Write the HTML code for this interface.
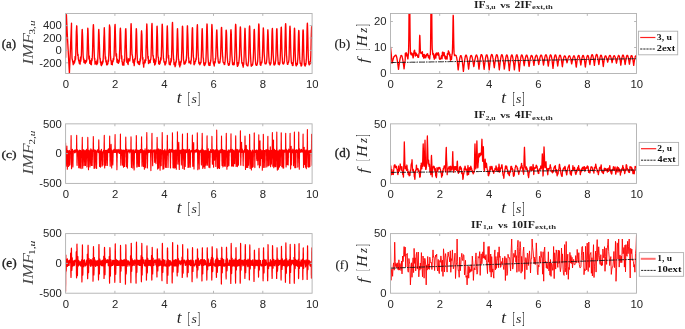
<!DOCTYPE html>
<html><head><meta charset="utf-8"><style>
html,body{margin:0;padding:0;background:#fff;}
svg{display:block;}
.tk{font-family:"Liberation Sans",sans-serif;font-size:11.3px;fill:#262626;}
</style></head><body>
<svg style="will-change:transform;filter:blur(0.4px)" width="685" height="329" viewBox="0 0 685 329">
<defs><clipPath id="c00"><rect x="65.6" y="13.5" width="246.50" height="60.00"/></clipPath><clipPath id="c01"><rect x="65.6" y="123.85" width="246.50" height="59.55"/></clipPath><clipPath id="c02"><rect x="65.6" y="233.6" width="246.50" height="59.60"/></clipPath><clipPath id="c10"><rect x="390.5" y="13.5" width="246.00" height="60.00"/></clipPath><clipPath id="c11"><rect x="390.5" y="123.85" width="246.00" height="59.55"/></clipPath><clipPath id="c12"><rect x="390.5" y="233.6" width="246.00" height="59.60"/></clipPath></defs>
<rect width="685" height="329" fill="#fff"/>
<g clip-path="url(#c00)"><polyline points="65.6,57.8 65.7,51.8 65.8,45.7 65.9,39.7 66.0,33.6 66.1,27.6 66.2,21.5 66.3,15.5 66.4,14.6 66.5,16.8 66.6,19.0 66.7,21.2 66.8,23.4 66.9,25.6 67.0,27.8 67.1,30.0 67.2,32.2 67.3,34.4 67.4,36.3 67.5,38.2 67.6,40.0 67.7,41.9 67.8,43.7 67.9,45.5 68.0,47.4 68.1,49.2 68.2,51.1 68.3,52.9 68.4,54.7 68.5,56.6 68.6,58.4 68.7,60.3 68.8,62.1 68.9,63.9 69.0,65.8 69.1,67.6 69.2,69.5 69.3,71.3 69.4,73.1 69.5,71.2 69.6,68.8 69.7,66.4 69.8,64.0 69.9,61.6 70.0,59.2 70.1,56.8 70.2,54.4 70.3,52.0 70.4,49.6 70.5,47.2 70.6,44.8 70.7,42.4 70.8,40.0 70.9,37.6 71.0,35.2 71.1,32.8 71.2,30.4 71.3,28.0 71.4,25.6 71.5,23.2 71.6,39.5 71.7,44.7 71.8,48.4 71.9,52.9 72.0,57.3 72.1,58.9 72.2,59.0 72.3,59.3 72.4,60.0 72.5,60.4 72.6,61.1 72.7,61.8 72.8,62.0 72.9,62.6 73.0,63.0 73.1,63.5 73.2,64.7 73.3,64.1 73.4,62.4 73.5,62.8 73.6,63.6 73.7,63.7 73.8,63.8 73.9,61.4 74.0,61.5 74.1,61.9 74.2,61.8 74.3,60.8 74.4,61.7 74.5,62.9 74.6,62.2 74.7,61.4 74.8,61.5 74.9,61.3 75.0,58.4 75.1,56.5 75.2,58.7 75.3,59.9 75.4,59.4 75.5,59.4 75.6,59.3 75.7,56.9 75.8,52.8 75.9,48.7 76.0,44.9 76.1,41.9 76.2,36.8 76.3,31.8 76.4,30.5 76.5,29.3 76.6,27.0 76.7,25.8 76.8,26.1 76.9,28.7 77.0,32.3 77.1,34.3 77.2,36.2 77.3,42.2 77.4,49.2 77.5,52.4 77.6,54.1 77.7,55.5 77.8,55.6 77.9,54.6 78.0,54.2 78.1,55.3 78.2,57.2 78.3,59.0 78.4,59.4 78.5,59.3 78.6,60.1 78.7,60.6 78.8,60.0 78.9,60.4 79.0,61.4 79.1,62.1 79.2,62.3 79.3,63.2 79.4,63.5 79.5,62.0 79.6,61.0 79.7,61.4 79.8,60.9 79.9,60.9 80.0,62.5 80.1,64.1 80.2,63.0 80.3,60.6 80.4,58.8 80.5,57.2 80.6,57.5 80.7,59.9 80.8,61.2 80.9,60.2 81.0,59.1 81.1,58.3 81.2,57.3 81.3,56.3 81.4,54.3 81.5,50.7 81.6,46.8 81.7,42.8 81.8,39.0 81.9,35.9 82.0,33.1 82.1,30.9 82.2,29.5 82.3,30.0 82.4,32.3 82.5,34.0 82.6,35.7 82.7,39.2 82.8,43.0 82.9,47.1 83.0,51.7 83.1,54.7 83.2,56.3 83.3,57.1 83.4,58.2 83.5,59.4 83.6,59.5 83.7,58.6 83.8,59.7 83.9,62.2 84.0,62.5 84.1,61.9 84.2,62.0 84.3,62.0 84.4,61.1 84.5,60.2 84.6,60.7 84.7,61.2 84.8,61.7 84.9,62.2 85.0,61.9 85.1,63.1 85.2,63.6 85.3,63.3 85.4,62.7 85.5,62.2 85.6,62.7 85.7,62.6 85.8,61.2 85.9,60.5 86.0,60.4 86.2,60.7 86.3,61.3 86.4,61.8 86.5,61.3 86.6,60.3 86.7,60.4 86.8,60.2 86.9,58.3 87.0,55.7 87.1,52.4 87.2,49.4 87.3,45.7 87.4,40.6 87.5,37.2 87.6,34.5 87.7,30.1 87.8,28.1 87.9,29.1 88.0,29.9 88.1,32.7 88.2,36.5 88.3,40.2 88.4,43.9 88.5,46.2 88.6,49.9 88.7,54.3 88.8,57.4 88.9,59.0 89.0,57.7 89.1,55.8 89.2,55.9 89.3,56.4 89.4,57.2 89.5,58.6 89.6,60.4 89.7,62.7 89.8,63.4 89.9,62.9 90.0,63.0 90.1,62.7 90.2,61.2 90.3,60.6 90.4,61.9 90.5,62.6 90.6,63.2 90.7,64.2 90.8,64.1 90.9,62.6 91.0,60.7 91.1,61.0 91.2,62.4 91.3,64.0 91.4,64.7 91.5,62.1 91.6,60.0 91.7,59.7 91.8,58.5 91.9,58.9 92.0,60.7 92.1,59.6 92.2,58.0 92.3,57.4 92.4,55.5 92.5,53.0 92.6,50.3 92.7,45.3 92.8,40.2 92.9,36.3 93.0,31.6 93.1,29.0 93.2,27.5 93.3,25.4 93.4,24.6 93.5,25.7 93.6,28.0 93.7,31.1 93.8,35.4 93.9,40.3 94.0,45.0 94.1,48.8 94.2,51.4 94.3,54.9 94.4,58.3 94.5,59.3 94.6,58.1 94.7,58.1 94.8,59.6 94.9,61.3 95.0,63.1 95.1,64.2 95.2,63.7 95.3,62.6 95.4,62.7 95.5,63.0 95.6,62.1 95.7,61.6 95.8,61.8 95.9,61.9 96.0,62.6 96.1,63.5 96.2,63.1 96.3,62.9 96.4,63.3 96.5,63.6 96.6,63.1 96.7,63.6 96.8,64.6 96.9,64.4 97.0,62.7 97.1,60.7 97.2,59.9 97.3,60.9 97.4,62.9 97.5,63.4 97.6,62.7 97.7,61.2 97.8,58.4 97.9,56.3 98.0,54.0 98.1,51.0 98.2,48.3 98.3,45.0 98.4,40.4 98.5,35.7 98.6,32.2 98.7,29.8 98.8,29.4 98.9,31.4 99.0,32.9 99.1,35.1 99.2,39.1 99.3,42.1 99.4,44.3 99.5,47.3 99.6,51.3 99.7,55.3 99.8,57.6 99.9,58.5 100.0,59.2 100.1,58.6 100.2,58.4 100.3,60.5 100.4,62.5 100.5,62.8 100.6,62.5 100.7,62.6 100.8,62.8 100.9,63.6 101.0,65.0 101.1,64.9 101.2,64.1 101.3,64.8 101.4,65.6 101.5,65.6 101.6,64.7 101.7,64.2 101.8,64.1 101.9,62.7 102.0,61.6 102.1,62.0 102.2,62.0 102.3,62.8 102.4,64.0 102.5,63.6 102.6,62.2 102.7,61.0 102.8,60.7 102.9,60.1 103.0,61.1 103.1,62.0 103.2,59.0 103.3,56.2 103.4,54.7 103.5,52.3 103.6,49.5 103.7,45.9 103.8,41.7 103.9,37.9 104.0,36.1 104.1,34.2 104.2,29.6 104.3,27.7 104.4,29.9 104.5,32.5 104.6,35.8 104.7,39.7 104.8,42.6 104.9,46.5 105.0,51.5 105.1,54.4 105.2,57.0 105.3,58.9 105.4,57.2 105.5,56.6 105.6,57.7 105.7,58.2 105.8,60.1 105.9,61.6 106.0,61.5 106.1,62.1 106.2,62.1 106.3,61.1 106.4,60.9 106.5,62.4 106.6,64.8 106.7,64.7 106.8,63.3 106.9,63.5 107.0,64.4 107.1,64.6 107.2,64.9 107.3,64.2 107.4,63.2 107.5,63.9 107.6,64.3 107.7,63.3 107.8,63.1 107.9,63.7 108.0,62.6 108.1,60.7 108.2,59.9 108.3,60.5 108.4,61.5 108.5,61.1 108.6,59.5 108.7,57.1 108.8,54.6 108.9,51.4 109.0,46.7 109.1,40.5 109.2,35.1 109.3,31.8 109.4,27.8 109.5,25.0 109.6,25.8 109.7,26.6 109.8,26.7 109.9,26.9 110.0,28.7 110.1,33.5 110.2,39.1 110.3,45.8 110.4,52.8 110.5,56.0 110.6,56.3 110.7,58.4 110.8,60.2 110.9,60.4 111.0,60.9 111.1,60.2 111.2,60.7 111.3,63.5 111.4,64.4 111.5,63.8 111.6,63.9 111.7,63.9 111.8,64.0 111.9,63.4 112.0,63.4 112.1,64.4 112.2,64.6 112.3,64.7 112.4,62.9 112.5,62.4 112.6,61.3 112.7,61.3 112.8,61.2 112.9,60.3 113.0,61.1 113.1,61.6 113.2,59.5 113.3,58.4 113.4,59.4 113.5,59.7 113.6,59.4 113.7,59.8 113.8,59.1 113.9,57.1 114.0,56.1 114.1,54.7 114.2,52.1 114.3,48.7 114.4,44.2 114.5,40.2 114.6,36.9 114.7,32.0 114.8,27.3 114.9,25.9 115.0,25.1 115.1,24.4 115.2,27.1 115.3,30.7 115.4,33.7 115.5,38.2 115.6,42.4 115.7,45.8 115.8,49.9 115.9,53.7 116.0,56.0 116.1,56.0 116.2,54.7 116.3,54.3 116.4,53.7 116.5,54.1 116.6,56.9 116.7,58.2 116.8,59.0 116.9,61.2 117.0,62.3 117.1,61.1 117.2,59.9 117.3,59.9 117.4,60.1 117.5,59.4 117.6,59.8 117.7,60.8 117.8,61.4 117.9,61.7 118.0,62.9 118.1,62.0 118.2,60.3 118.3,61.4 118.4,63.4 118.5,63.0 118.6,62.3 118.7,62.2 118.8,62.5 118.9,62.1 119.0,61.2 119.1,61.5 119.2,61.4 119.3,60.3 119.4,58.2 119.5,54.8 119.6,52.0 119.7,49.7 119.8,46.3 119.9,41.1 120.0,35.9 120.1,32.4 120.2,30.1 120.3,28.7 120.4,28.1 120.5,29.3 120.6,31.4 120.7,33.3 120.8,37.5 120.9,41.6 121.0,44.5 121.1,48.6 121.2,52.9 121.3,56.7 121.4,58.6 121.5,57.3 121.6,55.8 121.7,55.7 121.8,56.6 121.9,59.6 122.0,61.7 122.1,61.7 122.2,61.6 122.3,62.0 122.4,63.1 122.5,64.4 122.6,65.0 122.7,64.7 122.8,64.4 122.9,63.9 123.0,63.0 123.1,64.7 123.2,64.3 123.3,62.4 123.4,63.5 123.5,64.3 123.6,62.3 123.7,62.2 123.8,64.4 123.9,65.2 124.0,63.0 124.1,59.8 124.2,59.1 124.3,60.0 124.4,60.1 124.5,60.5 124.6,61.2 124.7,60.4 124.8,57.0 124.9,51.4 125.0,46.9 125.1,44.2 125.2,40.8 125.3,37.4 125.4,34.5 125.5,31.1 125.6,29.3 125.7,28.9 125.8,28.7 125.9,29.6 126.0,31.6 126.1,35.1 126.2,40.3 126.3,45.3 126.4,49.0 126.5,52.1 126.6,55.3 126.7,59.6 126.8,62.3 126.9,60.2 127.0,57.7 127.1,58.9 127.3,60.9 127.4,61.5 127.5,62.0 127.6,62.8 127.7,63.5 127.8,63.4 127.9,63.4 128.0,64.3 128.1,64.6 128.2,63.3 128.3,62.1 128.4,62.1 128.5,60.5 128.6,59.6 128.7,58.8 128.8,59.6 128.9,59.5 129.0,59.2 129.1,60.4 129.2,60.7 129.3,59.6 129.4,59.1 129.5,59.8 129.6,60.3 129.7,60.9 129.8,60.9 129.9,59.4 130.0,59.1 130.1,58.7 130.2,56.3 130.3,53.7 130.4,49.7 130.5,44.8 130.6,39.9 130.7,35.4 130.8,32.1 130.9,28.5 131.0,25.0 131.1,23.6 131.2,24.7 131.3,27.7 131.4,31.3 131.5,34.8 131.6,38.9 131.7,43.8 131.8,47.9 131.9,51.4 132.0,54.4 132.1,55.3 132.2,55.1 132.3,55.7 132.4,55.9 132.5,56.2 132.6,57.8 132.7,59.3 132.8,60.0 132.9,60.9 133.0,62.3 133.1,62.6 133.2,62.4 133.3,62.3 133.4,62.8 133.5,62.8 133.6,61.3 133.7,59.9 133.8,61.8 133.9,61.9 134.0,62.1 134.1,64.3 134.2,65.6 134.3,64.6 134.4,63.0 134.5,61.1 134.6,61.0 134.7,61.5 134.8,59.5 134.9,58.5 135.0,59.8 135.1,59.7 135.2,58.6 135.3,58.9 135.4,58.4 135.5,56.3 135.6,53.4 135.7,49.0 135.8,44.4 135.9,40.0 136.0,36.3 136.1,33.0 136.2,29.9 136.3,28.6 136.4,29.0 136.5,30.7 136.6,33.0 136.7,36.2 136.8,40.2 136.9,45.4 137.0,50.8 137.1,53.8 137.2,55.2 137.3,57.5 137.4,61.0 137.5,62.6 137.6,61.6 137.7,61.1 137.8,62.1 137.9,62.7 138.0,61.9 138.1,61.4 138.2,62.4 138.3,63.6 138.4,63.5 138.5,63.9 138.6,64.1 138.7,62.9 138.8,62.8 138.9,62.9 139.0,62.1 139.1,61.8 139.2,61.8 139.3,61.7 139.4,62.9 139.5,64.5 139.6,64.0 139.7,63.1 139.8,63.5 139.9,62.9 140.0,60.8 140.1,58.9 140.2,58.7 140.3,60.2 140.4,60.9 140.5,59.8 140.6,58.4 140.7,56.3 140.8,52.8 140.9,50.0 141.0,46.6 141.1,41.9 141.2,37.8 141.3,35.0 141.4,33.0 141.5,31.2 141.6,30.8 141.7,32.5 141.8,33.6 141.9,34.5 142.0,38.4 142.1,42.8 142.2,46.6 142.3,50.9 142.4,55.0 142.5,58.2 142.6,59.2 142.7,58.5 142.8,57.3 142.9,57.8 143.0,60.9 143.1,63.7 143.2,63.9 143.3,62.8 143.4,62.6 143.5,63.9 143.6,66.4 143.7,67.1 143.8,65.5 143.9,64.4 144.0,64.1 144.1,63.6 144.2,62.4 144.3,63.4 144.4,63.1 144.5,62.1 144.6,61.8 144.7,60.9 144.8,60.0 144.9,61.0 145.0,62.3 145.1,62.8 145.2,62.2 145.3,61.0 145.4,60.7 145.5,60.6 145.6,59.9 145.7,59.7 145.8,60.5 145.9,57.7 146.0,50.8 146.1,46.3 146.2,44.2 146.3,41.3 146.4,35.9 146.5,31.1 146.6,29.4 146.7,26.5 146.8,24.0 146.9,24.7 147.0,27.2 147.1,30.0 147.2,33.9 147.3,40.6 147.4,46.2 147.5,48.6 147.6,51.1 147.7,54.2 147.8,56.4 147.9,58.3 148.0,58.4 148.1,56.6 148.2,56.3 148.3,58.5 148.4,61.5 148.5,63.5 148.6,63.5 148.7,62.3 148.8,61.2 148.9,61.8 149.0,62.9 149.1,62.3 149.2,61.7 149.3,61.8 149.4,61.0 149.5,60.9 149.6,60.5 149.7,60.5 149.8,61.0 149.9,61.3 150.0,61.0 150.1,61.8 150.2,62.6 150.3,61.3 150.4,60.0 150.5,59.4 150.6,59.7 150.7,59.8 150.8,59.0 150.9,58.1 151.0,57.4 151.1,54.7 151.2,50.4 151.3,47.5 151.4,43.3 151.5,37.5 151.6,33.0 151.7,29.1 151.8,25.9 151.9,24.2 152.0,23.5 152.1,24.6 152.2,29.0 152.3,33.4 152.4,37.7 152.5,42.1 152.6,45.2 152.7,48.7 152.8,53.3 152.9,56.1 153.0,56.4 153.1,55.9 153.2,55.5 153.3,56.6 153.4,58.9 153.5,60.3 153.6,60.8 153.7,61.6 153.8,62.3 153.9,61.7 154.0,61.3 154.1,61.5 154.2,60.7 154.3,59.4 154.4,59.2 154.5,60.1 154.6,64.3 154.7,65.0 154.8,64.3 154.9,63.8 155.0,64.0 155.1,63.6 155.2,62.8 155.3,63.3 155.4,64.0 155.5,63.0 155.6,61.2 155.7,60.7 155.8,61.8 155.9,61.7 156.0,60.4 156.1,59.6 156.2,58.4 156.3,55.2 156.4,50.5 156.5,45.5 156.6,40.9 156.7,37.6 156.8,33.7 156.9,28.9 157.0,26.5 157.1,26.1 157.2,27.5 157.3,30.5 157.4,33.5 157.5,36.4 157.6,40.4 157.7,46.9 157.8,53.2 157.9,55.5 158.0,56.2 158.1,57.3 158.2,57.6 158.3,57.1 158.4,57.7 158.5,59.3 158.6,61.8 158.7,63.8 158.8,63.3 158.9,63.1 159.0,63.7 159.1,63.3 159.2,63.4 159.3,64.1 159.4,64.2 159.5,64.0 159.6,63.9 159.7,61.4 159.8,62.0 159.9,63.0 160.0,63.2 160.1,63.2 160.2,62.3 160.3,61.2 160.4,61.1 160.5,61.0 160.6,59.3 160.7,57.7 160.8,57.8 160.9,58.7 161.0,60.1 161.1,59.7 161.2,57.8 161.3,55.8 161.4,52.2 161.5,48.5 161.6,45.3 161.7,40.7 161.8,36.6 161.9,33.1 162.0,29.1 162.1,25.7 162.2,24.1 162.3,24.5 162.4,26.1 162.5,29.0 162.6,32.4 162.7,37.1 162.8,42.1 162.9,46.2 163.0,49.5 163.1,51.8 163.2,54.0 163.3,56.4 163.4,58.2 163.5,59.0 163.6,58.5 163.7,58.7 163.8,60.0 163.9,61.2 164.0,62.0 164.1,62.3 164.2,61.9 164.3,62.0 164.4,62.5 164.5,62.3 164.6,62.5 164.7,62.5 164.8,64.2 164.9,64.4 165.0,65.0 165.1,64.9 165.2,64.6 165.3,63.4 165.4,62.0 165.5,63.0 165.6,64.0 165.7,63.4 165.8,63.3 165.9,63.2 166.0,62.0 166.1,61.6 166.2,61.7 166.3,60.2 166.4,57.8 166.5,54.1 166.6,49.5 166.7,45.0 166.8,40.9 166.9,36.7 167.0,32.3 167.1,29.2 167.2,26.8 167.3,25.9 167.4,27.7 167.5,30.3 167.6,33.1 167.7,37.7 167.8,42.9 167.9,46.7 168.0,49.8 168.1,54.4 168.2,58.0 168.4,57.3 168.5,55.2 168.6,55.4 168.7,57.6 168.8,59.7 168.9,60.8 169.0,61.9 169.1,63.4 169.2,64.1 169.3,63.1 169.4,63.3 169.5,64.5 169.6,64.3 169.7,63.5 169.8,63.2 169.9,62.8 170.0,62.8 170.1,63.1 170.2,64.3 170.3,64.8 170.4,63.3 170.5,61.7 170.6,61.7 170.7,62.9 170.8,62.5 170.9,59.9 171.0,58.4 171.1,58.9 171.2,60.4 171.3,61.1 171.4,60.2 171.5,58.4 171.6,55.5 171.7,51.6 171.8,48.2 171.9,44.3 172.0,38.4 172.1,32.3 172.2,28.2 172.3,25.3 172.4,23.0 172.5,22.4 172.6,24.3 172.7,28.2 172.8,32.3 172.9,37.2 173.0,43.1 173.1,48.1 173.2,51.9 173.3,54.5 173.4,55.9 173.5,58.0 173.6,59.5 173.7,59.1 173.8,59.6 173.9,62.1 174.0,64.0 174.1,64.5 174.2,64.3 174.3,63.6 174.4,63.7 174.5,64.7 174.6,63.9 174.7,62.9 174.8,63.8 174.9,64.7 175.0,66.0 175.1,66.7 175.2,64.9 175.3,63.5 175.4,64.9 175.5,65.8 175.6,64.7 175.7,63.6 175.8,62.6 175.9,61.8 176.0,61.3 176.1,61.5 176.2,62.2 176.3,61.5 176.4,60.1 176.5,58.2 176.6,56.0 176.7,54.0 176.8,51.0 176.9,47.9 177.0,44.0 177.1,38.6 177.2,34.4 177.3,31.7 177.4,29.3 177.5,28.6 177.6,30.0 177.7,33.4 177.8,36.9 177.9,39.3 178.0,43.0 178.1,48.0 178.2,52.4 178.3,55.7 178.4,58.1 178.5,60.0 178.6,60.1 178.7,59.2 178.8,60.4 178.9,62.3 179.0,63.3 179.1,64.5 179.2,64.9 179.3,63.7 179.4,63.0 179.5,63.0 179.6,63.3 179.7,65.7 179.8,66.9 179.9,64.8 180.0,61.9 180.1,62.3 180.2,63.5 180.3,63.6 180.4,64.0 180.5,65.0 180.6,64.9 180.7,63.6 180.8,62.6 180.9,62.2 181.0,61.4 181.1,61.9 181.2,62.1 181.3,60.6 181.4,59.9 181.5,57.6 181.6,54.5 181.7,52.8 181.8,49.4 181.9,44.0 182.0,39.8 182.1,36.8 182.2,33.0 182.3,29.0 182.4,26.4 182.5,26.1 182.6,26.5 182.7,27.9 182.8,31.1 182.9,35.4 183.0,41.1 183.1,46.7 183.2,50.1 183.3,53.4 183.4,57.1 183.5,59.7 183.6,60.7 183.7,60.5 183.8,60.9 183.9,62.7 184.0,64.0 184.1,63.8 184.2,63.3 184.3,63.6 184.4,63.3 184.5,62.7 184.6,63.1 184.7,63.6 184.8,64.0 184.9,63.7 185.0,61.9 185.1,62.2 185.2,62.9 185.3,63.3 185.4,63.0 185.5,62.3 185.6,61.3 185.7,61.5 185.8,62.1 185.9,61.1 186.0,59.8 186.1,59.5 186.2,60.4 186.3,60.5 186.4,58.1 186.5,56.3 186.6,55.4 186.7,52.7 186.8,48.3 186.9,43.8 187.0,38.7 187.1,33.4 187.2,29.6 187.3,27.6 187.4,25.8 187.5,26.0 187.6,29.1 187.7,32.2 187.8,34.4 187.9,37.0 188.0,40.5 188.1,44.9 188.2,49.2 188.3,53.0 188.4,56.5 188.5,58.1 188.6,57.9 188.7,57.7 188.8,60.2 188.9,62.8 189.0,62.3 189.1,62.1 189.2,62.2 189.3,62.3 189.4,62.1 189.5,61.7 189.6,62.3 189.7,62.4 189.8,61.5 189.9,61.5 190.0,62.6 190.1,62.7 190.2,62.5 190.3,61.8 190.4,62.0 190.5,62.5 190.6,62.9 190.7,63.9 190.8,63.7 190.9,62.1 191.0,60.6 191.1,59.9 191.2,60.4 191.3,60.3 191.4,57.9 191.5,54.7 191.6,51.6 191.7,48.9 191.8,45.4 191.9,40.6 192.0,36.5 192.1,33.4 192.2,30.8 192.3,28.7 192.4,27.8 192.5,27.7 192.6,28.8 192.7,33.0 192.8,38.6 192.9,43.5 193.0,47.0 193.1,49.9 193.2,53.1 193.3,55.9 193.4,57.3 193.5,57.6 193.6,57.6 193.7,58.5 193.8,60.7 193.9,62.9 194.0,64.6 194.1,64.9 194.2,64.5 194.3,64.1 194.4,63.0 194.5,62.5 194.6,63.2 194.7,63.8 194.8,63.6 194.9,62.3 195.0,62.2 195.1,61.8 195.2,61.5 195.3,61.4 195.4,61.4 195.5,61.7 195.6,61.1 195.7,60.0 195.8,59.4 195.9,58.7 196.0,58.9 196.1,59.7 196.2,59.5 196.3,58.0 196.4,55.4 196.5,52.4 196.6,48.2 196.7,43.3 196.8,38.9 196.9,34.6 197.0,30.8 197.1,28.2 197.2,26.8 197.3,25.4 197.4,24.7 197.5,27.0 197.6,30.9 197.7,35.0 197.8,39.7 197.9,45.1 198.0,49.3 198.1,51.7 198.2,54.1 198.3,56.4 198.4,57.4 198.5,57.9 198.6,59.3 198.7,61.6 198.8,62.8 198.9,63.1 199.0,63.6 199.1,63.6 199.2,63.3 199.3,63.0 199.4,62.5 199.5,62.4 199.6,62.7 199.7,63.1 199.8,64.8 199.9,63.9 200.0,63.9 200.1,64.2 200.2,64.0 200.3,63.8 200.4,63.4 200.5,63.0 200.6,63.3 200.7,62.8 200.8,62.1 200.9,62.5 201.0,62.4 201.1,60.6 201.2,58.6 201.3,56.4 201.4,53.3 201.5,50.0 201.6,46.1 201.7,42.0 201.8,38.4 201.9,34.8 202.0,32.0 202.1,29.8 202.2,28.6 202.3,29.9 202.4,32.2 202.5,35.0 202.6,39.1 202.7,43.6 202.8,47.2 202.9,50.2 203.0,53.5 203.1,56.7 203.2,58.2 203.3,58.0 203.4,58.4 203.5,60.1 203.6,61.8 203.7,63.0 203.8,64.1 203.9,63.7 204.0,63.9 204.1,65.3 204.2,64.6 204.3,63.0 204.4,63.6 204.5,65.2 204.6,65.6 204.7,65.3 204.8,65.3 204.9,64.2 205.0,63.0 205.1,63.4 205.2,64.2 205.3,64.1 205.4,63.3 205.5,63.3 205.6,63.1 205.7,62.4 205.8,62.4 205.9,61.5 206.0,58.6 206.1,55.8 206.2,53.4 206.3,49.6 206.4,44.6 206.5,39.8 206.6,35.1 206.7,30.9 206.8,27.8 206.9,25.2 207.0,24.0 207.1,24.2 207.2,26.3 207.3,30.6 207.4,34.1 207.5,37.1 207.6,42.0 207.7,47.3 207.8,50.9 207.9,54.1 208.0,57.1 208.1,58.7 208.2,59.9 208.3,61.3 208.4,62.1 208.5,63.0 208.6,64.3 208.7,64.4 208.8,64.2 208.9,65.2 209.0,65.3 209.1,64.2 209.2,64.0 209.3,64.1 209.5,64.4 209.6,63.9 209.7,63.0 209.8,64.1 209.9,65.3 210.0,65.5 210.1,64.5 210.2,63.4 210.3,63.4 210.4,63.2 210.5,61.7 210.6,60.1 210.7,60.6 210.8,61.3 210.9,59.8 211.0,57.5 211.1,54.4 211.2,50.7 211.3,46.5 211.4,42.1 211.5,38.3 211.6,33.7 211.7,28.8 211.8,25.7 211.9,24.5 212.0,25.1 212.1,27.4 212.2,29.2 212.3,31.6 212.4,36.4 212.5,41.9 212.6,46.9 212.7,51.0 212.8,54.3 212.9,57.1 213.0,59.1 213.1,60.7 213.2,61.8 213.3,62.6 213.4,63.3 213.5,63.5 213.6,63.2 213.7,63.6 213.8,64.4 213.9,64.4 214.0,64.3 214.1,65.2 214.2,66.0 214.3,65.3 214.4,62.4 214.5,62.3 214.6,61.7 214.7,62.2 214.8,63.2 214.9,62.2 215.0,61.4 215.1,62.4 215.2,62.5 215.3,60.3 215.4,58.4 215.5,58.5 215.6,59.1 215.7,58.3 215.8,56.1 215.9,52.8 216.0,49.6 216.1,46.8 216.2,43.3 216.3,39.8 216.4,36.6 216.5,34.1 216.6,31.8 216.7,30.2 216.8,29.9 216.9,30.7 217.0,33.0 217.1,36.0 217.2,39.5 217.3,43.4 217.4,46.7 217.5,48.9 217.6,51.7 217.7,55.3 217.8,56.8 217.9,57.3 218.0,58.5 218.1,59.9 218.2,61.5 218.3,61.8 218.4,62.0 218.5,63.0 218.6,62.6 218.7,62.2 218.8,62.5 218.9,62.1 219.0,62.0 219.1,62.0 219.2,62.2 219.3,62.6 219.4,62.5 219.5,62.6 219.6,63.1 219.7,62.9 219.8,62.4 219.9,62.2 220.0,62.3 220.1,61.2 220.2,59.5 220.3,58.9 220.4,58.9 220.5,58.0 220.6,56.3 220.7,53.2 220.8,49.3 220.9,45.5 221.0,42.2 221.1,39.1 221.2,34.6 221.3,30.0 221.4,28.0 221.5,27.4 221.6,27.4 221.7,29.3 221.8,32.5 221.9,35.4 222.0,37.8 222.1,41.7 222.2,46.9 222.3,50.4 222.4,52.2 222.5,54.4 222.6,56.4 222.7,56.5 222.8,57.6 222.9,60.3 223.0,61.5 223.1,61.7 223.2,62.1 223.3,62.5 223.4,62.6 223.5,62.5 223.6,62.3 223.7,62.3 223.8,63.1 223.9,63.0 224.0,63.5 224.1,63.0 224.2,63.7 224.3,64.6 224.4,64.3 224.5,63.3 224.6,63.6 224.7,64.3 224.8,63.5 224.9,62.4 225.0,62.2 225.1,61.6 225.2,59.8 225.3,57.9 225.4,56.3 225.5,53.7 225.6,49.6 225.7,44.7 225.8,40.1 225.9,36.2 226.0,32.5 226.1,30.3 226.2,30.1 226.3,30.7 226.4,31.4 226.5,32.9 226.6,35.1 226.7,37.9 226.8,41.7 226.9,46.7 227.0,50.6 227.1,52.9 227.2,55.6 227.3,57.6 227.4,58.5 227.5,59.7 227.6,61.0 227.7,62.1 227.8,62.6 227.9,63.0 228.0,63.3 228.1,63.6 228.2,64.4 228.3,64.8 228.4,64.9 228.5,65.2 228.6,64.9 228.7,64.2 228.8,63.9 228.9,64.5 229.0,65.2 229.1,64.3 229.2,63.8 229.3,64.9 229.4,64.7 229.5,63.7 229.6,62.9 229.7,61.9 229.8,61.4 229.9,60.9 230.0,58.8 230.1,56.4 230.2,53.9 230.3,49.8 230.4,45.4 230.5,41.6 230.6,37.7 230.7,34.3 230.8,31.8 230.9,29.9 231.0,29.8 231.1,31.0 231.2,32.2 231.3,34.4 231.4,38.2 231.5,42.5 231.6,46.0 231.7,49.4 231.8,52.8 231.9,55.1 232.0,56.5 232.1,57.7 232.2,59.1 232.3,60.8 232.4,62.3 232.5,63.6 232.6,64.4 232.7,64.3 232.8,64.1 232.9,63.9 233.0,64.2 233.1,64.9 233.2,64.8 233.3,64.1 233.4,64.2 233.5,63.7 233.6,62.9 233.7,63.3 233.8,64.1 233.9,63.8 234.0,63.5 234.1,64.2 234.2,64.6 234.3,63.3 234.4,61.5 234.5,60.6 234.6,60.0 234.7,57.5 234.8,54.2 234.9,50.7 235.0,46.7 235.1,41.9 235.2,36.8 235.3,32.4 235.4,28.6 235.5,26.0 235.6,24.6 235.7,24.3 235.8,25.2 235.9,26.9 236.0,30.0 236.1,35.2 236.2,40.3 236.3,43.8 236.4,47.2 236.5,51.0 236.6,54.4 236.7,57.2 236.8,59.8 236.9,62.1 237.0,64.2 237.1,64.5 237.2,64.5 237.3,65.6 237.4,66.4 237.5,65.7 237.6,64.5 237.7,63.3 237.8,62.6 237.9,63.6 238.0,65.6 238.1,64.8 238.2,63.5 238.3,63.1 238.4,64.0 238.5,64.1 238.6,63.6 238.7,63.3 238.8,62.8 238.9,61.7 239.0,60.5 239.1,60.0 239.2,58.8 239.3,57.5 239.4,56.5 239.5,54.0 239.6,49.4 239.7,44.8 239.8,40.9 239.9,37.2 240.0,33.6 240.1,30.5 240.2,28.5 240.3,27.1 240.4,27.0 240.5,28.1 240.6,30.0 240.7,33.5 240.8,37.9 240.9,42.3 241.0,46.7 241.1,49.3 241.2,51.5 241.3,54.3 241.4,56.1 241.5,57.2 241.6,58.9 241.7,61.0 241.8,62.3 241.9,63.1 242.0,63.4 242.1,63.3 242.2,63.7 242.3,63.6 242.4,62.7 242.5,63.1 242.6,63.8 242.7,65.4 242.8,65.2 242.9,65.2 243.0,65.3 243.1,66.5 243.2,67.1 243.3,66.1 243.4,65.0 243.5,64.7 243.6,64.8 243.7,64.1 243.8,62.8 243.9,61.4 244.0,59.3 244.1,56.6 244.2,53.2 244.3,49.0 244.4,45.3 244.5,41.4 244.6,37.5 244.7,34.1 244.8,30.9 244.9,28.8 245.0,28.3 245.1,29.7 245.2,32.0 245.3,35.1 245.4,39.1 245.5,42.9 245.6,46.4 245.7,50.7 245.8,55.0 245.9,57.5 246.0,58.2 246.1,59.9 246.2,62.4 246.3,64.0 246.4,64.5 246.5,64.6 246.6,64.9 246.7,64.9 246.8,65.1 246.9,65.1 247.0,65.1 247.1,65.5 247.2,65.7 247.3,65.8 247.4,65.8 247.5,65.6 247.6,65.8 247.7,65.9 247.8,65.9 247.9,65.8 248.0,65.3 248.1,64.4 248.2,63.7 248.3,62.5 248.4,61.9 248.5,61.9 248.6,60.4 248.7,57.2 248.8,52.5 248.9,47.5 249.0,42.9 249.1,38.7 249.2,34.4 249.3,30.0 249.4,27.3 249.5,26.3 249.6,26.0 249.7,26.5 249.8,28.6 249.9,31.7 250.0,35.3 250.1,39.7 250.2,44.3 250.3,48.5 250.4,53.1 250.6,56.7 250.7,58.6 250.8,60.3 250.9,62.1 251.0,63.8 251.1,64.9 251.2,65.9 251.3,66.2 251.4,65.9 251.5,66.0 251.6,65.8 251.7,65.4 251.8,64.9 251.9,64.7 252.0,64.8 252.1,65.3 252.2,64.5 252.3,64.1 252.4,64.8 252.5,65.1 252.6,64.6 252.7,64.5 252.8,63.8 252.9,62.5 253.0,61.8 253.1,61.2 253.2,59.8 253.3,57.9 253.4,55.4 253.5,52.4 253.6,48.8 253.7,45.1 253.8,40.7 253.9,35.9 254.0,32.4 254.1,30.5 254.2,29.6 254.3,29.4 254.4,30.4 254.5,32.5 254.6,35.1 254.7,38.7 254.8,43.0 254.9,47.0 255.0,50.1 255.1,53.1 255.2,56.2 255.3,58.5 255.4,59.7 255.5,60.8 255.6,62.5 255.7,63.7 255.8,64.5 255.9,64.7 256.0,64.6 256.1,65.1 256.2,65.0 256.3,65.0 256.4,65.3 256.5,64.7 256.6,64.8 256.7,65.2 256.8,65.4 256.9,64.9 257.0,64.5 257.1,64.4 257.2,64.0 257.3,63.7 257.4,63.1 257.5,62.1 257.6,61.8 257.7,61.0 257.8,58.8 257.9,55.7 258.0,51.9 258.1,47.9 258.2,43.9 258.3,39.5 258.4,35.1 258.5,31.1 258.6,27.4 258.7,24.8 258.8,24.0 258.9,24.4 259.0,25.9 259.1,28.9 259.2,33.1 259.3,37.8 259.4,41.9 259.5,46.2 259.6,50.5 259.7,54.5 259.8,57.4 259.9,58.7 260.0,60.6 260.1,63.1 260.2,64.5 260.3,64.6 260.4,64.6 260.5,65.0 260.6,64.7 260.7,64.5 260.8,65.1 260.9,65.2 261.0,64.6 261.1,62.8 261.2,62.7 261.3,62.1 261.4,62.6 261.5,63.1 261.6,63.1 261.7,63.1 261.8,62.8 261.9,62.3 262.0,61.6 262.1,60.4 262.2,59.4 262.3,58.2 262.4,56.2 262.5,53.5 262.6,50.4 262.7,47.0 262.8,43.3 262.9,39.3 263.0,35.7 263.1,33.1 263.2,29.9 263.3,27.9 263.4,28.7 263.5,30.1 263.6,32.4 263.7,34.9 263.8,37.4 263.9,41.7 264.0,46.8 264.1,51.3 264.2,54.0 264.3,55.4 264.4,56.6 264.5,57.9 264.6,59.5 264.7,61.1 264.8,62.2 264.9,63.2 265.0,63.5 265.1,63.5 265.2,63.9 265.3,63.4 265.4,63.3 265.5,63.6 265.6,63.6 265.7,63.9 265.8,63.7 265.9,63.9 266.0,63.9 266.1,63.5 266.2,63.3 266.3,62.9 266.4,62.9 266.5,62.5 266.6,61.1 266.7,60.2 266.8,59.7 266.9,57.6 267.0,54.7 267.1,52.3 267.2,48.9 267.3,44.9 267.4,41.8 267.5,38.9 267.6,35.3 267.7,31.9 267.8,30.0 267.9,29.8 268.0,31.3 268.1,33.6 268.2,35.9 268.3,39.1 268.4,43.3 268.5,47.1 268.6,50.8 268.7,53.8 268.8,56.1 268.9,57.5 269.0,58.3 269.1,60.3 269.2,62.3 269.3,63.1 269.4,63.2 269.5,63.2 269.6,63.1 269.7,62.9 269.8,63.2 269.9,64.3 270.0,65.0 270.1,64.4 270.2,64.6 270.3,64.8 270.4,64.6 270.5,63.9 270.6,63.1 270.7,62.7 270.8,63.1 270.9,63.3 271.0,62.5 271.1,61.5 271.2,60.3 271.3,59.2 271.4,57.7 271.5,54.9 271.6,51.6 271.7,47.5 271.8,42.2 271.9,37.4 272.0,34.3 272.1,31.8 272.2,30.0 272.3,28.8 272.4,28.4 272.5,30.1 272.6,32.8 272.7,35.9 272.8,39.6 272.9,43.7 273.0,48.0 273.1,52.1 273.2,54.7 273.3,56.2 273.4,58.0 273.5,59.4 273.6,60.6 273.7,62.1 273.8,63.6 273.9,64.7 274.0,64.8 274.1,65.0 274.2,65.0 274.3,64.0 274.4,63.9 274.5,64.8 274.6,64.8 274.7,64.4 274.8,64.3 274.9,63.9 275.0,63.0 275.1,63.1 275.2,63.9 275.3,63.3 275.4,61.7 275.5,61.1 275.6,61.3 275.7,60.0 275.8,58.1 275.9,56.3 276.0,53.0 276.1,48.7 276.2,45.1 276.3,41.4 276.4,37.6 276.5,33.6 276.6,30.4 276.7,29.1 276.8,28.9 276.9,28.8 277.0,29.8 277.1,33.0 277.2,37.1 277.3,41.0 277.4,45.0 277.5,49.5 277.6,53.5 277.7,55.6 277.8,56.7 277.9,58.1 278.0,60.1 278.1,61.8 278.2,63.4 278.3,64.1 278.4,63.6 278.5,63.7 278.6,63.8 278.7,63.6 278.8,63.1 278.9,62.8 279.0,62.9 279.1,63.5 279.2,64.7 279.3,64.8 279.4,64.3 279.5,64.0 279.6,63.6 279.7,63.6 279.8,63.7 279.9,62.7 280.0,61.5 280.1,60.5 280.2,58.8 280.3,56.0 280.4,53.0 280.5,50.2 280.6,46.0 280.7,40.8 280.8,36.5 280.9,33.6 281.0,31.5 281.1,29.1 281.2,27.4 281.3,27.2 281.4,28.2 281.5,31.1 281.6,35.3 281.7,40.0 281.8,44.5 281.9,48.6 282.0,52.2 282.1,55.0 282.2,56.9 282.3,58.3 282.4,60.1 282.5,62.2 282.6,63.1 282.7,62.9 282.8,62.9 282.9,63.4 283.0,63.8 283.1,64.0 283.2,63.7 283.3,63.6 283.4,64.1 283.5,63.8 283.6,63.5 283.7,63.5 283.8,63.7 283.9,63.4 284.0,62.9 284.1,62.1 284.2,61.9 284.3,62.1 284.4,60.9 284.5,58.9 284.6,57.5 284.7,55.7 284.8,52.9 284.9,48.9 285.0,44.0 285.1,39.5 285.2,35.1 285.3,30.4 285.4,27.2 285.5,25.1 285.6,23.7 285.7,23.8 285.8,25.6 285.9,28.7 286.0,32.9 286.1,37.6 286.2,42.3 286.3,46.9 286.4,51.3 286.5,54.7 286.6,56.0 286.7,56.6 286.8,58.3 286.9,60.6 287.0,62.3 287.1,62.3 287.2,62.5 287.3,63.8 287.4,64.2 287.5,63.9 287.6,63.6 287.7,64.0 287.8,64.4 287.9,63.4 288.0,63.2 288.1,63.3 288.2,62.9 288.3,62.7 288.4,62.4 288.5,62.4 288.6,62.3 288.7,61.3 288.8,60.6 288.9,60.3 289.0,59.0 289.1,56.0 289.2,52.2 289.3,48.0 289.4,43.4 289.5,39.1 289.6,35.1 289.7,31.3 289.8,28.6 289.9,26.6 290.0,26.2 290.1,27.6 290.2,29.0 290.3,31.0 290.4,34.7 290.5,39.5 290.6,44.3 290.7,48.2 290.8,51.4 290.9,54.5 291.0,56.6 291.1,57.9 291.2,59.9 291.3,61.5 291.4,62.4 291.5,63.2 291.7,63.4 291.8,63.6 291.9,63.8 292.0,63.5 292.1,63.1 292.2,62.9 292.3,65.2 292.4,65.0 292.5,64.4 292.6,64.2 292.7,64.6 292.8,65.0 292.9,65.6 293.0,65.5 293.1,64.3 293.2,62.9 293.3,62.3 293.4,61.3 293.5,58.9 293.6,56.7 293.7,53.3 293.8,49.1 293.9,45.3 294.0,41.4 294.1,37.5 294.2,34.0 294.3,31.0 294.4,28.6 294.5,28.1 294.6,29.1 294.7,30.9 294.8,34.2 294.9,39.0 295.0,43.9 295.1,48.5 295.2,52.3 295.3,55.2 295.4,58.0 295.5,60.4 295.6,62.0 295.7,63.4 295.8,64.5 295.9,65.0 296.0,64.9 296.1,64.5 296.2,64.9 296.3,65.9 296.4,65.7 296.5,65.3 296.6,65.3 296.7,63.6 296.8,63.5 296.9,63.6 297.0,63.8 297.1,63.7 297.2,63.9 297.3,64.5 297.4,64.3 297.5,62.8 297.6,61.0 297.7,60.1 297.8,59.0 297.9,57.0 298.0,54.5 298.1,50.9 298.2,46.7 298.3,42.4 298.4,38.1 298.5,34.9 298.6,32.6 298.7,31.0 298.8,30.5 298.9,30.8 299.0,31.8 299.1,34.7 299.2,39.4 299.3,43.4 299.4,47.3 299.5,51.7 299.6,55.1 299.7,57.7 299.8,59.4 299.9,60.1 300.0,61.4 300.1,62.9 300.2,63.5 300.3,63.1 300.4,62.8 300.5,63.1 300.6,63.6 300.7,63.9 300.8,64.0 300.9,64.0 301.0,65.8 301.1,66.1 301.2,65.9 301.3,65.3 301.4,64.9 301.5,65.2 301.6,65.4 301.7,65.4 301.8,64.9 301.9,63.3 302.0,61.8 302.1,60.3 302.2,57.8 302.3,54.9 302.4,51.3 302.5,47.2 302.6,42.9 302.7,38.7 302.8,34.5 302.9,31.3 303.0,30.1 303.1,29.9 303.2,30.3 303.3,31.4 303.4,33.9 303.5,39.0 303.6,44.4 303.7,48.7 303.8,52.7 303.9,55.8 304.0,58.0 304.1,59.9 304.2,61.9 304.3,63.7 304.4,64.7 304.5,65.0 304.6,64.7 304.7,64.9 304.8,65.7 304.9,65.8 305.0,65.3 305.1,65.4 305.2,66.0 305.3,64.5 305.4,63.7 305.5,64.1 305.6,64.4 305.7,64.7 305.8,64.7 305.9,64.0 306.0,63.2 306.1,62.0 306.2,60.5 306.3,60.0 306.4,59.1 306.5,56.2 306.6,52.3 306.7,48.0 306.8,43.4 306.9,38.2 307.0,32.8 307.1,28.6 307.2,25.7 307.3,23.8 307.4,23.2 307.5,24.8 307.6,28.1 307.7,31.5 307.8,35.3 307.9,39.5 308.0,44.6 308.1,49.5 308.2,53.0 308.3,55.9 308.4,58.5 308.5,60.7 308.6,62.3 308.7,63.0 308.8,63.9 308.9,64.2 309.0,63.5 309.1,63.7 309.2,64.8 309.3,64.9 309.4,64.1 309.5,63.1 309.6,61.9 309.7,62.8 309.8,63.0 309.9,62.6 310.0,62.7 310.1,63.0 310.2,63.0 310.3,63.4 310.4,63.7 310.5,62.2 310.6,59.6 310.7,57.6 310.8,55.9 310.9,52.5 311.0,48.3 311.1,44.1 311.2,38.5 311.3,34.2 311.4,31.7 311.5,28.7 311.6,26.7 311.7,26.7 311.8,28.5 311.9,31.6 312.0,35.1 312.1,39.0" fill="none" stroke="#ff0000" stroke-width="1.35" stroke-linejoin="round"/></g>
<g clip-path="url(#c10)"><polyline points="390.5,46.7 390.6,47.7 390.7,48.8 390.8,49.8 390.9,50.8 391.0,51.8 391.1,52.9 391.2,53.9 391.3,54.9 391.4,55.9 391.5,57.0 391.6,58.0 391.7,59.0 391.8,60.0 391.9,61.1 392.0,62.1 392.1,63.1 392.2,62.7 392.3,62.3 392.4,62.0 392.5,61.6 392.6,61.2 392.7,60.8 392.8,60.5 392.9,60.1 393.0,59.7 393.1,59.4 393.2,59.0 393.3,58.6 393.4,58.2 393.5,57.9 393.6,57.5 393.7,57.1 393.8,57.0 393.9,56.9 394.0,56.8 394.1,56.7 394.2,56.6 394.3,56.5 394.4,56.4 394.5,56.3 394.6,56.2 394.7,56.1 394.8,56.0 394.9,55.8 395.0,55.7 395.1,55.6 395.2,55.5 395.3,55.4 395.4,55.3 395.5,55.1 395.6,55.1 395.7,55.1 395.8,55.1 395.9,55.2 396.0,55.3 396.1,55.5 396.2,55.7 396.3,55.9 396.4,56.2 396.5,56.5 396.6,56.9 396.7,57.3 396.8,57.7 396.9,58.2 397.0,58.7 397.1,59.3 397.2,59.9 397.3,60.5 397.4,61.1 397.5,61.8 397.6,62.4 397.7,63.2 397.8,63.9 397.9,64.6 398.0,65.4 398.1,66.1 398.2,66.9 398.3,67.7 398.4,68.5 398.5,69.3 398.6,68.8 398.7,68.0 398.8,67.2 398.9,66.5 399.0,65.7 399.1,64.9 399.2,64.2 399.3,63.5 399.4,62.8 399.5,62.1 399.6,61.5 399.7,60.8 399.8,60.2 399.9,59.6 400.0,59.1 400.1,58.6 400.2,58.1 400.3,57.7 400.4,57.2 400.5,56.9 400.6,56.5 400.7,56.3 400.8,56.0 400.9,55.8 401.0,55.6 401.1,55.5 401.2,55.4 401.3,55.4 401.4,55.4 401.5,55.5 401.6,55.6 401.7,55.7 401.8,55.9 401.9,56.1 402.0,56.4 402.1,56.7 402.2,57.0 402.3,57.4 402.4,57.9 402.5,58.3 402.6,58.8 402.7,59.3 402.8,59.9 402.9,60.5 403.0,61.1 403.1,61.7 403.2,62.4 403.3,63.1 403.4,63.8 403.5,64.5 403.6,65.2 403.7,66.0 403.8,66.7 403.9,67.5 404.0,68.3 404.1,68.8 404.2,67.8 404.3,66.8 404.4,65.9 404.5,65.0 404.6,64.1 404.7,63.3 404.8,62.5 404.9,61.7 405.0,61.0 405.1,60.4 405.2,59.7 405.3,53.4 405.4,53.3 405.5,53.5 405.6,54.0 405.7,54.0 405.8,53.6 405.9,53.0 406.0,52.7 406.1,52.8 406.2,52.7 406.3,52.9 406.4,54.2 406.5,55.8 406.6,55.6 406.7,54.1 406.8,53.6 406.9,54.2 407.0,54.9 407.1,55.3 407.2,56.2 407.3,57.0 407.4,57.0 407.5,57.0 407.6,57.5 407.7,58.2 407.8,58.8 407.9,58.8 408.0,58.1 408.1,56.8 408.2,55.8 408.3,55.3 408.4,54.1 408.5,52.4 408.6,50.0 408.7,46.0 408.8,39.9 408.9,30.4 409.0,17.2 409.1,2.4 409.2,-10.4 409.3,-18.8 409.4,-22.9 409.5,-22.6 409.6,-16.8 409.7,-6.4 409.8,6.0 409.9,17.8 410.0,28.0 410.1,36.3 410.2,42.8 410.3,47.6 410.4,50.8 410.5,52.9 410.6,53.8 410.7,53.6 410.8,53.4 410.9,53.7 411.0,54.5 411.1,54.8 411.2,54.3 411.3,53.4 411.4,52.9 411.5,53.6 411.6,54.4 411.7,54.3 411.8,53.7 411.9,53.2 412.0,53.5 412.1,54.3 412.2,55.0 412.3,55.1 412.4,54.4 412.5,54.0 412.6,54.4 412.7,55.2 412.8,56.1 412.9,56.7 413.0,57.3 413.1,57.9 413.2,57.7 413.3,56.9 413.4,56.0 413.5,55.3 413.6,54.5 413.7,53.5 413.8,52.8 413.9,52.6 414.0,52.1 414.1,51.1 414.2,50.8 414.3,51.2 414.4,51.2 414.5,50.5 414.6,50.2 414.7,51.3 414.8,52.7 414.9,53.3 415.0,53.3 415.1,53.7 415.2,54.8 415.3,56.0 415.4,56.0 415.5,54.9 415.6,53.7 415.7,53.2 415.8,53.3 415.9,53.2 416.0,53.0 416.1,53.5 416.2,54.1 416.3,54.0 416.4,53.7 416.5,53.9 416.6,54.8 416.7,55.3 416.8,54.9 416.9,54.5 417.0,54.5 417.1,55.0 417.2,55.3 417.3,55.2 417.4,55.5 417.5,55.8 417.6,56.1 417.7,56.5 417.8,56.9 417.9,57.2 418.0,57.3 418.1,57.4 418.2,57.0 418.3,56.6 418.4,56.8 418.5,57.4 418.6,57.3 418.7,56.2 418.8,55.2 418.9,54.2 419.0,53.5 419.1,53.2 419.2,52.9 419.3,51.2 419.4,47.3 419.5,42.8 419.6,38.7 419.7,36.0 419.8,35.3 419.9,36.9 420.0,39.7 420.1,42.7 420.2,46.1 420.3,49.1 420.4,51.0 420.5,51.9 420.6,52.4 420.7,52.6 420.8,52.6 420.9,53.0 421.0,53.5 421.1,53.6 421.2,53.3 421.3,53.0 421.4,52.7 421.5,52.5 421.6,52.8 421.7,53.3 421.8,53.4 421.9,53.0 422.0,52.4 422.1,52.2 422.2,52.0 422.3,51.6 422.4,51.8 422.5,53.5 422.6,55.5 422.7,56.3 422.8,56.0 422.9,55.6 423.0,55.4 423.1,55.0 423.2,54.7 423.3,55.3 423.4,56.5 423.5,57.5 423.6,58.0 423.7,58.0 423.8,57.7 423.9,56.6 424.0,55.3 424.1,54.3 424.2,54.3 424.3,55.9 424.4,57.5 424.5,57.9 424.6,57.5 424.7,57.2 424.8,57.4 424.9,56.9 425.0,55.7 425.1,55.1 425.2,55.5 425.3,56.1 425.4,56.3 425.5,56.7 425.6,57.6 425.7,57.9 425.8,57.3 425.9,56.5 426.0,56.4 426.1,56.5 426.2,56.1 426.3,55.7 426.4,55.6 426.5,55.6 426.6,55.0 426.7,54.4 426.8,54.5 426.9,54.9 427.0,54.5 427.1,53.9 427.2,53.9 427.3,54.2 427.4,54.3 427.5,53.9 427.6,53.8 427.7,54.3 427.8,55.1 427.9,55.5 428.0,55.2 428.1,55.3 428.2,56.3 428.3,57.2 428.4,56.8 428.5,55.8 428.6,55.6 428.7,56.3 428.8,57.1 428.9,57.6 429.0,58.0 429.1,58.3 429.2,58.2 429.3,57.7 429.4,57.7 429.5,58.3 429.6,59.0 429.7,59.0 429.8,57.9 429.9,56.4 430.0,55.2 430.1,54.8 430.2,54.8 430.3,54.7 430.4,53.6 430.5,50.3 430.6,44.3 430.7,35.8 430.8,25.2 430.9,13.3 431.0,1.3 431.1,-9.6 431.2,-18.2 431.3,-22.6 431.4,-21.8 431.5,-15.5 431.6,-5.6 431.7,5.6 431.8,16.8 431.9,27.7 432.0,37.5 432.1,44.8 432.2,48.6 432.3,49.8 432.4,49.9 432.5,50.5 432.6,51.9 432.7,53.3 432.8,54.0 432.9,54.4 433.0,54.7 433.1,54.6 433.2,53.9 433.3,53.3 433.4,53.7 433.5,54.3 433.6,55.0 433.7,56.2 433.8,57.4 433.9,57.5 434.0,57.0 434.1,57.3 434.2,58.5 434.3,59.2 434.4,58.6 434.5,57.5 434.6,56.5 434.7,55.8 434.8,56.2 434.9,56.8 435.0,56.8 435.1,56.0 435.2,54.8 435.3,54.2 435.4,54.0 435.5,54.7 435.6,56.5 435.7,58.0 435.8,58.1 435.9,57.0 436.0,56.0 436.1,55.6 436.2,54.9 436.3,53.8 436.4,52.9 436.5,52.9 436.6,53.2 436.7,53.3 436.8,53.4 436.9,53.9 437.0,54.2 437.1,54.4 437.2,54.6 437.3,54.7 437.4,54.2 437.5,53.6 437.6,53.4 437.7,53.3 437.8,53.0 437.9,53.1 438.0,53.2 438.1,52.9 438.2,52.6 438.3,53.3 438.4,54.6 438.5,55.4 438.6,55.1 438.7,54.1 438.8,53.9 438.9,54.6 439.0,55.5 439.1,56.3 439.2,57.2 439.3,58.2 439.4,58.5 439.5,58.4 439.6,58.8 439.7,59.2 439.8,58.9 439.9,58.5 440.0,58.5 440.1,59.1 440.2,59.3 440.3,58.9 440.4,58.6 440.5,58.6 440.6,58.5 440.7,58.3 440.8,58.0 440.9,58.0 441.0,57.9 441.1,57.6 441.2,57.1 441.3,56.5 441.4,56.0 441.5,55.7 441.6,55.9 441.7,56.5 441.8,57.1 441.9,58.1 442.0,58.8 442.1,58.4 442.2,56.7 442.3,54.4 442.4,52.8 442.5,52.2 442.6,52.6 442.7,52.9 442.8,52.6 442.9,52.2 443.0,52.2 443.1,52.9 443.2,53.9 443.3,55.0 443.4,55.7 443.5,55.4 443.6,54.9 443.7,54.6 443.8,54.6 443.9,54.6 444.0,53.9 444.1,52.9 444.2,52.7 444.3,54.1 444.4,55.8 444.5,55.8 444.6,55.3 444.7,55.3 444.8,56.3 444.9,57.4 445.0,58.0 445.1,58.3 445.2,58.4 445.3,58.0 445.4,57.2 445.5,56.5 445.6,56.5 445.7,57.4 445.8,58.6 445.9,59.2 446.0,58.7 446.1,57.6 446.2,56.9 446.3,56.9 446.4,57.1 446.5,57.3 446.6,57.9 446.7,58.2 446.8,57.9 446.9,57.8 447.0,58.7 447.1,59.0 447.2,57.4 447.3,54.7 447.4,53.6 447.5,54.1 447.6,54.7 447.7,54.5 447.8,54.2 447.9,54.4 448.0,54.4 448.1,53.7 448.2,52.6 448.3,51.4 448.4,50.8 448.5,51.1 448.6,51.8 448.7,52.5 448.8,52.8 448.9,52.6 449.0,52.1 449.1,52.0 449.2,52.7 449.3,53.4 449.4,53.7 449.5,54.3 449.6,55.3 449.7,56.0 449.8,55.3 449.9,54.2 450.0,54.0 450.1,55.1 450.2,56.8 450.3,58.6 450.4,60.0 450.5,60.2 450.6,59.5 450.7,58.8 450.8,58.0 450.9,57.3 451.0,57.2 451.1,58.1 451.2,59.0 451.3,59.1 451.4,59.3 451.5,59.5 451.6,58.6 451.7,56.9 451.8,55.7 451.9,55.2 452.0,54.6 452.1,54.1 452.2,54.0 452.3,53.2 452.4,51.3 452.5,48.8 452.6,45.6 452.7,41.5 452.8,36.3 452.9,30.0 453.0,23.3 453.1,17.8 453.2,15.3 453.3,16.3 453.4,20.2 453.5,26.2 453.6,32.9 453.7,39.2 453.8,44.3 453.9,48.1 454.0,51.1 454.1,52.9 454.2,53.7 454.3,54.3 454.4,54.6 454.5,55.6 454.6,55.6 454.7,55.5 454.8,55.4 454.9,55.4 455.0,55.3 455.1,55.2 455.2,55.2 455.3,55.2 455.4,55.2 455.5,55.2 455.6,55.2 455.7,55.3 455.8,55.4 455.9,55.5 456.0,55.6 456.1,55.8 456.2,56.1 456.3,56.3 456.4,56.7 456.5,57.0 456.6,57.4 456.7,57.9 456.8,58.4 456.9,59.0 457.0,59.6 457.1,60.2 457.2,60.9 457.3,61.7 457.4,62.5 457.5,63.3 457.6,64.2 457.7,65.2 457.8,66.2 457.9,67.2 458.0,68.3 458.1,69.4 458.2,69.9 458.3,69.1 458.4,68.3 458.5,67.4 458.6,66.6 458.7,65.8 458.8,65.0 458.9,64.2 459.0,63.5 459.1,62.7 459.2,62.0 459.3,61.3 459.4,60.6 459.5,60.0 459.6,59.4 459.7,58.8 459.8,58.3 459.9,57.8 460.0,57.4 460.1,57.0 460.2,56.7 460.3,56.4 460.4,56.1 460.5,55.9 460.6,55.8 460.7,55.7 460.8,55.6 460.9,55.6 461.0,55.7 461.1,55.8 461.2,56.0 461.3,56.3 461.4,56.5 461.5,56.9 461.6,57.3 461.7,57.7 461.8,58.2 461.9,58.8 462.0,59.4 462.1,60.0 462.2,60.7 462.3,61.4 462.4,62.2 462.5,63.0 462.6,63.8 462.7,64.7 462.8,65.6 462.9,66.5 463.0,67.5 463.1,68.4 463.2,69.4 463.3,70.4 463.4,71.4 463.5,70.7 463.6,69.7 463.7,68.7 463.8,67.7 463.9,66.7 464.0,65.8 464.1,64.9 464.2,64.0 464.3,63.1 464.4,62.3 464.5,61.5 464.6,60.7 464.7,60.0 464.8,59.3 464.9,58.7 465.0,58.1 465.1,57.6 465.2,57.1 465.3,56.6 465.4,56.3 465.5,55.9 465.6,55.7 465.7,55.4 465.8,55.3 465.9,55.2 466.0,55.1 466.1,55.1 466.2,55.2 466.3,55.3 466.4,55.5 466.5,55.7 466.6,56.0 466.7,56.3 466.8,56.7 466.9,57.1 467.0,57.6 467.1,58.1 467.2,58.6 467.3,59.2 467.4,59.8 467.5,60.5 467.6,61.2 467.7,61.9 467.8,62.7 467.9,63.4 468.0,64.2 468.1,65.0 468.2,65.8 468.3,66.6 468.4,67.5 468.5,68.3 468.6,69.2 468.7,68.8 468.8,67.9 468.9,67.0 469.0,66.1 469.1,65.2 469.2,64.4 469.3,63.6 469.4,62.8 469.5,62.0 469.6,61.3 469.7,60.6 469.8,60.0 469.9,59.3 470.0,58.8 470.1,58.2 470.2,57.7 470.3,57.3 470.4,56.9 470.5,56.5 470.6,56.2 470.7,56.0 470.8,55.8 470.9,55.6 471.0,55.5 471.1,55.4 471.2,55.4 471.3,55.4 471.4,55.5 471.5,55.6 471.6,55.8 471.7,56.0 471.8,56.2 471.9,56.5 472.0,56.8 472.1,57.2 472.2,57.6 472.3,58.0 472.4,58.5 472.5,58.9 472.6,59.4 472.7,60.0 472.8,60.5 472.9,61.1 473.0,61.7 473.1,62.3 473.2,62.9 473.3,63.5 473.4,64.1 473.5,64.7 473.6,65.4 473.7,66.0 473.8,66.6 473.9,66.2 474.0,65.6 474.1,65.0 474.2,64.4 474.3,63.7 474.4,63.1 474.5,62.5 474.6,61.9 474.7,61.3 474.8,60.7 474.9,60.1 475.0,59.5 475.1,59.0 475.2,58.5 475.3,58.0 475.4,57.6 475.5,57.1 475.6,56.7 475.7,56.4 475.8,56.1 475.9,55.8 476.0,55.6 476.1,55.4 476.2,55.2 476.3,55.1 476.4,55.1 476.5,55.0 476.6,55.1 476.7,55.2 476.8,55.3 476.9,55.5 477.0,55.8 477.1,56.0 477.2,56.4 477.3,56.8 477.4,57.2 477.5,57.7 477.6,58.2 477.7,58.8 477.8,59.4 477.9,60.1 478.0,60.8 478.1,61.6 478.2,62.3 478.3,63.1 478.4,64.0 478.5,64.9 478.6,65.8 478.7,66.7 478.8,67.6 478.9,68.6 479.0,69.1 479.1,68.2 479.2,67.3 479.3,66.4 479.4,65.5 479.5,64.6 479.6,63.8 479.7,62.9 479.8,62.1 479.9,61.3 480.0,60.6 480.1,59.9 480.2,59.2 480.3,58.5 480.4,57.9 480.5,57.4 480.6,56.9 480.7,56.4 480.8,56.0 480.9,55.6 481.0,55.3 481.1,55.1 481.2,54.8 481.3,54.7 481.4,54.6 481.5,54.6 481.6,54.6 481.7,54.6 481.8,54.8 481.9,54.9 482.0,55.2 482.1,55.4 482.2,55.8 482.3,56.2 482.4,56.6 482.5,57.1 482.6,57.6 482.7,58.2 482.8,58.8 482.9,59.5 483.0,60.1 483.1,60.9 483.2,61.6 483.3,62.4 483.4,63.2 483.5,64.0 483.6,64.9 483.7,65.7 483.8,66.6 483.9,67.5 484.0,68.4 484.1,69.3 484.2,68.5 484.3,67.7 484.4,66.8 484.5,65.9 484.6,65.1 484.7,64.2 484.8,63.4 484.9,62.6 485.0,61.8 485.1,61.1 485.2,60.3 485.3,59.7 485.4,59.0 485.5,58.4 485.6,57.8 485.7,57.3 485.8,56.8 485.9,56.4 486.0,56.0 486.1,55.7 486.2,55.4 486.3,55.1 486.4,55.0 486.5,54.8 486.6,54.8 486.7,54.8 486.8,54.8 486.9,54.9 487.0,55.1 487.1,55.3 487.2,55.6 487.3,55.9 487.4,56.3 487.5,56.7 487.6,57.2 487.7,57.7 487.8,58.3 487.9,58.9 488.0,59.6 488.1,60.3 488.2,61.0 488.3,61.8 488.4,62.6 488.5,63.5 488.6,64.3 488.7,65.2 488.8,66.1 488.9,67.0 489.0,68.0 489.1,68.9 489.2,69.9 489.3,69.0 489.4,68.1 489.5,67.1 489.6,66.1 489.7,65.2 489.8,64.3 489.9,63.4 490.0,62.6 490.1,61.7 490.2,60.9 490.3,60.2 490.4,59.5 490.5,58.8 490.6,58.2 490.7,57.6 490.8,57.0 490.9,56.5 491.0,56.1 491.1,55.7 491.2,55.4 491.3,55.1 491.4,54.9 491.5,54.7 491.6,54.6 491.7,54.5 491.8,54.5 491.9,54.6 492.0,54.7 492.1,54.8 492.2,55.0 492.3,55.3 492.4,55.6 492.5,56.0 492.6,56.4 492.7,56.8 492.8,57.3 492.9,57.9 493.0,58.4 493.1,59.0 493.2,59.7 493.3,60.3 493.4,61.0 493.5,61.8 493.6,62.5 493.7,63.3 493.8,64.0 493.9,64.8 494.0,65.6 494.1,66.4 494.2,67.2 494.3,67.7 494.4,66.9 494.5,66.1 494.6,65.3 494.7,64.5 494.8,63.7 494.9,62.9 495.0,62.2 495.1,61.5 495.2,60.8 495.3,60.1 495.4,59.4 495.5,58.8 495.6,58.2 495.7,57.7 495.8,57.2 495.9,56.7 496.0,56.3 496.1,55.9 496.2,55.6 496.3,55.3 496.4,55.1 496.5,54.9 496.6,54.8 496.7,54.7 496.8,54.7 496.9,54.7 497.0,54.8 497.1,55.0 497.2,55.2 497.3,55.4 497.4,55.7 497.5,56.1 497.6,56.5 497.7,57.0 497.8,57.5 497.9,58.1 498.0,58.7 498.1,59.4 498.2,60.1 498.3,60.8 498.4,61.6 498.5,62.4 498.6,63.3 498.7,64.1 498.8,65.0 498.9,66.0 499.0,66.9 499.1,67.9 499.2,68.8 499.3,69.8 499.4,69.2 499.5,68.3 499.6,67.3 499.7,66.4 499.8,65.5 499.9,64.6 500.0,63.7 500.1,62.9 500.2,62.0 500.3,61.3 500.4,60.5 500.5,59.8 500.6,59.1 500.7,58.4 500.8,57.8 500.9,57.3 501.0,56.8 501.1,56.3 501.2,55.9 501.3,55.6 501.4,55.3 501.5,55.1 501.6,54.9 501.7,54.8 501.8,54.7 501.9,54.7 502.0,54.8 502.1,54.9 502.2,55.1 502.3,55.3 502.4,55.6 502.5,55.9 502.6,56.3 502.7,56.8 502.8,57.3 502.9,57.8 503.0,58.4 503.1,59.1 503.2,59.8 503.3,60.5 503.4,61.2 503.5,62.0 503.6,62.8 503.7,63.7 503.8,64.5 503.9,65.4 504.0,66.3 504.1,67.2 504.2,68.1 504.3,69.1 504.4,68.7 504.5,67.8 504.6,66.9 504.7,66.0 504.8,65.1 504.9,64.3 505.0,63.4 505.1,62.6 505.2,61.8 505.3,61.0 505.4,60.3 505.5,59.6 505.6,58.9 505.7,58.3 505.8,57.8 505.9,57.2 506.0,56.7 506.1,56.3 506.2,55.9 506.3,55.6 506.4,55.4 506.5,55.2 506.6,55.0 506.7,54.9 506.8,54.9 506.9,54.9 507.0,55.0 507.1,55.2 507.2,55.4 507.3,55.7 507.4,56.0 507.5,56.4 507.6,56.8 507.7,57.3 507.8,57.9 507.9,58.5 508.0,59.1 508.1,59.8 508.2,60.5 508.3,61.3 508.4,62.1 508.5,63.0 508.6,63.9 508.7,64.8 508.8,65.7 508.9,66.6 509.0,67.6 509.1,68.6 509.2,69.6 509.3,70.6 509.4,69.9 509.5,68.9 509.6,68.0 509.7,67.0 509.8,66.0 509.9,65.1 510.0,64.2 510.1,63.3 510.2,62.5 510.3,61.6 510.4,60.8 510.5,60.1 510.6,59.4 510.7,58.7 510.8,58.1 510.9,57.5 511.0,57.0 511.1,56.5 511.2,56.1 511.3,55.8 511.4,55.5 511.5,55.2 511.6,55.1 511.7,55.0 511.8,54.9 511.9,54.9 512.0,55.0 512.1,55.1 512.2,55.3 512.3,55.6 512.4,55.9 512.5,56.3 512.6,56.7 512.7,57.2 512.8,57.8 512.9,58.3 513.0,59.0 513.1,59.7 513.2,60.4 513.3,61.2 513.4,62.0 513.6,62.8 513.7,63.7 513.8,64.6 513.9,65.5 514.0,66.5 514.1,67.5 514.2,68.4 514.3,69.4 514.4,69.8 514.5,68.9 514.6,67.9 514.7,66.9 514.8,66.0 514.9,65.0 515.0,64.1 515.1,63.2 515.2,62.4 515.3,61.5 515.4,60.7 515.5,60.0 515.6,59.3 515.7,58.6 515.8,58.0 515.9,57.4 516.0,56.9 516.1,56.4 516.2,56.0 516.3,55.6 516.4,55.3 516.5,55.1 516.6,54.9 516.7,54.8 516.8,54.8 516.9,54.8 517.0,54.9 517.1,55.0 517.2,55.3 517.3,55.5 517.4,55.9 517.5,56.3 517.6,56.7 517.7,57.3 517.8,57.8 517.9,58.5 518.0,59.1 518.1,59.9 518.2,60.6 518.3,61.5 518.4,62.3 518.5,63.2 518.6,64.1 518.7,65.1 518.8,66.1 518.9,67.1 519.0,68.1 519.1,69.1 519.2,70.2 519.3,71.2 519.4,70.0 519.5,68.9 519.6,67.8 519.7,66.8 519.8,65.7 519.9,64.7 520.0,63.8 520.1,62.8 520.2,61.9 520.3,61.1 520.4,60.3 520.5,59.5 520.6,58.9 520.7,58.2 520.8,57.6 520.9,57.1 521.0,56.6 521.1,56.2 521.2,55.8 521.3,55.5 521.4,55.3 521.5,55.1 521.6,55.0 521.7,54.9 521.8,54.9 521.9,55.0 522.0,55.1 522.1,55.2 522.2,55.4 522.3,55.7 522.4,56.0 522.5,56.3 522.6,56.7 522.7,57.1 522.8,57.5 522.9,58.0 523.0,58.5 523.1,59.1 523.2,59.6 523.3,60.2 523.4,60.8 523.5,61.4 523.6,62.0 523.7,62.7 523.8,63.3 523.9,63.9 524.0,64.5 524.1,65.2 524.2,65.7 524.3,65.0 524.4,64.3 524.5,63.7 524.6,63.0 524.7,62.3 524.8,61.7 524.9,61.0 525.0,60.4 525.1,59.8 525.2,59.3 525.3,58.7 525.4,58.2 525.5,57.8 525.6,57.3 525.7,56.9 525.8,56.5 525.9,56.2 526.0,55.9 526.1,55.7 526.2,55.5 526.3,55.3 526.4,55.2 526.5,55.1 526.6,55.1 526.7,55.1 526.8,55.2 526.9,55.3 527.0,55.5 527.1,55.7 527.2,56.0 527.3,56.3 527.4,56.6 527.5,57.0 527.6,57.4 527.7,57.9 527.8,58.4 527.9,58.9 528.0,59.4 528.1,60.0 528.2,60.7 528.3,61.3 528.4,62.0 528.5,62.7 528.6,63.4 528.7,64.1 528.8,64.8 528.9,65.6 529.0,66.3 529.1,66.5 529.2,65.8 529.3,65.1 529.4,64.3 529.5,63.6 529.6,62.9 529.7,62.2 529.8,61.5 529.9,60.9 530.0,60.3 530.1,59.7 530.2,59.1 530.3,58.6 530.4,58.1 530.5,57.7 530.6,57.2 530.7,56.9 530.8,56.5 530.9,56.2 531.0,56.0 531.1,55.8 531.2,55.6 531.3,55.5 531.4,55.4 531.5,55.4 531.6,55.4 531.7,55.5 531.8,55.6 531.9,55.7 532.0,55.9 532.1,56.2 532.2,56.4 532.3,56.8 532.4,57.1 532.5,57.5 532.6,57.9 532.7,58.4 532.8,58.8 532.9,59.4 533.0,59.9 533.1,60.4 533.2,61.0 533.3,61.6 533.4,62.2 533.5,62.8 533.6,63.5 533.7,64.1 533.8,64.7 533.9,65.4 534.0,64.8 534.1,64.1 534.2,63.5 534.3,62.8 534.4,62.2 534.5,61.5 534.6,60.9 534.7,60.3 534.8,59.8 534.9,59.2 535.0,58.7 535.1,58.2 535.2,57.7 535.3,57.3 535.4,56.9 535.5,56.6 535.6,56.2 535.7,56.0 535.8,55.7 535.9,55.5 536.0,55.4 536.1,55.2 536.2,55.2 536.3,55.1 536.4,55.2 536.5,55.2 536.6,55.3 536.7,55.4 536.8,55.6 536.9,55.8 537.0,56.1 537.1,56.4 537.2,56.7 537.3,57.0 537.4,57.4 537.5,57.9 537.6,58.3 537.7,58.8 537.8,59.3 537.9,59.8 538.0,60.4 538.1,60.9 538.2,61.5 538.3,62.1 538.4,62.7 538.5,63.3 538.6,63.9 538.7,64.5 538.8,64.2 538.9,63.6 539.0,63.0 539.1,62.4 539.2,61.8 539.3,61.2 539.4,60.6 539.5,60.0 539.6,59.5 539.7,59.0 539.8,58.5 539.9,58.0 540.0,57.6 540.1,57.2 540.2,56.8 540.3,56.5 540.4,56.2 540.5,55.9 540.6,55.7 540.7,55.5 540.8,55.3 540.9,55.2 541.0,55.1 541.1,55.1 541.2,55.1 541.3,55.2 541.4,55.3 541.5,55.4 541.6,55.6 541.7,55.8 541.8,56.1 541.9,56.4 542.0,56.7 542.1,57.1 542.2,57.5 542.3,58.0 542.4,58.4 542.5,58.9 542.6,59.5 542.7,60.0 542.8,60.6 542.9,61.2 543.0,61.8 543.1,62.5 543.2,63.1 543.3,63.8 543.4,64.4 543.5,65.1 543.6,64.6 543.7,64.0 543.8,63.3 543.9,62.7 544.0,62.0 544.1,61.4 544.2,60.8 544.3,60.2 544.4,59.6 544.5,59.1 544.6,58.6 544.7,58.0 544.8,57.6 544.9,57.1 545.0,56.7 545.1,56.3 545.2,56.0 545.3,55.7 545.4,55.4 545.5,55.2 545.6,55.0 545.7,54.9 545.8,54.8 545.9,54.8 546.0,54.8 546.1,54.8 546.2,54.9 546.3,55.1 546.4,55.3 546.5,55.6 546.6,55.9 546.7,56.2 546.8,56.6 546.9,57.0 547.0,57.5 547.1,58.0 547.2,58.6 547.3,59.2 547.4,59.8 547.5,60.5 547.6,61.1 547.7,61.9 547.8,62.6 547.9,63.4 548.0,64.1 548.1,64.9 548.2,65.7 548.3,66.1 548.4,65.3 548.5,64.6 548.6,63.8 548.7,63.1 548.8,62.4 548.9,61.7 549.0,61.0 549.1,60.3 549.2,59.7 549.3,59.1 549.4,58.5 549.5,57.9 549.6,57.4 549.7,57.0 549.8,56.5 549.9,56.1 550.0,55.8 550.1,55.5 550.2,55.3 550.3,55.1 550.4,54.9 550.5,54.9 550.6,54.8 550.7,54.8 550.8,54.9 550.9,55.1 551.0,55.2 551.1,55.5 551.2,55.8 551.3,56.1 551.4,56.6 551.5,57.0 551.6,57.5 551.7,58.1 551.8,58.7 551.9,59.3 552.0,60.0 552.1,60.7 552.2,61.5 552.3,62.3 552.4,63.1 552.5,63.9 552.6,64.8 552.7,65.7 552.8,66.6 552.9,67.5 553.0,68.4 553.1,67.5 553.2,66.6 553.3,65.7 553.4,64.8 553.5,63.9 553.6,63.1 553.7,62.3 553.8,61.5 553.9,60.7 554.0,60.0 554.1,59.3 554.2,58.7 554.3,58.1 554.4,57.5 554.5,57.0 554.6,56.6 554.7,56.2 554.8,55.8 554.9,55.5 555.0,55.3 555.1,55.1 555.2,55.0 555.3,54.9 555.4,54.9 555.5,54.9 555.6,55.0 555.7,55.1 555.8,55.3 555.9,55.6 556.0,55.9 556.1,56.2 556.2,56.6 556.3,57.0 556.4,57.5 556.5,58.0 556.6,58.6 556.7,59.1 556.8,59.7 556.9,60.4 557.0,61.0 557.1,61.7 557.2,62.4 557.3,63.1 557.4,63.8 557.5,64.5 557.6,65.3 557.7,66.0 557.8,65.3 557.9,64.6 558.0,63.8 558.1,63.1 558.2,62.4 558.3,61.7 558.4,61.0 558.5,60.4 558.6,59.7 558.7,59.1 558.8,58.6 558.9,58.1 559.0,57.6 559.1,57.1 559.2,56.7 559.3,56.4 559.4,56.0 559.5,55.8 559.6,55.6 559.7,55.4 559.8,55.3 559.9,55.2 560.0,55.2 560.1,55.2 560.2,55.3 560.3,55.4 560.4,55.6 560.5,55.8 560.6,56.1 560.7,56.4 560.8,56.8 560.9,57.2 561.0,57.7 561.1,58.2 561.2,58.7 561.3,59.2 561.4,59.8 561.5,60.5 561.6,61.1 561.7,61.8 561.8,62.5 561.9,63.2 562.0,63.9 562.1,64.7 562.2,65.4 562.3,66.2 562.4,66.7 562.5,65.9 562.6,65.1 562.7,64.3 562.8,63.5 562.9,62.8 563.0,62.1 563.1,61.4 563.2,60.7 563.3,60.1 563.4,59.6 563.5,59.0 563.6,58.5 563.7,58.0 563.8,57.6 563.9,57.2 564.0,56.9 564.1,56.6 564.2,56.4 564.3,56.2 564.4,56.0 564.5,55.9 564.6,55.8 564.7,55.8 564.8,55.8 564.9,55.9 565.0,55.9 565.1,56.1 565.2,56.2 565.3,56.4 565.4,56.7 565.5,56.9 565.6,57.2 565.7,57.5 565.8,57.9 565.9,58.2 566.0,58.6 566.1,59.0 566.2,59.4 566.3,59.8 566.4,60.2 566.5,60.7 566.6,61.1 566.7,61.5 566.8,61.9 566.9,62.4 567.0,62.8 567.1,62.6 567.2,62.1 567.3,61.7 567.4,61.2 567.5,60.8 567.6,60.3 567.7,59.9 567.8,59.4 567.9,59.0 568.0,58.6 568.1,58.2 568.2,57.9 568.3,57.5 568.4,57.2 568.5,56.9 568.6,56.7 568.7,56.4 568.8,56.2 568.9,56.1 569.0,55.9 569.1,55.8 569.2,55.8 569.3,55.7 569.4,55.7 569.5,55.8 569.6,55.8 569.7,56.0 569.8,56.1 569.9,56.3 570.0,56.5 570.1,56.8 570.2,57.0 570.3,57.4 570.4,57.7 570.5,58.1 570.6,58.5 570.7,58.9 570.8,59.4 570.9,59.9 571.0,60.4 571.1,60.9 571.2,61.5 571.3,62.0 571.4,62.6 571.5,63.2 571.6,63.8 571.7,63.9 571.8,63.4 571.9,62.9 572.0,62.4 572.1,61.9 572.2,61.3 572.3,60.8 572.4,60.3 572.5,59.9 572.6,59.4 572.7,58.9 572.8,58.5 572.9,58.1 573.0,57.7 573.1,57.3 573.2,57.0 573.3,56.7 573.4,56.5 573.5,56.2 573.6,56.0 573.7,55.9 573.8,55.8 573.9,55.8 574.0,55.8 574.1,55.8 574.2,55.9 574.3,56.0 574.4,56.2 574.5,56.5 574.6,56.7 574.7,57.1 574.8,57.5 574.9,57.9 575.0,58.4 575.1,58.9 575.2,59.5 575.3,60.1 575.4,60.7 575.5,61.4 575.6,62.1 575.7,62.9 575.8,63.7 575.9,64.5 576.0,65.3 576.1,66.2 576.2,67.0 576.3,67.1 576.4,66.3 576.5,65.4 576.6,64.6 576.7,63.8 576.8,63.0 576.9,62.2 577.0,61.5 577.1,60.8 577.2,60.1 577.3,59.5 577.4,58.9 577.5,58.3 577.6,57.8 577.7,57.4 577.8,56.9 577.9,56.6 578.0,56.2 578.1,56.0 578.2,55.7 578.3,55.6 578.4,55.5 578.5,55.4 578.6,55.4 578.7,55.4 578.8,55.5 578.9,55.6 579.0,55.8 579.1,56.1 579.2,56.3 579.3,56.7 579.4,57.0 579.5,57.4 579.6,57.9 579.7,58.4 579.8,58.9 579.9,59.4 580.0,60.0 580.1,60.6 580.2,61.2 580.3,61.8 580.4,62.4 580.5,63.1 580.6,63.7 580.7,64.4 580.8,65.0 580.9,64.7 581.0,64.0 581.1,63.4 581.2,62.7 581.3,62.1 581.4,61.5 581.5,60.9 581.6,60.3 581.7,59.7 581.8,59.1 581.9,58.6 582.0,58.1 582.1,57.7 582.2,57.3 582.3,56.9 582.4,56.5 582.5,56.2 582.6,56.0 582.7,55.8 582.8,55.6 582.9,55.5 583.0,55.5 583.1,55.5 583.2,55.5 583.3,55.6 583.4,55.7 583.5,55.9 583.6,56.2 583.7,56.5 583.8,56.8 583.9,57.2 584.0,57.7 584.1,58.2 584.2,58.7 584.3,59.3 584.4,59.9 584.5,60.5 584.6,61.2 584.7,61.9 584.8,62.7 584.9,63.4 585.0,64.2 585.1,65.0 585.2,65.8 585.3,66.7 585.4,67.0 585.5,66.2 585.6,65.3 585.7,64.5 585.8,63.7 585.9,62.9 586.0,62.2 586.1,61.5 586.2,60.8 586.3,60.1 586.4,59.5 586.5,58.9 586.6,58.3 586.7,57.8 586.8,57.3 586.9,56.9 587.0,56.6 587.1,56.2 587.2,56.0 587.3,55.7 587.4,55.6 587.5,55.5 587.6,55.4 587.7,55.4 587.8,55.4 587.9,55.5 588.0,55.6 588.1,55.8 588.2,56.0 588.3,56.3 588.4,56.6 588.5,57.0 588.6,57.4 588.7,57.8 588.8,58.3 588.9,58.8 589.0,59.3 589.1,59.8 589.2,60.4 589.3,61.0 589.4,61.6 589.5,62.2 589.6,62.9 589.7,63.5 589.8,64.1 589.9,64.6 590.0,63.9 590.1,63.3 590.2,62.6 590.3,61.9 590.4,61.3 590.5,60.7 590.6,60.0 590.7,59.4 590.8,58.9 590.9,58.3 591.0,57.8 591.1,57.3 591.2,56.9 591.3,56.4 591.4,56.1 591.5,55.7 591.6,55.4 591.7,55.2 591.8,55.0 591.9,54.8 592.0,54.7 592.1,54.7 592.2,54.7 592.3,54.7 592.4,54.8 592.5,55.0 592.6,55.2 592.7,55.4 592.8,55.7 592.9,56.1 593.0,56.5 593.1,56.9 593.2,57.4 593.3,57.9 593.4,58.5 593.5,59.1 593.6,59.7 593.7,60.4 593.8,61.0 593.9,61.8 594.0,62.5 594.1,63.2 594.2,64.0 594.3,64.8 594.4,65.3 594.5,64.5 594.6,63.7 594.7,63.0 594.8,62.2 594.9,61.5 595.0,60.8 595.1,60.1 595.2,59.4 595.3,58.8 595.4,58.2 595.5,57.7 595.6,57.1 595.7,56.6 595.8,56.2 595.9,55.8 596.0,55.5 596.1,55.2 596.2,54.9 596.3,54.7 596.4,54.6 596.5,54.5 596.6,54.4 596.7,54.5 596.8,54.5 596.9,54.6 597.0,54.8 597.1,55.0 597.2,55.3 597.3,55.6 597.4,56.0 597.5,56.4 597.6,56.8 597.7,57.3 597.8,57.9 597.9,58.4 598.0,59.0 598.1,59.6 598.2,60.3 598.3,61.0 598.4,61.6 598.5,62.3 598.6,63.1 598.7,63.8 598.8,64.5 598.9,64.5 599.0,63.8 599.1,63.1 599.2,62.5 599.3,61.8 599.4,61.1 599.5,60.5 599.6,59.9 599.7,59.3 599.8,58.7 599.9,58.2 600.0,57.7 600.1,57.2 600.2,56.8 600.3,56.5 600.4,56.1 600.5,55.8 600.6,55.6 600.7,55.4 600.8,55.3 600.9,55.2 601.0,55.2 601.1,55.2 601.2,55.3 601.3,55.4 601.4,55.6 601.5,55.8 601.6,56.1 601.7,56.4 601.8,56.8 601.9,57.2 602.0,57.7 602.1,58.2 602.2,58.8 602.3,59.3 602.4,60.0 602.5,60.6 602.6,61.3 602.7,62.0 602.8,62.7 602.9,63.5 603.0,64.2 603.1,65.0 603.2,65.8 603.3,66.5 603.4,65.6 603.5,64.8 603.6,64.0 603.7,63.2 603.8,62.5 603.9,61.8 604.0,61.1 604.1,60.4 604.2,59.8 604.3,59.2 604.4,58.7 604.5,58.2 604.6,57.8 604.7,57.4 604.8,57.0 604.9,56.7 605.0,56.4 605.1,56.2 605.2,56.0 605.3,55.9 605.4,55.8 605.5,55.8 605.6,55.8 605.7,55.9 605.8,56.0 605.9,56.1 606.0,56.3 606.1,56.5 606.2,56.7 606.3,57.0 606.4,57.3 606.5,57.6 606.6,57.9 606.7,58.3 606.8,58.6 606.9,59.0 607.0,59.4 607.1,59.8 607.2,60.2 607.3,60.6 607.4,61.0 607.5,61.4 607.6,61.8 607.7,62.2 607.8,61.8 607.9,61.4 608.0,60.9 608.1,60.5 608.2,60.0 608.3,59.6 608.4,59.1 608.5,58.7 608.6,58.3 608.7,57.9 608.8,57.6 608.9,57.2 609.0,56.9 609.1,56.6 609.2,56.4 609.3,56.1 609.4,56.0 609.5,55.8 609.6,55.6 609.7,55.5 609.8,55.5 609.9,55.5 610.0,55.5 610.1,55.5 610.2,55.6 610.3,55.7 610.4,55.8 610.5,56.0 610.6,56.3 610.7,56.5 610.8,56.8 610.9,57.1 611.0,57.5 611.1,57.8 611.2,58.2 611.3,58.7 611.4,59.1 611.5,59.6 611.6,60.1 611.7,60.6 611.8,61.1 611.9,61.6 612.0,62.1 612.1,62.7 612.2,62.2 612.3,61.7 612.4,61.2 612.5,60.7 612.6,60.2 612.7,59.7 612.8,59.2 612.9,58.8 613.0,58.4 613.1,58.0 613.2,57.6 613.3,57.3 613.4,57.0 613.5,56.7 613.6,56.4 613.7,56.2 613.8,56.0 613.9,55.9 614.0,55.8 614.1,55.7 614.2,55.7 614.3,55.7 614.4,55.7 614.5,55.8 614.6,55.9 614.7,56.1 614.8,56.2 614.9,56.5 615.0,56.7 615.1,57.0 615.2,57.3 615.3,57.7 615.4,58.1 615.5,58.5 615.6,58.9 615.7,59.4 615.8,59.9 615.9,60.3 616.0,60.9 616.1,61.4 616.2,61.9 616.3,62.4 616.4,63.0 616.5,63.2 616.6,62.7 616.7,62.2 616.8,61.7 616.9,61.2 617.0,60.7 617.1,60.2 617.2,59.7 617.3,59.3 617.4,58.8 617.5,58.4 617.6,58.0 617.7,57.6 617.8,57.2 617.9,56.8 618.0,56.5 618.1,56.3 618.2,56.0 618.3,55.8 618.4,55.7 618.5,55.5 618.6,55.5 618.7,55.4 618.8,55.5 618.9,55.5 619.0,55.7 619.1,55.8 619.2,56.0 619.3,56.3 619.4,56.6 619.5,57.0 619.6,57.4 619.7,57.8 619.8,58.3 619.9,58.9 620.0,59.4 620.1,60.1 620.2,60.7 620.3,61.4 620.4,62.1 620.5,62.8 620.6,63.6 620.7,64.4 620.8,65.2 620.9,64.6 621.0,63.8 621.1,63.1 621.2,62.4 621.3,61.6 621.4,60.9 621.5,60.3 621.6,59.6 621.7,59.0 621.8,58.4 621.9,57.9 622.0,57.4 622.1,57.0 622.2,56.5 622.3,56.2 622.4,55.9 622.5,55.6 622.6,55.4 622.7,55.2 622.8,55.1 622.9,55.1 623.0,55.1 623.1,55.1 623.2,55.2 623.3,55.4 623.4,55.6 623.5,55.8 623.6,56.1 623.7,56.4 623.8,56.8 623.9,57.3 624.0,57.7 624.1,58.2 624.2,58.8 624.3,59.3 624.4,59.9 624.5,60.5 624.6,61.2 624.7,61.8 624.8,62.5 624.9,63.1 625.0,63.8 625.1,64.5 625.2,64.2 625.3,63.6 625.4,62.9 625.5,62.2 625.6,61.5 625.7,60.9 625.8,60.3 625.9,59.7 626.0,59.1 626.1,58.6 626.2,58.0 626.3,57.6 626.4,57.1 626.5,56.8 626.6,56.4 626.7,56.1 626.8,55.8 626.9,55.6 627.0,55.5 627.1,55.4 627.2,55.3 627.3,55.3 627.4,55.3 627.5,55.4 627.6,55.5 627.7,55.7 627.8,55.9 627.9,56.2 628.0,56.5 628.1,56.9 628.2,57.3 628.3,57.7 628.4,58.2 628.5,58.7 628.6,59.2 628.7,59.8 628.8,60.4 628.9,61.0 629.0,61.6 629.1,62.3 629.2,62.9 629.3,63.6 629.4,64.2 629.5,63.9 629.6,63.3 629.7,62.6 629.8,62.0 629.9,61.4 630.0,60.8 630.1,60.2 630.2,59.6 630.3,59.1 630.4,58.6 630.5,58.1 630.6,57.7 630.7,57.2 630.8,56.9 630.9,56.6 631.0,56.3 631.1,56.0 631.2,55.8 631.3,55.7 631.4,55.6 631.5,55.6 631.6,55.6 631.7,55.6 631.8,55.7 631.9,55.9 632.0,56.1 632.1,56.3 632.2,56.6 632.3,57.0 632.4,57.4 632.5,57.8 632.6,58.3 632.7,58.8 632.8,59.3 632.9,59.9 633.0,60.5 633.1,61.1 633.2,61.8 633.3,62.5 633.4,63.2 633.5,63.9 633.6,64.6 633.7,65.3 633.8,64.6 633.9,63.9 634.0,63.2 634.1,62.5 634.2,61.9 634.3,61.2 634.4,60.6 634.5,60.0 634.6,59.4 634.7,58.9 634.8,58.4 634.9,58.0 635.0,57.5 635.1,57.2 635.2,56.8 635.3,56.6 635.4,56.3 635.5,56.1 635.6,56.0 635.7,55.9 635.8,55.9 635.9,55.9 636.0,56.0 636.1,56.1 636.2,56.3 636.3,56.5 636.4,56.7 636.5,57.1" fill="none" stroke="#ff0000" stroke-width="1.35" stroke-linejoin="round"/></g>
<polyline points="390.5,62.6 391.7,62.6 393.0,62.5 394.2,62.5 395.4,62.5 396.7,62.5 397.9,62.5 399.2,62.4 400.4,62.4 401.6,62.4 402.9,62.4 404.1,62.4 405.3,62.3 406.6,62.3 407.8,62.3 409.0,62.3 410.3,62.3 411.5,62.2 412.8,62.2 414.0,62.2 415.2,62.2 416.5,62.2 417.7,62.1 418.9,62.1 420.2,62.1 421.4,62.1 422.6,62.1 423.9,62.1 425.1,62.0 426.3,62.0 427.6,62.0 428.8,62.0 430.1,62.0 431.3,61.9 432.5,61.9 433.8,61.9 435.0,61.9 436.2,61.9 437.5,61.8 438.7,61.8 439.9,61.8 441.2,61.8 442.4,61.8 443.7,61.7 444.9,61.7 446.1,61.7 447.4,61.7 448.6,61.7 449.8,61.6 451.1,61.6 452.3,61.6 453.5,61.6 454.8,61.6 456.0,61.5 457.3,61.5 458.5,61.5 459.7,61.5 461.0,61.5 462.2,61.4 463.4,61.4 464.7,61.4 465.9,61.4 467.1,61.4 468.4,61.3 469.6,61.3 470.9,61.3 472.1,61.3 473.3,61.3 474.6,61.2 475.8,61.2 477.0,61.2 478.3,61.2 479.5,61.2 480.7,61.1 482.0,61.1 483.2,61.1 484.4,61.1 485.7,61.1 486.9,61.1 488.2,61.0 489.4,61.0 490.6,61.0 491.9,61.0 493.1,61.0 494.3,60.9 495.6,60.9 496.8,60.9 498.0,60.9 499.3,60.9 500.5,60.8 501.8,60.8 503.0,60.8 504.2,60.8 505.5,60.8 506.7,60.7 507.9,60.7 509.2,60.7 510.4,60.7 511.6,60.7 512.9,60.6 514.1,60.6 515.4,60.6 516.6,60.6 517.8,60.6 519.1,60.5 520.3,60.5 521.5,60.5 522.8,60.5 524.0,60.5 525.2,60.4 526.5,60.4 527.7,60.4 529.0,60.4 530.2,60.4 531.4,60.3 532.7,60.3 533.9,60.3 535.1,60.3 536.4,60.3 537.6,60.2 538.8,60.2 540.1,60.2 541.3,60.2 542.6,60.2 543.8,60.1 545.0,60.1 546.3,60.1 547.5,60.1 548.7,60.1 550.0,60.1 551.2,60.0 552.4,60.0 553.7,60.0 554.9,60.0 556.1,60.0 557.4,59.9 558.6,59.9 559.9,59.9 561.1,59.9 562.3,59.9 563.6,59.8 564.8,59.8 566.0,59.8 567.3,59.8 568.5,59.8 569.7,59.7 571.0,59.7 572.2,59.7 573.5,59.7 574.7,59.7 575.9,59.6 577.2,59.6 578.4,59.6 579.6,59.6 580.9,59.6 582.1,59.5 583.3,59.5 584.6,59.5 585.8,59.5 587.1,59.5 588.3,59.4 589.5,59.4 590.8,59.4 592.0,59.4 593.2,59.4 594.5,59.3 595.7,59.3 596.9,59.3 598.2,59.3 599.4,59.3 600.7,59.2 601.9,59.2 603.1,59.2 604.4,59.2 605.6,59.2 606.8,59.2 608.1,59.1 609.3,59.1 610.5,59.1 611.8,59.1 613.0,59.1 614.2,59.0 615.5,59.0 616.7,59.0 618.0,59.0 619.2,59.0 620.4,58.9 621.7,58.9 622.9,58.9 624.1,58.9 625.4,58.9 626.6,58.8 627.8,58.8 629.1,58.8 630.3,58.8 631.6,58.8 632.8,58.7 634.0,58.7 635.3,58.7 636.5,58.7" fill="none" stroke="#111" stroke-width="0.95" stroke-dasharray="6,1,1.5,1"/>
<g clip-path="url(#c01)"><polyline points="65.6,142.8 65.6,146.0 65.7,152.0 65.7,154.6 65.8,157.2 65.8,159.3 65.9,160.5 65.9,163.8 66.0,166.0 66.0,166.2 66.1,163.5 66.1,160.8 66.2,159.3 66.2,157.2 66.3,156.2 66.3,155.3 66.4,153.0 66.4,151.6 66.5,150.8 66.5,151.7 66.6,151.3 66.6,150.8 66.7,150.0 66.7,150.0 66.8,149.4 66.8,148.2 66.9,147.6 66.9,146.0 67.0,150.4 67.0,154.1 67.1,157.8 67.1,161.2 67.2,163.9 67.2,165.2 67.3,168.0 67.3,169.2 67.4,167.7 67.4,165.4 67.5,163.0 67.5,159.6 67.6,157.6 67.6,155.1 67.7,152.3 67.7,150.6 67.8,150.5 67.8,151.3 67.9,150.8 67.9,152.3 68.0,153.2 68.0,152.6 68.1,151.8 68.1,151.2 68.2,151.1 68.2,150.8 68.3,152.7 68.3,154.0 68.4,156.0 68.4,159.0 68.5,160.9 68.5,162.7 68.6,164.6 68.6,166.5 68.7,165.4 68.7,164.5 68.8,162.5 68.8,160.2 68.9,158.2 68.9,157.7 69.0,155.6 69.0,152.0 69.1,151.0 69.1,151.3 69.2,152.2 69.2,151.8 69.2,152.3 69.3,151.8 69.3,150.4 69.4,151.6 69.4,150.7 69.5,150.6 69.5,152.4 69.6,154.9 69.6,156.7 69.7,158.3 69.7,161.0 69.8,162.2 69.8,165.2 69.9,164.9 69.9,164.3 70.0,162.1 70.0,160.3 70.1,157.7 70.1,155.8 70.2,153.3 70.2,152.5 70.3,151.9 70.3,152.3 70.4,152.2 70.4,152.1 70.5,151.9 70.5,151.4 70.6,151.5 70.6,151.5 70.7,151.3 70.7,151.7 70.8,151.9 70.8,151.0 70.9,151.1 70.9,148.8 71.0,144.5 71.0,141.6 71.1,137.7 71.1,135.6 71.2,140.6 71.2,146.9 71.3,153.6 71.3,159.3 71.4,161.8 71.4,163.1 71.5,164.8 71.5,168.8 71.6,168.6 71.6,165.6 71.7,162.4 71.7,160.8 71.8,158.5 71.8,156.2 71.9,154.1 71.9,151.1 72.0,150.5 72.0,150.4 72.1,149.9 72.1,150.3 72.2,150.9 72.2,151.3 72.3,152.0 72.3,151.8 72.4,150.9 72.4,150.5 72.5,149.3 72.5,150.4 72.6,151.2 72.6,152.7 72.7,156.5 72.7,158.4 72.7,160.3 72.8,162.9 72.8,164.8 72.9,166.9 72.9,166.8 73.0,165.3 73.0,162.4 73.1,159.9 73.1,157.7 73.2,155.0 73.2,154.4 73.3,152.9 73.3,151.3 73.4,151.2 73.4,151.4 73.5,151.2 73.5,151.1 73.6,151.3 73.6,150.9 73.7,151.3 73.7,151.4 73.8,151.6 73.8,151.0 73.9,151.0 73.9,150.7 74.0,150.8 74.0,150.6 74.1,150.8 74.1,151.3 74.2,151.6 74.2,151.1 74.3,151.4 74.3,151.0 74.4,150.3 74.4,151.1 74.5,151.5 74.5,152.5 74.6,152.5 74.6,151.7 74.7,150.7 74.7,152.5 74.8,152.5 74.8,151.5 74.9,152.0 74.9,152.9 75.0,151.9 75.0,151.6 75.1,150.9 75.1,149.8 75.2,150.0 75.2,150.3 75.3,151.4 75.3,151.6 75.4,151.3 75.4,151.0 75.5,151.0 75.5,151.9 75.6,152.3 75.6,151.8 75.7,151.4 75.7,152.0 75.8,151.1 75.8,151.9 75.9,150.3 75.9,150.3 76.0,151.4 76.0,150.6 76.1,150.9 76.1,150.4 76.2,150.3 76.2,149.9 76.3,150.6 76.3,150.7 76.3,150.5 76.4,150.4 76.4,150.3 76.5,149.3 76.5,145.5 76.6,141.9 76.6,138.5 76.7,135.4 76.7,139.8 76.8,145.5 76.8,152.1 76.9,157.0 76.9,161.5 77.0,163.8 77.0,165.2 77.1,165.3 77.1,163.7 77.2,162.4 77.2,161.5 77.3,158.0 77.3,155.9 77.4,153.6 77.4,150.5 77.5,150.0 77.5,150.4 77.6,151.4 77.6,149.9 77.7,151.6 77.7,151.0 77.8,151.2 77.8,150.9 77.9,151.3 77.9,151.1 78.0,152.3 78.0,151.9 78.1,151.0 78.1,151.4 78.2,151.8 78.2,151.7 78.3,152.7 78.3,152.6 78.4,154.0 78.4,156.2 78.5,157.4 78.5,158.6 78.6,161.4 78.6,163.7 78.7,166.1 78.7,167.8 78.8,165.6 78.8,164.4 78.9,162.2 78.9,159.2 79.0,157.9 79.0,153.6 79.1,151.0 79.1,150.2 79.2,150.7 79.2,150.7 79.3,150.3 79.3,151.6 79.4,151.4 79.4,151.4 79.5,151.4 79.5,150.1 79.6,150.8 79.6,153.2 79.7,154.6 79.7,156.5 79.8,159.7 79.8,162.0 79.9,165.1 79.9,167.5 79.9,168.0 80.0,165.0 80.0,163.3 80.1,161.5 80.1,157.6 80.2,155.8 80.2,155.2 80.3,152.7 80.3,152.5 80.4,152.0 80.4,150.4 80.5,150.3 80.5,150.6 80.6,151.1 80.6,151.4 80.7,151.3 80.7,152.2 80.8,153.9 80.8,156.6 80.9,158.2 80.9,161.4 81.0,164.9 81.0,166.3 81.1,168.6 81.1,168.1 81.2,165.6 81.2,164.0 81.3,161.2 81.3,159.2 81.4,157.1 81.4,154.4 81.5,151.4 81.5,151.3 81.6,151.7 81.6,151.3 81.7,150.9 81.7,150.9 81.8,151.1 81.8,150.2 81.9,149.9 81.9,149.8 82.0,150.3 82.0,150.9 82.1,150.6 82.1,147.0 82.2,143.5 82.2,141.5 82.3,137.2 82.3,141.2 82.4,145.1 82.4,151.6 82.5,158.0 82.5,162.3 82.6,164.6 82.6,165.7 82.7,168.2 82.7,167.9 82.8,166.0 82.8,162.5 82.9,159.5 82.9,157.2 83.0,155.7 83.0,154.2 83.1,151.6 83.1,150.8 83.2,151.3 83.2,151.4 83.3,150.2 83.3,150.7 83.4,150.2 83.4,151.0 83.5,150.6 83.5,151.4 83.5,150.9 83.6,150.4 83.6,150.4 83.7,149.5 83.7,150.9 83.8,151.9 83.8,153.6 83.9,155.6 83.9,157.1 84.0,158.3 84.0,161.7 84.1,163.4 84.1,165.6 84.2,165.0 84.2,163.8 84.3,161.2 84.3,159.2 84.4,158.0 84.4,155.2 84.5,154.1 84.5,151.6 84.6,151.3 84.6,151.0 84.7,151.6 84.7,151.4 84.8,150.6 84.8,151.4 84.9,150.9 84.9,150.9 85.0,151.6 85.0,151.2 85.1,153.3 85.1,155.1 85.2,156.6 85.2,158.8 85.3,158.1 85.3,160.0 85.4,162.7 85.4,165.5 85.5,165.5 85.5,163.7 85.6,161.5 85.6,160.3 85.7,157.0 85.7,155.3 85.8,153.8 85.8,151.2 85.9,150.4 85.9,151.6 86.0,150.8 86.0,151.1 86.1,150.2 86.1,150.3 86.2,151.8 86.2,151.2 86.3,150.4 86.3,150.2 86.4,149.2 86.4,150.0 86.5,150.5 86.5,152.2 86.6,153.0 86.6,154.5 86.7,156.2 86.7,158.5 86.8,160.7 86.8,163.4 86.9,165.3 86.9,166.9 87.0,166.4 87.0,164.5 87.0,161.9 87.1,160.1 87.1,157.9 87.2,156.0 87.2,155.1 87.3,152.1 87.3,150.9 87.4,150.3 87.4,150.7 87.5,151.6 87.5,152.0 87.6,152.1 87.6,149.9 87.7,145.1 87.7,141.0 87.8,137.4 87.8,137.4 87.9,141.2 87.9,144.5 88.0,148.5 88.0,151.5 88.1,152.2 88.1,153.8 88.2,154.9 88.2,157.1 88.3,159.4 88.3,161.6 88.4,164.7 88.4,168.1 88.5,169.7 88.5,166.6 88.6,163.3 88.6,161.9 88.7,159.1 88.7,156.8 88.8,155.1 88.8,151.5 88.9,151.0 88.9,152.1 89.0,152.0 89.0,150.9 89.1,150.1 89.1,150.5 89.2,150.7 89.2,151.1 89.3,150.8 89.3,151.6 89.4,153.4 89.4,152.5 89.5,151.7 89.5,152.7 89.6,153.6 89.6,155.3 89.7,158.2 89.7,159.8 89.8,163.0 89.8,164.9 89.9,167.0 89.9,165.0 90.0,162.2 90.0,160.9 90.1,158.3 90.1,156.7 90.2,154.0 90.2,153.7 90.3,151.6 90.3,151.5 90.4,151.2 90.4,150.5 90.5,151.5 90.5,150.9 90.6,150.1 90.6,150.4 90.6,151.1 90.7,150.9 90.7,149.7 90.8,148.8 90.8,150.6 90.9,150.7 90.9,152.4 91.0,155.4 91.0,158.5 91.1,162.1 91.1,164.3 91.2,165.4 91.2,162.9 91.3,161.2 91.3,160.3 91.4,158.3 91.4,156.0 91.5,154.6 91.5,152.1 91.6,151.2 91.6,150.3 91.7,150.0 91.7,150.1 91.8,149.8 91.8,150.9 91.9,152.9 91.9,155.7 92.0,157.6 92.0,160.6 92.1,161.6 92.1,163.1 92.2,165.4 92.2,163.8 92.3,161.8 92.3,160.4 92.4,159.4 92.4,157.4 92.5,155.5 92.5,152.6 92.6,150.8 92.6,150.5 92.7,150.4 92.7,151.6 92.8,151.5 92.8,151.3 92.9,151.6 92.9,150.4 93.0,150.3 93.0,150.3 93.1,150.5 93.1,149.9 93.2,146.7 93.2,143.2 93.3,140.3 93.3,136.6 93.4,139.4 93.4,142.0 93.5,146.1 93.5,149.6 93.6,151.6 93.6,151.0 93.7,150.2 93.7,152.0 93.8,154.3 93.8,157.2 93.9,160.4 93.9,161.7 94.0,164.0 94.0,166.8 94.1,168.4 94.1,166.4 94.2,164.0 94.2,161.9 94.2,159.9 94.3,157.4 94.3,155.3 94.4,154.2 94.4,151.6 94.5,151.2 94.5,151.3 94.6,150.6 94.6,149.9 94.7,150.0 94.7,151.3 94.8,153.2 94.8,157.1 94.9,159.3 94.9,160.5 95.0,163.1 95.0,165.3 95.1,168.0 95.1,167.5 95.2,164.7 95.2,163.7 95.3,161.7 95.3,158.8 95.4,156.2 95.4,154.4 95.5,152.3 95.5,151.0 95.6,151.4 95.6,150.4 95.7,150.8 95.7,150.4 95.8,150.7 95.8,150.6 95.9,152.0 95.9,150.9 96.0,150.9 96.0,151.2 96.1,152.5 96.1,151.5 96.2,152.4 96.2,153.7 96.3,156.2 96.3,158.4 96.4,161.1 96.4,164.3 96.5,166.2 96.5,167.1 96.6,168.4 96.6,165.3 96.7,164.0 96.7,160.7 96.8,159.7 96.8,157.5 96.9,154.8 96.9,152.4 97.0,152.4 97.0,151.8 97.1,151.1 97.1,150.9 97.2,151.2 97.2,150.6 97.3,150.3 97.3,149.7 97.4,150.2 97.4,151.9 97.5,150.7 97.5,150.9 97.6,151.1 97.6,150.9 97.7,150.8 97.7,151.4 97.8,151.9 97.8,151.4 97.8,150.7 97.9,151.0 97.9,151.0 98.0,151.6 98.0,151.1 98.1,152.2 98.1,151.6 98.2,151.4 98.2,150.1 98.3,150.2 98.3,149.6 98.4,151.1 98.4,151.9 98.5,151.9 98.5,152.6 98.6,151.8 98.6,147.8 98.7,145.1 98.7,142.0 98.8,139.7 98.8,140.1 98.9,142.7 98.9,145.2 99.0,148.2 99.0,150.4 99.1,150.6 99.1,150.8 99.2,150.6 99.2,152.8 99.3,156.2 99.3,158.5 99.4,161.1 99.4,162.1 99.5,163.9 99.5,166.3 99.6,166.5 99.6,164.9 99.7,163.0 99.7,160.2 99.8,158.0 99.8,156.5 99.9,154.4 99.9,152.9 100.0,151.0 100.0,151.3 100.1,151.0 100.1,154.2 100.2,157.0 100.2,158.5 100.3,160.8 100.3,163.6 100.4,164.2 100.4,167.2 100.5,167.0 100.5,165.0 100.6,163.0 100.6,161.0 100.7,159.7 100.7,159.3 100.8,154.9 100.8,152.4 100.9,150.8 100.9,152.5 101.0,151.0 101.0,151.4 101.1,152.1 101.1,150.6 101.2,150.7 101.2,151.4 101.3,151.4 101.3,150.6 101.3,149.6 101.4,150.0 101.4,150.4 101.5,149.4 101.5,150.7 101.6,150.2 101.6,152.3 101.7,154.7 101.7,157.3 101.8,159.5 101.8,161.0 101.9,161.9 101.9,164.0 102.0,166.2 102.0,163.5 102.1,161.9 102.1,160.5 102.2,158.0 102.2,156.4 102.3,153.6 102.3,152.7 102.4,152.0 102.4,152.1 102.5,152.0 102.5,151.8 102.6,151.9 102.6,153.7 102.7,156.1 102.7,157.7 102.8,158.4 102.8,160.9 102.9,163.0 102.9,164.6 103.0,165.1 103.0,162.7 103.1,161.0 103.1,158.2 103.2,157.3 103.2,155.5 103.3,153.2 103.3,152.2 103.4,151.0 103.4,151.6 103.5,151.1 103.5,150.3 103.6,151.4 103.6,150.7 103.7,151.8 103.7,151.6 103.8,152.0 103.8,151.6 103.9,151.9 103.9,151.8 104.0,150.0 104.0,150.0 104.1,147.5 104.1,144.1 104.2,140.5 104.2,137.6 104.3,135.3 104.3,139.9 104.4,146.4 104.4,150.8 104.5,156.5 104.5,160.6 104.6,162.9 104.6,165.8 104.7,168.0 104.7,165.3 104.8,164.4 104.8,161.5 104.9,160.0 104.9,157.0 104.9,154.7 105.0,153.9 105.0,151.9 105.1,151.4 105.1,151.1 105.2,150.9 105.2,151.4 105.3,151.1 105.3,150.7 105.4,150.7 105.4,150.2 105.5,150.7 105.5,151.6 105.6,153.8 105.6,156.1 105.7,158.6 105.7,159.3 105.8,160.8 105.8,163.6 105.9,165.5 105.9,164.8 106.0,162.2 106.0,160.9 106.1,158.8 106.1,157.6 106.2,156.2 106.2,154.7 106.3,150.9 106.3,151.3 106.4,150.8 106.4,150.3 106.5,151.2 106.5,151.5 106.6,151.3 106.6,151.8 106.7,151.4 106.7,152.0 106.8,151.7 106.8,151.3 106.9,150.5 106.9,150.4 107.0,152.4 107.0,155.4 107.1,157.0 107.1,159.0 107.2,160.6 107.2,162.4 107.3,164.3 107.3,165.5 107.4,162.8 107.4,161.3 107.5,160.1 107.5,158.8 107.6,156.4 107.6,153.2 107.7,151.0 107.7,149.8 107.8,151.1 107.8,151.0 107.9,151.5 107.9,150.7 108.0,150.8 108.0,151.2 108.1,151.6 108.1,151.6 108.2,151.0 108.2,150.5 108.3,151.1 108.3,149.9 108.4,150.0 108.4,149.0 108.5,148.7 108.5,149.9 108.5,149.9 108.6,151.5 108.6,150.5 108.7,152.4 108.7,152.6 108.8,152.0 108.8,152.8 108.9,150.3 108.9,151.4 109.0,151.1 109.0,152.2 109.1,151.7 109.1,151.9 109.2,151.2 109.2,152.5 109.3,151.4 109.3,151.7 109.4,152.0 109.4,151.5 109.5,149.6 109.5,145.9 109.6,142.1 109.6,138.8 109.7,136.1 109.7,138.9 109.8,142.1 109.8,146.2 109.9,152.1 109.9,155.6 110.0,157.4 110.0,160.5 110.1,162.4 110.1,163.4 110.2,166.2 110.2,166.0 110.3,165.2 110.3,163.5 110.4,159.7 110.4,159.9 110.5,155.9 110.5,153.9 110.6,151.8 110.6,151.7 110.7,150.6 110.7,150.4 110.8,149.9 110.8,149.4 110.9,151.1 110.9,150.0 111.0,147.3 111.0,145.2 111.1,144.4 111.1,144.6 111.2,146.3 111.2,148.2 111.3,150.3 111.3,152.1 111.4,153.6 111.4,156.1 111.5,158.6 111.5,160.9 111.6,163.7 111.6,165.6 111.7,167.9 111.7,164.7 111.8,163.1 111.8,161.0 111.9,159.7 111.9,157.7 112.0,154.8 112.0,152.8 112.0,150.1 112.1,151.3 112.1,151.2 112.2,150.3 112.2,151.9 112.3,151.3 112.3,152.2 112.4,153.0 112.4,152.3 112.5,152.6 112.5,154.3 112.6,156.2 112.6,158.4 112.7,160.4 112.7,162.6 112.8,164.4 112.8,164.9 112.9,163.2 112.9,162.5 113.0,160.6 113.0,158.7 113.1,156.6 113.1,154.8 113.2,153.1 113.2,152.7 113.3,152.8 113.3,152.5 113.4,152.3 113.4,150.6 113.5,151.7 113.5,151.6 113.6,150.0 113.6,150.8 113.7,150.3 113.7,150.1 113.8,151.4 113.8,151.3 113.9,149.2 113.9,150.6 114.0,151.6 114.0,150.6 114.1,150.1 114.1,150.0 114.2,151.0 114.2,151.9 114.3,151.5 114.3,151.2 114.4,152.2 114.4,152.5 114.5,152.2 114.5,152.3 114.6,150.0 114.6,150.0 114.7,150.6 114.7,151.4 114.8,151.6 114.8,152.3 114.9,151.3 114.9,145.8 115.0,143.6 115.0,139.1 115.1,134.6 115.1,137.1 115.2,141.8 115.2,145.8 115.3,149.8 115.3,151.5 115.4,151.1 115.4,150.5 115.5,150.9 115.5,150.1 115.6,150.5 115.6,151.4 115.6,152.0 115.7,151.1 115.7,152.4 115.8,151.5 115.8,152.0 115.9,150.7 115.9,150.5 116.0,150.3 116.0,150.6 116.1,150.9 116.1,150.8 116.2,150.2 116.2,150.4 116.3,150.7 116.3,149.9 116.4,151.2 116.4,150.3 116.5,149.7 116.5,152.5 116.6,153.6 116.6,155.4 116.7,157.3 116.7,159.7 116.8,162.7 116.8,164.5 116.9,167.3 116.9,169.8 117.0,166.6 117.0,164.1 117.1,161.4 117.1,158.4 117.2,157.8 117.2,154.7 117.3,152.7 117.3,151.0 117.4,150.7 117.4,149.8 117.5,150.7 117.5,151.3 117.6,152.3 117.6,151.4 117.7,151.3 117.7,150.3 117.8,150.4 117.8,150.4 117.9,150.6 117.9,150.7 118.0,150.7 118.0,149.7 118.1,150.5 118.1,150.5 118.2,149.9 118.2,149.4 118.3,150.2 118.3,150.8 118.4,150.1 118.4,151.2 118.5,151.7 118.5,151.7 118.6,151.6 118.6,152.2 118.7,151.4 118.7,151.8 118.8,151.6 118.8,151.7 118.9,153.0 118.9,151.1 119.0,151.1 119.0,150.8 119.1,150.8 119.1,151.0 119.2,150.3 119.2,150.8 119.2,150.3 119.3,151.6 119.3,149.9 119.4,150.6 119.4,150.4 119.5,150.9 119.5,151.0 119.6,151.0 119.6,153.5 119.7,151.8 119.7,153.0 119.8,152.7 119.8,151.8 119.9,150.4 119.9,151.2 120.0,151.2 120.0,152.7 120.1,152.6 120.1,151.8 120.2,152.1 120.2,150.4 120.3,145.5 120.3,141.5 120.4,137.4 120.4,134.0 120.5,140.2 120.5,147.2 120.6,152.8 120.6,158.3 120.7,159.8 120.7,161.9 120.8,163.8 120.8,165.3 120.9,162.2 120.9,161.0 121.0,157.7 121.0,157.2 121.1,154.7 121.1,153.7 121.2,151.7 121.2,150.6 121.3,151.8 121.3,150.6 121.4,150.1 121.4,151.2 121.5,152.7 121.5,151.9 121.6,152.3 121.6,152.2 121.7,152.0 121.7,151.0 121.8,150.4 121.8,150.7 121.9,149.9 121.9,151.0 122.0,150.3 122.0,152.2 122.1,153.5 122.1,155.0 122.2,156.3 122.2,158.4 122.3,161.7 122.3,162.7 122.4,164.6 122.4,165.2 122.5,164.3 122.5,162.4 122.6,160.0 122.6,157.3 122.7,155.3 122.7,153.5 122.8,151.6 122.8,151.0 122.8,150.9 122.9,151.2 122.9,150.3 123.0,151.7 123.0,152.0 123.1,151.7 123.1,152.5 123.2,155.6 123.2,156.2 123.3,157.7 123.3,160.3 123.4,163.8 123.4,165.8 123.5,167.3 123.5,165.3 123.6,163.5 123.6,162.3 123.7,159.2 123.7,156.6 123.8,155.2 123.8,154.1 123.9,150.4 123.9,149.9 124.0,150.3 124.0,150.9 124.1,150.7 124.1,151.1 124.2,151.4 124.2,151.1 124.3,151.5 124.3,153.0 124.4,155.6 124.4,158.3 124.5,160.1 124.5,161.9 124.6,163.8 124.6,166.4 124.7,164.9 124.7,164.0 124.8,161.1 124.8,158.2 124.9,156.2 124.9,154.6 125.0,152.5 125.0,152.3 125.1,150.4 125.1,151.2 125.2,150.9 125.2,150.6 125.3,151.4 125.3,151.4 125.4,151.6 125.4,151.0 125.5,149.9 125.5,150.0 125.6,149.3 125.6,145.6 125.7,142.6 125.7,138.7 125.8,137.0 125.8,140.3 125.9,142.2 125.9,146.0 126.0,148.8 126.0,149.6 126.1,151.1 126.1,151.6 126.2,153.9 126.2,156.4 126.3,157.9 126.3,160.6 126.3,162.4 126.4,164.9 126.4,166.8 126.5,165.9 126.5,163.3 126.6,161.0 126.6,159.9 126.7,157.1 126.7,154.3 126.8,152.9 126.8,151.7 126.9,151.3 126.9,151.4 127.0,150.0 127.0,149.3 127.1,149.6 127.1,149.9 127.2,154.5 127.2,157.2 127.3,160.2 127.3,163.2 127.4,165.8 127.4,168.1 127.5,165.7 127.5,163.7 127.6,161.6 127.6,160.2 127.7,158.0 127.7,155.1 127.8,151.5 127.8,151.7 127.9,151.3 127.9,151.0 128.0,151.0 128.0,151.5 128.1,151.3 128.1,151.0 128.2,150.7 128.2,151.2 128.3,151.8 128.3,152.0 128.4,151.8 128.4,151.4 128.5,151.4 128.5,151.1 128.6,150.4 128.6,149.8 128.7,151.0 128.7,151.9 128.8,151.3 128.8,150.5 128.9,151.3 128.9,151.1 129.0,151.7 129.0,151.6 129.1,151.7 129.1,150.8 129.2,150.7 129.2,150.7 129.3,150.7 129.3,151.1 129.4,150.1 129.4,150.8 129.5,150.0 129.5,150.8 129.6,151.2 129.6,151.6 129.7,151.2 129.7,151.7 129.8,151.6 129.8,152.9 129.9,152.5 129.9,152.5 129.9,150.9 130.0,149.9 130.0,150.9 130.1,150.2 130.1,151.5 130.2,150.8 130.2,151.3 130.3,150.6 130.3,150.9 130.4,149.8 130.4,151.2 130.5,151.8 130.5,150.9 130.6,151.2 130.6,150.6 130.7,150.8 130.7,151.3 130.8,150.6 130.8,150.3 130.9,148.3 130.9,143.2 131.0,139.6 131.0,136.8 131.1,139.0 131.1,144.8 131.2,152.0 131.2,157.8 131.3,162.9 131.3,163.2 131.4,165.7 131.4,167.5 131.5,165.8 131.5,163.1 131.6,160.5 131.6,156.9 131.7,155.2 131.7,152.8 131.8,151.2 131.8,151.0 131.9,151.3 131.9,150.5 132.0,150.0 132.0,150.8 132.1,149.9 132.1,149.9 132.2,150.4 132.2,150.5 132.3,150.3 132.3,150.5 132.4,150.8 132.4,151.0 132.5,153.2 132.5,155.0 132.6,157.5 132.6,159.3 132.7,160.5 132.7,163.1 132.8,165.2 132.8,168.1 132.9,165.3 132.9,163.6 133.0,159.7 133.0,158.8 133.1,156.5 133.1,153.7 133.2,150.7 133.2,151.4 133.3,150.7 133.3,151.0 133.4,149.9 133.4,149.8 133.5,150.7 133.5,150.5 133.5,151.0 133.6,151.0 133.6,150.5 133.7,151.5 133.7,151.1 133.8,152.6 133.8,154.6 133.9,158.1 133.9,160.3 134.0,161.8 134.0,164.3 134.1,166.3 134.1,170.0 134.2,168.7 134.2,165.7 134.3,163.2 134.3,160.7 134.4,157.9 134.4,155.1 134.5,152.7 134.5,151.7 134.6,152.2 134.6,152.0 134.7,151.4 134.7,151.1 134.8,150.7 134.8,151.5 134.9,151.6 134.9,150.8 135.0,151.1 135.0,150.2 135.1,149.7 135.1,150.4 135.2,150.8 135.2,151.9 135.3,152.2 135.3,151.3 135.4,150.7 135.4,152.3 135.5,152.1 135.5,151.8 135.6,151.4 135.6,152.6 135.7,151.6 135.7,150.6 135.8,151.8 135.8,151.1 135.9,150.6 135.9,150.7 136.0,151.6 136.0,150.4 136.1,150.2 136.1,151.5 136.2,147.9 136.2,144.2 136.3,139.8 136.3,135.5 136.4,136.8 136.4,141.3 136.5,145.1 136.5,151.1 136.6,155.9 136.6,157.8 136.7,160.8 136.7,163.1 136.8,165.0 136.8,166.4 136.9,167.3 136.9,164.9 137.0,162.7 137.0,160.1 137.0,158.6 137.1,156.2 137.1,154.3 137.2,150.8 137.2,150.4 137.3,150.5 137.3,151.7 137.4,151.1 137.4,151.2 137.5,150.0 137.5,150.5 137.6,151.1 137.6,151.6 137.7,150.9 137.7,152.1 137.8,150.5 137.8,150.7 137.9,152.3 137.9,154.7 138.0,157.3 138.0,159.7 138.1,161.5 138.1,164.1 138.2,166.2 138.2,166.5 138.3,164.5 138.3,163.4 138.4,160.6 138.4,157.2 138.5,155.5 138.5,153.7 138.6,152.8 138.6,152.2 138.7,150.2 138.7,151.2 138.8,151.2 138.8,151.8 138.9,151.8 138.9,150.4 139.0,150.1 139.0,151.9 139.1,154.0 139.1,155.7 139.2,158.3 139.2,160.8 139.3,161.1 139.3,162.8 139.4,166.4 139.4,163.4 139.5,163.0 139.5,160.9 139.6,159.0 139.6,156.9 139.7,154.7 139.7,152.9 139.8,150.7 139.8,150.6 139.9,151.5 139.9,152.5 140.0,152.3 140.0,152.3 140.1,151.5 140.1,151.9 140.2,151.3 140.2,150.1 140.3,151.3 140.3,151.1 140.4,150.1 140.4,149.6 140.5,149.5 140.5,150.5 140.6,151.7 140.6,152.6 140.6,152.6 140.7,152.5 140.7,152.7 140.8,152.3 140.8,151.2 140.9,150.8 140.9,150.7 141.0,149.6 141.0,150.0 141.1,151.0 141.1,150.0 141.2,150.7 141.2,151.2 141.3,151.2 141.3,149.6 141.4,149.0 141.4,145.7 141.5,142.1 141.5,138.4 141.6,136.8 141.6,140.2 141.7,144.7 141.7,149.7 141.8,155.5 141.8,157.2 141.9,159.9 141.9,162.8 142.0,165.2 142.0,166.2 142.1,164.3 142.1,162.3 142.2,161.4 142.2,159.4 142.3,157.5 142.3,154.3 142.4,152.3 142.4,151.5 142.5,151.6 142.5,150.4 142.6,150.7 142.6,150.3 142.7,149.9 142.7,150.6 142.8,150.7 142.8,151.3 142.9,152.0 142.9,151.9 143.0,151.2 143.0,151.0 143.1,153.1 143.1,155.2 143.2,158.9 143.2,160.9 143.3,163.0 143.3,165.1 143.4,166.5 143.4,164.7 143.5,163.9 143.5,161.4 143.6,159.5 143.6,157.5 143.7,154.1 143.7,151.4 143.8,150.6 143.8,150.8 143.9,151.6 143.9,151.7 144.0,151.6 144.0,151.3 144.1,152.8 144.1,154.3 144.2,156.7 144.2,158.7 144.2,161.8 144.3,164.9 144.3,167.0 144.4,169.3 144.4,167.3 144.5,166.6 144.5,163.5 144.6,159.6 144.6,157.7 144.7,154.1 144.7,152.0 144.8,151.0 144.8,150.4 144.9,150.5 144.9,150.8 145.0,150.0 145.0,149.6 145.1,150.2 145.1,148.9 145.2,149.7 145.2,151.1 145.3,150.2 145.3,151.5 145.4,153.8 145.4,156.7 145.5,158.1 145.5,161.4 145.6,162.8 145.6,166.1 145.7,167.7 145.7,164.1 145.8,162.7 145.8,159.6 145.9,158.7 145.9,155.6 146.0,154.2 146.0,151.8 146.1,150.8 146.1,151.2 146.2,150.7 146.2,151.7 146.3,151.1 146.3,151.6 146.4,152.8 146.4,150.8 146.5,151.1 146.5,151.3 146.6,150.8 146.6,147.9 146.7,143.0 146.7,137.8 146.8,132.5 146.8,133.9 146.9,138.2 146.9,143.6 147.0,148.7 147.0,151.3 147.1,152.0 147.1,153.8 147.2,156.9 147.2,159.1 147.3,161.5 147.3,163.3 147.4,165.1 147.4,167.9 147.5,165.6 147.5,163.2 147.6,160.7 147.6,158.4 147.7,155.5 147.7,153.5 147.8,151.1 147.8,151.1 147.8,151.1 147.9,151.9 147.9,151.7 148.0,150.9 148.0,150.1 148.1,150.8 148.1,150.8 148.2,151.0 148.2,150.4 148.3,150.2 148.3,150.2 148.4,149.8 148.4,149.8 148.5,151.3 148.5,151.4 148.6,152.2 148.6,152.3 148.7,152.7 148.7,151.6 148.8,152.4 148.8,151.7 148.9,151.0 148.9,150.9 149.0,151.0 149.0,150.7 149.1,151.0 149.1,150.7 149.2,151.5 149.2,150.9 149.3,151.5 149.3,150.9 149.4,151.5 149.4,151.9 149.5,151.1 149.5,150.4 149.6,150.5 149.6,150.5 149.7,151.4 149.7,151.3 149.8,150.8 149.8,150.6 149.9,150.0 149.9,150.1 150.0,150.5 150.0,151.7 150.1,150.8 150.1,152.5 150.2,151.6 150.2,151.4 150.3,150.9 150.3,151.0 150.4,150.4 150.4,150.9 150.5,149.7 150.5,151.0 150.6,153.7 150.6,156.6 150.7,159.0 150.7,162.6 150.8,165.9 150.8,166.8 150.9,170.6 150.9,168.5 151.0,165.6 151.0,161.9 151.1,159.4 151.1,156.5 151.2,153.6 151.2,151.2 151.3,150.5 151.3,150.7 151.3,151.5 151.4,151.6 151.4,152.2 151.5,151.6 151.5,151.2 151.6,151.3 151.6,150.2 151.7,149.5 151.7,151.3 151.8,148.6 151.8,143.1 151.9,137.4 151.9,134.7 152.0,133.3 152.0,137.3 152.1,142.9 152.1,148.9 152.2,151.9 152.2,152.3 152.3,150.2 152.3,150.3 152.4,153.4 152.4,156.4 152.5,158.0 152.5,160.4 152.6,162.2 152.6,164.1 152.7,165.8 152.7,164.2 152.8,161.2 152.8,159.1 152.9,158.3 152.9,156.5 153.0,153.3 153.0,150.9 153.1,150.6 153.1,150.5 153.2,150.8 153.2,151.0 153.3,150.9 153.3,150.8 153.4,150.5 153.4,151.9 153.5,150.6 153.5,151.6 153.6,150.4 153.6,150.1 153.7,150.5 153.7,150.6 153.8,150.7 153.8,150.3 153.9,149.9 153.9,150.1 154.0,150.8 154.0,150.0 154.1,151.0 154.1,150.7 154.2,150.6 154.2,151.2 154.3,150.1 154.3,151.8 154.4,150.9 154.4,152.4 154.5,152.6 154.5,156.1 154.6,157.9 154.6,160.6 154.7,161.9 154.7,162.3 154.8,162.4 154.8,161.2 154.9,157.1 154.9,155.8 154.9,155.3 155.0,155.6 155.0,154.7 155.1,154.2 155.1,149.9 155.2,149.9 155.2,151.0 155.3,151.3 155.3,152.0 155.4,152.1 155.4,152.0 155.5,151.5 155.5,151.1 155.6,152.3 155.6,153.2 155.7,155.3 155.7,156.5 155.8,158.5 155.8,161.1 155.9,161.9 155.9,161.9 156.0,163.6 156.0,161.7 156.1,161.4 156.1,160.0 156.2,157.6 156.2,155.1 156.3,152.1 156.3,150.7 156.4,151.2 156.4,149.5 156.5,149.7 156.5,150.6 156.6,151.2 156.6,151.4 156.7,151.8 156.7,152.3 156.8,151.1 156.8,150.4 156.9,151.1 156.9,151.1 157.0,146.9 157.0,143.7 157.1,141.2 157.1,137.2 157.2,139.3 157.2,142.3 157.3,146.4 157.3,152.0 157.4,155.8 157.4,158.7 157.5,160.0 157.5,162.0 157.6,166.5 157.6,168.6 157.7,169.1 157.7,166.5 157.8,163.3 157.8,161.0 157.9,157.2 157.9,155.0 158.0,152.7 158.0,149.9 158.1,150.1 158.1,149.4 158.2,149.7 158.2,149.8 158.3,148.8 158.3,150.2 158.4,150.8 158.4,151.1 158.5,154.6 158.5,157.0 158.5,159.9 158.6,161.0 158.6,164.3 158.7,166.2 158.7,168.1 158.8,164.0 158.8,161.8 158.9,160.4 158.9,158.3 159.0,154.8 159.0,154.4 159.1,151.8 159.1,151.2 159.2,149.3 159.2,150.9 159.3,151.7 159.3,151.4 159.4,151.6 159.4,152.1 159.5,151.9 159.5,151.7 159.6,151.1 159.6,150.2 159.7,152.2 159.7,151.3 159.8,153.2 159.8,156.6 159.9,159.9 159.9,162.0 160.0,164.5 160.0,168.4 160.1,170.3 160.1,168.5 160.2,166.5 160.2,162.3 160.3,160.4 160.3,157.1 160.4,155.0 160.4,150.8 160.5,149.6 160.5,150.0 160.6,150.6 160.6,150.7 160.7,150.0 160.7,149.9 160.8,150.3 160.8,150.8 160.9,153.5 160.9,155.2 161.0,157.4 161.0,160.6 161.1,161.9 161.1,163.9 161.2,165.6 161.2,162.8 161.3,161.5 161.3,160.0 161.4,158.9 161.4,156.1 161.5,153.7 161.5,150.7 161.6,149.7 161.6,149.9 161.7,151.6 161.7,152.5 161.8,151.9 161.8,150.5 161.9,150.7 161.9,151.7 162.0,151.6 162.0,152.4 162.1,152.0 162.1,146.3 162.1,141.5 162.2,136.8 162.2,132.5 162.3,136.9 162.3,142.1 162.4,145.0 162.4,150.1 162.5,151.9 162.5,151.5 162.6,151.2 162.6,153.9 162.7,156.7 162.7,159.1 162.8,162.1 162.8,165.1 162.9,167.6 162.9,169.2 163.0,166.7 163.0,164.8 163.1,161.1 163.1,158.8 163.2,155.6 163.2,154.6 163.3,151.9 163.3,151.4 163.4,151.8 163.4,151.1 163.5,150.6 163.5,153.7 163.6,158.3 163.6,160.1 163.7,161.4 163.7,164.3 163.8,166.1 163.8,168.8 163.9,167.1 163.9,165.1 164.0,163.9 164.0,160.8 164.1,157.9 164.1,155.0 164.2,151.8 164.2,151.1 164.3,151.4 164.3,151.4 164.4,151.6 164.4,151.1 164.5,150.4 164.5,151.1 164.6,151.0 164.6,150.2 164.7,150.7 164.7,150.1 164.8,149.2 164.8,150.4 164.9,150.8 164.9,151.6 165.0,152.4 165.0,151.1 165.1,152.4 165.1,154.1 165.2,156.7 165.2,159.5 165.3,162.6 165.3,163.8 165.4,166.8 165.4,167.3 165.5,165.0 165.5,161.3 165.6,159.6 165.6,157.1 165.6,155.0 165.7,153.9 165.7,151.0 165.8,150.8 165.8,151.3 165.9,151.6 165.9,151.8 166.0,152.7 166.0,154.0 166.1,155.5 166.1,157.9 166.2,161.2 166.2,163.6 166.3,166.4 166.3,167.5 166.4,164.8 166.4,162.3 166.5,159.2 166.5,156.6 166.6,155.4 166.6,153.4 166.7,151.4 166.7,151.2 166.8,150.9 166.8,150.4 166.9,151.1 166.9,149.2 167.0,149.5 167.0,150.1 167.1,150.6 167.1,149.9 167.2,147.3 167.2,142.1 167.3,139.4 167.3,135.3 167.4,136.4 167.4,139.6 167.5,144.8 167.5,149.8 167.6,151.7 167.6,152.4 167.7,152.7 167.7,154.6 167.8,156.0 167.8,158.0 167.9,160.5 167.9,162.4 168.0,164.3 168.0,167.5 168.1,164.6 168.1,162.8 168.2,160.2 168.2,157.3 168.3,156.0 168.3,154.6 168.4,153.0 168.4,150.8 168.5,150.7 168.5,151.2 168.6,150.8 168.6,150.6 168.7,150.7 168.7,151.4 168.8,151.0 168.8,152.5 168.9,152.1 168.9,151.9 169.0,151.1 169.0,151.4 169.1,149.3 169.1,149.5 169.2,150.4 169.2,150.1 169.2,150.9 169.3,150.5 169.3,151.0 169.4,152.1 169.4,152.2 169.5,152.3 169.5,151.7 169.6,151.5 169.6,149.8 169.7,149.2 169.7,149.8 169.8,151.6 169.8,151.3 169.9,152.3 169.9,152.1 170.0,152.3 170.0,152.3 170.1,151.4 170.1,153.2 170.2,155.8 170.2,158.0 170.3,158.8 170.3,161.1 170.4,164.6 170.4,167.7 170.5,167.9 170.5,164.5 170.6,162.4 170.6,159.5 170.7,156.5 170.7,154.1 170.8,151.6 170.8,150.1 170.9,150.9 170.9,149.5 171.0,150.1 171.0,149.6 171.1,149.5 171.1,149.5 171.2,149.9 171.2,149.7 171.3,150.7 171.3,150.6 171.4,150.2 171.4,150.3 171.5,151.3 171.5,152.0 171.6,150.8 171.6,151.4 171.7,150.0 171.7,150.9 171.8,150.7 171.8,150.6 171.9,151.8 171.9,151.4 172.0,150.1 172.0,150.0 172.1,150.9 172.1,151.5 172.2,152.1 172.2,151.4 172.3,146.6 172.3,142.6 172.4,138.7 172.4,132.7 172.5,136.5 172.5,140.9 172.6,144.9 172.6,148.9 172.7,151.4 172.7,152.0 172.8,153.4 172.8,156.3 172.8,158.7 172.9,161.3 172.9,164.3 173.0,165.5 173.0,167.7 173.1,164.4 173.1,161.5 173.2,159.7 173.2,157.2 173.3,154.4 173.3,152.7 173.4,150.0 173.4,150.1 173.5,150.4 173.5,151.8 173.6,150.7 173.6,150.6 173.7,150.9 173.7,152.0 173.8,153.1 173.8,154.8 173.9,157.4 173.9,161.0 174.0,163.8 174.0,166.4 174.1,168.2 174.1,168.2 174.2,165.7 174.2,163.7 174.3,159.9 174.3,156.4 174.4,154.4 174.4,151.9 174.5,150.4 174.5,151.3 174.6,150.7 174.6,150.4 174.7,150.4 174.7,150.9 174.8,151.7 174.8,152.3 174.9,151.5 174.9,151.9 175.0,152.4 175.0,155.0 175.1,158.1 175.1,161.1 175.2,162.9 175.2,165.6 175.3,167.6 175.3,167.8 175.4,165.3 175.4,164.1 175.5,161.1 175.5,157.5 175.6,155.2 175.6,151.7 175.7,149.9 175.7,150.4 175.8,150.0 175.8,151.1 175.9,150.7 175.9,150.8 176.0,151.0 176.0,153.0 176.1,156.0 176.1,159.4 176.2,162.0 176.2,165.0 176.3,166.9 176.3,169.2 176.3,165.2 176.4,163.3 176.4,161.9 176.5,159.6 176.5,156.7 176.6,154.5 176.6,151.1 176.7,150.7 176.7,149.7 176.8,150.5 176.8,151.2 176.9,151.0 176.9,150.7 177.0,149.7 177.0,150.7 177.1,150.1 177.1,151.1 177.2,150.1 177.2,150.8 177.3,147.0 177.3,142.2 177.4,138.3 177.4,131.8 177.5,134.7 177.5,139.1 177.6,144.5 177.6,152.0 177.7,158.1 177.7,159.2 177.8,160.9 177.8,163.4 177.9,164.3 177.9,163.5 178.0,161.3 178.0,158.3 178.1,157.0 178.1,156.2 178.2,154.9 178.2,152.6 178.3,151.8 178.3,151.5 178.4,150.7 178.4,151.2 178.5,150.9 178.5,150.6 178.6,149.2 178.6,148.2 178.7,147.0 178.7,144.6 178.8,142.2 178.8,144.5 178.9,147.3 178.9,149.7 179.0,153.5 179.0,156.1 179.1,158.4 179.1,161.4 179.2,165.3 179.2,166.5 179.3,169.5 179.3,167.4 179.4,163.9 179.4,162.5 179.5,159.0 179.5,156.8 179.6,154.8 179.6,152.5 179.7,151.9 179.7,151.7 179.8,151.0 179.8,151.7 179.9,151.9 179.9,150.8 179.9,151.2 180.0,150.1 180.0,150.3 180.1,150.9 180.1,150.9 180.2,151.0 180.2,151.2 180.3,152.3 180.3,152.4 180.4,152.0 180.4,152.5 180.5,153.1 180.5,151.8 180.6,151.6 180.6,151.0 180.7,151.4 180.7,150.9 180.8,152.1 180.8,151.7 180.9,150.6 180.9,150.4 181.0,152.0 181.0,153.8 181.1,154.8 181.1,156.3 181.2,158.3 181.2,160.4 181.3,162.9 181.3,164.9 181.4,162.9 181.4,160.9 181.5,159.4 181.5,156.0 181.6,155.1 181.6,153.2 181.7,149.8 181.7,150.4 181.8,150.9 181.8,151.0 181.9,150.6 181.9,150.5 182.0,151.4 182.0,151.3 182.1,152.1 182.1,151.0 182.2,151.0 182.2,151.1 182.3,149.3 182.3,145.2 182.4,141.5 182.4,136.2 182.5,134.1 182.5,142.3 182.6,150.0 182.6,156.6 182.7,163.6 182.7,165.6 182.8,168.5 182.8,167.8 182.9,164.5 182.9,161.4 183.0,159.6 183.0,156.9 183.1,155.0 183.1,153.0 183.2,151.5 183.2,150.1 183.3,150.2 183.3,149.9 183.4,151.2 183.4,150.4 183.5,151.8 183.5,150.1 183.5,150.8 183.6,150.1 183.6,150.5 183.7,149.8 183.7,149.4 183.8,149.7 183.8,149.9 183.9,150.6 183.9,151.0 184.0,150.7 184.0,152.1 184.1,155.3 184.1,157.8 184.2,161.5 184.2,164.5 184.3,167.1 184.3,169.4 184.4,169.1 184.4,165.4 184.5,163.7 184.5,161.0 184.6,158.2 184.6,155.5 184.7,153.1 184.7,151.9 184.8,150.8 184.8,151.3 184.9,149.9 184.9,151.7 185.0,154.3 185.0,156.6 185.1,158.7 185.1,161.1 185.2,163.0 185.2,166.5 185.3,164.9 185.3,164.4 185.4,160.3 185.4,159.1 185.5,157.0 185.5,154.3 185.6,151.8 185.6,150.8 185.7,151.0 185.7,150.2 185.8,150.9 185.8,151.4 185.9,151.6 185.9,150.9 186.0,150.5 186.0,149.5 186.1,151.1 186.1,152.1 186.2,152.5 186.2,152.2 186.3,151.1 186.3,150.7 186.4,151.3 186.4,151.5 186.5,151.8 186.5,152.8 186.6,152.0 186.6,151.3 186.7,151.4 186.7,152.1 186.8,151.7 186.8,151.1 186.9,151.5 186.9,151.1 187.0,151.3 187.0,151.1 187.1,151.5 187.1,151.3 187.1,151.9 187.2,150.8 187.2,151.0 187.3,146.3 187.3,141.6 187.4,137.1 187.4,133.3 187.5,137.6 187.5,142.6 187.6,147.1 187.6,152.2 187.7,151.7 187.7,154.1 187.8,156.4 187.8,158.3 187.9,160.8 187.9,163.5 188.0,165.5 188.0,167.5 188.1,166.6 188.1,163.5 188.2,162.1 188.2,157.8 188.3,156.2 188.3,153.4 188.4,150.6 188.4,151.2 188.5,149.7 188.5,151.1 188.6,150.5 188.6,150.6 188.7,153.3 188.7,157.6 188.8,159.3 188.8,161.3 188.9,164.0 188.9,165.7 189.0,167.2 189.0,164.7 189.1,162.3 189.1,159.8 189.2,156.9 189.2,155.4 189.3,154.0 189.3,151.8 189.4,149.8 189.4,149.2 189.5,149.2 189.5,149.5 189.6,150.6 189.6,151.1 189.7,152.3 189.7,151.1 189.8,152.1 189.8,151.8 189.9,151.6 189.9,151.5 190.0,152.1 190.0,154.7 190.1,158.3 190.1,160.6 190.2,162.8 190.2,163.9 190.3,167.3 190.3,165.9 190.4,163.9 190.4,161.0 190.5,158.2 190.5,156.3 190.6,152.9 190.6,152.2 190.6,150.8 190.7,151.1 190.7,151.7 190.8,151.7 190.8,151.7 190.9,151.7 190.9,151.3 191.0,151.0 191.0,151.8 191.1,151.1 191.1,150.9 191.2,150.8 191.2,150.3 191.3,151.9 191.3,151.3 191.4,150.5 191.4,151.9 191.5,151.2 191.5,151.2 191.6,151.1 191.6,151.4 191.7,152.0 191.7,152.0 191.8,151.9 191.8,151.0 191.9,151.7 191.9,151.6 192.0,152.0 192.0,151.3 192.1,151.0 192.1,152.0 192.2,151.6 192.2,148.3 192.3,142.7 192.3,139.3 192.4,135.0 192.4,136.9 192.5,144.7 192.5,150.9 192.6,158.9 192.6,161.3 192.7,163.7 192.7,165.9 192.8,166.5 192.8,164.6 192.9,160.2 192.9,158.2 193.0,157.0 193.0,155.3 193.1,152.6 193.1,151.7 193.2,150.2 193.2,150.2 193.3,150.2 193.3,150.9 193.4,151.8 193.4,151.5 193.5,152.0 193.5,149.9 193.6,147.3 193.6,144.5 193.7,142.6 193.7,145.7 193.8,150.2 193.8,155.8 193.9,161.0 193.9,166.3 194.0,168.9 194.0,168.0 194.1,165.8 194.1,162.4 194.2,160.0 194.2,158.9 194.2,156.1 194.3,153.3 194.3,151.3 194.4,151.1 194.4,150.5 194.5,150.7 194.5,150.5 194.6,150.7 194.6,150.7 194.7,150.6 194.7,150.4 194.8,150.5 194.8,150.9 194.9,151.0 194.9,151.1 195.0,150.7 195.0,151.1 195.1,152.3 195.1,151.7 195.2,151.9 195.2,151.9 195.3,152.0 195.3,151.4 195.4,150.9 195.4,151.0 195.5,150.8 195.5,151.3 195.6,151.9 195.6,150.3 195.7,150.7 195.7,150.6 195.8,150.3 195.8,150.6 195.9,151.9 195.9,151.0 196.0,150.6 196.0,149.6 196.1,150.7 196.1,150.3 196.2,149.5 196.2,151.1 196.3,151.0 196.3,151.9 196.4,151.8 196.4,150.7 196.5,150.5 196.5,150.6 196.6,151.0 196.6,151.7 196.7,151.9 196.7,151.6 196.8,151.9 196.8,151.3 196.9,151.8 196.9,151.3 197.0,151.1 197.0,151.2 197.1,151.1 197.1,151.6 197.2,147.3 197.2,142.0 197.3,137.7 197.3,132.9 197.4,136.4 197.4,141.4 197.5,145.4 197.5,151.6 197.6,154.1 197.6,158.1 197.7,161.6 197.7,163.2 197.8,166.4 197.8,169.7 197.8,165.7 197.9,163.5 197.9,161.9 198.0,158.9 198.0,156.2 198.1,152.9 198.1,150.3 198.2,149.9 198.2,150.9 198.3,150.6 198.3,150.1 198.4,150.6 198.4,151.6 198.5,151.2 198.5,150.8 198.6,152.3 198.6,150.5 198.7,151.6 198.7,150.8 198.8,150.5 198.8,150.5 198.9,153.4 198.9,156.6 199.0,159.8 199.0,162.2 199.1,164.7 199.1,167.9 199.2,169.0 199.2,166.9 199.3,163.9 199.3,161.3 199.4,158.1 199.4,155.4 199.5,152.5 199.5,150.9 199.6,151.9 199.6,151.6 199.7,151.8 199.7,152.6 199.8,152.0 199.8,151.6 199.9,152.1 199.9,151.5 200.0,150.5 200.0,150.7 200.1,150.6 200.1,151.3 200.2,150.6 200.2,150.8 200.3,150.5 200.3,152.1 200.4,151.8 200.4,152.2 200.5,151.2 200.5,150.9 200.6,150.2 200.6,151.2 200.7,150.8 200.7,151.2 200.8,150.4 200.8,151.1 200.9,151.0 200.9,150.7 201.0,151.7 201.0,152.9 201.1,155.3 201.1,156.0 201.2,156.8 201.2,158.8 201.3,160.4 201.3,163.4 201.4,164.9 201.4,164.1 201.4,162.6 201.5,160.9 201.5,157.9 201.6,155.3 201.6,152.6 201.7,151.5 201.7,148.8 201.8,148.8 201.8,149.6 201.9,150.8 201.9,151.5 202.0,151.6 202.0,149.1 202.1,143.5 202.1,139.0 202.2,133.3 202.2,133.2 202.3,137.7 202.3,142.6 202.4,147.9 202.4,151.2 202.5,155.5 202.5,156.9 202.6,160.2 202.6,162.4 202.7,165.1 202.7,167.3 202.8,168.5 202.8,165.8 202.9,164.1 202.9,161.5 203.0,156.9 203.0,154.8 203.1,153.4 203.1,151.4 203.2,150.6 203.2,149.7 203.3,149.9 203.3,152.0 203.4,151.4 203.4,151.3 203.5,150.5 203.5,152.4 203.6,155.0 203.6,157.4 203.7,159.9 203.7,162.3 203.8,165.9 203.8,166.9 203.9,165.4 203.9,162.3 204.0,160.5 204.0,158.1 204.1,154.4 204.1,152.4 204.2,151.8 204.2,150.7 204.3,151.6 204.3,150.5 204.4,150.7 204.4,151.9 204.5,152.4 204.5,151.9 204.6,151.0 204.6,151.2 204.7,152.9 204.7,155.7 204.8,158.9 204.8,161.0 204.9,163.3 204.9,166.2 204.9,168.5 205.0,166.7 205.0,164.5 205.1,160.8 205.1,157.8 205.2,155.7 205.2,152.9 205.3,151.1 205.3,151.9 205.4,151.4 205.4,151.2 205.5,151.7 205.5,150.8 205.6,151.2 205.6,151.0 205.7,150.3 205.7,150.4 205.8,150.8 205.8,152.8 205.9,155.7 205.9,157.9 206.0,159.1 206.0,161.8 206.1,164.4 206.1,165.2 206.2,162.9 206.2,161.8 206.3,160.7 206.3,158.4 206.4,155.5 206.4,152.6 206.5,151.1 206.5,151.3 206.6,151.0 206.6,152.6 206.7,151.3 206.7,151.3 206.8,150.6 206.8,150.7 206.9,150.4 206.9,147.5 207.0,142.7 207.0,137.5 207.1,135.7 207.1,140.5 207.2,146.8 207.2,153.2 207.3,159.7 207.3,162.9 207.4,163.9 207.4,165.2 207.5,162.0 207.5,160.2 207.6,157.6 207.6,154.8 207.7,153.5 207.7,150.7 207.8,150.5 207.8,151.0 207.9,150.7 207.9,151.1 208.0,151.4 208.0,151.5 208.1,152.7 208.1,151.9 208.2,151.0 208.2,150.6 208.3,148.8 208.3,150.3 208.4,150.7 208.4,151.3 208.5,151.9 208.5,151.2 208.5,151.6 208.6,153.9 208.6,155.6 208.7,157.5 208.7,160.2 208.8,162.7 208.8,165.2 208.9,167.2 208.9,165.0 209.0,162.5 209.0,159.9 209.1,158.0 209.1,155.2 209.2,153.9 209.2,151.8 209.3,151.4 209.3,151.9 209.4,151.4 209.4,151.3 209.5,153.8 209.5,152.6 209.6,151.8 209.6,152.6 209.7,155.6 209.7,157.2 209.8,158.8 209.8,161.8 209.9,165.0 209.9,167.7 210.0,165.4 210.0,163.2 210.1,161.1 210.1,158.7 210.2,156.8 210.2,153.6 210.3,151.5 210.3,151.7 210.4,151.4 210.4,151.4 210.5,150.1 210.5,149.6 210.6,150.3 210.6,150.6 210.7,151.3 210.7,151.6 210.8,150.8 210.8,150.9 210.9,150.8 210.9,151.8 211.0,152.4 211.0,152.5 211.1,151.3 211.1,151.9 211.2,150.5 211.2,152.1 211.3,152.3 211.3,152.2 211.4,150.8 211.4,151.7 211.5,150.5 211.5,150.9 211.6,150.9 211.6,150.9 211.7,151.2 211.7,151.3 211.8,149.5 211.8,144.9 211.9,140.4 211.9,136.4 212.0,138.4 212.0,141.9 212.1,146.6 212.1,149.7 212.1,153.0 212.2,155.4 212.2,157.5 212.3,158.8 212.3,162.2 212.4,164.0 212.4,164.3 212.5,162.2 212.5,160.3 212.6,157.9 212.6,156.0 212.7,152.6 212.7,151.2 212.8,151.8 212.8,151.6 212.9,152.5 212.9,153.1 213.0,151.7 213.0,152.2 213.1,152.3 213.1,151.1 213.2,149.5 213.2,150.4 213.3,151.3 213.3,155.3 213.4,157.3 213.4,159.5 213.5,161.0 213.5,164.9 213.6,167.0 213.6,167.3 213.7,164.5 213.7,161.2 213.8,158.6 213.8,155.9 213.9,154.3 213.9,151.3 214.0,150.3 214.0,150.1 214.1,150.3 214.1,151.2 214.2,152.3 214.2,151.7 214.3,153.4 214.3,154.6 214.4,156.2 214.4,157.9 214.5,159.3 214.5,160.2 214.6,160.0 214.6,158.0 214.7,156.6 214.7,157.4 214.8,157.1 214.8,157.3 214.9,153.6 214.9,153.3 215.0,151.9 215.0,151.5 215.1,151.1 215.1,151.3 215.2,151.3 215.2,151.1 215.3,150.0 215.3,149.8 215.4,149.9 215.4,151.7 215.5,151.7 215.5,151.2 215.6,153.6 215.6,156.0 215.6,158.6 215.7,160.8 215.7,163.7 215.8,165.3 215.8,166.5 215.9,163.4 215.9,161.1 216.0,158.9 216.0,157.4 216.1,154.6 216.1,151.6 216.2,151.3 216.2,150.6 216.3,151.3 216.3,150.8 216.4,150.3 216.4,150.0 216.5,150.2 216.5,150.7 216.6,143.9 216.6,140.6 216.7,134.6 216.7,130.0 216.8,136.0 216.8,141.7 216.9,148.3 216.9,151.9 217.0,151.2 217.0,150.9 217.1,152.9 217.1,156.1 217.2,158.4 217.2,160.1 217.3,163.4 217.3,166.4 217.4,168.6 217.4,167.2 217.5,163.7 217.5,160.8 217.6,156.7 217.6,154.6 217.7,152.0 217.7,149.8 217.8,151.7 217.8,150.1 217.9,151.0 217.9,152.0 218.0,152.2 218.0,151.3 218.1,151.0 218.1,154.3 218.2,156.5 218.2,159.5 218.3,161.6 218.3,163.7 218.4,166.1 218.4,167.9 218.5,165.2 218.5,163.0 218.6,160.7 218.6,157.4 218.7,154.8 218.7,153.1 218.8,152.1 218.8,151.0 218.9,150.9 218.9,152.1 219.0,151.6 219.0,151.5 219.1,151.0 219.1,151.1 219.2,150.8 219.2,151.1 219.2,153.6 219.3,155.7 219.3,159.1 219.4,160.8 219.4,164.3 219.5,167.0 219.5,168.5 219.6,166.2 219.6,162.3 219.7,160.3 219.7,159.4 219.8,155.5 219.8,152.6 219.9,152.2 219.9,151.8 220.0,151.1 220.0,151.0 220.1,152.2 220.1,149.9 220.2,151.3 220.2,150.8 220.3,150.0 220.3,151.0 220.4,151.1 220.4,150.4 220.5,150.8 220.5,151.8 220.6,150.0 220.6,151.2 220.7,152.3 220.7,152.8 220.8,152.5 220.8,151.1 220.9,151.2 220.9,151.2 221.0,150.7 221.0,150.9 221.1,150.9 221.1,152.2 221.2,152.2 221.2,152.2 221.3,152.6 221.3,151.8 221.4,148.1 221.4,143.0 221.5,138.4 221.5,136.1 221.6,141.1 221.6,144.4 221.7,148.4 221.7,150.9 221.8,152.0 221.8,154.9 221.9,158.2 221.9,161.0 222.0,162.2 222.0,163.7 222.1,165.5 222.1,163.9 222.2,161.7 222.2,158.7 222.3,156.6 222.3,155.0 222.4,153.9 222.4,151.2 222.5,151.0 222.5,150.6 222.6,149.6 222.6,150.4 222.7,151.0 222.7,153.7 222.8,157.1 222.8,159.4 222.8,162.1 222.9,164.1 222.9,166.9 223.0,166.4 223.0,163.6 223.1,162.2 223.1,158.6 223.2,156.5 223.2,153.5 223.3,150.5 223.3,151.2 223.4,151.7 223.4,151.8 223.5,150.9 223.5,151.6 223.6,150.7 223.6,151.8 223.7,152.2 223.7,151.7 223.8,151.2 223.8,151.1 223.9,150.1 223.9,152.3 224.0,154.2 224.0,156.3 224.1,158.9 224.1,161.4 224.2,164.2 224.2,166.1 224.3,163.3 224.3,160.8 224.4,158.0 224.4,156.3 224.5,154.5 224.5,153.2 224.6,151.0 224.6,150.8 224.7,150.7 224.7,150.4 224.8,151.0 224.8,151.0 224.9,151.2 224.9,151.5 225.0,151.7 225.0,154.2 225.1,156.6 225.1,158.8 225.2,159.6 225.2,161.8 225.3,164.6 225.3,166.3 225.4,164.1 225.4,160.9 225.5,157.9 225.5,156.0 225.6,153.3 225.6,152.0 225.7,150.3 225.7,151.0 225.8,150.2 225.8,150.3 225.9,150.0 225.9,150.8 226.0,150.4 226.0,149.7 226.1,150.3 226.1,147.0 226.2,143.5 226.2,137.7 226.3,133.3 226.3,135.0 226.4,139.3 226.4,144.3 226.4,151.4 226.5,151.6 226.5,152.1 226.6,153.5 226.6,156.6 226.7,158.9 226.7,160.7 226.8,164.3 226.8,165.5 226.9,168.4 226.9,169.3 227.0,166.1 227.0,161.8 227.1,159.3 227.1,156.0 227.2,154.0 227.2,151.4 227.3,151.2 227.3,151.1 227.4,151.4 227.4,153.8 227.5,155.2 227.5,157.4 227.6,160.2 227.6,163.6 227.7,165.6 227.7,166.5 227.8,164.3 227.8,161.8 227.9,160.3 227.9,156.6 228.0,155.4 228.0,152.6 228.1,152.5 228.1,152.5 228.2,151.3 228.2,151.4 228.3,150.6 228.3,149.7 228.4,150.6 228.4,151.7 228.5,151.7 228.5,151.5 228.6,151.4 228.6,153.0 228.7,156.0 228.7,157.5 228.8,159.7 228.8,161.6 228.9,163.7 228.9,165.7 229.0,163.3 229.0,161.4 229.1,159.4 229.1,156.8 229.2,155.4 229.2,154.2 229.3,152.2 229.3,150.9 229.4,150.7 229.4,150.8 229.5,150.5 229.5,151.6 229.6,151.1 229.6,151.5 229.7,151.1 229.7,150.2 229.8,151.0 229.8,151.4 229.9,151.5 229.9,150.7 229.9,151.1 230.0,151.6 230.0,151.2 230.1,151.1 230.1,152.2 230.2,152.0 230.2,151.3 230.3,151.0 230.3,149.3 230.4,150.4 230.4,151.0 230.5,150.3 230.5,151.2 230.6,151.4 230.6,151.7 230.7,150.9 230.7,151.0 230.8,150.7 230.8,148.3 230.9,143.5 230.9,138.2 231.0,133.7 231.0,136.5 231.1,141.1 231.1,146.7 231.2,151.0 231.2,152.0 231.3,153.2 231.3,156.3 231.4,157.8 231.4,160.5 231.5,161.6 231.5,163.2 231.6,166.1 231.6,164.2 231.7,162.4 231.7,161.0 231.8,157.9 231.8,155.6 231.9,152.5 231.9,151.3 232.0,151.8 232.0,150.8 232.1,151.2 232.1,152.4 232.2,150.9 232.2,151.1 232.3,149.4 232.3,149.5 232.4,151.0 232.4,152.2 232.5,155.6 232.5,158.6 232.6,160.7 232.6,163.1 232.7,166.1 232.7,166.1 232.8,162.9 232.8,160.2 232.9,158.2 232.9,154.6 233.0,153.3 233.0,150.2 233.1,150.2 233.1,150.9 233.2,150.3 233.2,151.0 233.3,150.3 233.3,153.5 233.4,155.9 233.4,157.9 233.5,160.0 233.5,162.5 233.5,164.7 233.6,166.2 233.6,164.1 233.7,161.7 233.7,160.0 233.8,157.6 233.8,156.1 233.9,153.4 233.9,151.0 234.0,151.2 234.0,151.4 234.1,151.0 234.1,151.5 234.2,151.4 234.2,151.2 234.3,151.6 234.3,151.2 234.4,152.9 234.4,155.1 234.5,157.0 234.5,160.2 234.6,161.8 234.6,162.7 234.7,163.7 234.7,163.3 234.8,160.5 234.8,158.7 234.9,156.2 234.9,153.0 235.0,150.4 235.0,149.9 235.1,151.3 235.1,150.7 235.2,151.2 235.2,151.7 235.3,150.4 235.3,150.2 235.4,149.7 235.4,150.1 235.5,150.1 235.5,149.8 235.6,145.7 235.6,140.2 235.7,135.8 235.7,136.2 235.8,141.4 235.8,147.4 235.9,154.3 235.9,157.3 236.0,160.8 236.0,163.2 236.1,165.2 236.1,166.4 236.2,165.0 236.2,161.6 236.3,158.0 236.3,155.8 236.4,155.4 236.4,153.7 236.5,151.5 236.5,151.3 236.6,150.7 236.6,150.5 236.7,150.3 236.7,150.8 236.8,151.0 236.8,152.3 236.9,152.1 236.9,150.8 237.0,149.3 237.0,149.7 237.1,150.3 237.1,154.6 237.1,156.2 237.2,159.5 237.2,161.4 237.3,163.5 237.3,165.6 237.4,166.6 237.4,164.2 237.5,160.7 237.5,157.6 237.6,156.2 237.6,154.5 237.7,151.9 237.7,151.1 237.8,149.9 237.8,150.0 237.9,150.5 237.9,151.5 238.0,151.9 238.0,151.6 238.1,151.0 238.1,151.8 238.2,152.7 238.2,154.0 238.3,154.5 238.3,156.4 238.4,161.1 238.4,165.3 238.5,163.4 238.5,161.2 238.6,159.1 238.6,158.2 238.7,155.5 238.7,153.4 238.8,152.1 238.8,152.0 238.9,151.9 238.9,151.4 239.0,150.6 239.0,150.8 239.1,151.1 239.1,151.8 239.2,150.7 239.2,149.7 239.3,151.2 239.3,151.2 239.4,151.5 239.4,151.0 239.5,150.8 239.5,151.9 239.6,151.4 239.6,151.4 239.7,151.6 239.7,151.0 239.8,150.5 239.8,150.1 239.9,150.8 239.9,150.8 240.0,151.8 240.0,152.1 240.1,149.9 240.1,150.2 240.2,150.6 240.2,149.1 240.3,143.4 240.3,137.8 240.4,130.8 240.4,134.0 240.5,139.5 240.5,145.6 240.6,154.1 240.6,156.2 240.7,158.6 240.7,160.9 240.7,162.7 240.8,165.3 240.8,162.7 240.9,160.8 240.9,159.2 241.0,157.5 241.0,155.9 241.1,153.0 241.1,151.4 241.2,151.0 241.2,150.9 241.3,150.6 241.3,150.7 241.4,151.8 241.4,150.2 241.5,147.2 241.5,143.4 241.6,142.2 241.6,144.3 241.7,146.5 241.7,149.3 241.8,151.8 241.8,152.4 241.9,150.5 241.9,151.9 242.0,152.3 242.0,152.3 242.1,152.0 242.1,151.0 242.2,151.0 242.2,150.5 242.3,149.3 242.3,150.3 242.4,149.2 242.4,151.6 242.5,151.0 242.5,150.3 242.6,150.5 242.6,151.0 242.7,150.3 242.7,150.2 242.8,151.6 242.8,151.9 242.9,152.7 242.9,156.1 243.0,157.3 243.0,159.7 243.1,162.4 243.1,165.4 243.2,165.7 243.2,163.0 243.3,160.9 243.3,159.7 243.4,157.0 243.4,155.2 243.5,151.8 243.5,151.6 243.6,152.3 243.6,152.4 243.7,152.3 243.7,152.2 243.8,151.5 243.8,151.2 243.9,150.5 243.9,150.7 244.0,150.8 244.0,151.0 244.1,150.7 244.1,151.1 244.2,150.2 244.2,152.2 244.2,151.2 244.3,150.5 244.3,152.0 244.4,151.9 244.4,150.5 244.5,149.3 244.5,150.2 244.6,151.1 244.6,151.1 244.7,151.3 244.7,151.9 244.8,151.9 244.8,150.4 244.9,146.3 244.9,141.2 245.0,136.2 245.0,136.0 245.1,140.1 245.1,144.4 245.2,149.9 245.2,153.5 245.3,155.9 245.3,159.1 245.4,163.0 245.4,165.3 245.5,168.4 245.5,169.5 245.6,166.8 245.6,163.0 245.7,160.4 245.7,158.1 245.8,155.6 245.8,152.8 245.9,153.1 245.9,152.3 246.0,152.4 246.0,151.3 246.1,151.4 246.1,149.5 246.2,147.4 246.2,145.3 246.3,146.3 246.3,146.9 246.4,151.1 246.4,154.6 246.5,157.5 246.5,159.9 246.6,162.6 246.6,165.2 246.7,167.4 246.7,164.7 246.8,163.0 246.8,161.0 246.9,157.4 246.9,154.6 247.0,151.5 247.0,150.4 247.1,149.8 247.1,150.5 247.2,150.7 247.2,150.2 247.3,149.6 247.3,150.0 247.4,150.3 247.4,151.4 247.5,151.2 247.5,153.7 247.6,157.0 247.6,157.1 247.7,159.9 247.7,162.3 247.8,164.1 247.8,167.5 247.8,164.8 247.9,162.0 247.9,160.3 248.0,156.7 248.0,154.1 248.1,151.9 248.1,150.4 248.2,152.2 248.2,151.5 248.3,150.6 248.3,151.2 248.4,153.6 248.4,156.3 248.5,160.1 248.5,163.1 248.6,165.2 248.6,165.3 248.7,162.8 248.7,160.9 248.8,158.3 248.8,156.0 248.9,154.8 248.9,152.4 249.0,151.6 249.0,152.1 249.1,151.9 249.1,152.2 249.2,151.5 249.2,150.9 249.3,151.2 249.3,150.7 249.4,150.8 249.4,151.0 249.5,148.5 249.5,144.8 249.6,139.3 249.6,134.4 249.7,137.2 249.7,141.9 249.8,148.2 249.8,154.5 249.9,157.1 249.9,160.1 250.0,163.2 250.0,166.2 250.1,168.4 250.1,167.3 250.2,163.6 250.2,161.6 250.3,158.1 250.3,156.1 250.4,152.9 250.4,151.4 250.5,152.5 250.5,151.6 250.6,152.4 250.6,152.4 250.7,151.6 250.7,150.9 250.8,150.9 250.8,150.4 250.9,151.7 250.9,151.5 251.0,152.4 251.0,152.2 251.1,152.9 251.1,155.6 251.2,158.3 251.2,161.0 251.3,163.9 251.3,167.0 251.4,170.0 251.4,167.5 251.4,163.7 251.5,161.2 251.5,158.1 251.6,155.3 251.6,152.4 251.7,151.9 251.7,152.2 251.8,152.5 251.8,152.4 251.9,152.7 251.9,156.1 252.0,158.1 252.0,161.1 252.1,163.5 252.1,166.0 252.2,167.4 252.2,167.0 252.3,164.9 252.3,162.3 252.4,160.5 252.4,156.4 252.5,152.2 252.5,150.1 252.6,151.4 252.6,152.4 252.7,152.2 252.7,151.4 252.8,151.8 252.8,151.7 252.9,154.3 252.9,156.2 253.0,158.6 253.0,161.8 253.1,164.5 253.1,166.7 253.2,164.9 253.2,162.1 253.3,159.6 253.3,158.3 253.4,156.5 253.4,154.0 253.5,151.6 253.5,151.2 253.6,151.7 253.6,151.0 253.7,151.2 253.7,151.1 253.8,150.4 253.8,150.8 253.9,150.4 253.9,151.1 254.0,150.2 254.0,150.0 254.1,148.6 254.1,144.6 254.2,138.4 254.2,133.1 254.3,132.9 254.3,138.7 254.4,144.3 254.4,150.7 254.5,152.2 254.5,150.9 254.6,151.9 254.6,155.7 254.7,157.3 254.7,159.9 254.8,164.2 254.8,166.9 254.9,167.6 254.9,164.9 254.9,162.1 255.0,159.8 255.0,157.3 255.1,154.6 255.1,151.4 255.2,150.9 255.2,151.2 255.3,150.8 255.3,151.2 255.4,152.2 255.4,151.8 255.5,152.3 255.5,151.6 255.6,151.1 255.6,151.3 255.7,150.4 255.7,150.6 255.8,150.3 255.8,150.4 255.9,152.4 255.9,151.7 256.0,151.3 256.0,151.8 256.1,151.2 256.1,152.3 256.2,151.9 256.2,151.9 256.3,150.2 256.3,151.0 256.4,150.0 256.4,151.0 256.5,150.0 256.5,152.7 256.6,155.3 256.6,158.5 256.7,158.6 256.7,157.9 256.8,158.9 256.8,160.2 256.9,159.4 256.9,160.4 257.0,160.6 257.0,157.4 257.1,154.4 257.1,153.3 257.2,152.2 257.2,152.1 257.3,151.6 257.3,152.3 257.4,151.1 257.4,151.0 257.5,150.5 257.5,150.9 257.6,150.7 257.6,151.5 257.7,154.5 257.7,154.9 257.8,158.1 257.8,160.8 257.9,163.6 257.9,165.0 258.0,164.4 258.0,161.7 258.1,159.8 258.1,157.7 258.2,155.6 258.2,152.3 258.3,149.4 258.3,150.6 258.4,151.6 258.4,152.3 258.5,152.5 258.5,152.4 258.5,152.1 258.6,151.1 258.6,148.9 258.7,143.7 258.7,140.4 258.8,134.8 258.8,139.6 258.9,144.7 258.9,148.2 259.0,152.2 259.0,150.9 259.1,151.6 259.1,154.0 259.2,156.8 259.2,160.6 259.3,162.0 259.3,165.2 259.4,167.7 259.4,167.5 259.5,163.6 259.5,161.5 259.6,159.9 259.6,157.7 259.7,154.8 259.7,150.7 259.8,151.7 259.8,150.9 259.9,147.5 259.9,142.4 260.0,140.8 260.0,143.1 260.1,148.1 260.1,153.2 260.2,158.9 260.2,161.0 260.3,164.0 260.3,165.6 260.4,164.3 260.4,162.3 260.5,159.5 260.5,155.5 260.6,153.4 260.6,150.6 260.7,150.9 260.7,151.8 260.8,149.6 260.8,150.2 260.9,149.7 260.9,151.1 261.0,151.2 261.0,150.3 261.1,153.4 261.1,155.4 261.2,157.8 261.2,157.7 261.3,157.6 261.3,158.4 261.4,156.9 261.4,157.1 261.5,156.7 261.5,156.1 261.6,154.3 261.6,153.1 261.7,151.4 261.7,152.9 261.8,153.5 261.8,153.0 261.9,151.5 261.9,151.0 262.0,150.5 262.0,151.1 262.1,152.3 262.1,155.0 262.1,157.8 262.2,161.0 262.2,164.6 262.3,167.6 262.3,170.2 262.4,166.8 262.4,163.3 262.5,161.1 262.5,157.8 262.6,154.2 262.6,150.5 262.7,151.6 262.7,152.2 262.8,152.5 262.8,152.5 262.9,151.2 262.9,151.1 263.0,151.6 263.0,151.0 263.1,150.4 263.1,150.9 263.2,148.4 263.2,144.1 263.3,140.5 263.3,134.3 263.4,137.0 263.4,145.3 263.5,150.9 263.5,158.5 263.6,161.0 263.6,165.5 263.7,167.4 263.7,166.8 263.8,165.3 263.8,161.7 263.9,160.3 263.9,156.7 264.0,153.9 264.0,152.2 264.1,152.0 264.1,151.9 264.2,151.9 264.2,151.2 264.3,150.5 264.3,150.7 264.4,151.0 264.4,150.9 264.5,150.7 264.5,151.6 264.6,151.8 264.6,151.0 264.7,150.5 264.7,151.5 264.8,153.9 264.8,156.4 264.9,158.4 264.9,162.1 265.0,163.9 265.0,167.4 265.1,166.4 265.1,162.6 265.2,160.0 265.2,157.2 265.3,155.5 265.3,152.5 265.4,152.0 265.4,151.5 265.5,150.8 265.5,150.7 265.6,151.5 265.6,151.5 265.7,151.8 265.7,150.5 265.7,150.8 265.8,150.5 265.8,149.9 265.9,151.3 265.9,151.3 266.0,151.0 266.0,150.9 266.1,151.1 266.1,150.4 266.2,149.8 266.2,150.6 266.3,151.0 266.3,150.6 266.4,151.1 266.4,150.7 266.5,150.6 266.5,153.7 266.6,157.0 266.6,159.2 266.7,161.8 266.7,164.4 266.8,166.9 266.8,167.0 266.9,164.9 266.9,160.9 267.0,157.6 267.0,154.3 267.1,151.7 267.1,150.4 267.2,150.7 267.2,149.4 267.3,149.7 267.3,149.9 267.4,149.8 267.4,151.9 267.5,152.5 267.5,152.5 267.6,151.4 267.6,150.1 267.7,149.5 267.7,146.0 267.8,140.6 267.8,136.9 267.9,136.4 267.9,143.7 268.0,151.5 268.0,159.6 268.1,163.8 268.1,165.9 268.2,165.7 268.2,164.0 268.3,161.6 268.3,159.0 268.4,155.8 268.4,153.5 268.5,151.0 268.5,151.3 268.6,151.2 268.6,150.4 268.7,151.1 268.7,150.2 268.8,151.3 268.8,151.1 268.9,150.9 268.9,150.8 269.0,152.0 269.0,153.3 269.1,156.8 269.1,158.8 269.2,161.3 269.2,163.0 269.2,165.2 269.3,163.2 269.3,161.5 269.4,158.9 269.4,157.5 269.5,154.8 269.5,151.8 269.6,152.4 269.6,151.9 269.7,150.5 269.7,150.5 269.8,150.9 269.8,151.3 269.9,150.3 269.9,150.4 270.0,150.7 270.0,151.6 270.1,151.1 270.1,151.8 270.2,151.2 270.2,149.8 270.3,147.0 270.3,146.7 270.4,147.9 270.4,151.3 270.5,157.4 270.5,161.2 270.6,165.5 270.6,166.7 270.7,165.5 270.7,162.6 270.8,159.7 270.8,157.1 270.9,154.9 270.9,152.6 271.0,150.7 271.0,151.2 271.1,150.6 271.1,154.4 271.2,156.3 271.2,157.9 271.3,159.9 271.3,162.5 271.4,164.0 271.4,164.1 271.5,161.9 271.5,160.7 271.6,157.7 271.6,155.8 271.7,152.9 271.7,150.5 271.8,150.8 271.8,150.8 271.9,149.9 271.9,151.2 272.0,150.2 272.0,149.9 272.1,150.3 272.1,151.7 272.2,152.3 272.2,146.6 272.3,141.5 272.3,135.4 272.4,132.6 272.4,138.7 272.5,144.0 272.5,149.4 272.6,153.1 272.6,153.9 272.7,156.9 272.7,158.2 272.8,160.8 272.8,164.0 272.8,166.2 272.9,165.3 272.9,163.0 273.0,160.3 273.0,157.3 273.1,154.6 273.1,152.3 273.2,151.3 273.2,152.1 273.3,152.0 273.3,151.9 273.4,147.9 273.4,144.5 273.5,140.0 273.5,143.7 273.6,149.5 273.6,156.3 273.7,162.0 273.7,163.7 273.8,167.7 273.8,167.8 273.9,164.9 273.9,162.0 274.0,159.1 274.0,156.3 274.1,153.7 274.1,151.8 274.2,151.0 274.2,150.8 274.3,150.6 274.3,151.2 274.4,150.8 274.4,149.4 274.5,151.1 274.5,150.5 274.6,150.7 274.6,151.1 274.7,152.3 274.7,154.3 274.8,156.7 274.8,157.8 274.9,160.4 274.9,161.8 275.0,165.4 275.0,166.6 275.1,162.9 275.1,160.7 275.2,158.5 275.2,155.4 275.3,153.7 275.3,152.2 275.4,151.0 275.4,150.3 275.5,152.0 275.5,151.7 275.6,151.6 275.6,153.6 275.7,156.1 275.7,159.0 275.8,160.4 275.8,163.3 275.9,165.5 275.9,166.8 276.0,164.5 276.0,162.4 276.1,160.0 276.1,157.2 276.2,154.1 276.2,151.8 276.3,151.0 276.3,151.9 276.4,153.1 276.4,151.8 276.4,150.7 276.5,150.4 276.5,149.6 276.6,150.6 276.6,149.6 276.7,144.5 276.7,137.8 276.8,132.0 276.8,133.1 276.9,139.6 276.9,145.9 277.0,151.1 277.0,152.8 277.1,155.7 277.1,159.8 277.2,161.5 277.2,163.9 277.3,167.4 277.3,170.1 277.4,168.0 277.4,165.1 277.5,159.9 277.5,156.8 277.6,153.2 277.6,151.3 277.7,151.9 277.7,152.7 277.8,151.8 277.8,152.5 277.9,152.2 277.9,151.2 278.0,150.9 278.0,151.7 278.1,151.6 278.1,154.1 278.2,156.6 278.2,160.0 278.3,162.0 278.3,165.2 278.4,168.4 278.4,169.3 278.5,166.1 278.5,163.0 278.6,160.9 278.6,157.5 278.7,155.1 278.7,151.7 278.8,152.1 278.8,152.1 278.9,151.6 278.9,151.2 279.0,150.7 279.0,151.9 279.1,151.3 279.1,150.5 279.2,149.7 279.2,153.7 279.3,158.1 279.3,160.6 279.4,161.6 279.4,163.6 279.5,167.1 279.5,165.0 279.6,164.1 279.6,161.7 279.7,158.7 279.7,155.4 279.8,152.4 279.8,151.5 279.9,150.6 279.9,150.7 279.9,150.4 280.0,150.1 280.0,153.3 280.1,157.0 280.1,159.2 280.2,161.9 280.2,162.7 280.3,165.4 280.3,164.0 280.4,160.4 280.4,158.3 280.5,156.0 280.5,153.1 280.6,150.7 280.6,150.7 280.7,150.5 280.7,150.0 280.8,150.9 280.8,150.8 280.9,149.9 280.9,151.0 281.0,151.3 281.0,151.1 281.1,149.5 281.1,144.4 281.2,138.5 281.2,132.8 281.3,133.0 281.3,138.8 281.4,145.1 281.4,150.9 281.5,152.4 281.5,153.3 281.6,155.0 281.6,156.7 281.7,160.7 281.7,162.7 281.8,165.6 281.8,166.8 281.9,163.6 281.9,161.8 282.0,158.5 282.0,157.1 282.1,154.2 282.1,152.6 282.2,152.2 282.2,152.5 282.3,150.5 282.3,149.7 282.4,151.0 282.4,151.3 282.5,150.9 282.5,151.9 282.6,151.0 282.6,152.7 282.7,154.7 282.7,157.7 282.8,160.3 282.8,163.3 282.9,167.1 282.9,167.9 283.0,164.7 283.0,161.7 283.1,159.1 283.1,156.2 283.2,153.8 283.2,151.8 283.3,150.9 283.3,150.5 283.4,151.0 283.4,150.7 283.5,152.9 283.5,155.9 283.5,157.2 283.6,160.2 283.6,164.8 283.7,168.1 283.7,166.6 283.8,163.2 283.8,160.7 283.9,159.2 283.9,156.7 284.0,152.5 284.0,149.9 284.1,149.9 284.1,150.1 284.2,151.3 284.2,150.6 284.3,151.0 284.3,150.6 284.4,150.4 284.4,151.0 284.5,151.4 284.5,150.9 284.6,150.8 284.6,150.6 284.7,151.8 284.7,152.2 284.8,150.7 284.8,150.9 284.9,151.4 284.9,150.8 285.0,150.7 285.0,150.2 285.1,150.9 285.1,150.4 285.2,151.3 285.2,152.0 285.3,151.5 285.3,152.0 285.4,151.0 285.4,150.1 285.5,151.2 285.5,148.3 285.6,143.8 285.6,137.4 285.7,133.3 285.7,137.8 285.8,143.5 285.8,152.0 285.9,156.0 285.9,158.5 286.0,161.1 286.0,164.7 286.1,167.0 286.1,164.9 286.2,162.2 286.2,159.7 286.3,156.5 286.3,152.8 286.4,151.1 286.4,149.2 286.5,151.8 286.5,152.7 286.6,151.6 286.6,152.0 286.7,151.9 286.7,151.4 286.8,151.3 286.8,152.5 286.9,150.9 286.9,151.2 287.0,151.8 287.0,153.1 287.1,155.7 287.1,158.1 287.1,160.5 287.2,163.1 287.2,164.7 287.3,164.0 287.3,162.0 287.4,158.8 287.4,157.1 287.5,155.5 287.5,152.4 287.6,152.1 287.6,151.7 287.7,150.2 287.7,150.6 287.8,151.2 287.8,150.7 287.9,150.2 287.9,153.3 288.0,155.7 288.0,159.6 288.1,160.8 288.1,162.4 288.2,165.0 288.2,162.7 288.3,160.7 288.3,158.5 288.4,157.7 288.4,154.3 288.5,151.8 288.5,150.8 288.6,151.0 288.6,150.6 288.7,150.4 288.7,149.0 288.8,149.7 288.8,149.4 288.9,150.6 288.9,151.0 289.0,151.8 289.0,152.1 289.1,151.2 289.1,151.3 289.2,150.6 289.2,152.1 289.3,152.3 289.3,150.9 289.4,151.3 289.4,150.9 289.5,151.2 289.5,150.6 289.6,149.6 289.6,149.4 289.7,151.2 289.7,150.6 289.8,151.3 289.8,151.1 289.9,150.3 289.9,147.2 290.0,141.7 290.0,136.8 290.1,133.2 290.1,138.5 290.2,143.1 290.2,148.6 290.3,151.4 290.3,151.8 290.4,153.6 290.4,156.5 290.5,158.7 290.5,162.2 290.6,164.8 290.6,169.0 290.7,167.6 290.7,164.7 290.7,160.7 290.8,158.9 290.8,155.2 290.9,152.6 290.9,150.7 291.0,150.8 291.0,149.1 291.1,147.1 291.1,147.3 291.2,146.4 291.2,151.3 291.3,156.3 291.3,162.2 291.4,165.0 291.4,162.2 291.5,160.0 291.5,157.1 291.6,154.1 291.6,152.7 291.7,151.5 291.7,151.8 291.8,151.6 291.8,150.9 291.9,150.4 291.9,151.3 292.0,150.9 292.0,150.9 292.1,151.4 292.1,152.0 292.2,151.8 292.2,151.2 292.3,152.7 292.3,151.4 292.4,151.9 292.4,151.5 292.5,150.1 292.5,149.7 292.6,151.5 292.6,151.2 292.7,151.9 292.7,152.5 292.8,151.7 292.8,151.3 292.9,149.8 292.9,149.1 293.0,151.1 293.0,151.2 293.1,151.5 293.1,152.1 293.2,151.0 293.2,152.0 293.3,154.7 293.3,158.0 293.4,160.7 293.4,162.6 293.5,165.8 293.5,165.3 293.6,162.6 293.6,159.0 293.7,157.1 293.7,155.0 293.8,153.0 293.8,151.1 293.9,151.0 293.9,150.7 294.0,150.5 294.0,150.3 294.1,150.7 294.1,149.8 294.2,150.6 294.2,151.4 294.2,151.1 294.3,145.1 294.3,138.1 294.4,132.1 294.4,133.0 294.5,139.1 294.5,147.5 294.6,157.2 294.6,158.4 294.7,162.1 294.7,164.8 294.8,167.7 294.8,167.2 294.9,164.2 294.9,161.7 295.0,158.7 295.0,156.1 295.1,153.8 295.1,150.9 295.2,151.2 295.2,150.7 295.3,150.0 295.3,150.6 295.4,152.3 295.4,151.6 295.5,151.6 295.5,150.9 295.6,151.3 295.6,154.8 295.7,157.9 295.7,160.1 295.8,162.7 295.8,166.5 295.9,167.6 295.9,165.6 296.0,161.8 296.0,159.1 296.1,156.2 296.1,153.1 296.2,150.9 296.2,150.8 296.3,150.6 296.3,151.6 296.4,150.4 296.4,150.4 296.5,150.3 296.5,149.7 296.6,150.4 296.6,149.9 296.7,150.6 296.7,151.2 296.8,152.2 296.8,152.4 296.9,152.0 296.9,152.0 297.0,151.5 297.0,152.2 297.1,151.8 297.1,151.4 297.2,152.1 297.2,151.9 297.3,152.0 297.3,151.0 297.4,150.0 297.4,150.1 297.5,150.5 297.5,151.8 297.6,154.4 297.6,156.7 297.7,160.0 297.7,161.5 297.8,164.2 297.8,167.1 297.8,163.4 297.9,162.8 297.9,159.4 298.0,157.7 298.0,154.6 298.1,151.3 298.1,149.9 298.2,150.6 298.2,151.4 298.3,151.1 298.3,151.4 298.4,150.6 298.4,150.3 298.5,150.3 298.5,149.5 298.6,149.2 298.6,142.6 298.7,137.3 298.7,132.0 298.8,133.3 298.8,140.1 298.9,145.6 298.9,151.3 299.0,151.1 299.0,154.9 299.1,158.3 299.1,160.5 299.2,163.3 299.2,166.3 299.3,169.3 299.3,167.3 299.4,163.4 299.4,160.1 299.5,156.5 299.5,153.5 299.6,150.6 299.6,148.9 299.7,149.3 299.7,150.5 299.8,152.1 299.8,151.6 299.9,150.3 299.9,150.7 300.0,150.5 300.0,149.7 300.1,150.4 300.1,151.0 300.2,151.9 300.2,151.6 300.3,151.5 300.3,151.2 300.4,152.3 300.4,150.7 300.5,150.4 300.5,150.9 300.6,151.1 300.6,150.1 300.7,150.1 300.7,151.4 300.8,151.4 300.8,151.6 300.9,152.1 300.9,151.5 301.0,150.7 301.0,149.8 301.1,151.4 301.1,150.0 301.2,151.4 301.2,151.8 301.3,151.6 301.3,152.0 301.4,150.8 301.4,150.9 301.4,150.1 301.5,151.0 301.5,149.4 301.6,150.7 301.6,150.8 301.7,151.8 301.7,151.1 301.8,151.3 301.8,150.9 301.9,150.1 301.9,151.7 302.0,151.8 302.0,151.3 302.1,151.7 302.1,151.2 302.2,151.0 302.2,151.0 302.3,150.8 302.3,151.5 302.4,150.3 302.4,150.7 302.5,151.2 302.5,151.3 302.6,150.7 302.6,150.7 302.7,150.7 302.7,150.9 302.8,151.8 302.8,152.1 302.9,150.6 302.9,147.7 303.0,142.7 303.0,138.0 303.1,134.1 303.1,138.5 303.2,143.5 303.2,149.2 303.3,151.1 303.3,153.2 303.4,157.6 303.4,158.5 303.5,163.0 303.5,165.8 303.6,167.5 303.6,167.2 303.7,164.3 303.7,161.5 303.8,157.5 303.8,154.6 303.9,153.3 303.9,152.1 304.0,152.9 304.0,150.8 304.1,148.8 304.1,148.0 304.2,147.2 304.2,149.4 304.3,153.9 304.3,159.9 304.4,164.2 304.4,164.4 304.5,162.9 304.5,159.6 304.6,157.2 304.6,154.9 304.7,152.2 304.7,151.2 304.8,150.4 304.8,150.7 304.9,152.5 304.9,152.1 305.0,151.0 305.0,151.3 305.0,151.3 305.1,151.1 305.1,151.6 305.2,152.0 305.2,151.0 305.3,152.1 305.3,153.6 305.4,156.9 305.4,159.0 305.5,162.6 305.5,165.7 305.6,167.3 305.6,164.8 305.7,162.4 305.7,158.6 305.8,156.2 305.8,154.9 305.9,151.4 305.9,150.8 306.0,150.6 306.0,149.8 306.1,152.0 306.1,155.1 306.2,159.4 306.2,161.7 306.3,164.4 306.3,168.6 306.4,166.6 306.4,163.7 306.5,160.0 306.5,157.9 306.6,154.1 306.6,151.3 306.7,150.4 306.7,150.5 306.8,151.8 306.8,152.2 306.9,152.5 306.9,151.7 307.0,151.1 307.0,151.6 307.1,151.5 307.1,151.9 307.2,151.6 307.2,147.8 307.3,141.1 307.3,135.5 307.4,129.5 307.4,135.6 307.5,141.1 307.5,146.8 307.6,150.4 307.6,151.9 307.7,154.4 307.7,157.4 307.8,159.7 307.8,161.8 307.9,165.1 307.9,166.7 308.0,162.2 308.0,158.7 308.1,158.2 308.1,155.6 308.2,152.9 308.2,151.4 308.3,153.1 308.3,151.1 308.4,150.8 308.4,150.7 308.5,151.1 308.5,153.3 308.5,155.4 308.6,158.3 308.6,160.1 308.7,163.3 308.7,167.0 308.8,167.3 308.8,164.3 308.9,163.5 308.9,159.9 309.0,157.7 309.0,153.6 309.1,151.7 309.1,150.9 309.2,151.6 309.2,151.0 309.3,152.0 309.3,150.6 309.4,150.8 309.4,151.1 309.5,151.6 309.5,150.9 309.6,152.7 309.6,155.7 309.7,157.9 309.7,161.3 309.8,164.5 309.8,166.7 309.9,166.6 309.9,162.5 310.0,158.8 310.0,156.5 310.1,154.1 310.1,153.1 310.2,152.2 310.2,152.2 310.3,151.0 310.3,151.6 310.4,151.8 310.4,150.9 310.5,150.0 310.5,151.4 310.6,151.0 310.6,151.8 310.7,152.0 310.7,151.6 310.8,151.8 310.8,151.7 310.9,151.6 310.9,150.4 311.0,150.8 311.0,150.2 311.1,150.4 311.1,150.2 311.2,152.6 311.2,151.6 311.3,151.2 311.3,150.9 311.4,151.1 311.4,150.5 311.5,150.7 311.5,145.6 311.6,140.0 311.6,134.7 311.7,134.2 311.7,139.9 311.8,145.2 311.8,151.0 311.9,154.1 311.9,156.2 312.0,157.5 312.0,161.5 312.1,164.8 312.1,165.8" fill="none" stroke="#ff0000" stroke-width="1.1" stroke-linejoin="round"/></g>
<g clip-path="url(#c11)"><polyline points="390.5,170.9 390.6,165.6 390.7,165.8 390.8,166.2 390.9,167.0 391.0,168.4 391.1,169.9 391.2,171.3 391.3,173.1 391.4,174.6 391.5,174.7 391.6,173.4 391.7,171.7 391.8,170.1 391.9,169.6 392.0,170.6 392.1,172.3 392.2,173.3 392.3,173.2 392.4,172.9 392.5,173.1 392.6,173.9 392.7,174.3 392.8,173.5 392.9,172.2 393.0,171.8 393.1,172.7 393.2,174.0 393.3,174.5 393.4,174.1 393.5,172.8 393.6,171.0 393.7,170.0 393.8,169.4 393.9,168.5 394.0,167.3 394.1,166.0 394.2,165.4 394.3,165.3 394.4,165.7 394.5,166.1 394.6,166.2 394.7,166.0 394.8,165.4 394.9,164.7 395.0,164.9 395.1,166.0 395.2,166.9 395.3,167.4 395.4,167.5 395.5,167.4 395.6,167.5 395.7,167.7 395.8,167.5 395.9,166.6 396.0,166.2 396.1,166.8 396.2,167.1 396.3,166.7 396.4,166.4 396.5,166.8 396.6,167.6 396.7,168.4 396.8,168.7 396.9,168.9 397.0,169.0 397.1,169.4 397.2,170.1 397.3,171.1 397.4,172.0 397.5,172.5 397.6,173.1 397.7,173.7 397.8,174.3 397.9,174.6 398.0,174.2 398.1,172.7 398.2,171.3 398.3,170.4 398.4,168.8 398.5,166.0 398.6,167.4 398.7,167.8 398.8,169.2 398.9,170.3 399.0,170.9 399.1,171.3 399.2,171.2 399.3,170.1 399.4,169.3 399.5,169.2 399.6,169.8 399.7,170.3 399.8,170.0 399.9,168.8 400.0,167.1 400.1,165.4 400.2,164.0 400.3,164.1 400.4,165.3 400.5,166.8 400.6,167.7 400.7,167.6 400.8,167.0 400.9,166.6 401.0,166.7 401.1,167.2 401.2,167.6 401.3,168.4 401.4,169.6 401.5,170.2 401.6,169.6 401.7,167.8 401.8,166.6 401.9,166.6 402.0,167.9 402.1,169.6 402.2,170.6 402.3,170.6 402.4,170.7 402.5,172.0 402.6,173.8 402.7,174.5 402.8,174.1 402.9,173.6 403.0,173.5 403.1,173.8 403.2,174.3 403.3,175.5 403.4,177.0 403.5,177.1 403.6,172.0 403.7,166.8 403.8,163.6 403.9,161.7 404.0,159.0 404.1,153.0 404.2,146.9 404.3,141.8 404.4,144.6 404.5,148.0 404.6,152.1 404.7,156.6 404.8,160.7 404.9,163.9 405.0,166.3 405.1,168.6 405.2,167.4 405.3,166.6 405.4,166.2 405.5,166.3 405.6,166.7 405.7,166.9 405.8,167.3 405.9,168.0 406.0,168.7 406.1,168.8 406.2,168.5 406.3,168.7 406.4,169.6 406.5,170.5 406.6,169.9 406.7,167.9 406.8,165.9 406.9,165.0 407.0,165.5 407.1,167.0 407.2,168.4 407.3,169.4 407.4,170.1 407.5,170.0 407.6,169.3 407.7,169.2 407.8,170.5 407.9,171.9 408.0,172.6 408.1,173.5 408.2,174.4 408.3,174.3 408.4,173.2 408.5,172.2 408.6,171.9 408.7,172.1 408.8,172.6 408.9,173.5 409.0,174.9 409.1,175.8 409.2,174.9 409.3,173.7 409.4,173.1 409.5,173.0 409.6,172.4 409.7,173.3 409.8,174.5 409.9,175.5 410.0,174.6 410.1,172.8 410.2,171.5 410.3,171.0 410.4,170.3 410.5,169.9 410.6,170.3 410.7,170.7 410.8,170.2 410.9,168.5 411.0,166.5 411.1,165.1 411.2,164.4 411.3,164.4 411.4,164.1 411.5,163.0 411.6,163.2 411.7,163.7 411.8,163.5 411.9,161.6 412.0,159.7 412.1,159.9 412.2,162.4 412.3,165.4 412.4,167.5 412.5,168.4 412.6,169.1 412.7,170.2 412.8,171.0 412.9,171.0 413.0,170.7 413.1,170.0 413.2,169.3 413.3,169.3 413.4,170.2 413.5,171.2 413.6,171.9 413.7,172.1 413.8,171.6 413.9,171.0 414.0,171.3 414.1,172.9 414.2,175.4 414.3,176.7 414.4,176.3 414.5,175.8 414.6,176.8 414.7,178.1 414.8,179.3 414.9,179.3 415.0,177.9 415.1,176.0 415.2,173.8 415.3,173.1 415.4,172.6 415.5,171.8 415.6,170.7 415.7,170.2 415.8,170.2 415.9,170.5 416.0,170.4 416.1,169.7 416.2,168.4 416.3,166.5 416.4,165.1 416.5,165.3 416.6,166.8 416.7,168.4 416.8,169.3 416.9,169.3 417.0,169.1 417.1,168.9 417.2,169.1 417.3,169.5 417.4,169.6 417.5,169.5 417.6,169.4 417.7,169.7 417.8,169.6 417.9,168.9 418.0,168.5 418.1,169.5 418.2,170.9 418.3,171.4 418.4,170.7 418.5,170.0 418.6,170.3 418.7,171.4 418.8,171.8 418.9,170.9 419.0,170.2 419.1,171.3 419.2,173.3 419.3,173.9 419.4,173.4 419.5,173.7 419.6,175.6 419.7,177.2 419.8,176.6 419.9,174.5 420.0,173.9 420.1,175.6 420.2,176.8 420.3,176.0 420.4,174.4 420.5,173.4 420.6,172.8 420.7,168.9 420.8,166.4 420.9,165.2 421.0,164.9 421.1,164.4 421.2,163.3 421.3,163.1 421.4,165.1 421.5,166.7 421.6,167.3 421.7,168.1 421.8,168.9 421.9,168.2 422.0,166.3 422.1,164.9 422.2,164.9 422.3,165.4 422.4,165.8 422.5,166.5 422.6,164.0 422.7,160.5 422.8,156.5 422.9,152.6 423.0,149.2 423.1,146.2 423.2,143.9 423.3,147.1 423.4,149.8 423.5,152.2 423.6,155.0 423.7,158.7 423.8,162.8 423.9,165.6 424.0,165.5 424.1,165.8 424.2,166.3 424.3,165.9 424.4,161.8 424.5,157.8 424.6,154.6 424.7,151.8 424.8,148.1 424.9,143.6 425.0,140.2 425.1,143.6 425.2,148.1 425.3,153.6 425.4,159.6 425.5,164.7 425.6,167.7 425.7,169.4 425.8,168.9 425.9,168.7 426.0,168.1 426.1,169.3 426.2,168.2 426.3,167.6 426.4,167.1 426.5,166.1 426.6,164.3 426.7,162.3 426.8,158.0 426.9,155.0 427.0,151.9 427.1,147.6 427.2,142.3 427.3,137.8 427.4,135.9 427.5,140.9 427.6,144.5 427.7,147.5 427.8,151.2 427.9,155.4 428.0,159.6 428.1,162.9 428.2,163.7 428.3,164.0 428.4,162.7 428.5,160.7 428.6,160.0 428.7,161.3 428.8,163.3 428.9,165.0 429.0,166.2 429.1,166.3 429.2,165.5 429.3,164.6 429.4,164.2 429.5,164.3 429.6,165.0 429.7,166.5 429.8,168.9 429.9,170.9 430.0,171.6 430.1,171.1 430.2,170.3 430.3,169.8 430.4,170.3 430.5,171.0 430.6,171.9 430.7,173.2 430.8,174.6 430.9,172.9 431.0,170.0 431.1,165.7 431.2,161.4 431.3,158.2 431.4,156.0 431.5,155.3 431.6,157.9 431.7,159.9 431.8,162.5 431.9,165.6 432.0,169.6 432.1,174.3 432.2,176.8 432.3,174.9 432.4,172.1 432.5,170.3 432.6,170.2 432.7,170.0 432.8,169.0 432.9,168.0 433.0,167.6 433.1,167.4 433.2,166.9 433.3,166.4 433.4,166.3 433.5,166.4 433.6,166.3 433.7,166.2 433.8,166.3 433.9,166.8 434.0,167.4 434.1,167.8 434.2,168.0 434.3,167.4 434.4,166.9 434.5,167.8 434.6,169.1 434.7,169.9 434.8,170.4 434.9,171.3 435.0,171.6 435.1,170.4 435.2,168.9 435.3,168.6 435.4,170.0 435.5,172.2 435.6,174.6 435.7,176.0 435.8,175.8 435.9,175.0 436.0,174.7 436.1,175.1 436.2,176.0 436.3,177.3 436.4,177.6 436.5,176.9 436.6,176.2 436.7,175.0 436.8,172.7 436.9,169.0 437.0,167.6 437.1,168.2 437.2,169.8 437.3,170.9 437.4,170.6 437.5,169.9 437.6,170.3 437.7,171.4 437.8,171.2 437.9,169.4 438.0,168.0 438.1,168.0 438.2,168.8 438.3,169.2 438.4,169.1 438.5,168.8 438.6,168.3 438.7,167.8 438.8,167.4 438.9,167.4 439.0,167.6 439.1,167.6 439.2,167.8 439.3,168.3 439.4,168.5 439.5,168.1 439.6,167.6 439.7,167.6 439.8,167.5 439.9,167.6 440.0,168.0 440.1,168.6 440.2,168.9 440.3,169.2 440.4,169.4 440.5,169.7 440.6,170.1 440.7,170.8 440.8,171.9 440.9,172.8 441.0,173.2 441.1,173.1 441.2,172.8 441.3,173.1 441.4,174.4 441.5,176.3 441.6,177.1 441.7,176.3 441.8,174.5 441.9,173.7 442.0,174.1 442.1,174.2 442.2,174.3 442.3,175.6 442.4,175.7 442.5,174.7 442.6,172.5 442.7,170.7 442.8,170.4 442.9,171.1 443.0,171.5 443.1,170.8 443.2,169.1 443.3,168.3 443.4,168.7 443.5,169.2 443.6,169.1 443.7,168.6 443.8,168.3 443.9,168.0 444.0,167.1 444.1,166.2 444.2,165.8 444.3,166.2 444.4,166.8 444.5,167.0 444.6,166.8 444.7,166.5 444.8,166.4 444.9,166.2 445.0,166.0 445.1,166.4 445.2,167.8 445.3,169.9 445.4,171.7 445.5,171.2 445.6,166.8 445.7,162.5 445.8,158.8 445.9,155.7 446.0,153.0 446.1,150.4 446.2,148.0 446.3,147.3 446.4,152.1 446.5,156.5 446.6,159.7 446.7,161.4 446.8,162.4 446.9,164.4 447.0,168.7 447.1,173.6 447.2,174.6 447.3,173.3 447.4,171.0 447.5,170.3 447.6,170.0 447.7,171.7 447.8,172.0 447.9,171.1 448.0,170.0 448.1,169.3 448.2,169.0 448.3,168.5 448.4,167.9 448.5,167.7 448.6,167.8 448.7,168.2 448.8,168.4 448.9,167.9 449.0,167.1 449.1,166.5 449.2,166.7 449.3,167.2 449.4,167.3 449.5,167.4 449.6,168.0 449.7,169.0 449.8,170.3 449.9,171.4 450.0,171.6 450.1,170.4 450.2,168.4 450.3,166.8 450.4,166.3 450.5,166.5 450.6,166.6 450.7,166.4 450.8,166.2 450.9,166.4 451.0,167.2 451.1,168.4 451.2,169.7 451.3,170.2 451.4,169.4 451.5,168.7 451.6,169.0 451.7,169.5 451.8,169.6 451.9,169.6 452.0,169.8 452.1,169.2 452.2,168.6 452.3,166.8 452.4,163.5 452.5,159.4 452.6,155.8 452.7,152.7 452.8,151.6 452.9,157.1 453.0,160.4 453.1,163.4 453.2,165.3 453.3,166.2 453.4,167.1 453.5,169.0 453.6,171.7 453.7,172.4 453.8,171.9 453.9,170.4 454.0,168.8 454.1,167.4 454.2,166.7 454.3,167.5 454.4,169.3 454.5,170.0 454.6,169.4 454.7,168.3 454.8,167.3 454.9,166.9 455.0,167.0 455.1,167.2 455.2,167.2 455.3,166.8 455.4,166.7 455.5,167.5 455.6,168.9 455.7,169.6 455.8,169.2 455.9,168.4 456.0,168.1 456.1,167.8 456.2,167.2 456.3,166.6 456.4,166.3 456.5,167.1 456.6,168.9 456.7,170.5 456.8,169.3 456.9,166.9 457.0,164.4 457.1,162.6 457.2,161.7 457.3,161.0 457.4,161.0 457.5,163.5 457.6,166.3 457.7,169.2 457.8,171.0 457.9,171.2 458.0,170.6 458.1,170.9 458.2,171.9 458.3,172.8 458.4,173.3 458.5,172.9 458.6,172.0 458.7,171.2 458.8,170.7 458.9,171.2 459.0,172.1 459.1,172.5 459.2,171.6 459.3,169.8 459.4,168.1 459.5,167.2 459.6,167.0 459.7,167.3 459.8,167.8 459.9,168.5 460.0,168.9 460.1,168.2 460.2,166.9 460.3,166.4 460.4,167.0 460.5,168.0 460.6,167.8 460.7,167.1 460.8,167.3 460.9,168.5 461.0,169.6 461.1,169.8 461.2,169.1 461.3,168.4 461.4,168.1 461.5,169.0 461.6,171.1 461.7,173.1 461.8,173.6 461.9,172.6 462.0,171.4 462.1,171.5 462.2,172.4 462.3,173.0 462.4,173.0 462.5,173.3 462.6,174.7 462.7,176.7 462.8,178.4 462.9,179.4 463.0,178.8 463.1,178.3 463.2,178.1 463.3,177.2 463.4,175.4 463.5,173.7 463.6,173.1 463.7,173.5 463.8,174.1 463.9,173.2 464.0,170.9 464.1,169.0 464.2,168.9 464.3,168.2 464.4,168.5 464.5,169.3 464.6,169.8 464.7,169.3 464.8,168.1 464.9,166.9 465.0,166.2 465.1,166.2 465.2,166.6 465.3,167.2 465.4,168.0 465.5,169.0 465.6,169.8 465.7,170.0 465.8,169.6 465.9,169.1 466.0,168.8 466.1,169.1 466.2,169.5 466.3,169.9 466.4,170.0 466.5,169.7 466.6,169.4 466.7,169.5 466.8,170.4 466.9,171.7 467.0,172.8 467.1,174.0 467.2,174.9 467.3,175.2 467.4,174.0 467.5,172.6 467.6,170.8 467.7,168.9 467.8,167.4 467.9,166.0 468.0,165.5 468.1,167.7 468.2,169.1 468.3,170.6 468.4,172.1 468.5,173.5 468.6,174.5 468.7,173.1 468.8,172.9 468.9,172.6 469.0,171.9 469.1,171.0 469.2,169.8 469.3,168.6 469.4,167.8 469.5,167.7 469.6,167.8 469.7,167.9 469.8,168.1 469.9,168.4 470.0,168.9 470.1,169.6 470.2,170.2 470.3,170.0 470.4,169.3 470.5,168.3 470.6,167.3 470.7,166.5 470.8,166.2 470.9,166.5 471.0,167.1 471.1,167.9 471.2,168.6 471.3,168.8 471.4,168.4 471.5,168.1 471.6,168.3 471.7,169.0 471.8,169.9 471.9,170.6 472.0,170.8 472.1,170.6 472.2,170.4 472.3,170.5 472.4,171.0 472.5,171.8 472.6,172.4 472.7,172.3 472.8,171.9 472.9,171.9 473.0,172.4 473.1,173.3 473.2,173.8 473.3,173.8 473.4,172.7 473.5,171.9 473.6,171.7 473.7,171.8 473.8,171.8 473.9,172.7 474.0,171.7 474.1,171.1 474.2,171.1 474.3,170.3 474.4,166.0 474.5,161.4 474.6,156.7 474.7,152.5 474.8,149.0 474.9,145.4 475.0,143.9 475.1,147.2 475.2,150.7 475.3,154.4 475.4,158.6 475.5,163.0 475.6,167.0 475.7,168.9 475.8,168.3 475.9,167.8 476.0,167.6 476.1,167.8 476.2,167.2 476.3,163.6 476.4,159.8 476.5,156.0 476.6,151.9 476.7,147.5 476.8,142.8 476.9,140.8 477.0,144.0 477.1,147.8 477.2,151.7 477.3,155.1 477.4,158.3 477.5,162.1 477.6,165.3 477.7,167.0 477.8,167.9 477.9,167.5 478.0,166.1 478.1,163.9 478.2,162.8 478.3,162.3 478.4,161.8 478.5,160.2 478.6,157.0 478.7,154.4 478.8,154.0 478.9,153.8 479.0,153.4 479.1,154.1 479.2,155.3 479.3,156.5 479.4,157.0 479.5,156.5 479.6,155.9 479.7,155.5 479.8,155.6 479.9,156.0 480.0,156.0 480.1,155.1 480.2,153.8 480.3,153.1 480.4,153.4 480.5,154.4 480.6,155.2 480.7,155.1 480.8,154.1 480.9,153.4 481.0,153.4 481.1,154.0 481.2,154.7 481.3,154.5 481.4,152.0 481.5,149.5 481.6,146.9 481.7,144.1 481.8,141.5 481.9,139.2 482.0,139.5 482.1,143.8 482.2,148.1 482.3,152.1 482.4,155.4 482.5,158.3 482.6,160.9 482.7,161.3 482.8,158.1 482.9,155.4 483.0,153.1 483.1,150.9 483.2,148.8 483.3,146.7 483.4,147.0 483.5,151.8 483.6,156.9 483.7,161.0 483.8,164.1 483.9,166.4 484.0,168.4 484.1,169.7 484.2,169.4 484.3,170.7 484.4,171.3 484.5,170.7 484.6,168.8 484.7,166.9 484.8,164.8 484.9,162.8 485.0,160.7 485.1,159.0 485.2,159.0 485.3,160.9 485.4,162.6 485.5,163.8 485.6,164.9 485.7,166.0 485.8,167.2 485.9,167.4 486.0,166.8 486.1,165.9 486.2,164.8 486.3,163.8 486.4,163.2 486.5,163.5 486.6,164.7 486.7,165.5 486.8,166.3 486.9,167.0 487.0,167.7 487.1,168.6 487.2,169.2 487.3,169.5 487.4,170.0 487.5,170.2 487.6,170.0 487.7,169.9 487.8,170.0 487.9,170.7 488.0,172.1 488.1,173.7 488.2,174.9 488.3,175.6 488.4,175.8 488.5,175.7 488.6,175.6 488.7,175.6 488.8,174.5 488.9,173.2 489.0,172.1 489.1,171.8 489.2,172.4 489.3,173.5 489.4,174.0 489.5,173.1 489.6,171.6 489.7,170.2 489.8,169.1 489.9,168.1 490.0,167.1 490.1,166.4 490.2,166.4 490.3,167.6 490.4,169.1 490.5,170.0 490.6,169.8 490.7,168.7 490.8,167.7 490.9,167.5 491.0,168.1 491.1,168.8 491.2,169.0 491.3,168.5 491.4,167.8 491.5,167.2 491.6,166.8 491.7,166.5 491.8,166.3 491.9,166.3 492.0,166.6 492.1,167.1 492.2,167.7 492.3,168.4 492.4,169.2 492.5,170.2 492.6,171.0 492.7,171.5 492.8,171.5 492.9,171.1 493.0,170.6 493.1,170.5 493.2,170.7 493.3,171.1 493.4,171.8 493.5,172.4 493.6,172.9 493.7,173.3 493.8,173.3 493.9,172.4 494.0,171.6 494.1,171.3 494.2,171.3 494.3,170.9 494.4,171.3 494.5,171.4 494.6,171.2 494.7,170.6 494.8,169.7 494.9,168.8 495.0,168.3 495.1,168.4 495.2,168.8 495.3,169.3 495.4,169.4 495.5,169.2 495.6,168.7 495.7,168.2 495.8,167.4 495.9,166.4 496.0,165.9 496.1,166.1 496.2,167.1 496.3,168.7 496.4,170.0 496.5,170.5 496.6,170.0 496.7,168.9 496.8,167.9 496.9,167.5 497.0,167.8 497.1,168.4 497.2,168.7 497.3,168.9 497.4,169.0 497.5,169.1 497.6,169.0 497.7,169.1 497.8,169.7 497.9,170.7 498.0,171.5 498.1,171.9 498.2,171.6 498.3,170.6 498.4,169.3 498.5,168.4 498.6,167.8 498.7,167.5 498.8,167.0 498.9,165.2 499.0,164.1 499.1,164.7 499.2,165.6 499.3,166.9 499.4,171.0 499.5,171.9 499.6,172.2 499.7,171.7 499.8,170.7 499.9,170.4 500.0,170.8 500.1,171.0 500.2,170.6 500.3,169.8 500.4,169.0 500.5,168.3 500.6,168.0 500.7,168.0 500.8,167.9 500.9,167.6 501.0,167.4 501.1,167.7 501.2,168.1 501.3,168.1 501.4,167.3 501.5,166.1 501.6,165.3 501.7,165.0 501.8,164.9 501.9,164.7 502.0,164.8 502.1,165.5 502.2,166.5 502.3,167.5 502.4,168.4 502.5,169.7 502.6,171.3 502.7,172.7 502.8,173.4 502.9,173.8 503.0,174.3 503.1,175.0 503.2,175.6 503.3,175.7 503.4,175.5 503.5,175.5 503.6,176.1 503.7,177.2 503.8,178.3 503.9,178.1 504.0,176.8 504.1,175.0 504.2,173.7 504.3,173.3 504.4,171.6 504.5,172.5 504.6,172.8 504.7,172.0 504.8,170.8 504.9,169.6 505.0,168.8 505.1,168.4 505.2,167.9 505.3,167.2 505.4,166.7 505.5,166.2 505.6,166.0 505.7,165.9 505.8,166.1 505.9,166.6 506.0,167.6 506.1,168.5 506.2,168.9 506.3,168.5 506.4,167.6 506.5,166.5 506.6,166.1 506.7,166.3 506.8,166.8 506.9,167.3 507.0,167.8 507.1,168.3 507.2,168.7 507.3,169.0 507.4,169.2 507.5,169.4 507.6,170.1 507.7,171.5 507.8,172.9 507.9,173.6 508.0,173.5 508.1,172.8 508.2,172.3 508.3,172.2 508.4,172.2 508.5,172.1 508.6,172.3 508.7,173.0 508.8,174.2 508.9,174.8 509.0,175.0 509.1,174.8 509.2,174.5 509.3,174.1 509.4,175.7 509.5,174.5 509.6,173.4 509.7,172.3 509.8,171.7 509.9,171.7 510.0,172.2 510.1,172.5 510.2,172.4 510.3,172.0 510.4,171.1 510.5,170.2 510.6,169.2 510.7,168.1 510.8,167.0 510.9,166.4 511.0,166.4 511.1,166.7 511.2,167.2 511.3,167.5 511.4,167.3 511.5,166.6 511.6,166.4 511.7,167.0 511.8,168.4 511.9,169.6 512.0,169.9 512.1,169.3 512.2,168.4 512.3,168.2 512.4,168.6 512.5,169.1 512.6,169.2 512.7,169.2 512.8,169.5 512.9,170.3 513.0,171.4 513.1,172.5 513.2,173.7 513.3,175.0 513.4,176.0 513.6,176.3 513.7,176.2 513.8,175.9 513.9,175.8 514.0,175.4 514.1,175.4 514.2,175.2 514.3,175.1 514.4,172.7 514.5,172.3 514.6,171.5 514.7,170.6 514.8,169.9 514.9,169.4 515.0,168.9 515.1,168.2 515.2,167.7 515.3,167.3 515.4,167.2 515.5,167.2 515.6,166.8 515.7,166.1 515.8,165.5 515.9,165.3 516.0,165.5 516.1,165.9 516.2,166.3 516.3,166.4 516.4,166.4 516.5,166.4 516.6,166.4 516.7,166.5 516.8,166.5 516.9,166.5 517.0,166.9 517.1,167.9 517.2,168.9 517.3,169.4 517.4,169.1 517.5,168.3 517.6,168.0 517.7,168.7 517.8,169.9 517.9,170.5 518.0,170.9 518.1,171.4 518.2,171.8 518.3,172.3 518.4,172.7 518.5,173.0 518.6,173.4 518.7,174.0 518.8,174.5 518.9,173.7 519.0,172.8 519.1,172.2 519.2,171.9 519.3,171.4 519.4,171.2 519.5,171.1 519.6,171.2 519.7,171.4 519.8,171.5 519.9,171.5 520.0,171.0 520.1,170.4 520.2,169.5 520.3,168.6 520.4,167.6 520.5,167.0 520.6,166.9 520.7,167.3 520.8,168.1 520.9,168.4 521.0,168.0 521.1,167.4 521.2,166.5 521.3,165.5 521.4,164.4 521.5,163.4 521.6,163.4 521.7,164.2 521.8,164.7 521.9,165.0 522.0,165.3 522.1,165.8 522.2,166.6 522.3,167.0 522.4,167.2 522.5,167.5 522.6,168.3 522.7,169.4 522.8,170.6 522.9,171.5 523.0,172.0 523.1,172.0 523.2,172.0 523.3,172.3 523.4,172.7 523.5,173.3 523.6,174.3 523.7,173.4 523.8,169.7 523.9,165.4 524.0,160.9 524.1,156.5 524.2,154.3 524.3,150.8 524.4,147.4 524.5,147.3 524.6,150.0 524.7,152.7 524.8,155.4 524.9,158.3 525.0,161.4 525.1,164.3 525.2,166.8 525.3,167.7 525.4,167.1 525.5,167.1 525.6,167.5 525.7,168.2 525.8,168.9 525.9,169.4 526.0,169.4 526.1,168.9 526.2,168.2 526.3,167.4 526.4,166.9 526.5,167.1 526.6,167.7 526.7,168.5 526.8,169.3 526.9,169.5 527.0,168.9 527.1,168.6 527.2,168.9 527.3,170.0 527.4,171.1 527.5,171.6 527.6,171.3 527.7,170.8 527.8,171.2 527.9,172.5 528.0,174.1 528.1,175.3 528.2,175.8 528.3,175.9 528.4,176.1 528.5,176.9 528.6,177.6 528.7,177.1 528.8,176.3 528.9,175.3 529.0,174.1 529.1,172.9 529.2,172.5 529.3,172.2 529.4,172.1 529.5,172.2 529.6,172.1 529.7,171.3 529.8,169.9 529.9,168.4 530.0,167.3 530.1,166.9 530.2,167.3 530.3,168.1 530.4,168.9 530.5,169.6 530.6,170.0 530.7,169.9 530.8,169.3 530.9,168.4 531.0,167.6 531.1,166.9 531.2,166.6 531.3,166.9 531.4,168.0 531.5,169.2 531.6,170.2 531.7,170.5 531.8,170.2 531.9,169.7 532.0,169.2 532.1,168.7 532.2,168.5 532.3,169.0 532.4,169.7 532.5,170.1 532.6,169.8 532.7,168.7 532.8,167.2 532.9,165.9 533.0,164.6 533.1,164.5 533.2,165.3 533.3,166.3 533.4,168.1 533.5,170.1 533.6,172.3 533.7,174.2 533.8,174.5 533.9,173.8 534.0,170.6 534.1,169.5 534.2,168.5 534.3,167.9 534.4,167.9 534.5,168.2 534.6,168.5 534.7,168.6 534.8,168.3 534.9,167.7 535.0,167.5 535.1,167.5 535.2,167.4 535.3,167.3 535.4,167.3 535.5,167.3 535.6,167.6 535.7,168.1 535.8,168.1 535.9,167.6 536.0,166.9 536.1,165.9 536.2,165.2 536.3,165.1 536.4,165.5 536.5,166.4 536.6,167.2 536.7,167.3 536.8,166.9 536.9,166.4 537.0,166.1 537.1,166.4 537.2,167.0 537.3,167.7 537.4,168.3 537.5,169.1 537.6,170.1 537.7,171.0 537.8,171.6 537.9,171.9 538.0,172.0 538.1,172.2 538.2,172.8 538.3,173.3 538.4,173.3 538.5,173.4 538.6,173.4 538.7,173.0 538.8,173.5 538.9,172.2 539.0,171.0 539.1,170.1 539.2,169.6 539.3,169.3 539.4,169.1 539.5,168.9 539.6,169.0 539.7,169.4 539.8,170.0 539.9,170.3 540.0,170.1 540.1,169.5 540.2,168.9 540.3,168.8 540.4,168.6 540.5,168.0 540.6,167.1 540.7,166.2 540.8,166.0 540.9,166.5 541.0,167.6 541.1,168.5 541.2,168.8 541.3,168.4 541.4,167.5 541.5,167.2 541.6,167.6 541.7,167.4 541.8,166.2 541.9,164.6 542.0,162.3 542.1,159.4 542.2,156.4 542.3,153.8 542.4,154.9 542.5,159.0 542.6,163.6 542.7,167.9 542.8,171.3 542.9,174.0 543.0,176.0 543.1,175.4 543.2,174.4 543.3,171.9 543.4,168.7 543.5,165.5 543.6,161.8 543.7,158.2 543.8,154.2 543.9,150.3 544.0,146.8 544.1,147.4 544.2,150.1 544.3,152.6 544.4,155.0 544.5,157.7 544.6,160.7 544.7,163.7 544.8,166.6 544.9,167.7 545.0,167.5 545.1,167.5 545.2,167.1 545.3,166.5 545.4,165.9 545.5,165.8 545.6,165.6 545.7,164.8 545.8,163.5 545.9,162.1 546.0,161.7 546.1,163.1 546.2,165.3 546.3,167.0 546.4,168.0 546.5,168.7 546.6,169.3 546.7,169.7 546.8,169.4 546.9,168.8 547.0,168.3 547.1,168.5 547.2,169.5 547.3,170.6 547.4,171.7 547.5,172.9 547.6,173.8 547.7,174.4 547.8,174.8 547.9,173.7 548.0,172.1 548.1,170.7 548.2,169.7 548.3,168.7 548.4,169.4 548.5,170.4 548.6,170.7 548.7,170.0 548.8,169.1 548.9,168.5 549.0,168.6 549.1,169.0 549.2,169.2 549.3,168.9 549.4,168.5 549.5,168.4 549.6,168.2 549.7,167.9 549.8,167.5 549.9,166.9 550.0,166.3 550.1,165.6 550.2,164.9 550.3,164.7 550.4,165.3 550.5,166.5 550.6,167.4 550.7,167.5 550.8,167.2 550.9,167.4 551.0,168.6 551.1,170.4 551.2,171.4 551.3,171.5 551.4,171.0 551.5,170.5 551.6,170.4 551.7,170.8 551.8,171.4 551.9,171.7 552.0,172.0 552.1,172.1 552.2,171.9 552.3,171.9 552.4,172.2 552.5,172.8 552.6,172.6 552.7,172.0 552.8,171.4 552.9,170.7 553.0,170.4 553.1,171.7 553.2,171.9 553.3,171.9 553.4,171.7 553.5,171.6 553.6,171.2 553.7,170.3 553.8,169.0 553.9,167.9 554.0,167.7 554.1,168.0 554.2,168.2 554.3,167.9 554.4,167.2 554.5,166.5 554.6,166.4 554.7,166.8 554.8,167.3 554.9,167.7 555.0,167.5 555.1,166.7 555.2,165.8 555.3,165.6 555.4,166.3 555.5,167.4 555.6,168.6 555.7,169.8 555.8,171.1 555.9,172.2 556.0,172.6 556.1,172.2 556.2,171.3 556.3,170.2 556.4,169.7 556.5,169.8 556.6,170.2 556.7,170.9 556.8,172.3 556.9,173.7 557.0,175.0 557.1,175.7 557.2,175.8 557.3,174.8 557.4,173.8 557.5,173.2 557.6,172.9 557.7,172.8 557.8,174.1 557.9,174.1 558.0,174.0 558.1,173.6 558.2,172.8 558.3,171.5 558.4,170.2 558.5,169.4 558.6,169.3 558.7,169.7 558.8,169.9 558.9,169.5 559.0,168.2 559.1,166.7 559.2,165.6 559.3,164.9 559.4,164.4 559.5,164.3 559.6,164.4 559.7,165.1 559.8,166.1 559.9,167.1 560.0,167.8 560.1,168.0 560.2,167.8 560.3,167.9 560.4,168.6 560.5,169.6 560.6,170.9 560.7,171.9 560.8,172.5 560.9,173.1 561.0,173.8 561.1,174.2 561.2,174.3 561.3,174.6 561.4,175.2 561.5,175.8 561.6,176.0 561.7,175.8 561.8,175.7 561.9,176.2 562.0,176.4 562.1,176.4 562.2,175.9 562.3,174.6 562.4,172.1 562.5,170.7 562.6,170.1 562.7,170.3 562.8,170.6 562.9,170.4 563.0,169.8 563.1,169.3 563.2,169.2 563.3,169.1 563.4,168.8 563.5,168.2 563.6,167.8 563.7,167.8 563.8,168.0 563.9,168.4 564.0,168.8 564.1,169.0 564.2,169.1 564.3,169.2 564.4,169.2 564.5,168.8 564.6,168.1 564.7,167.3 564.8,166.6 564.9,166.3 565.0,166.4 565.1,166.7 565.2,167.0 565.3,167.5 565.4,168.4 565.5,169.3 565.6,170.0 565.7,170.1 565.8,170.1 565.9,170.3 566.0,171.1 566.1,172.1 566.2,172.8 566.3,173.1 566.4,173.4 566.5,174.1 566.6,174.8 566.7,174.9 566.8,174.7 566.9,173.9 567.0,173.0 567.1,172.4 567.2,171.8 567.3,171.2 567.4,170.6 567.5,170.1 567.6,169.6 567.7,169.1 567.8,168.5 567.9,167.9 568.0,167.4 568.1,167.3 568.2,167.3 568.3,167.1 568.4,166.8 568.5,166.4 568.6,166.1 568.7,165.9 568.8,165.8 568.9,165.7 569.0,165.4 569.1,164.9 569.2,164.8 569.3,165.4 569.4,166.9 569.5,168.5 569.6,169.5 569.7,169.9 569.8,170.3 569.9,170.9 570.0,171.8 570.1,172.9 570.2,173.7 570.3,174.0 570.4,174.1 570.5,173.8 570.6,173.0 570.7,171.8 570.8,171.1 570.9,171.2 571.0,172.2 571.1,173.8 571.2,175.3 571.3,175.2 571.4,174.4 571.5,173.5 571.6,172.6 571.7,171.3 571.8,171.3 571.9,171.4 572.0,171.1 572.1,170.6 572.2,170.2 572.3,169.9 572.4,170.0 572.5,170.0 572.6,169.4 572.7,168.0 572.8,166.5 572.9,165.6 573.0,166.0 573.1,167.2 573.2,168.6 573.3,169.6 573.4,169.8 573.5,169.3 573.6,168.8 573.7,168.4 573.8,168.3 573.9,168.9 574.0,169.6 574.1,169.8 574.2,169.2 574.3,168.3 574.4,167.5 574.5,167.3 574.6,167.8 574.7,168.7 574.8,169.3 574.9,169.9 575.0,170.5 575.1,171.1 575.2,171.9 575.3,172.7 575.4,173.3 575.5,173.5 575.6,173.7 575.7,174.0 575.8,174.5 575.9,174.4 576.0,174.2 576.1,173.8 576.2,173.5 576.3,172.3 576.4,172.4 576.5,172.5 576.6,172.1 576.7,171.1 576.8,170.0 576.9,169.5 577.0,169.9 577.1,170.7 577.2,171.1 577.3,170.6 577.4,169.7 577.5,168.8 577.6,168.1 577.7,167.6 577.8,167.4 577.9,167.5 578.0,168.0 578.1,168.8 578.2,169.6 578.3,169.5 578.4,168.1 578.5,166.4 578.6,165.6 578.7,166.1 578.8,167.5 578.9,168.5 579.0,168.6 579.1,168.3 579.2,168.6 579.3,169.3 579.4,169.9 579.5,170.1 579.6,170.0 579.7,169.9 579.8,170.1 579.9,170.6 580.0,171.3 580.1,172.4 580.2,173.7 580.3,174.6 580.4,174.7 580.5,173.7 580.6,172.7 580.7,172.1 580.8,172.1 580.9,172.3 581.0,172.2 581.1,171.8 581.2,171.0 581.3,169.8 581.4,169.0 581.5,169.1 581.6,169.8 581.7,170.5 581.8,171.0 581.9,170.8 582.0,170.0 582.1,169.2 582.2,168.5 582.3,167.8 582.4,167.5 582.5,167.8 582.6,168.4 582.7,168.8 582.8,169.0 582.9,168.6 583.0,167.9 583.1,167.2 583.2,167.0 583.3,167.1 583.4,167.5 583.5,168.3 583.6,169.1 583.7,169.3 583.8,168.9 583.9,168.3 584.0,168.0 584.1,167.7 584.2,167.4 584.3,167.0 584.4,166.7 584.5,167.0 584.6,168.2 584.7,169.7 584.8,170.9 584.9,171.5 585.0,171.0 585.1,170.5 585.2,170.2 585.3,170.3 585.4,170.2 585.5,169.4 585.6,168.4 585.7,167.9 585.8,167.7 585.9,167.7 586.0,167.8 586.1,167.7 586.2,167.5 586.3,167.4 586.4,167.6 586.5,167.8 586.6,168.0 586.7,168.4 586.8,168.4 586.9,168.0 587.0,167.5 587.1,166.9 587.2,166.2 587.3,165.8 587.4,165.8 587.5,166.2 587.6,167.0 587.7,167.8 587.8,168.1 587.9,167.8 588.0,166.9 588.1,166.5 588.2,167.1 588.3,168.4 588.4,170.0 588.5,171.4 588.6,172.2 588.7,172.4 588.8,172.3 588.9,172.1 589.0,171.7 589.1,171.4 589.2,171.1 589.3,170.6 589.4,170.4 589.5,170.3 589.6,170.4 589.7,170.7 589.8,171.0 589.9,173.0 590.0,172.6 590.1,171.8 590.2,171.1 590.3,170.6 590.4,170.3 590.5,170.1 590.6,169.5 590.7,168.6 590.8,167.8 590.9,167.3 591.0,166.9 591.1,166.8 591.2,166.9 591.3,167.1 591.4,167.3 591.5,167.1 591.6,167.0 591.7,166.9 591.8,166.9 591.9,167.0 592.0,167.1 592.1,167.3 592.2,167.6 592.3,168.0 592.4,168.4 592.5,168.8 592.6,169.5 592.7,170.0 592.8,170.4 592.9,170.6 593.0,170.7 593.1,171.1 593.2,171.3 593.3,171.0 593.4,170.6 593.5,170.6 593.6,171.1 593.7,172.0 593.8,173.0 593.9,173.2 594.0,172.3 594.1,171.1 594.2,170.1 594.3,168.9 594.4,167.6 594.5,167.3 594.6,167.7 594.7,168.5 594.8,168.9 594.9,168.5 595.0,167.8 595.1,167.3 595.2,167.2 595.3,167.0 595.4,166.5 595.5,165.7 595.6,164.7 595.7,164.1 595.8,164.3 595.9,164.9 596.0,165.6 596.1,166.1 596.2,166.3 596.3,166.7 596.4,167.6 596.5,168.4 596.6,168.5 596.7,168.4 596.8,168.7 596.9,169.5 597.0,170.7 597.1,171.7 597.2,171.8 597.3,171.1 597.4,170.5 597.5,170.6 597.6,170.9 597.7,171.0 597.8,171.1 597.9,171.0 598.0,171.4 598.1,172.4 598.2,173.6 598.3,174.4 598.4,174.7 598.5,173.9 598.6,173.0 598.7,172.3 598.8,172.1 598.9,171.3 599.0,171.3 599.1,171.0 599.2,170.3 599.3,169.3 599.4,168.2 599.5,167.7 599.6,167.8 599.7,168.2 599.8,168.1 599.9,167.5 600.0,167.1 600.1,167.3 600.2,167.8 600.3,168.4 600.4,168.8 600.5,169.0 600.6,169.2 600.7,169.1 600.8,168.5 600.9,167.2 601.0,165.9 601.1,164.9 601.2,164.9 601.3,165.7 601.4,167.2 601.5,168.7 601.6,169.8 601.7,170.9 601.8,171.7 601.9,172.0 602.0,171.9 602.1,171.5 602.2,171.2 602.3,171.1 602.4,171.3 602.5,171.5 602.6,171.8 602.7,172.5 602.8,173.0 602.9,172.8 603.0,172.1 603.1,172.1 603.2,172.8 603.3,173.3 603.4,173.7 603.5,173.1 603.6,172.0 603.7,171.1 603.8,171.0 603.9,171.3 604.0,171.3 604.1,170.6 604.2,169.4 604.3,168.4 604.4,168.2 604.5,168.5 604.6,168.5 604.7,168.4 604.8,168.3 604.9,168.3 605.0,168.3 605.1,168.6 605.2,169.2 605.3,170.0 605.4,170.5 605.5,170.1 605.6,169.2 605.7,168.6 605.8,168.7 605.9,169.2 606.0,169.5 606.1,169.6 606.2,169.5 606.3,169.7 606.4,170.2 606.5,170.6 606.6,170.7 606.7,170.4 606.8,169.7 606.9,169.0 607.0,169.0 607.1,169.5 607.2,170.8 607.3,172.0 607.4,172.1 607.5,171.2 607.6,169.8 607.7,168.7 607.8,169.8 607.9,170.3 608.0,170.4 608.1,170.1 608.2,169.8 608.3,170.0 608.4,170.7 608.5,171.4 608.6,171.1 608.7,169.9 608.8,168.6 608.9,167.8 609.0,167.9 609.1,168.6 609.2,169.3 609.3,169.3 609.4,168.7 609.5,167.8 609.6,166.7 609.7,165.8 609.8,165.7 609.9,166.5 610.0,167.7 610.1,169.0 610.2,170.1 610.3,170.8 610.4,171.3 610.5,171.6 610.6,171.4 610.7,171.2 610.8,171.6 610.9,172.6 611.0,173.1 611.1,172.6 611.2,171.2 611.3,170.2 611.4,170.2 611.5,171.3 611.6,173.0 611.7,174.1 611.8,173.8 611.9,173.1 612.0,172.2 612.1,171.3 612.2,170.1 612.3,169.9 612.4,169.8 612.5,169.7 612.6,169.6 612.7,169.4 612.8,169.2 612.9,169.3 613.0,169.2 613.1,168.9 613.2,168.2 613.3,167.3 613.4,166.7 613.5,167.0 613.6,167.7 613.7,168.4 613.8,169.0 613.9,169.4 614.0,169.8 614.1,170.1 614.2,169.9 614.3,169.5 614.4,169.6 614.5,170.0 614.6,170.0 614.7,169.3 614.8,168.2 614.9,167.3 615.0,166.8 615.1,167.2 615.2,168.0 615.3,169.0 615.4,170.3 615.5,172.0 615.6,173.4 615.7,174.2 615.8,174.2 615.9,173.7 616.0,173.1 616.1,172.4 616.2,171.9 616.3,172.0 616.4,171.9 616.5,171.4 616.6,170.3 616.7,169.0 616.8,168.1 616.9,167.9 617.0,168.0 617.1,167.8 617.2,167.3 617.3,166.8 617.4,166.8 617.5,167.5 617.6,168.7 617.7,170.0 617.8,171.2 617.9,171.9 618.0,172.2 618.1,171.7 618.2,170.5 618.3,169.0 618.4,168.0 618.5,167.6 618.6,168.0 618.7,168.6 618.8,169.0 618.9,169.0 619.0,168.8 619.1,168.5 619.2,168.5 619.3,169.0 619.4,170.1 619.5,171.0 619.6,171.3 619.7,170.7 619.8,169.9 619.9,169.6 620.0,170.2 620.1,171.7 620.2,173.3 620.3,174.5 620.4,175.1 620.5,174.4 620.6,173.5 620.7,172.5 620.8,171.8 620.9,172.4 621.0,172.4 621.1,172.3 621.2,172.1 621.3,171.6 621.4,171.1 621.5,170.6 621.6,170.3 621.7,170.0 621.8,169.5 621.9,168.7 622.0,168.1 622.1,168.1 622.2,168.5 622.3,168.9 622.4,169.0 622.5,168.2 622.6,167.0 622.7,166.0 622.8,165.5 622.9,165.6 623.0,166.2 623.1,166.9 623.2,167.3 623.3,167.6 623.4,168.2 623.5,169.1 623.6,170.0 623.7,170.4 623.8,170.0 623.9,169.2 624.0,168.8 624.1,169.1 624.2,169.9 624.3,170.8 624.4,171.4 624.5,172.1 624.6,173.0 624.7,173.7 624.8,173.3 624.9,172.9 625.0,172.3 625.1,171.7 625.2,169.9 625.3,169.7 625.4,169.6 625.5,170.0 625.6,170.6 625.7,170.6 625.8,169.9 625.9,168.7 626.0,167.2 626.1,165.6 626.2,164.8 626.3,164.7 626.4,164.8 626.5,165.0 626.6,165.1 626.7,165.2 626.8,165.8 626.9,166.9 627.0,168.1 627.1,169.0 627.2,169.4 627.3,169.2 627.4,168.8 627.5,168.6 627.6,169.0 627.7,169.7 627.8,170.4 627.9,170.5 628.0,170.1 628.1,169.6 628.2,169.6 628.3,170.3 628.4,171.2 628.5,171.8 628.6,172.1 628.7,172.2 628.8,172.1 628.9,172.1 629.0,172.0 629.1,171.2 629.2,170.8 629.3,171.4 629.4,172.5 629.5,172.4 629.6,172.2 629.7,170.7 629.8,168.7 629.9,167.2 630.0,166.5 630.1,166.5 630.2,166.9 630.3,167.3 630.4,167.3 630.5,167.0 630.6,167.0 630.7,167.1 630.8,167.2 630.9,167.2 631.0,167.0 631.1,166.9 631.2,167.5 631.3,168.8 631.4,170.1 631.5,170.5 631.6,170.0 631.7,169.0 631.8,168.1 631.9,167.9 632.0,168.4 632.1,169.1 632.2,169.4 632.3,169.4 632.4,169.2 632.5,169.2 632.6,170.1 632.7,171.4 632.8,172.5 632.9,173.4 633.0,173.7 633.1,173.6 633.2,173.1 633.3,172.5 633.4,171.5 633.5,170.6 633.6,170.3 633.7,172.5 633.8,172.9 633.9,173.3 634.0,173.6 634.1,173.8 634.2,173.8 634.3,173.4 634.4,172.3 634.5,171.0 634.6,170.3 634.7,169.9 634.8,169.3 634.9,168.2 635.0,167.0 635.1,166.4 635.2,166.8 635.3,167.6 635.4,167.8 635.5,167.4 635.6,167.0 635.7,166.7 635.8,166.8 635.9,167.3 636.0,167.5 636.1,167.4 636.2,167.4 636.3,167.8 636.4,168.4 636.5,169.4" fill="none" stroke="#ff0000" stroke-width="1.25" stroke-linejoin="round"/></g>
<polyline points="390.5,172.4 391.7,172.4 393.0,172.4 394.2,172.4 395.4,172.4 396.7,172.4 397.9,172.4 399.2,172.4 400.4,172.3 401.6,172.3 402.9,172.3 404.1,172.3 405.3,172.3 406.6,172.3 407.8,172.3 409.0,172.3 410.3,172.2 411.5,172.2 412.8,172.2 414.0,172.2 415.2,172.2 416.5,172.2 417.7,172.2 418.9,172.2 420.2,172.1 421.4,172.1 422.6,172.1 423.9,172.1 425.1,172.1 426.3,172.1 427.6,172.1 428.8,172.1 430.1,172.0 431.3,172.0 432.5,172.0 433.8,172.0 435.0,172.0 436.2,172.0 437.5,172.0 438.7,172.0 439.9,171.9 441.2,171.9 442.4,171.9 443.7,171.9 444.9,171.9 446.1,171.9 447.4,171.9 448.6,171.9 449.8,171.8 451.1,171.8 452.3,171.8 453.5,171.8 454.8,171.8 456.0,171.8 457.3,171.8 458.5,171.8 459.7,171.7 461.0,171.7 462.2,171.7 463.4,171.7 464.7,171.7 465.9,171.7 467.1,171.7 468.4,171.7 469.6,171.6 470.9,171.6 472.1,171.6 473.3,171.6 474.6,171.6 475.8,171.6 477.0,171.6 478.3,171.6 479.5,171.5 480.7,171.5 482.0,171.5 483.2,171.5 484.4,171.5 485.7,171.5 486.9,171.5 488.2,171.4 489.4,171.4 490.6,171.4 491.9,171.4 493.1,171.4 494.3,171.4 495.6,171.4 496.8,171.4 498.0,171.3 499.3,171.3 500.5,171.3 501.8,171.3 503.0,171.3 504.2,171.3 505.5,171.3 506.7,171.3 507.9,171.2 509.2,171.2 510.4,171.2 511.6,171.2 512.9,171.2 514.1,171.2 515.4,171.2 516.6,171.2 517.8,171.1 519.1,171.1 520.3,171.1 521.5,171.1 522.8,171.1 524.0,171.1 525.2,171.1 526.5,171.1 527.7,171.0 529.0,171.0 530.2,171.0 531.4,171.0 532.7,171.0 533.9,171.0 535.1,171.0 536.4,171.0 537.6,170.9 538.8,170.9 540.1,170.9 541.3,170.9 542.6,170.9 543.8,170.9 545.0,170.9 546.3,170.9 547.5,170.8 548.7,170.8 550.0,170.8 551.2,170.8 552.4,170.8 553.7,170.8 554.9,170.8 556.1,170.8 557.4,170.7 558.6,170.7 559.9,170.7 561.1,170.7 562.3,170.7 563.6,170.7 564.8,170.7 566.0,170.7 567.3,170.6 568.5,170.6 569.7,170.6 571.0,170.6 572.2,170.6 573.5,170.6 574.7,170.6 575.9,170.6 577.2,170.5 578.4,170.5 579.6,170.5 580.9,170.5 582.1,170.5 583.3,170.5 584.6,170.5 585.8,170.5 587.1,170.4 588.3,170.4 589.5,170.4 590.8,170.4 592.0,170.4 593.2,170.4 594.5,170.4 595.7,170.4 596.9,170.3 598.2,170.3 599.4,170.3 600.7,170.3 601.9,170.3 603.1,170.3 604.4,170.3 605.6,170.3 606.8,170.2 608.1,170.2 609.3,170.2 610.5,170.2 611.8,170.2 613.0,170.2 614.2,170.2 615.5,170.2 616.7,170.1 618.0,170.1 619.2,170.1 620.4,170.1 621.7,170.1 622.9,170.1 624.1,170.1 625.4,170.1 626.6,170.0 627.8,170.0 629.1,170.0 630.3,170.0 631.6,170.0 632.8,170.0 634.0,170.0 635.3,170.0 636.5,169.9" fill="none" stroke="#111" stroke-width="0.95" stroke-dasharray="6,1,1.5,1"/>
<g clip-path="url(#c02)"><polyline points="65.6,291.4 65.6,287.4 65.7,283.4 65.7,279.4 65.7,275.4 65.8,271.4 65.8,267.4 65.8,263.4 65.9,255.1 65.9,258.2 66.0,259.5 66.0,263.9 66.0,266.8 66.1,268.1 66.1,270.7 66.1,270.7 66.2,270.8 66.2,271.1 66.2,269.8 66.3,269.5 66.3,268.0 66.3,267.4 66.4,265.6 66.4,264.7 66.4,263.4 66.5,263.6 66.5,262.0 66.6,261.3 66.6,260.7 66.6,259.9 66.7,259.7 66.7,259.9 66.7,259.4 66.8,259.4 66.8,259.9 66.8,260.1 66.9,259.9 66.9,260.6 66.9,261.1 67.0,262.1 67.0,261.7 67.0,263.1 67.1,264.2 67.1,264.9 67.1,265.0 67.2,265.4 67.2,265.6 67.3,266.4 67.3,265.9 67.3,264.6 67.4,264.2 67.4,261.4 67.4,261.4 67.5,259.9 67.5,258.9 67.5,260.4 67.6,260.8 67.6,261.8 67.6,264.2 67.7,264.9 67.7,265.6 67.7,266.0 67.8,265.2 67.8,263.1 67.9,260.9 67.9,260.5 67.9,261.2 68.0,260.9 68.0,262.0 68.0,262.7 68.1,264.1 68.1,264.7 68.1,265.4 68.2,263.8 68.2,263.3 68.2,262.0 68.3,260.9 68.3,261.1 68.3,261.3 68.4,263.1 68.4,263.4 68.5,265.0 68.5,264.9 68.5,264.5 68.6,264.2 68.6,262.1 68.6,261.3 68.7,261.9 68.7,260.8 68.7,260.8 68.8,261.6 68.8,261.8 68.8,263.1 68.9,263.8 68.9,264.7 68.9,265.2 69.0,265.3 69.0,265.4 69.1,265.1 69.1,265.4 69.1,265.1 69.2,264.1 69.2,263.1 69.2,262.4 69.3,262.3 69.3,262.4 69.3,262.1 69.4,261.3 69.4,261.0 69.4,261.0 69.5,260.7 69.5,260.5 69.5,260.0 69.6,260.7 69.6,260.4 69.7,261.0 69.7,261.3 69.7,261.0 69.8,261.0 69.8,261.5 69.8,261.0 69.9,261.5 69.9,261.6 69.9,261.7 70.0,262.6 70.0,262.0 70.0,261.6 70.1,261.5 70.1,262.3 70.1,261.1 70.2,261.8 70.2,261.4 70.2,262.1 70.3,262.3 70.3,261.4 70.4,262.2 70.4,261.7 70.4,262.4 70.5,261.6 70.5,261.6 70.5,262.6 70.6,253.2 70.6,254.5 70.6,254.6 70.7,257.8 70.7,259.2 70.7,261.8 70.8,265.9 70.8,268.2 70.8,271.5 70.9,274.9 70.9,275.8 71.0,277.5 71.0,277.1 71.0,277.2 71.1,275.6 71.1,273.1 71.1,269.7 71.2,266.8 71.2,262.4 71.2,258.6 71.3,254.6 71.3,251.6 71.3,250.2 71.4,248.1 71.4,248.5 71.4,248.9 71.5,248.8 71.5,251.7 71.6,255.7 71.6,258.4 71.6,261.6 71.7,264.2 71.7,267.5 71.7,268.7 71.8,270.4 71.8,269.9 71.8,270.3 71.9,269.6 71.9,268.2 71.9,268.9 72.0,268.3 72.0,269.0 72.0,268.5 72.1,266.8 72.1,264.6 72.2,262.3 72.2,259.2 72.2,257.8 72.3,257.9 72.3,258.8 72.3,261.7 72.4,262.4 72.4,263.3 72.4,262.9 72.5,262.9 72.5,261.2 72.5,260.6 72.6,260.9 72.6,261.0 72.6,262.5 72.7,262.8 72.7,263.0 72.7,264.2 72.8,265.3 72.8,265.7 72.9,266.0 72.9,265.5 72.9,265.6 73.0,265.4 73.0,266.1 73.0,265.1 73.1,265.2 73.1,265.6 73.1,265.7 73.2,265.3 73.2,264.9 73.2,264.1 73.3,265.0 73.3,264.7 73.3,265.0 73.4,264.0 73.4,264.8 73.5,264.2 73.5,264.3 73.5,264.3 73.6,264.6 73.6,263.8 73.6,263.0 73.7,263.3 73.7,262.6 73.7,261.7 73.8,261.5 73.8,261.1 73.8,260.7 73.9,261.0 73.9,260.7 73.9,261.1 74.0,261.2 74.0,261.6 74.1,263.7 74.1,264.3 74.1,264.6 74.2,263.9 74.2,265.6 74.2,264.9 74.3,263.8 74.3,262.8 74.3,262.6 74.4,261.6 74.4,260.9 74.4,261.1 74.5,261.7 74.5,262.1 74.5,264.0 74.6,264.0 74.6,263.8 74.7,265.0 74.7,264.6 74.7,264.6 74.8,263.9 74.8,263.1 74.8,262.6 74.9,261.5 74.9,262.2 74.9,261.0 75.0,261.8 75.0,260.1 75.0,261.0 75.1,261.9 75.1,260.9 75.1,261.5 75.2,261.4 75.2,260.7 75.3,261.7 75.3,261.1 75.3,261.6 75.4,261.2 75.4,260.5 75.4,260.9 75.5,261.3 75.5,260.7 75.5,260.9 75.6,261.1 75.6,261.0 75.6,260.9 75.7,260.9 75.7,261.2 75.7,260.1 75.8,260.2 75.8,260.2 75.8,260.6 75.9,260.4 75.9,260.7 76.0,260.1 76.0,260.9 76.0,261.2 76.1,260.1 76.1,260.8 76.1,261.5 76.2,251.9 76.2,253.3 76.2,254.3 76.3,256.9 76.3,260.3 76.3,263.9 76.4,267.8 76.4,271.0 76.4,273.3 76.5,275.8 76.5,277.4 76.6,278.0 76.6,277.0 76.6,275.7 76.7,272.8 76.7,270.3 76.7,266.4 76.8,261.6 76.8,256.5 76.8,252.1 76.9,250.0 76.9,247.1 76.9,245.0 77.0,244.1 77.0,245.3 77.0,246.6 77.1,248.7 77.1,253.0 77.2,256.4 77.2,260.3 77.2,263.8 77.3,268.2 77.3,271.0 77.3,272.5 77.4,274.8 77.4,275.7 77.4,275.4 77.5,274.3 77.5,272.3 77.5,270.6 77.6,267.2 77.6,265.9 77.6,262.9 77.7,261.9 77.7,260.1 77.8,258.2 77.8,257.6 77.8,257.8 77.9,256.6 77.9,258.7 77.9,260.0 78.0,260.0 78.0,262.0 78.0,263.5 78.1,264.3 78.1,264.5 78.1,265.6 78.2,264.5 78.2,263.4 78.2,261.7 78.3,260.6 78.3,261.1 78.3,261.5 78.4,262.0 78.4,263.0 78.5,263.7 78.5,264.2 78.5,266.0 78.6,264.6 78.6,263.8 78.6,262.5 78.7,261.9 78.7,260.2 78.7,261.3 78.8,261.3 78.8,261.7 78.8,262.6 78.9,263.6 78.9,265.3 78.9,264.9 79.0,264.9 79.0,263.4 79.1,262.6 79.1,262.0 79.1,261.7 79.2,262.1 79.2,261.2 79.2,261.0 79.3,262.9 79.3,262.8 79.3,263.2 79.4,263.8 79.4,263.2 79.4,263.5 79.5,264.5 79.5,264.6 79.5,264.2 79.6,264.3 79.6,264.1 79.7,264.4 79.7,264.6 79.7,264.4 79.8,263.9 79.8,263.2 79.8,263.8 79.9,263.2 79.9,263.2 79.9,263.5 80.0,263.2 80.0,263.1 80.0,262.4 80.1,262.1 80.1,263.0 80.1,262.6 80.2,262.7 80.2,263.4 80.3,263.8 80.3,263.8 80.3,263.8 80.4,264.0 80.4,264.4 80.4,264.7 80.5,265.7 80.5,265.9 80.5,265.3 80.6,265.2 80.6,264.8 80.6,262.9 80.7,264.0 80.7,263.5 80.7,263.0 80.8,262.4 80.8,261.8 80.8,262.1 80.9,261.5 80.9,261.2 81.0,262.1 81.0,261.9 81.0,261.8 81.1,262.4 81.1,261.7 81.1,261.9 81.2,263.2 81.2,263.3 81.2,263.6 81.3,264.7 81.3,265.2 81.3,265.9 81.4,265.9 81.4,265.0 81.4,264.5 81.5,263.2 81.5,263.0 81.6,261.6 81.6,261.0 81.6,260.5 81.7,259.6 81.7,261.1 81.7,263.0 81.8,268.7 81.8,273.2 81.8,276.9 81.9,280.0 81.9,281.2 81.9,281.9 82.0,280.0 82.0,277.8 82.0,274.3 82.1,270.8 82.1,266.4 82.2,264.1 82.2,260.1 82.2,256.4 82.3,255.1 82.3,252.7 82.3,249.9 82.4,247.0 82.4,244.9 82.4,245.8 82.5,246.2 82.5,248.4 82.5,251.3 82.6,257.3 82.6,261.8 82.6,265.7 82.7,270.0 82.7,273.3 82.8,274.5 82.8,274.7 82.8,275.1 82.9,272.8 82.9,269.8 82.9,267.9 83.0,266.1 83.0,263.0 83.0,261.4 83.1,260.1 83.1,260.9 83.1,261.2 83.2,260.9 83.2,261.9 83.2,262.2 83.3,262.4 83.3,262.7 83.4,261.6 83.4,262.0 83.4,262.3 83.5,261.6 83.5,260.4 83.5,260.9 83.6,261.6 83.6,261.4 83.6,261.8 83.7,262.0 83.7,262.8 83.7,263.6 83.8,263.8 83.8,263.9 83.8,264.6 83.9,266.7 83.9,265.0 83.9,265.4 84.0,265.5 84.0,264.5 84.1,264.3 84.1,263.8 84.1,263.1 84.2,261.5 84.2,261.2 84.2,261.8 84.3,261.4 84.3,259.9 84.3,260.0 84.4,260.1 84.4,259.8 84.4,261.1 84.5,260.9 84.5,261.4 84.5,261.4 84.6,261.5 84.6,262.0 84.7,262.4 84.7,263.6 84.7,262.4 84.8,263.6 84.8,264.0 84.8,264.6 84.9,263.8 84.9,264.3 84.9,264.8 85.0,265.2 85.0,264.5 85.0,265.2 85.1,264.9 85.1,264.9 85.1,265.0 85.2,264.3 85.2,264.8 85.3,264.8 85.3,265.2 85.3,265.1 85.4,265.5 85.4,264.9 85.4,266.0 85.5,265.1 85.5,264.5 85.5,265.5 85.6,265.3 85.6,264.1 85.6,264.8 85.7,265.4 85.7,264.5 85.7,264.8 85.8,264.8 85.8,263.5 85.9,263.7 85.9,264.0 85.9,264.3 86.0,263.5 86.0,263.3 86.0,263.9 86.1,262.5 86.1,262.3 86.1,262.6 86.2,262.1 86.2,261.6 86.2,261.7 86.3,261.2 86.3,261.3 86.3,260.6 86.4,260.9 86.4,261.8 86.4,261.7 86.5,263.8 86.5,263.4 86.6,264.7 86.6,264.9 86.6,264.9 86.7,264.0 86.7,263.3 86.7,262.8 86.8,262.0 86.8,259.7 86.8,260.4 86.9,260.9 86.9,262.7 86.9,264.1 87.0,264.9 87.0,265.0 87.0,264.7 87.1,263.9 87.1,261.4 87.2,260.3 87.2,260.1 87.2,260.9 87.3,261.9 87.3,254.3 87.3,255.9 87.4,260.4 87.4,264.0 87.4,267.3 87.5,270.4 87.5,274.0 87.5,275.3 87.6,276.7 87.6,278.7 87.6,278.5 87.7,278.4 87.7,277.1 87.8,274.4 87.8,270.9 87.8,268.1 87.9,263.0 87.9,259.0 87.9,255.2 88.0,251.5 88.0,248.2 88.0,246.3 88.1,245.2 88.1,246.5 88.1,246.6 88.2,249.5 88.2,251.2 88.2,254.4 88.3,258.4 88.3,261.9 88.4,265.9 88.4,268.3 88.4,270.6 88.5,271.6 88.5,272.7 88.5,272.5 88.6,272.3 88.6,271.3 88.6,269.1 88.7,268.0 88.7,266.4 88.7,264.6 88.8,262.6 88.8,261.6 88.8,259.9 88.9,259.6 88.9,258.8 89.0,258.5 89.0,258.7 89.0,259.0 89.1,259.3 89.1,260.4 89.1,260.8 89.2,260.7 89.2,260.7 89.2,261.5 89.3,262.5 89.3,262.6 89.3,262.4 89.4,262.1 89.4,262.3 89.4,262.5 89.5,261.3 89.5,262.4 89.5,262.4 89.6,261.5 89.6,261.6 89.7,261.5 89.7,260.9 89.7,261.8 89.8,261.5 89.8,262.1 89.8,261.0 89.9,262.0 89.9,261.9 89.9,262.6 90.0,262.7 90.0,263.3 90.0,263.8 90.1,264.2 90.1,264.6 90.1,265.0 90.2,265.5 90.2,265.6 90.3,265.5 90.3,265.6 90.3,264.1 90.4,263.4 90.4,262.1 90.4,260.4 90.5,261.1 90.5,259.9 90.5,259.5 90.6,260.5 90.6,261.2 90.6,262.6 90.7,262.5 90.7,264.6 90.7,264.7 90.8,264.5 90.8,266.4 90.9,265.2 90.9,265.4 90.9,264.2 91.0,264.5 91.0,264.1 91.0,263.0 91.1,262.4 91.1,262.0 91.1,261.5 91.2,260.6 91.2,260.3 91.2,261.0 91.3,260.6 91.3,260.0 91.3,260.6 91.4,260.8 91.4,260.8 91.5,259.8 91.5,260.4 91.5,261.1 91.6,261.0 91.6,261.1 91.6,260.8 91.7,261.1 91.7,261.3 91.7,261.9 91.8,262.7 91.8,261.6 91.8,262.4 91.9,263.9 91.9,264.3 91.9,264.1 92.0,264.3 92.0,264.8 92.0,265.0 92.1,265.2 92.1,264.9 92.2,265.7 92.2,264.5 92.2,264.6 92.3,264.1 92.3,263.1 92.3,262.3 92.4,260.9 92.4,261.5 92.4,260.7 92.5,261.2 92.5,261.1 92.5,261.9 92.6,263.6 92.6,264.6 92.6,264.9 92.7,264.8 92.7,264.5 92.8,262.6 92.8,258.3 92.8,261.8 92.9,265.6 92.9,269.1 92.9,273.0 93.0,277.3 93.0,279.4 93.0,281.2 93.1,279.4 93.1,278.3 93.1,276.3 93.2,272.2 93.2,268.9 93.2,264.6 93.3,259.0 93.3,255.1 93.4,251.9 93.4,248.8 93.4,248.1 93.5,246.5 93.5,246.5 93.5,247.9 93.6,250.2 93.6,252.9 93.6,256.4 93.7,259.8 93.7,262.5 93.7,266.1 93.8,269.3 93.8,271.4 93.8,273.2 93.9,274.9 93.9,274.0 94.0,273.5 94.0,273.3 94.0,271.5 94.1,270.0 94.1,267.9 94.1,264.8 94.2,263.9 94.2,262.0 94.2,261.2 94.3,260.1 94.3,258.7 94.3,258.2 94.4,257.5 94.4,258.7 94.4,259.9 94.5,259.5 94.5,261.6 94.6,262.3 94.6,263.7 94.6,263.7 94.7,264.7 94.7,264.0 94.7,264.5 94.8,262.6 94.8,262.4 94.8,261.6 94.9,262.2 94.9,263.2 94.9,263.0 95.0,264.0 95.0,265.1 95.0,264.9 95.1,263.8 95.1,262.7 95.1,261.7 95.2,260.7 95.2,260.0 95.3,261.1 95.3,262.1 95.3,262.4 95.4,263.7 95.4,264.2 95.4,264.2 95.5,265.9 95.5,265.1 95.5,264.9 95.6,265.8 95.6,266.5 95.6,266.3 95.7,265.6 95.7,266.3 95.7,266.3 95.8,265.6 95.8,264.8 95.9,265.9 95.9,265.0 95.9,265.3 96.0,264.5 96.0,265.1 96.0,263.7 96.1,264.2 96.1,263.7 96.1,263.3 96.2,262.5 96.2,262.7 96.2,262.9 96.3,261.6 96.3,261.5 96.3,261.7 96.4,261.9 96.4,261.5 96.5,261.8 96.5,261.5 96.5,261.6 96.6,261.7 96.6,260.9 96.6,261.2 96.7,262.0 96.7,261.6 96.7,261.9 96.8,263.1 96.8,262.7 96.8,262.2 96.9,263.1 96.9,263.3 96.9,264.1 97.0,264.0 97.0,264.5 97.1,264.6 97.1,264.7 97.1,265.6 97.2,265.3 97.2,263.8 97.2,264.0 97.3,262.8 97.3,262.2 97.3,261.3 97.4,262.2 97.4,261.0 97.4,261.5 97.5,262.4 97.5,263.9 97.5,264.8 97.6,264.3 97.6,265.0 97.6,264.4 97.7,262.5 97.7,262.1 97.8,260.6 97.8,260.2 97.8,260.9 97.9,261.9 97.9,262.9 97.9,264.2 98.0,264.8 98.0,265.2 98.0,265.4 98.1,264.7 98.1,264.0 98.1,262.3 98.2,261.1 98.2,261.2 98.2,260.2 98.3,262.5 98.3,266.2 98.4,270.1 98.4,273.5 98.4,276.4 98.5,278.5 98.5,279.9 98.5,278.7 98.6,277.9 98.6,276.0 98.6,272.0 98.7,268.2 98.7,264.2 98.7,260.4 98.8,255.4 98.8,251.5 98.8,248.2 98.9,245.9 98.9,244.5 99.0,244.6 99.0,245.7 99.0,248.1 99.1,251.3 99.1,254.9 99.1,259.4 99.2,262.5 99.2,265.2 99.2,268.9 99.3,271.6 99.3,272.4 99.3,273.3 99.4,273.9 99.4,272.5 99.4,271.8 99.5,270.2 99.5,269.5 99.6,267.5 99.6,266.4 99.6,265.2 99.7,263.9 99.7,262.7 99.7,262.1 99.8,261.8 99.8,261.0 99.8,260.0 99.9,260.0 99.9,259.1 99.9,259.8 100.0,260.7 100.0,261.6 100.0,262.7 100.1,264.1 100.1,263.9 100.2,264.6 100.2,263.5 100.2,263.6 100.3,262.3 100.3,262.1 100.3,261.6 100.4,262.3 100.4,263.4 100.4,263.8 100.5,264.6 100.5,264.9 100.5,263.7 100.6,264.1 100.6,262.6 100.6,261.4 100.7,261.0 100.7,261.0 100.7,261.1 100.8,261.3 100.8,261.7 100.9,262.5 100.9,262.4 100.9,263.2 101.0,262.5 101.0,264.0 101.0,264.0 101.1,263.8 101.1,263.7 101.1,263.0 101.2,263.9 101.2,264.3 101.2,265.0 101.3,264.3 101.3,264.1 101.3,264.6 101.4,264.4 101.4,264.8 101.5,264.9 101.5,265.2 101.5,265.5 101.6,265.7 101.6,265.3 101.6,265.3 101.7,265.7 101.7,264.3 101.7,264.4 101.8,264.0 101.8,263.9 101.8,263.3 101.9,262.4 101.9,262.5 101.9,261.8 102.0,261.1 102.0,260.2 102.1,260.5 102.1,261.1 102.1,260.8 102.2,261.8 102.2,262.4 102.2,262.3 102.3,263.4 102.3,264.5 102.3,264.5 102.4,265.7 102.4,264.6 102.4,265.8 102.5,265.1 102.5,264.3 102.5,264.9 102.6,264.2 102.6,262.8 102.7,262.8 102.7,262.0 102.7,262.0 102.8,260.7 102.8,260.5 102.8,260.7 102.9,260.4 102.9,261.4 102.9,261.5 103.0,260.0 103.0,260.8 103.0,261.7 103.1,262.4 103.1,262.5 103.1,263.6 103.2,264.1 103.2,264.5 103.2,265.5 103.3,265.8 103.3,265.5 103.4,264.5 103.4,264.4 103.4,263.8 103.5,262.8 103.5,262.8 103.5,260.8 103.6,260.1 103.6,260.4 103.6,261.0 103.7,261.2 103.7,262.5 103.7,256.3 103.8,258.6 103.8,262.1 103.8,266.0 103.9,269.6 103.9,272.6 104.0,274.6 104.0,276.9 104.0,278.5 104.1,278.4 104.1,278.0 104.1,277.6 104.2,274.8 104.2,273.2 104.2,269.5 104.3,265.4 104.3,261.5 104.3,259.2 104.4,254.8 104.4,252.5 104.4,248.6 104.5,248.5 104.5,247.3 104.6,247.7 104.6,249.0 104.6,250.3 104.7,252.8 104.7,256.1 104.7,257.7 104.8,261.6 104.8,263.8 104.8,266.8 104.9,269.0 104.9,272.8 104.9,273.9 105.0,274.7 105.0,274.5 105.0,274.3 105.1,271.7 105.1,268.1 105.2,265.1 105.2,263.1 105.2,260.7 105.3,258.8 105.3,258.3 105.3,258.4 105.4,259.9 105.4,261.5 105.4,262.6 105.5,264.1 105.5,263.5 105.5,263.6 105.6,263.0 105.6,262.3 105.6,261.2 105.7,262.5 105.7,260.8 105.8,261.1 105.8,260.9 105.8,261.0 105.9,261.4 105.9,261.6 105.9,261.4 106.0,262.2 106.0,261.7 106.0,262.0 106.1,262.6 106.1,261.6 106.1,262.7 106.2,262.3 106.2,262.6 106.2,262.0 106.3,262.2 106.3,262.3 106.3,262.2 106.4,262.2 106.4,262.6 106.5,262.4 106.5,261.6 106.5,261.2 106.6,261.0 106.6,261.3 106.6,260.2 106.7,260.3 106.7,260.7 106.7,260.9 106.8,260.2 106.8,259.9 106.8,260.2 106.9,260.2 106.9,261.3 106.9,260.5 107.0,260.7 107.0,260.7 107.1,260.5 107.1,261.1 107.1,260.3 107.2,261.3 107.2,260.9 107.2,260.6 107.3,262.4 107.3,261.0 107.3,261.8 107.4,261.3 107.4,261.1 107.4,261.5 107.5,261.1 107.5,261.5 107.5,261.6 107.6,261.5 107.6,261.0 107.7,262.3 107.7,261.0 107.7,260.6 107.8,261.7 107.8,259.6 107.8,261.5 107.9,260.4 107.9,260.1 107.9,259.8 108.0,260.3 108.0,260.3 108.0,261.0 108.1,262.0 108.1,262.2 108.1,264.1 108.2,263.4 108.2,264.5 108.3,265.6 108.3,265.2 108.3,265.5 108.4,264.7 108.4,264.5 108.4,263.5 108.5,262.3 108.5,262.1 108.5,261.6 108.6,260.5 108.6,260.6 108.6,261.8 108.7,263.2 108.7,263.8 108.7,264.4 108.8,264.9 108.8,264.0 108.8,263.1 108.9,261.7 108.9,261.1 109.0,260.7 109.0,261.0 109.0,261.9 109.1,263.0 109.1,264.3 109.1,265.4 109.2,256.6 109.2,258.7 109.2,260.2 109.3,262.0 109.3,264.4 109.3,266.7 109.4,269.5 109.4,273.1 109.4,276.7 109.5,279.9 109.5,282.0 109.6,283.1 109.6,281.5 109.6,279.7 109.7,274.1 109.7,267.8 109.7,262.6 109.8,256.8 109.8,252.1 109.8,249.5 109.9,248.1 109.9,247.5 109.9,247.9 110.0,248.4 110.0,248.3 110.0,249.0 110.1,250.6 110.1,252.5 110.2,255.0 110.2,259.8 110.2,263.6 110.3,268.0 110.3,271.0 110.3,273.6 110.4,275.5 110.4,276.1 110.4,275.8 110.5,273.6 110.5,273.4 110.5,270.3 110.6,268.6 110.6,265.5 110.6,263.8 110.7,262.3 110.7,261.2 110.8,260.1 110.8,259.6 110.8,260.4 110.9,261.3 110.9,261.9 110.9,262.1 111.0,263.3 111.0,263.5 111.0,263.2 111.1,264.6 111.1,264.9 111.1,265.5 111.2,266.1 111.2,265.8 111.2,265.8 111.3,265.6 111.3,265.2 111.3,265.1 111.4,264.3 111.4,264.4 111.5,263.8 111.5,264.5 111.5,264.5 111.6,264.1 111.6,263.3 111.6,264.1 111.7,264.1 111.7,264.0 111.7,264.0 111.8,264.7 111.8,264.3 111.8,264.4 111.9,264.8 111.9,264.7 111.9,265.3 112.0,264.9 112.0,265.1 112.1,263.8 112.1,264.4 112.1,262.3 112.2,262.6 112.2,261.7 112.2,261.0 112.3,260.3 112.3,260.3 112.3,261.1 112.4,261.3 112.4,262.0 112.4,262.7 112.5,263.8 112.5,263.3 112.5,264.5 112.6,264.9 112.6,265.5 112.7,265.1 112.7,265.3 112.7,265.5 112.8,264.5 112.8,264.9 112.8,264.1 112.9,264.3 112.9,264.1 112.9,263.5 113.0,263.1 113.0,262.6 113.0,262.5 113.1,263.0 113.1,262.2 113.1,262.4 113.2,261.7 113.2,261.6 113.3,262.3 113.3,261.8 113.3,261.4 113.4,261.1 113.4,261.1 113.4,260.9 113.5,260.6 113.5,261.1 113.5,260.2 113.6,260.4 113.6,261.8 113.6,260.4 113.7,260.5 113.7,261.9 113.7,260.9 113.8,262.5 113.8,261.8 113.9,262.9 113.9,262.7 113.9,263.6 114.0,263.8 114.0,264.7 114.0,264.5 114.1,264.8 114.1,264.2 114.1,263.8 114.2,263.0 114.2,262.8 114.2,262.4 114.3,261.4 114.3,261.0 114.3,260.6 114.4,260.8 114.4,261.4 114.4,262.6 114.5,263.1 114.5,263.8 114.6,262.4 114.6,266.5 114.6,270.4 114.7,274.9 114.7,276.4 114.7,279.4 114.8,281.9 114.8,282.3 114.8,280.9 114.9,280.6 114.9,277.1 114.9,273.7 115.0,269.5 115.0,265.0 115.0,260.7 115.1,254.8 115.1,251.5 115.2,247.7 115.2,245.7 115.2,244.9 115.3,243.8 115.3,246.1 115.3,247.7 115.4,250.7 115.4,254.5 115.4,257.7 115.5,262.1 115.5,265.7 115.5,269.0 115.6,271.3 115.6,273.2 115.6,273.8 115.7,274.3 115.7,273.7 115.8,273.0 115.8,271.6 115.8,269.8 115.9,268.9 115.9,266.7 115.9,265.1 116.0,264.0 116.0,262.2 116.0,262.0 116.1,260.4 116.1,259.7 116.1,260.2 116.2,260.5 116.2,260.4 116.2,259.3 116.3,260.0 116.3,260.0 116.4,260.0 116.4,259.9 116.4,260.5 116.5,261.5 116.5,262.2 116.5,262.8 116.6,263.0 116.6,263.8 116.6,264.6 116.7,265.2 116.7,264.9 116.7,264.6 116.8,265.2 116.8,265.3 116.8,265.4 116.9,264.8 116.9,264.7 116.9,263.9 117.0,263.7 117.0,262.7 117.1,262.3 117.1,262.2 117.1,261.8 117.2,261.4 117.2,261.9 117.2,260.8 117.3,260.5 117.3,260.4 117.3,260.7 117.4,261.1 117.4,262.2 117.4,262.9 117.5,262.8 117.5,264.5 117.5,265.3 117.6,265.5 117.6,264.8 117.7,263.7 117.7,263.4 117.7,262.2 117.8,261.2 117.8,260.6 117.8,261.6 117.9,261.9 117.9,263.1 117.9,264.6 118.0,265.0 118.0,264.6 118.0,264.1 118.1,262.8 118.1,260.9 118.1,260.7 118.2,261.0 118.2,261.9 118.3,263.3 118.3,264.9 118.3,264.8 118.4,263.6 118.4,263.1 118.4,263.4 118.5,262.4 118.5,262.1 118.5,261.0 118.6,261.8 118.6,262.8 118.6,262.8 118.7,263.3 118.7,265.0 118.7,265.4 118.8,264.0 118.8,264.8 118.9,264.4 118.9,265.3 118.9,264.3 119.0,263.3 119.0,264.4 119.0,264.0 119.1,263.9 119.1,263.2 119.1,264.0 119.2,262.6 119.2,262.8 119.2,264.0 119.3,262.8 119.3,264.1 119.3,263.5 119.4,262.7 119.4,263.2 119.5,263.0 119.5,263.1 119.5,262.4 119.6,263.0 119.6,261.9 119.6,262.0 119.7,262.3 119.7,262.0 119.7,261.5 119.8,261.7 119.8,260.6 119.8,260.2 119.9,260.3 119.9,261.7 119.9,265.8 120.0,268.4 120.0,273.9 120.0,276.7 120.1,280.0 120.1,282.4 120.2,282.5 120.2,281.3 120.2,278.1 120.3,273.4 120.3,269.0 120.3,263.8 120.4,259.0 120.4,254.8 120.4,250.1 120.5,247.1 120.5,246.1 120.5,245.4 120.6,246.7 120.6,248.5 120.6,250.5 120.7,254.0 120.7,258.1 120.8,260.7 120.8,263.0 120.8,266.7 120.9,269.0 120.9,269.7 120.9,270.7 121.0,271.1 121.0,270.1 121.0,268.9 121.1,268.8 121.1,266.9 121.1,265.5 121.2,264.2 121.2,262.9 121.2,261.2 121.3,261.1 121.3,260.2 121.4,260.0 121.4,260.3 121.4,261.5 121.5,262.0 121.5,263.9 121.5,263.7 121.6,263.7 121.6,263.5 121.6,263.0 121.7,262.4 121.7,262.0 121.7,261.7 121.8,261.2 121.8,261.7 121.8,261.4 121.9,261.3 121.9,262.3 122.0,262.1 122.0,263.1 122.0,264.0 122.1,263.9 122.1,264.3 122.1,265.4 122.2,265.6 122.2,264.6 122.2,264.0 122.3,263.1 122.3,262.3 122.3,262.2 122.4,260.5 122.4,260.6 122.4,260.8 122.5,260.4 122.5,262.1 122.5,262.7 122.6,262.7 122.6,263.4 122.7,264.3 122.7,264.5 122.7,265.8 122.8,265.3 122.8,265.5 122.8,266.0 122.9,265.3 122.9,265.6 122.9,264.9 123.0,265.5 123.0,264.9 123.0,264.4 123.1,264.7 123.1,264.8 123.1,264.2 123.2,264.0 123.2,263.8 123.3,263.2 123.3,262.5 123.3,263.2 123.4,262.6 123.4,262.5 123.4,262.0 123.5,261.3 123.5,261.2 123.5,260.5 123.6,260.0 123.6,260.1 123.6,260.4 123.7,260.7 123.7,261.9 123.7,261.9 123.8,263.1 123.8,263.5 123.9,264.5 123.9,265.3 123.9,265.7 124.0,265.1 124.0,263.5 124.0,262.2 124.1,261.4 124.1,259.4 124.1,259.8 124.2,261.8 124.2,263.0 124.2,264.7 124.3,265.5 124.3,265.1 124.3,264.0 124.4,263.2 124.4,262.7 124.5,260.6 124.5,260.5 124.5,259.9 124.6,261.0 124.6,262.1 124.6,263.1 124.7,263.3 124.7,265.1 124.7,264.5 124.8,265.7 124.8,265.1 124.8,264.8 124.9,264.9 124.9,265.6 124.9,265.1 125.0,264.7 125.0,264.2 125.1,264.5 125.1,264.2 125.1,264.8 125.2,264.6 125.2,263.9 125.2,268.5 125.3,271.5 125.3,275.6 125.3,278.2 125.4,281.3 125.4,282.1 125.4,284.2 125.5,283.3 125.5,280.5 125.5,278.0 125.6,273.6 125.6,269.4 125.6,264.7 125.7,259.4 125.7,254.6 125.8,250.5 125.8,247.3 125.8,244.8 125.9,245.5 125.9,244.7 125.9,247.1 126.0,250.0 126.0,252.5 126.0,257.4 126.1,261.2 126.1,265.4 126.1,268.0 126.2,270.1 126.2,272.0 126.2,274.0 126.3,272.8 126.3,272.8 126.4,271.0 126.4,269.9 126.4,268.4 126.5,266.0 126.5,264.9 126.5,263.1 126.6,261.3 126.6,261.3 126.6,260.1 126.7,260.0 126.7,259.9 126.7,260.5 126.8,261.5 126.8,261.7 126.8,262.0 126.9,263.6 126.9,263.9 127.0,264.7 127.0,264.5 127.0,264.0 127.1,265.5 127.1,265.3 127.1,265.4 127.2,265.3 127.2,266.2 127.2,265.8 127.3,265.0 127.3,265.3 127.3,265.0 127.4,265.0 127.4,263.4 127.4,264.1 127.5,263.9 127.5,263.0 127.6,263.0 127.6,262.2 127.6,262.5 127.7,262.0 127.7,260.9 127.7,261.0 127.8,261.1 127.8,261.2 127.8,262.0 127.9,262.6 127.9,263.5 127.9,263.0 128.0,263.6 128.0,264.2 128.0,264.0 128.1,263.8 128.1,263.8 128.1,263.4 128.2,261.9 128.2,262.2 128.3,262.1 128.3,261.8 128.3,262.3 128.4,263.4 128.4,263.8 128.4,263.7 128.5,264.1 128.5,263.3 128.5,263.3 128.6,262.4 128.6,262.7 128.6,261.4 128.7,260.9 128.7,260.8 128.7,260.9 128.8,262.3 128.8,261.5 128.9,263.3 128.9,263.6 128.9,265.3 129.0,265.3 129.0,265.3 129.0,266.0 129.1,265.9 129.1,265.4 129.1,265.2 129.2,265.1 129.2,264.4 129.2,264.2 129.3,263.9 129.3,263.7 129.3,263.6 129.4,262.9 129.4,263.4 129.5,262.0 129.5,262.8 129.5,262.5 129.6,263.7 129.6,263.0 129.6,262.9 129.7,263.4 129.7,263.7 129.7,263.7 129.8,263.7 129.8,263.1 129.8,263.1 129.9,263.6 129.9,264.1 129.9,263.8 130.0,264.7 130.0,264.2 130.1,264.6 130.1,264.1 130.1,264.2 130.2,263.7 130.2,263.9 130.2,264.7 130.3,263.9 130.3,263.3 130.3,262.8 130.4,262.9 130.4,261.9 130.4,262.3 130.5,261.6 130.5,261.1 130.5,255.9 130.6,257.9 130.6,261.4 130.7,265.5 130.7,269.8 130.7,273.5 130.8,276.8 130.8,279.5 130.8,281.8 130.9,282.1 130.9,282.7 130.9,281.8 131.0,277.2 131.0,273.3 131.0,266.8 131.1,262.1 131.1,256.9 131.1,251.5 131.2,247.3 131.2,244.9 131.2,243.2 131.3,243.2 131.3,245.1 131.4,247.0 131.4,250.5 131.4,253.8 131.5,257.8 131.5,261.9 131.5,264.5 131.6,267.2 131.6,269.1 131.6,270.5 131.7,271.3 131.7,271.3 131.7,270.8 131.8,269.7 131.8,268.1 131.8,266.4 131.9,264.9 131.9,263.6 132.0,262.1 132.0,260.6 132.0,260.3 132.1,259.0 132.1,258.8 132.1,259.4 132.2,259.1 132.2,259.5 132.2,259.6 132.3,260.3 132.3,260.8 132.3,261.7 132.4,262.5 132.4,263.0 132.4,263.7 132.5,263.4 132.5,264.9 132.6,263.7 132.6,265.2 132.6,265.6 132.7,264.7 132.7,264.9 132.7,264.9 132.8,264.7 132.8,265.4 132.8,265.2 132.9,263.9 132.9,264.3 132.9,263.8 133.0,263.2 133.0,262.8 133.0,262.3 133.1,261.1 133.1,261.1 133.2,260.7 133.2,260.6 133.2,261.1 133.3,261.5 133.3,261.4 133.3,262.1 133.4,262.2 133.4,263.4 133.4,262.8 133.5,264.0 133.5,264.6 133.5,264.5 133.6,264.9 133.6,264.7 133.6,264.9 133.7,264.2 133.7,263.9 133.7,262.2 133.8,262.3 133.8,262.1 133.9,261.4 133.9,260.8 133.9,261.2 134.0,262.2 134.0,262.6 134.0,262.3 134.1,262.8 134.1,263.3 134.1,264.0 134.2,264.2 134.2,265.3 134.2,265.1 134.3,265.4 134.3,264.4 134.3,263.9 134.4,263.9 134.4,264.1 134.5,263.1 134.5,262.8 134.5,262.3 134.6,261.9 134.6,261.1 134.6,261.0 134.7,260.9 134.7,261.3 134.7,260.5 134.8,259.9 134.8,260.4 134.8,259.8 134.9,260.2 134.9,260.7 134.9,260.2 135.0,260.3 135.0,260.7 135.1,260.1 135.1,260.7 135.1,261.1 135.2,261.8 135.2,261.7 135.2,261.5 135.3,261.3 135.3,262.8 135.3,262.3 135.4,262.0 135.4,262.4 135.4,263.3 135.5,262.6 135.5,263.3 135.5,263.1 135.6,263.0 135.6,264.1 135.7,264.4 135.7,263.4 135.7,264.5 135.8,264.7 135.8,265.2 135.8,266.3 135.9,270.4 135.9,274.0 135.9,276.8 136.0,279.6 136.0,281.5 136.0,282.9 136.1,283.2 136.1,280.6 136.1,278.6 136.2,274.4 136.2,270.0 136.2,265.0 136.3,260.0 136.3,254.9 136.4,249.4 136.4,244.8 136.4,243.7 136.5,242.4 136.5,242.0 136.5,244.4 136.6,246.8 136.6,251.2 136.6,255.1 136.7,259.7 136.7,263.9 136.7,267.4 136.8,270.8 136.8,272.6 136.8,271.7 136.9,271.9 136.9,270.8 137.0,268.9 137.0,267.2 137.0,266.1 137.1,264.5 137.1,263.2 137.1,263.7 137.2,263.7 137.2,263.0 137.2,263.8 137.3,264.0 137.3,262.7 137.3,264.2 137.4,263.4 137.4,262.8 137.4,261.2 137.5,261.9 137.5,260.9 137.6,260.3 137.6,260.6 137.6,260.0 137.7,260.0 137.7,260.1 137.7,260.8 137.8,260.4 137.8,262.2 137.8,261.4 137.9,263.1 137.9,262.8 137.9,263.4 138.0,263.6 138.0,263.7 138.0,264.7 138.1,263.3 138.1,263.8 138.2,263.9 138.2,262.9 138.2,263.9 138.3,263.7 138.3,263.4 138.3,263.1 138.4,262.5 138.4,262.5 138.4,263.3 138.5,261.9 138.5,261.4 138.5,261.0 138.6,261.1 138.6,261.2 138.6,260.9 138.7,260.4 138.7,261.2 138.8,261.1 138.8,262.4 138.8,262.5 138.9,262.8 138.9,264.2 138.9,263.2 139.0,263.5 139.0,263.6 139.0,264.4 139.1,264.9 139.1,264.8 139.1,265.1 139.2,265.5 139.2,265.0 139.2,264.1 139.3,264.1 139.3,265.2 139.3,264.0 139.4,264.0 139.4,263.6 139.5,263.2 139.5,262.6 139.5,261.1 139.6,261.5 139.6,260.8 139.6,260.4 139.7,260.5 139.7,260.5 139.7,261.7 139.8,261.7 139.8,262.7 139.8,264.0 139.9,264.9 139.9,265.3 139.9,264.8 140.0,264.2 140.0,263.1 140.1,260.0 140.1,260.6 140.1,261.2 140.2,263.8 140.2,263.6 140.2,265.1 140.3,265.1 140.3,263.9 140.3,263.1 140.4,261.7 140.4,261.0 140.4,260.2 140.5,261.7 140.5,262.6 140.5,264.1 140.6,265.5 140.6,265.1 140.7,265.0 140.7,264.6 140.7,263.9 140.8,263.4 140.8,262.2 140.8,261.4 140.9,260.2 140.9,259.9 140.9,259.7 141.0,260.6 141.0,260.7 141.0,259.4 141.1,255.6 141.1,259.1 141.1,262.9 141.2,266.4 141.2,270.9 141.3,275.3 141.3,278.1 141.3,279.2 141.4,281.8 141.4,281.6 141.4,280.6 141.5,279.0 141.5,275.4 141.5,271.5 141.6,267.1 141.6,261.9 141.6,257.9 141.7,253.3 141.7,249.8 141.7,247.2 141.8,245.1 141.8,244.2 141.8,243.3 141.9,245.2 141.9,247.9 142.0,252.2 142.0,256.1 142.0,260.9 142.1,265.5 142.1,270.0 142.1,273.1 142.2,275.0 142.2,274.1 142.2,271.9 142.3,269.5 142.3,268.5 142.3,267.7 142.4,268.3 142.4,268.3 142.4,267.9 142.5,265.7 142.5,263.4 142.6,259.3 142.6,257.9 142.6,257.3 142.7,258.7 142.7,261.3 142.7,262.1 142.8,263.2 142.8,263.1 142.8,263.6 142.9,263.7 142.9,261.9 142.9,261.2 143.0,260.7 143.0,261.4 143.0,262.0 143.1,262.6 143.1,263.4 143.2,262.8 143.2,262.5 143.2,263.0 143.3,262.7 143.3,262.7 143.3,263.2 143.4,263.1 143.4,262.5 143.4,262.4 143.5,262.3 143.5,262.0 143.5,262.6 143.6,260.9 143.6,261.4 143.6,260.6 143.7,260.0 143.7,260.7 143.8,260.9 143.8,259.9 143.8,260.2 143.9,259.9 143.9,261.4 143.9,261.3 144.0,261.6 144.0,261.3 144.0,262.0 144.1,262.7 144.1,262.9 144.1,262.8 144.2,263.6 144.2,263.1 144.2,264.2 144.3,263.6 144.3,264.8 144.4,265.5 144.4,265.0 144.4,264.6 144.5,265.5 144.5,265.3 144.5,264.8 144.6,264.1 144.6,264.2 144.6,265.0 144.7,265.4 144.7,265.2 144.7,265.1 144.8,265.3 144.8,265.4 144.8,264.3 144.9,265.0 144.9,265.9 144.9,265.1 145.0,264.7 145.0,264.7 145.1,264.4 145.1,263.2 145.1,263.8 145.2,263.4 145.2,262.9 145.2,263.2 145.3,262.1 145.3,261.4 145.3,261.4 145.4,260.4 145.4,260.0 145.4,260.8 145.5,260.5 145.5,261.0 145.5,261.1 145.6,260.1 145.6,261.6 145.7,261.2 145.7,261.0 145.7,262.2 145.8,263.7 145.8,263.4 145.8,264.2 145.9,264.5 145.9,265.2 145.9,266.2 146.0,265.5 146.0,264.7 146.0,263.4 146.1,263.1 146.1,261.4 146.1,260.6 146.2,260.4 146.2,260.7 146.3,261.2 146.3,264.9 146.3,269.9 146.4,273.0 146.4,277.5 146.4,280.2 146.5,279.8 146.5,279.6 146.5,277.7 146.6,275.2 146.6,271.9 146.6,269.2 146.7,266.2 146.7,263.1 146.7,260.5 146.8,257.6 146.8,254.4 146.9,251.9 146.9,249.2 146.9,246.9 147.0,246.4 147.0,245.8 147.0,247.8 147.1,251.2 147.1,255.0 147.1,259.4 147.2,263.7 147.2,266.8 147.2,270.8 147.3,272.3 147.3,272.9 147.3,273.0 147.4,272.0 147.4,270.8 147.4,269.3 147.5,267.1 147.5,264.8 147.6,263.1 147.6,261.4 147.6,260.2 147.7,259.3 147.7,258.4 147.7,258.2 147.8,259.4 147.8,258.9 147.8,259.0 147.9,259.5 147.9,260.3 147.9,261.1 148.0,262.1 148.0,262.2 148.0,262.8 148.1,263.9 148.1,264.5 148.2,264.5 148.2,264.3 148.2,265.2 148.3,265.1 148.3,265.3 148.3,265.6 148.4,265.4 148.4,264.9 148.4,264.2 148.5,264.2 148.5,263.2 148.5,262.7 148.6,261.4 148.6,260.6 148.6,260.5 148.7,260.4 148.7,260.3 148.8,261.1 148.8,261.9 148.8,262.7 148.9,263.8 148.9,264.8 148.9,264.0 149.0,265.1 149.0,264.6 149.0,264.5 149.1,264.3 149.1,263.3 149.1,262.7 149.2,261.8 149.2,261.4 149.2,260.9 149.3,261.3 149.3,260.3 149.4,260.6 149.4,261.0 149.4,261.2 149.5,261.1 149.5,261.5 149.5,261.8 149.6,262.0 149.6,262.8 149.6,262.3 149.7,262.7 149.7,262.6 149.7,263.1 149.8,263.4 149.8,263.8 149.8,263.9 149.9,263.6 149.9,264.1 150.0,264.3 150.0,265.1 150.0,265.4 150.1,265.2 150.1,265.0 150.1,264.9 150.2,265.0 150.2,265.2 150.2,264.1 150.3,264.7 150.3,263.5 150.3,262.1 150.4,261.9 150.4,260.8 150.4,260.2 150.5,260.3 150.5,261.0 150.5,261.2 150.6,263.0 150.6,263.0 150.7,264.7 150.7,265.1 150.7,265.4 150.8,264.5 150.8,264.1 150.8,262.7 150.9,261.8 150.9,261.0 150.9,260.7 151.0,260.3 151.0,260.6 151.0,262.1 151.1,263.6 151.1,264.0 151.1,265.5 151.2,265.4 151.2,265.9 151.3,266.8 151.3,266.5 151.3,265.4 151.4,264.8 151.4,264.5 151.4,264.3 151.5,255.7 151.5,257.5 151.5,259.8 151.6,263.0 151.6,265.9 151.6,269.3 151.7,271.9 151.7,275.2 151.7,277.4 151.8,279.7 151.8,280.1 151.9,279.7 151.9,277.7 151.9,275.8 152.0,271.5 152.0,267.3 152.0,264.1 152.1,259.4 152.1,255.9 152.1,252.3 152.2,249.8 152.2,248.3 152.2,247.3 152.3,249.0 152.3,250.9 152.3,252.6 152.4,256.4 152.4,259.0 152.5,263.4 152.5,266.1 152.5,269.1 152.6,271.5 152.6,273.9 152.6,273.9 152.7,274.0 152.7,273.6 152.7,272.9 152.8,270.8 152.8,270.3 152.8,267.6 152.9,265.4 152.9,264.1 152.9,261.8 153.0,260.1 153.0,259.4 153.0,259.2 153.1,258.8 153.1,259.0 153.2,258.2 153.2,260.2 153.2,261.6 153.3,263.2 153.3,262.9 153.3,264.2 153.4,264.6 153.4,264.3 153.4,263.5 153.5,263.7 153.5,262.6 153.5,262.1 153.6,261.6 153.6,260.7 153.6,261.8 153.7,262.0 153.7,262.2 153.8,263.9 153.8,264.3 153.8,265.3 153.9,264.6 153.9,264.9 153.9,264.8 154.0,265.1 154.0,265.2 154.0,264.8 154.1,263.7 154.1,263.1 154.1,262.9 154.2,262.3 154.2,262.2 154.2,261.3 154.3,260.9 154.3,260.9 154.4,261.1 154.4,260.9 154.4,261.0 154.5,261.2 154.5,260.6 154.5,260.8 154.6,260.4 154.6,260.4 154.6,260.0 154.7,260.4 154.7,260.8 154.7,261.0 154.8,261.3 154.8,261.0 154.8,260.4 154.9,260.8 154.9,262.4 155.0,260.7 155.0,260.7 155.0,261.0 155.1,260.8 155.1,261.0 155.1,261.3 155.2,261.7 155.2,261.0 155.2,261.3 155.3,261.2 155.3,261.6 155.3,261.1 155.4,260.9 155.4,260.1 155.4,261.2 155.5,261.1 155.5,260.8 155.6,260.9 155.6,260.8 155.6,261.8 155.7,262.2 155.7,262.7 155.7,263.4 155.8,263.7 155.8,264.3 155.8,264.8 155.9,264.9 155.9,264.9 155.9,264.2 156.0,263.7 156.0,262.6 156.0,260.8 156.1,261.1 156.1,259.8 156.1,260.1 156.2,260.7 156.2,261.2 156.3,261.8 156.3,262.1 156.3,262.5 156.4,263.6 156.4,265.1 156.4,265.1 156.5,266.0 156.5,266.4 156.5,266.3 156.6,264.2 156.6,263.6 156.6,262.6 156.7,263.3 156.7,265.4 156.7,267.9 156.8,271.3 156.8,273.1 156.9,275.6 156.9,276.8 156.9,277.0 157.0,276.9 157.0,274.8 157.0,273.1 157.1,268.7 157.1,265.1 157.1,261.5 157.2,257.9 157.2,255.3 157.2,252.4 157.3,250.4 157.3,249.4 157.3,248.8 157.4,249.8 157.4,251.9 157.5,253.4 157.5,256.1 157.5,258.7 157.6,260.6 157.6,263.5 157.6,264.9 157.7,267.6 157.7,268.3 157.7,270.0 157.8,269.4 157.8,270.8 157.8,270.9 157.9,269.5 157.9,268.7 157.9,267.4 158.0,265.3 158.0,263.4 158.1,260.3 158.1,259.6 158.1,259.5 158.2,258.8 158.2,260.6 158.2,261.2 158.3,263.5 158.3,263.1 158.3,262.8 158.4,262.8 158.4,262.0 158.4,261.5 158.5,261.3 158.5,261.6 158.5,262.1 158.6,263.1 158.6,263.5 158.6,265.8 158.7,264.5 158.7,264.1 158.8,263.5 158.8,262.1 158.8,261.1 158.9,260.8 158.9,260.2 158.9,260.5 159.0,262.2 159.0,262.7 159.0,265.0 159.1,264.6 159.1,265.4 159.1,265.5 159.2,265.8 159.2,264.6 159.2,264.2 159.3,264.0 159.3,263.5 159.4,263.5 159.4,263.2 159.4,261.5 159.5,262.2 159.5,261.3 159.5,260.6 159.6,260.4 159.6,260.7 159.6,261.4 159.7,260.9 159.7,260.2 159.7,260.4 159.8,258.9 159.8,260.4 159.8,260.2 159.9,260.9 159.9,261.0 160.0,260.9 160.0,261.2 160.0,262.3 160.1,263.0 160.1,264.4 160.1,264.7 160.2,265.3 160.2,265.2 160.2,264.7 160.3,264.6 160.3,263.0 160.3,263.1 160.4,261.5 160.4,261.6 160.4,261.3 160.5,261.1 160.5,262.2 160.6,262.6 160.6,262.9 160.6,264.7 160.7,264.9 160.7,264.9 160.7,264.7 160.8,264.2 160.8,264.3 160.8,261.8 160.9,261.5 160.9,261.0 160.9,260.8 161.0,260.9 161.0,261.3 161.0,261.6 161.1,262.8 161.1,262.4 161.2,263.3 161.2,263.9 161.2,264.2 161.3,263.8 161.3,264.6 161.3,265.3 161.4,264.8 161.4,265.6 161.4,264.9 161.5,265.4 161.5,264.9 161.5,264.3 161.6,264.7 161.6,265.9 161.6,264.8 161.7,265.3 161.7,264.4 161.7,269.7 161.8,272.5 161.8,275.0 161.9,278.1 161.9,279.5 161.9,279.9 162.0,280.7 162.0,278.7 162.0,276.7 162.1,272.5 162.1,268.8 162.1,264.7 162.2,259.5 162.2,254.3 162.2,251.9 162.3,247.7 162.3,245.0 162.3,243.7 162.4,243.4 162.4,244.6 162.5,245.8 162.5,248.9 162.5,252.5 162.6,255.7 162.6,259.6 162.6,262.6 162.7,265.6 162.7,268.0 162.7,270.7 162.8,271.4 162.8,272.0 162.8,272.3 162.9,272.2 162.9,270.9 162.9,269.6 163.0,268.5 163.0,267.1 163.1,264.8 163.1,264.3 163.1,262.7 163.2,261.4 163.2,260.6 163.2,259.7 163.3,259.6 163.3,260.6 163.3,259.8 163.4,259.8 163.4,260.2 163.4,260.0 163.5,259.8 163.5,260.6 163.5,261.6 163.6,261.5 163.6,261.0 163.7,261.8 163.7,261.6 163.7,262.9 163.8,263.5 163.8,263.7 163.8,265.3 163.9,265.4 163.9,265.0 163.9,265.8 164.0,264.2 164.0,262.6 164.0,262.6 164.1,260.7 164.1,260.2 164.1,261.2 164.2,262.6 164.2,265.1 164.2,265.9 164.3,264.5 164.3,262.9 164.4,261.5 164.4,260.8 164.4,261.7 164.5,263.4 164.5,264.4 164.5,264.3 164.6,263.7 164.6,261.4 164.6,260.5 164.7,261.4 164.7,263.5 164.7,263.6 164.8,265.2 164.8,264.5 164.8,263.7 164.9,262.2 164.9,261.6 165.0,261.0 165.0,260.0 165.0,261.0 165.1,261.9 165.1,262.8 165.1,263.0 165.2,264.2 165.2,264.4 165.2,264.4 165.3,265.3 165.3,264.9 165.3,265.3 165.4,264.9 165.4,265.2 165.4,264.7 165.5,264.6 165.5,264.6 165.6,265.5 165.6,264.5 165.6,265.3 165.7,265.1 165.7,264.6 165.7,266.1 165.8,265.5 165.8,266.0 165.8,264.8 165.9,266.1 165.9,265.4 165.9,265.9 166.0,265.0 166.0,265.7 166.0,265.2 166.1,265.4 166.1,265.0 166.2,265.0 166.2,265.6 166.2,265.8 166.3,264.8 166.3,264.8 166.3,265.1 166.4,265.8 166.4,265.6 166.4,265.7 166.5,264.8 166.5,264.9 166.5,264.3 166.6,263.3 166.6,263.9 166.6,263.3 166.7,262.5 166.7,262.6 166.7,261.8 166.8,260.9 166.8,260.6 166.9,263.1 166.9,266.7 166.9,271.0 167.0,275.0 167.0,279.1 167.0,282.2 167.1,283.5 167.1,283.0 167.1,283.5 167.2,278.5 167.2,272.9 167.2,267.3 167.3,261.1 167.3,256.0 167.3,251.2 167.4,249.0 167.4,248.3 167.5,247.9 167.5,247.8 167.5,247.8 167.6,248.2 167.6,248.0 167.6,250.3 167.7,251.6 167.7,255.9 167.7,260.0 167.8,264.4 167.8,269.0 167.8,272.6 167.9,275.0 167.9,275.0 167.9,275.2 168.0,272.9 168.0,270.4 168.1,268.2 168.1,265.2 168.1,263.9 168.2,262.3 168.2,260.1 168.2,259.4 168.3,259.9 168.3,259.6 168.3,259.5 168.4,260.0 168.4,260.3 168.4,261.4 168.5,262.5 168.5,262.0 168.5,263.9 168.6,264.6 168.6,264.8 168.7,265.8 168.7,265.5 168.7,265.9 168.8,265.7 168.8,265.1 168.8,264.6 168.9,265.1 168.9,264.6 168.9,265.3 169.0,265.3 169.0,264.0 169.0,263.5 169.1,262.9 169.1,262.8 169.1,262.0 169.2,260.5 169.2,261.1 169.3,261.0 169.3,261.1 169.3,261.1 169.4,262.6 169.4,262.8 169.4,263.4 169.5,264.7 169.5,264.7 169.5,265.9 169.6,265.0 169.6,264.3 169.6,263.5 169.7,260.9 169.7,260.9 169.7,260.8 169.8,261.2 169.8,262.4 169.8,263.9 169.9,264.6 169.9,265.7 170.0,265.2 170.0,264.0 170.0,262.3 170.1,261.2 170.1,261.5 170.1,260.6 170.2,261.3 170.2,261.6 170.2,263.5 170.3,263.9 170.3,264.4 170.3,265.0 170.4,265.0 170.4,265.0 170.4,263.7 170.5,263.7 170.5,263.0 170.6,261.9 170.6,262.5 170.6,261.9 170.7,262.0 170.7,261.9 170.7,261.4 170.8,261.2 170.8,261.8 170.8,261.8 170.9,262.0 170.9,262.3 170.9,261.6 171.0,262.7 171.0,261.9 171.0,263.4 171.1,262.7 171.1,262.5 171.2,263.3 171.2,263.3 171.2,263.6 171.3,263.5 171.3,263.4 171.3,264.0 171.4,264.2 171.4,264.7 171.4,264.5 171.5,264.9 171.5,264.1 171.5,264.0 171.6,264.8 171.6,265.0 171.6,263.9 171.7,264.2 171.7,265.2 171.8,264.4 171.8,265.4 171.8,265.6 171.9,265.0 171.9,265.5 171.9,262.5 172.0,267.1 172.0,270.0 172.0,273.4 172.1,276.9 172.1,279.4 172.1,281.9 172.2,282.6 172.2,282.9 172.2,281.4 172.3,278.5 172.3,276.1 172.3,270.6 172.4,266.3 172.4,261.7 172.5,255.6 172.5,251.1 172.5,246.8 172.6,244.0 172.6,242.7 172.6,242.5 172.7,242.8 172.7,245.0 172.7,248.5 172.8,251.2 172.8,255.8 172.8,258.6 172.9,262.4 172.9,266.1 172.9,268.1 173.0,270.1 173.0,271.0 173.1,271.9 173.1,270.7 173.1,270.5 173.2,270.3 173.2,268.5 173.2,266.7 173.3,266.0 173.3,264.0 173.3,263.3 173.4,262.9 173.4,262.3 173.4,262.1 173.5,262.2 173.5,262.8 173.5,262.9 173.6,263.3 173.6,264.0 173.7,264.1 173.7,265.2 173.7,265.1 173.8,265.3 173.8,264.8 173.8,264.2 173.9,263.3 173.9,263.5 173.9,262.8 174.0,261.1 174.0,260.8 174.0,260.5 174.1,260.0 174.1,260.6 174.1,261.0 174.2,261.8 174.2,261.8 174.3,263.3 174.3,264.5 174.3,264.9 174.4,265.4 174.4,265.9 174.4,265.5 174.5,265.2 174.5,264.5 174.5,262.8 174.6,263.0 174.6,261.3 174.6,261.3 174.7,261.0 174.7,260.4 174.7,260.2 174.8,260.7 174.8,261.4 174.9,262.7 174.9,263.9 174.9,263.4 175.0,264.3 175.0,265.3 175.0,264.7 175.1,265.8 175.1,265.4 175.1,266.0 175.2,264.9 175.2,264.6 175.2,265.1 175.3,263.5 175.3,263.0 175.3,262.2 175.4,261.5 175.4,262.0 175.4,260.8 175.5,260.9 175.5,260.3 175.6,260.0 175.6,259.9 175.6,260.6 175.7,259.6 175.7,259.6 175.7,259.8 175.8,259.6 175.8,260.0 175.8,259.6 175.9,261.3 175.9,261.4 175.9,261.3 176.0,261.8 176.0,262.7 176.0,262.9 176.1,263.9 176.1,264.0 176.2,264.9 176.2,265.9 176.2,265.0 176.3,264.8 176.3,264.7 176.3,264.0 176.4,263.6 176.4,262.7 176.4,262.2 176.5,261.8 176.5,261.7 176.5,260.0 176.6,260.5 176.6,261.1 176.6,262.5 176.7,262.2 176.7,263.0 176.8,264.2 176.8,265.2 176.8,265.3 176.9,265.2 176.9,265.4 176.9,265.0 177.0,268.1 177.0,269.5 177.0,271.7 177.1,273.3 177.1,274.8 177.1,274.8 177.2,275.9 177.2,274.8 177.2,273.3 177.3,271.9 177.3,270.5 177.4,267.1 177.4,263.4 177.4,261.2 177.5,256.8 177.5,253.4 177.5,250.5 177.6,247.5 177.6,246.2 177.6,245.0 177.7,246.9 177.7,248.9 177.7,252.6 177.8,258.4 177.8,262.3 177.8,266.8 177.9,270.5 177.9,272.3 177.9,272.0 178.0,271.2 178.0,270.4 178.1,267.1 178.1,266.1 178.1,265.7 178.2,265.7 178.2,266.4 178.2,266.6 178.3,266.1 178.3,265.1 178.3,263.7 178.4,262.2 178.4,260.4 178.4,258.8 178.5,258.8 178.5,259.3 178.5,260.2 178.6,261.9 178.6,263.1 178.7,263.8 178.7,264.2 178.7,264.2 178.8,264.5 178.8,265.0 178.8,263.4 178.9,263.0 178.9,262.3 178.9,262.5 179.0,261.4 179.0,261.7 179.0,261.7 179.1,262.1 179.1,260.9 179.1,262.1 179.2,262.5 179.2,262.8 179.3,261.9 179.3,262.5 179.3,262.9 179.4,263.1 179.4,263.0 179.4,262.8 179.5,262.4 179.5,263.4 179.5,262.0 179.6,262.2 179.6,262.8 179.6,262.3 179.7,261.2 179.7,261.8 179.7,261.6 179.8,261.1 179.8,261.2 179.9,262.2 179.9,261.5 179.9,261.3 180.0,260.9 180.0,261.9 180.0,261.5 180.1,260.9 180.1,261.9 180.1,262.3 180.2,262.1 180.2,261.7 180.2,262.5 180.3,263.4 180.3,262.9 180.3,263.7 180.4,263.9 180.4,263.1 180.5,263.8 180.5,263.5 180.5,263.6 180.6,263.8 180.6,263.8 180.6,263.7 180.7,263.7 180.7,264.7 180.7,263.9 180.8,264.0 180.8,264.1 180.8,263.7 180.9,262.9 180.9,263.3 180.9,262.4 181.0,263.0 181.0,263.2 181.0,262.5 181.1,262.6 181.1,262.2 181.2,261.9 181.2,262.3 181.2,261.9 181.3,261.9 181.3,261.0 181.3,261.4 181.4,261.8 181.4,261.5 181.4,261.5 181.5,261.1 181.5,261.6 181.5,260.3 181.6,260.9 181.6,261.1 181.6,261.2 181.7,260.8 181.7,261.0 181.8,260.9 181.8,260.9 181.8,260.7 181.9,260.3 181.9,260.1 181.9,260.5 182.0,257.1 182.0,259.2 182.0,261.7 182.1,265.4 182.1,268.4 182.1,271.5 182.2,273.8 182.2,276.2 182.2,277.5 182.3,277.4 182.3,277.3 182.4,275.4 182.4,274.1 182.4,271.1 182.5,267.1 182.5,262.4 182.5,258.2 182.6,253.2 182.6,248.9 182.6,246.1 182.7,244.5 182.7,246.8 182.7,247.9 182.8,251.1 182.8,255.1 182.8,258.2 182.9,259.1 182.9,261.9 183.0,262.5 183.0,265.3 183.0,267.6 183.1,269.6 183.1,271.6 183.1,273.2 183.2,272.2 183.2,270.1 183.2,268.5 183.3,265.5 183.3,262.7 183.3,262.5 183.4,260.8 183.4,261.9 183.4,262.3 183.5,262.8 183.5,262.8 183.5,263.0 183.6,263.2 183.6,263.3 183.7,263.6 183.7,262.5 183.7,262.9 183.8,262.1 183.8,261.5 183.8,261.2 183.9,262.0 183.9,261.2 183.9,260.5 184.0,260.9 184.0,260.1 184.0,261.1 184.1,261.1 184.1,260.7 184.1,260.4 184.2,260.4 184.2,261.1 184.3,260.4 184.3,261.1 184.3,261.0 184.4,260.7 184.4,260.1 184.4,260.2 184.5,260.7 184.5,261.1 184.5,261.0 184.6,261.0 184.6,260.9 184.6,261.4 184.7,261.5 184.7,262.2 184.7,261.8 184.8,262.1 184.8,261.7 184.9,262.2 184.9,261.9 184.9,261.7 185.0,261.9 185.0,262.7 185.0,263.0 185.1,263.3 185.1,264.5 185.1,264.0 185.2,264.5 185.2,265.1 185.2,264.2 185.3,265.5 185.3,264.7 185.3,265.3 185.4,265.4 185.4,265.0 185.5,264.4 185.5,264.9 185.5,263.9 185.6,264.4 185.6,263.9 185.6,263.7 185.7,263.1 185.7,264.1 185.7,263.6 185.8,262.9 185.8,263.6 185.8,263.0 185.9,264.0 185.9,262.3 185.9,261.7 186.0,261.6 186.0,261.2 186.1,262.0 186.1,260.4 186.1,261.2 186.2,261.2 186.2,260.9 186.2,260.3 186.3,261.6 186.3,260.5 186.3,261.1 186.4,261.9 186.4,262.2 186.4,262.5 186.5,262.0 186.5,262.8 186.5,263.1 186.6,263.6 186.6,264.1 186.6,264.3 186.7,265.1 186.7,264.7 186.8,264.5 186.8,264.6 186.8,265.4 186.9,265.4 186.9,265.9 186.9,265.4 187.0,262.7 187.0,265.1 187.0,266.9 187.1,269.9 187.1,272.8 187.1,274.5 187.2,276.1 187.2,277.0 187.2,276.8 187.3,276.3 187.3,273.7 187.4,271.3 187.4,269.0 187.4,265.7 187.5,261.6 187.5,258.9 187.5,255.9 187.6,253.4 187.6,250.7 187.6,249.6 187.7,248.9 187.7,249.0 187.7,249.2 187.8,251.2 187.8,252.2 187.8,255.9 187.9,258.3 187.9,261.9 188.0,263.6 188.0,267.8 188.0,270.3 188.1,271.6 188.1,272.5 188.1,272.7 188.2,272.2 188.2,270.4 188.2,268.0 188.3,266.3 188.3,264.3 188.3,261.6 188.4,261.4 188.4,260.6 188.4,260.3 188.5,259.7 188.5,260.7 188.6,261.7 188.6,261.9 188.6,263.2 188.7,262.8 188.7,264.5 188.7,264.5 188.8,263.7 188.8,264.3 188.8,264.2 188.9,264.7 188.9,264.4 188.9,263.6 189.0,263.6 189.0,263.7 189.0,263.7 189.1,262.8 189.1,263.4 189.1,262.7 189.2,262.8 189.2,262.1 189.3,262.8 189.3,262.1 189.3,262.6 189.4,262.1 189.4,262.5 189.4,261.7 189.5,262.0 189.5,261.5 189.5,261.5 189.6,260.6 189.6,260.7 189.6,260.5 189.7,260.8 189.7,260.9 189.7,261.2 189.8,261.1 189.8,262.2 189.9,262.7 189.9,262.8 189.9,263.4 190.0,264.8 190.0,264.3 190.0,264.9 190.1,265.0 190.1,264.2 190.1,264.9 190.2,264.4 190.2,263.1 190.2,261.7 190.3,261.0 190.3,260.4 190.3,260.7 190.4,261.2 190.4,263.2 190.5,264.7 190.5,265.1 190.5,265.7 190.6,265.3 190.6,263.2 190.6,261.4 190.7,260.0 190.7,261.3 190.7,261.4 190.8,262.5 190.8,263.6 190.8,265.2 190.9,265.4 190.9,264.5 190.9,264.4 191.0,262.9 191.0,261.7 191.1,260.0 191.1,260.6 191.1,260.6 191.2,262.1 191.2,262.9 191.2,263.4 191.3,264.1 191.3,264.5 191.3,265.3 191.4,265.2 191.4,265.5 191.4,264.1 191.5,264.9 191.5,264.8 191.5,263.9 191.6,264.3 191.6,265.1 191.6,264.3 191.7,263.8 191.7,263.8 191.8,264.1 191.8,263.8 191.8,263.7 191.9,264.4 191.9,264.2 191.9,272.5 192.0,276.4 192.0,278.5 192.0,280.1 192.1,281.7 192.1,281.5 192.1,280.0 192.2,278.7 192.2,274.6 192.2,270.5 192.3,266.1 192.3,262.1 192.4,256.9 192.4,253.9 192.4,250.9 192.5,249.1 192.5,247.6 192.5,247.5 192.6,249.2 192.6,251.7 192.6,254.7 192.7,257.8 192.7,260.8 192.7,263.2 192.8,266.5 192.8,268.8 192.8,270.6 192.9,271.5 192.9,271.2 193.0,271.2 193.0,269.5 193.0,268.9 193.1,267.1 193.1,264.5 193.1,263.3 193.2,261.7 193.2,260.5 193.2,260.7 193.3,260.7 193.3,261.2 193.3,260.6 193.4,261.5 193.4,262.5 193.4,263.0 193.5,263.4 193.5,264.3 193.6,264.4 193.6,263.7 193.6,264.5 193.7,264.4 193.7,265.4 193.7,264.8 193.8,265.6 193.8,264.3 193.8,264.7 193.9,264.5 193.9,265.2 193.9,264.8 194.0,265.1 194.0,264.7 194.0,264.6 194.1,264.1 194.1,264.0 194.2,264.8 194.2,264.7 194.2,264.5 194.3,264.9 194.3,264.7 194.3,264.4 194.4,265.2 194.4,265.5 194.4,265.8 194.5,265.0 194.5,265.3 194.5,264.3 194.6,265.4 194.6,265.9 194.6,265.2 194.7,264.1 194.7,265.5 194.7,264.6 194.8,265.0 194.8,264.7 194.9,265.0 194.9,264.3 194.9,264.6 195.0,264.3 195.0,264.1 195.0,263.6 195.1,263.1 195.1,263.5 195.1,262.5 195.2,262.3 195.2,262.6 195.2,261.6 195.3,261.9 195.3,261.0 195.3,261.8 195.4,261.7 195.4,260.1 195.5,260.9 195.5,260.9 195.5,261.3 195.6,260.2 195.6,260.9 195.6,260.9 195.7,261.8 195.7,261.8 195.7,262.6 195.8,263.4 195.8,263.6 195.8,263.4 195.9,264.5 195.9,264.8 195.9,264.2 196.0,264.6 196.0,264.6 196.1,264.7 196.1,264.0 196.1,263.9 196.2,263.2 196.2,262.9 196.2,261.3 196.3,261.0 196.3,260.3 196.3,260.4 196.4,261.1 196.4,263.0 196.4,263.7 196.5,264.3 196.5,267.2 196.5,266.2 196.6,265.0 196.6,263.7 196.7,262.3 196.7,260.2 196.7,259.8 196.8,260.1 196.8,261.5 196.8,265.0 196.9,270.3 196.9,273.2 196.9,275.8 197.0,277.5 197.0,277.9 197.0,277.9 197.1,275.8 197.1,275.1 197.1,273.5 197.2,270.4 197.2,266.6 197.2,264.3 197.3,260.6 197.3,257.1 197.4,253.9 197.4,250.3 197.4,249.1 197.5,248.9 197.5,249.2 197.5,249.6 197.6,251.3 197.6,254.1 197.6,256.2 197.7,259.3 197.7,262.4 197.7,264.6 197.8,266.6 197.8,268.2 197.8,269.9 197.9,269.7 197.9,269.2 198.0,268.5 198.0,267.7 198.0,266.1 198.1,265.4 198.1,263.5 198.1,262.9 198.2,261.5 198.2,260.7 198.2,260.0 198.3,259.0 198.3,258.3 198.3,258.8 198.4,259.1 198.4,259.8 198.4,260.2 198.5,260.7 198.5,262.4 198.6,262.7 198.6,264.5 198.6,264.8 198.7,265.4 198.7,265.1 198.7,265.0 198.8,263.2 198.8,261.7 198.8,260.0 198.9,260.7 198.9,262.0 198.9,264.4 199.0,265.2 199.0,265.3 199.0,263.8 199.1,262.0 199.1,260.6 199.2,260.6 199.2,262.8 199.2,264.4 199.3,265.0 199.3,264.9 199.3,262.2 199.4,262.1 199.4,260.7 199.4,262.0 199.5,262.8 199.5,263.3 199.5,263.5 199.6,265.3 199.6,263.8 199.6,262.2 199.7,262.2 199.7,261.4 199.8,261.6 199.8,261.2 199.8,261.1 199.9,262.0 199.9,262.2 199.9,262.0 200.0,262.4 200.0,264.2 200.0,263.1 200.1,264.0 200.1,263.4 200.1,263.6 200.2,263.1 200.2,263.3 200.2,262.2 200.3,263.0 200.3,262.6 200.3,261.9 200.4,261.9 200.4,261.1 200.5,261.1 200.5,260.4 200.5,261.2 200.6,260.4 200.6,260.3 200.6,259.8 200.7,260.0 200.7,261.0 200.7,260.9 200.8,261.4 200.8,260.7 200.8,260.7 200.9,260.3 200.9,261.1 200.9,260.9 201.0,260.3 201.0,260.3 201.1,259.5 201.1,260.0 201.1,260.7 201.2,261.7 201.2,261.6 201.2,262.3 201.3,262.7 201.3,263.6 201.3,264.1 201.4,264.4 201.4,265.6 201.4,265.5 201.5,265.2 201.5,264.7 201.5,263.3 201.6,262.9 201.6,261.7 201.7,261.9 201.7,261.1 201.7,261.0 201.8,268.5 201.8,271.1 201.8,275.5 201.9,277.2 201.9,279.2 201.9,281.0 202.0,280.8 202.0,278.8 202.0,275.2 202.1,272.5 202.1,267.6 202.1,263.2 202.2,258.9 202.2,254.2 202.3,251.4 202.3,249.2 202.3,248.0 202.4,247.8 202.4,248.3 202.4,248.9 202.5,253.6 202.5,256.3 202.5,258.8 202.6,263.2 202.6,265.8 202.6,269.0 202.7,270.5 202.7,273.4 202.7,274.0 202.8,273.8 202.8,273.1 202.8,271.2 202.9,269.3 202.9,266.9 203.0,264.0 203.0,262.2 203.0,260.7 203.1,260.6 203.1,260.3 203.1,261.7 203.2,262.3 203.2,263.0 203.2,263.4 203.3,263.4 203.3,262.1 203.3,261.1 203.4,259.9 203.4,260.3 203.4,260.9 203.5,262.9 203.5,264.8 203.6,265.4 203.6,264.8 203.6,264.4 203.7,263.2 203.7,261.3 203.7,261.0 203.8,260.8 203.8,261.4 203.8,262.1 203.9,264.1 203.9,264.9 203.9,265.2 204.0,265.3 204.0,265.3 204.0,264.5 204.1,263.6 204.1,263.4 204.2,262.6 204.2,261.8 204.2,261.0 204.3,261.6 204.3,260.1 204.3,260.2 204.4,259.5 204.4,260.3 204.4,260.0 204.5,260.6 204.5,260.2 204.5,260.8 204.6,261.3 204.6,261.2 204.6,261.3 204.7,261.4 204.7,261.5 204.8,261.8 204.8,263.1 204.8,262.9 204.9,262.4 204.9,262.6 204.9,263.7 205.0,263.0 205.0,264.1 205.0,263.6 205.1,264.1 205.1,264.5 205.1,264.6 205.2,263.9 205.2,264.1 205.2,263.9 205.3,263.3 205.3,262.8 205.4,262.4 205.4,262.0 205.4,261.0 205.5,260.7 205.5,260.6 205.5,261.3 205.6,261.7 205.6,261.7 205.6,261.6 205.7,262.0 205.7,262.3 205.7,263.2 205.8,263.3 205.8,263.3 205.8,264.6 205.9,264.5 205.9,264.7 205.9,264.2 206.0,264.5 206.0,264.9 206.1,264.7 206.1,264.7 206.1,264.2 206.2,264.6 206.2,264.4 206.2,264.1 206.3,264.3 206.3,264.6 206.3,263.8 206.4,264.4 206.4,264.5 206.4,264.7 206.5,264.6 206.5,264.2 206.5,263.9 206.6,263.4 206.6,267.2 206.7,270.2 206.7,274.1 206.7,275.8 206.8,278.3 206.8,280.1 206.8,279.4 206.9,278.1 206.9,276.9 206.9,274.5 207.0,271.5 207.0,266.6 207.0,261.8 207.1,258.5 207.1,254.3 207.1,251.4 207.2,249.6 207.2,248.1 207.3,247.8 207.3,248.5 207.3,250.8 207.4,253.4 207.4,255.8 207.4,259.5 207.5,262.3 207.5,265.2 207.5,267.3 207.6,268.7 207.6,269.3 207.6,270.0 207.7,269.5 207.7,269.0 207.7,267.4 207.8,266.9 207.8,266.5 207.9,266.6 207.9,266.3 207.9,265.6 208.0,264.6 208.0,264.0 208.0,262.6 208.1,260.5 208.1,259.8 208.1,258.9 208.2,259.9 208.2,259.7 208.2,262.3 208.3,264.0 208.3,264.1 208.3,264.7 208.4,264.2 208.4,263.8 208.4,263.1 208.5,261.7 208.5,261.1 208.6,259.7 208.6,260.6 208.6,260.4 208.7,260.8 208.7,262.5 208.7,263.4 208.8,264.2 208.8,264.8 208.8,264.9 208.9,265.6 208.9,265.6 208.9,265.4 209.0,265.7 209.0,265.7 209.0,265.5 209.1,265.1 209.1,266.0 209.2,265.2 209.2,265.2 209.2,265.3 209.3,265.3 209.3,265.7 209.3,265.2 209.4,264.5 209.4,264.5 209.4,265.5 209.5,264.4 209.5,264.6 209.5,263.6 209.6,264.3 209.6,264.7 209.6,263.9 209.7,263.6 209.7,263.4 209.8,263.7 209.8,263.7 209.8,263.8 209.9,263.3 209.9,263.5 209.9,264.0 210.0,263.7 210.0,264.0 210.0,263.4 210.1,262.9 210.1,263.6 210.1,264.3 210.2,264.1 210.2,263.8 210.2,264.5 210.3,264.5 210.3,264.8 210.4,265.3 210.4,265.5 210.4,264.7 210.5,265.4 210.5,264.7 210.5,263.7 210.6,263.6 210.6,262.1 210.6,261.8 210.7,261.6 210.7,259.8 210.7,260.1 210.8,260.5 210.8,260.5 210.8,260.6 210.9,260.8 210.9,260.4 211.0,261.0 211.0,260.9 211.0,261.9 211.1,262.2 211.1,262.7 211.1,262.4 211.2,262.8 211.2,262.5 211.2,264.6 211.3,263.7 211.3,263.9 211.3,264.4 211.4,264.2 211.4,265.3 211.4,257.6 211.5,258.5 211.5,261.1 211.5,265.6 211.6,267.6 211.6,270.0 211.7,273.5 211.7,276.8 211.7,277.8 211.8,280.1 211.8,279.7 211.8,279.3 211.9,276.9 211.9,273.8 211.9,269.6 212.0,265.0 212.0,261.5 212.0,256.4 212.1,253.3 212.1,249.6 212.1,247.6 212.2,246.7 212.2,247.1 212.3,248.0 212.3,250.5 212.3,252.3 212.4,255.0 212.4,257.5 212.4,259.7 212.5,261.8 212.5,263.0 212.5,264.6 212.6,267.0 212.6,268.3 212.6,269.9 212.7,270.7 212.7,271.6 212.7,271.5 212.8,270.8 212.8,269.5 212.9,267.6 212.9,264.8 212.9,262.5 213.0,260.3 213.0,258.8 213.0,258.7 213.1,258.1 213.1,258.9 213.1,258.7 213.2,259.7 213.2,260.3 213.2,261.5 213.3,262.3 213.3,263.6 213.3,263.6 213.4,263.8 213.4,264.6 213.5,264.9 213.5,265.1 213.5,265.1 213.6,264.0 213.6,264.8 213.6,264.5 213.7,264.1 213.7,264.4 213.7,264.5 213.8,264.7 213.8,264.4 213.8,264.7 213.9,264.2 213.9,264.8 213.9,263.5 214.0,264.8 214.0,263.8 214.0,264.6 214.1,264.6 214.1,264.5 214.2,264.6 214.2,264.7 214.2,264.7 214.3,264.5 214.3,264.1 214.3,264.1 214.4,265.1 214.4,264.8 214.4,264.8 214.5,265.2 214.5,265.0 214.5,264.1 214.6,265.4 214.6,264.9 214.6,264.9 214.7,265.3 214.7,266.1 214.8,265.6 214.8,265.7 214.8,265.8 214.9,265.1 214.9,265.0 214.9,265.8 215.0,264.7 215.0,264.2 215.0,263.8 215.1,263.2 215.1,262.9 215.1,261.3 215.2,261.5 215.2,261.1 215.2,260.8 215.3,261.7 215.3,260.4 215.4,262.0 215.4,262.1 215.4,263.4 215.5,264.4 215.5,264.6 215.5,265.2 215.6,266.3 215.6,265.6 215.6,265.3 215.7,263.4 215.7,262.4 215.7,261.6 215.8,260.6 215.8,259.6 215.8,259.3 215.9,259.5 215.9,260.1 216.0,260.7 216.0,262.0 216.0,263.5 216.1,264.8 216.1,265.1 216.1,265.9 216.2,266.0 216.2,266.0 216.2,265.4 216.3,269.6 216.3,271.8 216.3,274.6 216.4,275.3 216.4,277.0 216.4,277.4 216.5,276.9 216.5,274.8 216.5,274.0 216.6,271.3 216.6,267.7 216.7,264.4 216.7,260.4 216.7,258.0 216.8,255.1 216.8,252.1 216.8,250.4 216.9,248.7 216.9,248.8 216.9,249.6 217.0,251.4 217.0,251.6 217.0,253.4 217.1,256.4 217.1,258.7 217.1,261.7 217.2,265.5 217.2,267.1 217.3,269.4 217.3,271.1 217.3,272.3 217.4,271.6 217.4,271.0 217.4,270.6 217.5,268.7 217.5,266.7 217.5,265.1 217.6,263.4 217.6,261.1 217.6,259.8 217.7,259.1 217.7,258.2 217.7,258.9 217.8,260.5 217.8,260.7 217.9,262.1 217.9,264.0 217.9,265.3 218.0,265.9 218.0,265.3 218.0,265.3 218.1,265.1 218.1,263.4 218.1,262.7 218.2,262.6 218.2,261.1 218.2,260.8 218.3,261.3 218.3,259.8 218.3,260.6 218.4,260.5 218.4,261.2 218.5,261.7 218.5,261.5 218.5,262.4 218.6,263.7 218.6,264.2 218.6,264.8 218.7,265.6 218.7,265.4 218.7,265.8 218.8,264.8 218.8,263.5 218.8,263.2 218.9,262.9 218.9,261.3 218.9,260.7 219.0,261.0 219.0,260.7 219.1,260.9 219.1,261.8 219.1,262.2 219.2,262.8 219.2,263.2 219.2,264.4 219.3,265.0 219.3,265.4 219.3,264.6 219.4,264.8 219.4,264.3 219.4,263.7 219.5,264.1 219.5,262.3 219.5,263.5 219.6,261.4 219.6,261.6 219.6,260.9 219.7,260.5 219.7,260.7 219.8,260.5 219.8,260.7 219.8,260.9 219.9,260.5 219.9,261.2 219.9,262.2 220.0,263.0 220.0,263.4 220.0,264.0 220.1,265.0 220.1,264.5 220.1,265.6 220.2,265.3 220.2,265.2 220.2,264.0 220.3,263.3 220.3,262.6 220.4,261.1 220.4,261.4 220.4,260.9 220.5,260.6 220.5,262.5 220.5,263.8 220.6,263.9 220.6,264.3 220.6,264.8 220.7,264.8 220.7,263.9 220.7,262.8 220.8,262.2 220.8,260.5 220.8,261.5 220.9,261.4 220.9,260.3 221.0,261.0 221.0,261.6 221.0,262.8 221.1,258.0 221.1,261.1 221.1,264.8 221.2,268.8 221.2,272.8 221.2,276.4 221.3,280.1 221.3,282.0 221.3,283.8 221.4,284.1 221.4,282.6 221.4,280.7 221.5,277.0 221.5,273.5 221.6,268.8 221.6,263.4 221.6,259.3 221.7,254.8 221.7,250.7 221.7,247.8 221.8,247.2 221.8,247.5 221.8,248.0 221.9,249.6 221.9,252.6 221.9,255.0 222.0,258.6 222.0,261.5 222.0,264.9 222.1,267.8 222.1,270.3 222.1,271.7 222.2,272.6 222.2,273.0 222.3,272.5 222.3,272.0 222.3,270.5 222.4,269.1 222.4,268.7 222.4,266.4 222.5,265.8 222.5,263.3 222.5,261.6 222.6,260.6 222.6,258.7 222.6,258.9 222.7,258.8 222.7,259.9 222.7,261.0 222.8,262.2 222.8,264.1 222.9,264.3 222.9,265.6 222.9,265.8 223.0,264.5 223.0,263.4 223.0,262.4 223.1,261.4 223.1,260.2 223.1,260.8 223.2,260.7 223.2,261.6 223.2,262.5 223.3,263.3 223.3,265.2 223.3,264.8 223.4,265.5 223.4,266.0 223.5,265.3 223.5,264.8 223.5,263.4 223.6,262.8 223.6,261.3 223.6,260.4 223.7,260.1 223.7,259.8 223.7,259.8 223.8,259.7 223.8,260.9 223.8,260.7 223.9,262.3 223.9,262.8 223.9,263.6 224.0,264.4 224.0,265.7 224.1,265.9 224.1,266.2 224.1,265.4 224.2,266.3 224.2,266.0 224.2,265.7 224.3,265.9 224.3,265.3 224.3,265.1 224.4,265.1 224.4,265.6 224.4,264.8 224.5,265.9 224.5,265.1 224.5,264.8 224.6,265.0 224.6,265.4 224.7,265.7 224.7,264.2 224.7,264.4 224.8,265.3 224.8,265.0 224.8,264.3 224.9,265.2 224.9,263.7 224.9,264.1 225.0,264.4 225.0,264.0 225.0,264.2 225.1,264.3 225.1,263.6 225.1,265.0 225.2,263.7 225.2,264.0 225.2,264.4 225.3,264.6 225.3,264.8 225.4,264.6 225.4,265.1 225.4,265.3 225.5,264.9 225.5,264.8 225.5,264.9 225.6,265.5 225.6,265.6 225.6,265.1 225.7,265.5 225.7,264.4 225.7,264.8 225.8,264.3 225.8,259.8 225.8,262.6 225.9,265.3 225.9,267.9 226.0,270.8 226.0,274.1 226.0,275.9 226.1,277.7 226.1,278.6 226.1,278.9 226.2,276.8 226.2,274.1 226.2,271.0 226.3,267.0 226.3,262.1 226.3,258.7 226.4,254.5 226.4,251.5 226.4,249.0 226.5,247.2 226.5,247.4 226.6,248.1 226.6,249.8 226.6,251.2 226.7,252.7 226.7,256.8 226.7,259.0 226.8,261.0 226.8,263.7 226.8,265.1 226.9,266.4 226.9,267.9 226.9,268.8 227.0,270.0 227.0,270.8 227.0,270.3 227.1,270.5 227.1,268.5 227.2,268.3 227.2,265.5 227.2,264.7 227.3,262.2 227.3,261.2 227.3,260.4 227.4,258.9 227.4,259.0 227.4,258.9 227.5,259.4 227.5,260.7 227.5,261.4 227.6,261.8 227.6,262.3 227.6,263.9 227.7,264.1 227.7,264.1 227.7,264.8 227.8,265.0 227.8,264.8 227.9,264.6 227.9,265.6 227.9,264.7 228.0,264.8 228.0,264.7 228.0,264.1 228.1,264.9 228.1,263.6 228.1,264.1 228.2,264.4 228.2,264.0 228.2,264.4 228.3,264.4 228.3,264.0 228.3,263.6 228.4,263.6 228.4,264.0 228.5,264.3 228.5,263.9 228.5,264.5 228.6,263.1 228.6,264.6 228.6,264.3 228.7,264.8 228.7,264.6 228.7,264.4 228.8,265.2 228.8,265.2 228.8,264.9 228.9,265.4 228.9,265.1 228.9,264.2 229.0,264.4 229.0,263.4 229.1,262.0 229.1,261.7 229.1,261.2 229.2,261.5 229.2,261.0 229.2,260.4 229.3,261.6 229.3,260.4 229.3,260.5 229.4,261.0 229.4,260.3 229.4,261.1 229.5,261.5 229.5,261.5 229.5,260.5 229.6,260.8 229.6,261.7 229.7,260.8 229.7,261.4 229.7,261.0 229.8,260.3 229.8,261.1 229.8,260.5 229.9,261.5 229.9,261.3 229.9,262.3 230.0,263.0 230.0,264.2 230.0,264.7 230.1,265.7 230.1,265.1 230.1,263.6 230.2,263.2 230.2,261.1 230.3,261.0 230.3,260.5 230.3,261.5 230.4,263.6 230.4,264.7 230.4,265.3 230.5,264.2 230.5,263.9 230.5,262.2 230.6,264.4 230.6,267.2 230.6,270.0 230.7,273.5 230.7,277.3 230.7,281.2 230.8,283.1 230.8,283.5 230.8,281.9 230.9,278.9 230.9,273.6 231.0,268.4 231.0,262.8 231.0,258.4 231.1,253.3 231.1,249.1 231.1,246.1 231.2,244.0 231.2,243.4 231.2,244.6 231.3,245.8 231.3,248.1 231.3,252.0 231.4,255.5 231.4,259.6 231.4,263.8 231.5,266.6 231.5,269.7 231.6,271.7 231.6,273.6 231.6,273.0 231.7,273.3 231.7,272.4 231.7,271.4 231.8,270.2 231.8,268.1 231.8,265.5 231.9,263.9 231.9,263.1 231.9,260.3 232.0,259.6 232.0,258.2 232.0,258.3 232.1,258.5 232.1,258.4 232.2,258.3 232.2,259.6 232.2,259.9 232.3,260.9 232.3,262.5 232.3,262.5 232.4,263.2 232.4,264.6 232.4,265.0 232.5,265.7 232.5,266.0 232.5,265.4 232.6,265.8 232.6,265.4 232.6,266.2 232.7,265.5 232.7,265.5 232.8,265.3 232.8,265.3 232.8,265.0 232.9,265.0 232.9,264.2 232.9,264.0 233.0,264.0 233.0,263.3 233.0,262.9 233.1,262.8 233.1,262.4 233.1,262.3 233.2,262.1 233.2,260.2 233.2,260.9 233.3,261.0 233.3,261.7 233.3,261.6 233.4,262.7 233.4,264.7 233.5,264.3 233.5,265.5 233.5,264.6 233.6,263.1 233.6,262.0 233.6,259.9 233.7,260.2 233.7,261.3 233.7,262.6 233.8,264.6 233.8,264.9 233.8,265.4 233.9,263.8 233.9,261.4 233.9,259.7 234.0,259.7 234.0,262.1 234.1,264.2 234.1,265.6 234.1,266.2 234.2,265.2 234.2,263.6 234.2,262.1 234.3,261.0 234.3,260.3 234.3,260.1 234.4,260.4 234.4,262.4 234.4,262.8 234.5,264.1 234.5,264.2 234.5,265.0 234.6,265.4 234.6,265.6 234.7,264.7 234.7,263.9 234.7,264.4 234.8,265.1 234.8,263.5 234.8,263.9 234.9,263.0 234.9,262.3 234.9,263.0 235.0,263.1 235.0,263.5 235.0,261.8 235.1,262.5 235.1,263.0 235.1,262.4 235.2,263.2 235.2,262.7 235.3,258.6 235.3,261.1 235.3,263.1 235.4,267.9 235.4,271.8 235.4,275.0 235.5,278.6 235.5,280.7 235.5,282.0 235.6,283.1 235.6,282.2 235.6,280.6 235.7,276.9 235.7,272.5 235.7,268.9 235.8,264.6 235.8,260.0 235.9,255.5 235.9,252.4 235.9,248.6 236.0,247.6 236.0,248.7 236.0,248.1 236.1,250.7 236.1,252.0 236.1,255.5 236.2,258.3 236.2,261.4 236.2,264.5 236.3,266.5 236.3,268.3 236.3,269.4 236.4,270.0 236.4,269.2 236.4,267.9 236.5,266.4 236.5,265.7 236.6,264.7 236.6,264.0 236.6,264.1 236.7,263.7 236.7,264.0 236.7,264.1 236.8,264.0 236.8,263.9 236.8,263.1 236.9,262.7 236.9,261.2 236.9,260.4 237.0,260.2 237.0,260.1 237.0,260.4 237.1,261.0 237.1,261.8 237.2,263.3 237.2,263.8 237.2,265.0 237.3,265.0 237.3,264.9 237.3,266.1 237.4,265.2 237.4,264.3 237.4,264.2 237.5,264.1 237.5,263.8 237.5,262.4 237.6,261.7 237.6,261.4 237.6,261.4 237.7,260.5 237.7,261.3 237.8,260.6 237.8,260.8 237.8,261.5 237.9,262.0 237.9,263.0 237.9,263.3 238.0,263.7 238.0,264.2 238.0,264.6 238.1,265.3 238.1,265.3 238.1,265.6 238.2,265.2 238.2,264.3 238.2,264.3 238.3,263.7 238.3,262.6 238.4,262.2 238.4,261.3 238.4,260.6 238.5,261.3 238.5,259.7 238.5,261.0 238.6,260.2 238.6,261.0 238.6,262.2 238.7,262.8 238.7,263.5 238.7,265.0 238.8,264.9 238.8,265.5 238.8,265.7 238.9,265.4 238.9,265.5 238.9,264.8 239.0,264.7 239.0,263.9 239.1,263.9 239.1,263.1 239.1,261.8 239.2,261.8 239.2,260.7 239.2,260.5 239.3,260.4 239.3,260.1 239.3,260.2 239.4,259.8 239.4,259.7 239.4,260.3 239.5,259.3 239.5,259.8 239.5,260.3 239.6,259.3 239.6,260.4 239.7,260.0 239.7,260.0 239.7,260.2 239.8,260.3 239.8,260.3 239.8,260.3 239.9,261.8 239.9,262.3 239.9,259.7 240.0,263.3 240.0,266.4 240.0,270.3 240.1,274.9 240.1,278.6 240.1,281.5 240.2,282.7 240.2,283.2 240.3,282.0 240.3,280.5 240.3,276.9 240.4,271.8 240.4,266.8 240.4,261.5 240.5,256.6 240.5,251.6 240.5,247.0 240.6,244.4 240.6,243.2 240.6,243.5 240.7,245.0 240.7,247.0 240.7,250.5 240.8,256.0 240.8,259.6 240.9,263.0 240.9,265.5 240.9,268.3 241.0,269.9 241.0,270.2 241.0,270.2 241.1,269.3 241.1,268.3 241.1,266.9 241.2,267.0 241.2,266.9 241.2,266.0 241.3,265.3 241.3,265.0 241.3,265.2 241.4,264.8 241.4,263.8 241.5,263.0 241.5,263.8 241.5,262.7 241.6,262.3 241.6,261.2 241.6,261.1 241.7,260.9 241.7,261.7 241.7,261.3 241.8,261.6 241.8,260.8 241.8,260.6 241.9,261.3 241.9,260.7 241.9,260.3 242.0,260.2 242.0,260.6 242.0,260.6 242.1,260.8 242.1,260.7 242.2,260.6 242.2,260.5 242.2,260.8 242.3,261.4 242.3,261.4 242.3,261.2 242.4,261.9 242.4,261.7 242.4,262.6 242.5,262.3 242.5,262.4 242.5,263.0 242.6,263.7 242.6,264.1 242.6,264.5 242.7,264.6 242.7,264.4 242.8,264.2 242.8,265.3 242.8,265.8 242.9,265.5 242.9,265.6 242.9,265.4 243.0,264.4 243.0,264.1 243.0,263.7 243.1,262.7 243.1,261.5 243.1,260.6 243.2,260.1 243.2,261.0 243.2,261.0 243.3,261.4 243.3,262.0 243.4,263.5 243.4,264.1 243.4,264.0 243.5,264.8 243.5,264.9 243.5,263.5 243.6,263.7 243.6,262.7 243.6,261.5 243.7,261.5 243.7,261.5 243.7,261.5 243.8,261.8 243.8,261.7 243.8,261.2 243.9,262.1 243.9,262.3 244.0,263.2 244.0,264.2 244.0,264.1 244.1,264.0 244.1,264.4 244.1,265.2 244.2,265.3 244.2,265.6 244.2,265.4 244.3,266.0 244.3,265.4 244.3,265.8 244.4,264.0 244.4,264.6 244.4,264.8 244.5,264.4 244.5,263.7 244.5,264.5 244.6,259.4 244.6,262.2 244.7,264.4 244.7,267.6 244.7,270.9 244.8,272.6 244.8,276.1 244.8,277.6 244.9,277.7 244.9,278.5 244.9,277.8 245.0,275.5 245.0,271.9 245.0,268.1 245.1,264.9 245.1,259.5 245.1,255.6 245.2,252.1 245.2,247.8 245.3,246.4 245.3,244.5 245.3,244.9 245.4,245.9 245.4,248.0 245.4,250.3 245.5,253.9 245.5,257.6 245.5,261.2 245.6,264.9 245.6,268.0 245.6,270.1 245.7,272.1 245.7,272.7 245.7,271.6 245.8,270.7 245.8,268.3 245.9,266.0 245.9,264.7 245.9,262.1 246.0,263.0 246.0,262.4 246.0,262.9 246.1,263.5 246.1,263.8 246.1,264.2 246.2,262.8 246.2,263.5 246.2,263.0 246.3,262.4 246.3,261.8 246.3,262.2 246.4,260.2 246.4,261.0 246.5,260.8 246.5,260.6 246.5,260.6 246.6,260.8 246.6,260.6 246.6,260.8 246.7,260.9 246.7,261.3 246.7,261.3 246.8,262.3 246.8,261.3 246.8,262.0 246.9,263.1 246.9,262.7 246.9,262.8 247.0,262.9 247.0,263.4 247.0,263.0 247.1,264.2 247.1,264.5 247.2,264.1 247.2,264.7 247.2,264.7 247.3,264.9 247.3,264.7 247.3,265.8 247.4,264.8 247.4,265.9 247.4,265.2 247.5,263.8 247.5,263.2 247.5,262.5 247.6,260.7 247.6,260.5 247.6,260.0 247.7,260.4 247.7,261.9 247.8,263.8 247.8,265.4 247.8,266.4 247.9,266.7 247.9,264.8 247.9,263.3 248.0,261.5 248.0,259.1 248.0,260.8 248.1,262.4 248.1,264.6 248.1,265.4 248.2,265.7 248.2,265.0 248.2,262.5 248.3,260.9 248.3,260.3 248.4,260.2 248.4,261.6 248.4,263.6 248.5,265.0 248.5,265.5 248.5,265.2 248.6,264.4 248.6,263.1 248.6,262.4 248.7,261.3 248.7,261.0 248.7,260.3 248.8,260.1 248.8,260.6 248.8,260.7 248.9,260.7 248.9,261.8 249.0,262.6 249.0,262.8 249.0,263.0 249.1,263.6 249.1,263.7 249.1,263.5 249.2,263.8 249.2,269.8 249.2,272.9 249.3,274.8 249.3,276.9 249.3,279.7 249.4,280.0 249.4,279.9 249.4,277.3 249.5,275.1 249.5,270.9 249.6,267.4 249.6,261.8 249.6,257.9 249.7,254.1 249.7,250.5 249.7,247.1 249.8,245.8 249.8,245.6 249.8,244.9 249.9,247.8 249.9,249.4 249.9,252.1 250.0,254.3 250.0,258.2 250.0,260.9 250.1,263.5 250.1,266.1 250.1,267.8 250.2,267.4 250.2,269.0 250.3,267.7 250.3,268.2 250.3,266.8 250.4,265.7 250.4,264.7 250.4,263.2 250.5,262.2 250.5,262.2 250.5,261.3 250.6,261.1 250.6,260.2 250.6,260.6 250.7,260.6 250.7,261.8 250.7,262.8 250.8,263.2 250.8,263.0 250.9,262.8 250.9,263.8 250.9,264.7 251.0,264.8 251.0,265.1 251.0,264.5 251.1,264.9 251.1,265.5 251.1,264.5 251.2,264.3 251.2,263.8 251.2,263.8 251.3,263.1 251.3,263.1 251.3,262.4 251.4,262.6 251.4,261.3 251.5,261.8 251.5,262.4 251.5,260.8 251.6,261.1 251.6,261.0 251.6,262.0 251.7,262.2 251.7,263.1 251.7,263.8 251.8,263.8 251.8,264.8 251.8,264.5 251.9,264.3 251.9,264.1 251.9,264.3 252.0,263.5 252.0,262.5 252.1,262.0 252.1,261.1 252.1,260.5 252.2,260.9 252.2,261.4 252.2,261.5 252.3,262.3 252.3,262.7 252.3,262.8 252.4,263.9 252.4,265.3 252.4,265.2 252.5,264.8 252.5,265.2 252.5,264.1 252.6,264.1 252.6,263.6 252.6,262.0 252.7,260.8 252.7,261.5 252.8,260.2 252.8,259.9 252.8,260.8 252.9,260.0 252.9,259.9 252.9,260.2 253.0,261.4 253.0,262.1 253.0,262.6 253.1,263.0 253.1,262.7 253.1,264.0 253.2,264.2 253.2,263.6 253.2,265.4 253.3,264.4 253.3,264.6 253.4,265.0 253.4,265.5 253.4,265.0 253.5,265.7 253.5,265.0 253.5,266.1 253.6,265.8 253.6,265.3 253.6,265.9 253.7,265.4 253.7,266.0 253.7,266.0 253.8,266.5 253.8,271.4 253.8,273.0 253.9,275.9 253.9,278.4 254.0,281.4 254.0,281.4 254.0,281.0 254.1,279.8 254.1,277.9 254.1,275.1 254.2,271.3 254.2,267.0 254.2,263.3 254.3,259.1 254.3,255.4 254.3,252.7 254.4,250.8 254.4,250.1 254.4,250.1 254.5,250.4 254.5,252.2 254.6,255.1 254.6,258.4 254.6,260.9 254.7,263.3 254.7,265.3 254.7,267.1 254.8,268.2 254.8,267.9 254.8,268.3 254.9,268.2 254.9,266.5 254.9,265.9 255.0,264.9 255.0,264.4 255.0,263.9 255.1,263.8 255.1,263.8 255.2,264.1 255.2,264.9 255.2,264.1 255.3,264.1 255.3,264.3 255.3,263.0 255.4,262.2 255.4,262.0 255.4,261.3 255.5,260.4 255.5,260.6 255.5,260.7 255.6,260.5 255.6,260.1 255.6,260.9 255.7,262.8 255.7,263.0 255.7,264.3 255.8,265.5 255.8,265.6 255.9,265.7 255.9,264.9 255.9,265.6 256.0,263.8 256.0,263.3 256.0,261.8 256.1,261.2 256.1,261.1 256.1,260.4 256.2,260.5 256.2,260.4 256.2,260.3 256.3,261.5 256.3,261.4 256.3,262.5 256.4,263.0 256.4,263.5 256.5,263.7 256.5,264.6 256.5,264.8 256.6,264.1 256.6,264.9 256.6,265.1 256.7,264.7 256.7,264.9 256.7,263.6 256.8,263.3 256.8,262.7 256.8,262.7 256.9,262.0 256.9,261.2 256.9,260.7 257.0,261.3 257.0,260.9 257.1,261.5 257.1,261.6 257.1,261.7 257.2,262.2 257.2,263.8 257.2,264.8 257.3,264.7 257.3,265.4 257.3,265.1 257.4,265.6 257.4,265.3 257.4,263.5 257.5,263.6 257.5,263.0 257.5,261.8 257.6,261.9 257.6,261.1 257.7,260.7 257.7,260.9 257.7,261.1 257.8,260.2 257.8,260.2 257.8,260.1 257.9,260.8 257.9,261.3 257.9,261.7 258.0,261.8 258.0,262.0 258.0,262.1 258.1,263.2 258.1,262.4 258.1,264.4 258.2,264.9 258.2,265.4 258.2,265.0 258.3,264.8 258.3,265.2 258.4,268.1 258.4,270.8 258.4,272.5 258.5,275.0 258.5,276.8 258.5,277.1 258.6,276.0 258.6,275.7 258.6,272.7 258.7,269.8 258.7,266.3 258.7,263.1 258.8,259.5 258.8,254.9 258.8,252.4 258.9,249.8 258.9,249.0 259.0,248.4 259.0,249.1 259.0,250.2 259.1,253.4 259.1,255.2 259.1,259.3 259.2,261.3 259.2,264.6 259.2,267.3 259.3,268.8 259.3,270.1 259.3,270.0 259.4,269.4 259.4,268.3 259.4,269.0 259.5,266.1 259.5,264.2 259.6,263.3 259.6,262.9 259.6,261.3 259.7,261.1 259.7,260.3 259.7,260.1 259.8,260.4 259.8,260.7 259.8,261.4 259.9,261.7 259.9,262.9 259.9,263.6 260.0,263.5 260.0,263.6 260.0,264.3 260.1,264.5 260.1,264.2 260.2,264.7 260.2,264.9 260.2,264.7 260.3,264.1 260.3,263.3 260.3,262.3 260.4,262.5 260.4,260.6 260.4,261.0 260.5,260.6 260.5,261.4 260.5,261.0 260.6,262.7 260.6,263.0 260.6,263.2 260.7,263.2 260.7,264.1 260.8,264.6 260.8,264.4 260.8,265.2 260.9,265.0 260.9,265.2 260.9,264.6 261.0,265.7 261.0,265.3 261.0,265.2 261.1,265.8 261.1,265.0 261.1,265.7 261.2,266.0 261.2,265.2 261.2,265.5 261.3,265.2 261.3,265.6 261.3,265.9 261.4,264.8 261.4,265.7 261.5,265.4 261.5,265.7 261.5,265.2 261.6,265.9 261.6,265.4 261.6,264.9 261.7,264.9 261.7,265.6 261.7,264.7 261.8,265.4 261.8,264.9 261.8,265.1 261.9,264.5 261.9,265.3 261.9,265.5 262.0,265.9 262.0,265.2 262.1,265.4 262.1,265.7 262.1,265.1 262.2,265.7 262.2,265.1 262.2,264.9 262.3,265.2 262.3,263.8 262.3,263.0 262.4,263.4 262.4,262.5 262.4,262.4 262.5,260.9 262.5,261.2 262.5,260.4 262.6,261.3 262.6,260.8 262.7,261.6 262.7,262.0 262.7,262.8 262.8,262.7 262.8,262.6 262.8,263.9 262.9,264.2 262.9,266.1 262.9,268.5 263.0,272.6 263.0,276.4 263.0,278.3 263.1,280.2 263.1,280.8 263.1,279.0 263.2,278.8 263.2,276.1 263.3,271.5 263.3,268.1 263.3,263.2 263.4,258.8 263.4,254.8 263.4,251.5 263.5,249.8 263.5,248.4 263.5,248.1 263.6,247.8 263.6,249.7 263.6,250.9 263.7,252.8 263.7,254.5 263.7,257.5 263.8,258.6 263.8,261.1 263.8,264.0 263.9,266.6 263.9,268.6 264.0,270.9 264.0,272.5 264.0,272.9 264.1,272.0 264.1,270.3 264.1,268.7 264.2,264.7 264.2,263.2 264.2,260.1 264.3,259.8 264.3,260.2 264.3,259.8 264.4,259.5 264.4,261.4 264.4,262.1 264.5,264.9 264.5,265.1 264.6,265.0 264.6,264.2 264.6,263.1 264.7,261.8 264.7,260.1 264.7,261.1 264.8,260.1 264.8,261.0 264.8,262.1 264.9,262.3 264.9,263.9 264.9,264.7 265.0,265.3 265.0,265.6 265.0,264.7 265.1,264.4 265.1,263.8 265.2,262.8 265.2,262.5 265.2,261.1 265.3,260.9 265.3,260.8 265.3,260.9 265.4,260.4 265.4,261.3 265.4,261.4 265.5,261.9 265.5,264.1 265.5,263.3 265.6,264.0 265.6,264.0 265.6,264.9 265.7,265.5 265.7,265.0 265.8,264.4 265.8,264.2 265.8,264.1 265.9,262.6 265.9,262.4 265.9,261.4 266.0,260.9 266.0,261.1 266.0,260.3 266.1,259.9 266.1,259.8 266.1,260.6 266.2,260.7 266.2,260.4 266.2,261.0 266.3,262.0 266.3,261.8 266.4,262.0 266.4,262.4 266.4,261.9 266.5,262.6 266.5,263.2 266.5,263.1 266.6,263.6 266.6,263.8 266.6,263.5 266.7,264.1 266.7,263.7 266.7,263.0 266.8,263.7 266.8,263.9 266.8,263.5 266.9,263.9 266.9,263.9 266.9,263.4 267.0,264.1 267.0,264.8 267.1,264.9 267.1,264.3 267.1,264.2 267.2,264.3 267.2,265.2 267.2,264.7 267.3,264.3 267.3,265.1 267.3,265.3 267.4,264.7 267.4,263.1 267.4,267.2 267.5,269.5 267.5,273.0 267.5,276.3 267.6,277.2 267.6,280.7 267.7,280.7 267.7,280.6 267.7,278.9 267.8,277.0 267.8,273.1 267.8,268.3 267.9,263.4 267.9,257.8 267.9,253.1 268.0,249.7 268.0,245.9 268.0,244.6 268.1,245.0 268.1,245.3 268.1,247.6 268.2,251.2 268.2,253.9 268.3,257.1 268.3,260.6 268.3,262.9 268.4,265.4 268.4,266.1 268.4,267.8 268.5,268.0 268.5,267.9 268.5,268.2 268.6,268.6 268.6,268.0 268.6,267.2 268.7,265.9 268.7,265.9 268.7,263.7 268.8,264.4 268.8,263.1 268.9,262.9 268.9,262.8 268.9,262.6 269.0,263.5 269.0,264.4 269.0,263.9 269.1,264.4 269.1,263.8 269.1,263.9 269.2,264.5 269.2,265.3 269.2,264.9 269.3,265.2 269.3,265.1 269.3,264.2 269.4,263.8 269.4,264.4 269.4,264.6 269.5,263.5 269.5,265.3 269.6,265.0 269.6,265.5 269.6,264.9 269.7,265.8 269.7,265.0 269.7,266.0 269.8,264.9 269.8,265.2 269.8,265.0 269.9,264.7 269.9,263.9 269.9,264.5 270.0,263.5 270.0,262.7 270.0,262.3 270.1,261.5 270.1,261.2 270.2,260.6 270.2,260.2 270.2,260.9 270.3,259.5 270.3,260.4 270.3,260.9 270.4,260.9 270.4,260.4 270.4,261.0 270.5,260.6 270.5,260.8 270.5,259.9 270.6,260.6 270.6,260.6 270.6,261.2 270.7,260.6 270.7,262.1 270.8,262.8 270.8,263.6 270.8,264.2 270.9,264.8 270.9,265.9 270.9,264.7 271.0,264.4 271.0,264.4 271.0,262.6 271.1,261.9 271.1,261.0 271.1,261.3 271.2,262.2 271.2,262.9 271.2,262.8 271.3,264.9 271.3,265.0 271.4,263.3 271.4,262.4 271.4,262.1 271.5,261.7 271.5,261.3 271.5,263.1 271.6,264.5 271.6,264.3 271.6,263.3 271.7,263.0 271.7,262.3 271.7,261.5 271.8,260.8 271.8,261.9 271.8,262.9 271.9,264.2 271.9,268.1 271.9,270.4 272.0,273.5 272.0,275.9 272.1,277.2 272.1,278.0 272.1,278.5 272.2,277.7 272.2,277.3 272.2,274.0 272.3,270.5 272.3,267.5 272.3,263.4 272.4,257.7 272.4,254.6 272.4,251.0 272.5,248.2 272.5,246.1 272.5,245.6 272.6,245.9 272.6,247.6 272.7,249.3 272.7,252.0 272.7,255.4 272.8,257.0 272.8,260.0 272.8,262.5 272.9,264.3 272.9,266.6 272.9,267.8 273.0,268.3 273.0,267.9 273.0,267.8 273.1,268.1 273.1,266.7 273.1,266.7 273.2,264.9 273.2,265.4 273.3,264.6 273.3,264.7 273.3,263.0 273.4,261.9 273.4,261.4 273.4,260.7 273.5,259.4 273.5,260.4 273.5,261.2 273.6,262.1 273.6,263.3 273.6,263.9 273.7,265.2 273.7,263.7 273.7,263.1 273.8,261.8 273.8,260.5 273.9,261.5 273.9,262.5 273.9,264.7 274.0,265.2 274.0,265.1 274.0,262.6 274.1,261.4 274.1,259.7 274.1,261.0 274.2,262.1 274.2,264.6 274.2,265.3 274.3,264.8 274.3,263.8 274.3,262.7 274.4,261.0 274.4,261.2 274.5,261.1 274.5,261.3 274.5,262.2 274.6,263.2 274.6,263.3 274.6,263.2 274.7,264.3 274.7,264.5 274.7,264.4 274.8,265.5 274.8,264.5 274.8,265.0 274.9,264.9 274.9,265.5 274.9,265.7 275.0,265.1 275.0,266.0 275.0,265.7 275.1,265.3 275.1,264.8 275.2,264.2 275.2,264.2 275.2,263.9 275.3,264.3 275.3,263.8 275.3,262.6 275.4,262.9 275.4,261.7 275.4,261.3 275.5,261.3 275.5,261.1 275.5,260.5 275.6,260.4 275.6,261.5 275.6,260.4 275.7,261.6 275.7,260.9 275.8,262.1 275.8,261.6 275.8,261.5 275.9,262.2 275.9,261.6 275.9,261.3 276.0,261.6 276.0,261.0 276.0,261.1 276.1,261.0 276.1,261.7 276.1,260.4 276.2,260.4 276.2,260.8 276.2,261.2 276.3,260.0 276.3,261.1 276.4,262.1 276.4,260.2 276.4,263.0 276.5,265.7 276.5,269.7 276.5,272.9 276.6,274.9 276.6,277.1 276.6,278.4 276.7,277.9 276.7,278.5 276.7,276.6 276.8,273.2 276.8,270.5 276.8,265.5 276.9,261.6 276.9,258.2 277.0,253.6 277.0,252.1 277.0,249.5 277.1,247.7 277.1,248.7 277.1,249.5 277.2,250.9 277.2,253.3 277.2,256.5 277.3,259.2 277.3,261.8 277.3,264.4 277.4,267.1 277.4,268.9 277.4,269.8 277.5,270.5 277.5,271.2 277.5,270.9 277.6,269.6 277.6,269.2 277.7,269.0 277.7,267.2 277.7,265.4 277.8,265.1 277.8,263.1 277.8,262.1 277.9,261.7 277.9,261.5 277.9,259.8 278.0,260.1 278.0,259.1 278.0,259.2 278.1,260.2 278.1,260.0 278.1,261.9 278.2,261.8 278.2,263.0 278.3,264.2 278.3,265.6 278.3,265.6 278.4,265.3 278.4,264.8 278.4,263.8 278.5,262.7 278.5,261.7 278.5,260.9 278.6,260.5 278.6,260.4 278.6,261.4 278.7,262.6 278.7,264.1 278.7,264.7 278.8,264.7 278.8,265.4 278.9,265.0 278.9,264.5 278.9,263.7 279.0,262.3 279.0,262.1 279.0,261.8 279.1,260.6 279.1,261.5 279.1,261.1 279.2,261.3 279.2,261.6 279.2,261.4 279.3,261.3 279.3,262.1 279.3,262.3 279.4,262.8 279.4,263.3 279.5,263.8 279.5,264.6 279.5,263.7 279.6,264.2 279.6,264.2 279.6,262.9 279.7,263.9 279.7,263.2 279.7,262.5 279.8,262.3 279.8,262.6 279.8,261.1 279.9,261.3 279.9,260.4 279.9,260.6 280.0,260.5 280.0,261.2 280.1,261.6 280.1,260.9 280.1,260.7 280.2,261.0 280.2,261.6 280.2,261.2 280.3,261.5 280.3,260.4 280.3,260.8 280.4,260.5 280.4,260.3 280.4,261.3 280.5,260.5 280.5,261.5 280.5,261.6 280.6,262.2 280.6,263.0 280.6,263.0 280.7,264.3 280.7,264.2 280.8,264.3 280.8,265.5 280.8,264.0 280.9,266.0 280.9,268.5 280.9,271.1 281.0,274.1 281.0,277.0 281.0,278.5 281.1,279.4 281.1,280.1 281.1,279.9 281.2,276.7 281.2,273.1 281.2,266.6 281.3,261.5 281.3,256.9 281.4,252.1 281.4,249.3 281.4,247.3 281.5,246.4 281.5,246.7 281.5,248.0 281.6,250.7 281.6,252.0 281.6,253.8 281.7,258.3 281.7,259.7 281.7,262.0 281.8,264.0 281.8,265.8 281.8,267.0 281.9,268.0 281.9,268.8 282.0,269.5 282.0,269.0 282.0,269.2 282.1,268.0 282.1,267.7 282.1,267.7 282.2,266.3 282.2,264.2 282.2,264.6 282.3,262.0 282.3,262.0 282.3,259.9 282.4,259.9 282.4,258.9 282.4,259.7 282.5,259.1 282.5,260.5 282.6,261.4 282.6,262.2 282.6,263.5 282.7,264.5 282.7,265.6 282.7,265.9 282.8,265.4 282.8,265.3 282.8,264.5 282.9,264.1 282.9,262.3 282.9,261.9 283.0,261.4 283.0,261.1 283.0,260.6 283.1,260.5 283.1,260.2 283.1,260.5 283.2,261.9 283.2,262.0 283.3,262.3 283.3,262.7 283.3,263.8 283.4,263.5 283.4,263.8 283.4,264.0 283.5,264.2 283.5,264.7 283.5,265.0 283.6,265.1 283.6,265.0 283.6,264.7 283.7,264.1 283.7,264.9 283.7,265.0 283.8,264.8 283.8,265.1 283.9,265.5 283.9,264.8 283.9,264.8 284.0,264.2 284.0,264.7 284.0,264.1 284.1,264.0 284.1,263.9 284.1,263.1 284.2,262.5 284.2,262.0 284.2,261.7 284.3,260.6 284.3,260.6 284.3,260.6 284.4,260.8 284.4,261.9 284.5,262.7 284.5,263.6 284.5,265.4 284.6,266.0 284.6,265.7 284.6,265.3 284.7,264.9 284.7,263.6 284.7,262.8 284.8,261.9 284.8,260.4 284.8,261.3 284.9,259.5 284.9,259.7 284.9,260.7 285.0,261.5 285.0,261.9 285.1,262.7 285.1,263.4 285.1,263.8 285.2,264.3 285.2,264.4 285.2,267.4 285.3,271.1 285.3,273.7 285.3,277.4 285.4,279.7 285.4,281.2 285.4,282.3 285.5,281.5 285.5,280.9 285.5,277.8 285.6,273.1 285.6,269.8 285.7,264.1 285.7,258.7 285.7,254.9 285.8,250.7 285.8,247.3 285.8,244.7 285.9,242.9 285.9,243.6 285.9,245.1 286.0,247.3 286.0,250.8 286.0,253.6 286.1,256.8 286.1,260.8 286.1,264.1 286.2,267.5 286.2,270.2 286.2,271.3 286.3,272.7 286.3,273.3 286.4,272.4 286.4,270.6 286.4,269.5 286.5,267.1 286.5,264.4 286.5,262.1 286.6,260.7 286.6,260.1 286.6,258.9 286.7,258.8 286.7,259.3 286.7,259.8 286.8,260.6 286.8,261.2 286.8,262.7 286.9,263.9 286.9,264.9 287.0,265.7 287.0,265.4 287.0,266.6 287.1,265.1 287.1,265.5 287.1,265.6 287.2,265.7 287.2,265.8 287.2,265.1 287.3,266.1 287.3,264.8 287.3,264.3 287.4,264.0 287.4,264.9 287.4,264.5 287.5,264.0 287.5,263.9 287.6,263.5 287.6,262.6 287.6,262.4 287.7,260.9 287.7,261.6 287.7,262.1 287.8,262.2 287.8,261.6 287.8,262.1 287.9,262.5 287.9,263.0 287.9,263.1 288.0,263.4 288.0,263.9 288.0,263.8 288.1,264.8 288.1,264.1 288.2,264.4 288.2,264.5 288.2,264.8 288.3,264.3 288.3,264.6 288.3,264.7 288.4,264.1 288.4,265.3 288.4,265.0 288.5,264.0 288.5,264.8 288.5,263.9 288.6,263.0 288.6,262.1 288.6,261.2 288.7,261.4 288.7,260.8 288.7,260.9 288.8,260.5 288.8,261.4 288.9,262.1 288.9,262.9 288.9,263.5 289.0,265.0 289.0,265.6 289.0,265.8 289.1,264.7 289.1,264.8 289.1,263.5 289.2,263.4 289.2,261.6 289.2,259.6 289.3,260.2 289.3,260.5 289.3,260.3 289.4,261.2 289.4,262.6 289.5,262.2 289.5,264.1 289.5,264.7 289.6,265.4 289.6,265.7 289.6,276.1 289.7,279.0 289.7,281.8 289.7,282.7 289.8,283.4 289.8,282.1 289.8,280.1 289.9,276.8 289.9,272.1 289.9,267.4 290.0,262.4 290.0,258.2 290.1,253.8 290.1,250.3 290.1,246.9 290.2,244.8 290.2,244.4 290.2,246.8 290.3,247.6 290.3,250.5 290.3,253.0 290.4,256.9 290.4,259.3 290.4,263.2 290.5,266.2 290.5,268.6 290.5,269.9 290.6,272.4 290.6,271.9 290.7,270.6 290.7,269.8 290.7,267.9 290.8,266.2 290.8,264.5 290.8,262.5 290.9,261.2 290.9,262.1 290.9,261.5 291.0,261.8 291.0,262.2 291.0,264.1 291.1,262.8 291.1,263.5 291.1,262.8 291.2,261.3 291.2,260.5 291.3,260.6 291.3,260.7 291.3,261.5 291.4,262.7 291.4,264.3 291.4,265.0 291.5,264.9 291.5,264.4 291.5,264.8 291.6,263.3 291.6,262.0 291.6,261.5 291.7,260.2 291.7,261.3 291.7,261.5 291.8,262.0 291.8,262.0 291.8,261.3 291.9,262.5 291.9,263.0 292.0,263.1 292.0,263.3 292.0,263.7 292.1,263.5 292.1,263.4 292.1,263.7 292.2,263.0 292.2,263.6 292.2,263.0 292.3,262.3 292.3,262.1 292.3,262.3 292.4,261.2 292.4,261.3 292.4,260.7 292.5,260.2 292.5,260.4 292.6,260.7 292.6,260.8 292.6,261.1 292.7,261.3 292.7,262.1 292.7,261.5 292.8,262.7 292.8,261.9 292.8,262.0 292.9,262.7 292.9,262.6 292.9,262.3 293.0,262.6 293.0,262.3 293.0,262.3 293.1,261.4 293.1,262.6 293.2,261.5 293.2,261.0 293.2,260.5 293.3,260.5 293.3,260.7 293.3,260.9 293.4,262.3 293.4,262.2 293.4,264.3 293.5,264.2 293.5,264.0 293.5,264.7 293.6,264.2 293.6,261.9 293.6,261.5 293.7,260.7 293.7,261.4 293.8,262.5 293.8,263.7 293.8,265.1 293.9,264.6 293.9,264.7 293.9,263.3 294.0,261.8 294.0,257.2 294.0,259.1 294.1,262.8 294.1,266.9 294.1,271.5 294.2,276.4 294.2,278.8 294.2,281.9 294.3,283.3 294.3,282.6 294.3,282.1 294.4,279.4 294.4,275.7 294.5,270.7 294.5,265.8 294.5,260.1 294.6,255.7 294.6,251.3 294.6,247.8 294.7,245.3 294.7,244.2 294.7,244.4 294.8,245.7 294.8,248.3 294.8,250.4 294.9,254.0 294.9,257.7 294.9,261.2 295.0,263.7 295.0,266.1 295.1,266.9 295.1,268.6 295.1,268.4 295.2,268.0 295.2,266.9 295.2,266.2 295.3,264.7 295.3,264.2 295.3,263.9 295.4,263.5 295.4,263.8 295.4,263.9 295.5,265.2 295.5,264.0 295.5,263.7 295.6,262.9 295.6,261.9 295.7,260.8 295.7,259.4 295.7,260.6 295.8,262.3 295.8,263.5 295.8,265.1 295.9,265.6 295.9,264.2 295.9,264.0 296.0,262.0 296.0,260.8 296.0,260.4 296.1,260.8 296.1,262.2 296.1,263.9 296.2,265.1 296.2,265.7 296.3,265.3 296.3,264.0 296.3,262.6 296.4,261.8 296.4,261.9 296.4,261.2 296.5,260.7 296.5,262.0 296.5,260.6 296.6,261.3 296.6,261.4 296.6,261.3 296.7,260.5 296.7,260.6 296.7,261.1 296.8,261.1 296.8,261.6 296.9,260.9 296.9,261.3 296.9,260.5 297.0,261.0 297.0,261.1 297.0,260.2 297.1,261.0 297.1,260.6 297.1,261.1 297.2,261.8 297.2,263.1 297.2,263.6 297.3,263.3 297.3,264.1 297.3,265.0 297.4,265.6 297.4,265.8 297.4,266.0 297.5,266.1 297.5,265.7 297.6,265.8 297.6,265.6 297.6,266.3 297.7,265.2 297.7,265.4 297.7,265.0 297.8,265.2 297.8,264.5 297.8,265.4 297.9,264.9 297.9,264.3 297.9,264.3 298.0,263.6 298.0,263.8 298.0,263.1 298.1,262.2 298.1,261.4 298.2,261.0 298.2,261.0 298.2,260.5 298.3,260.7 298.3,261.2 298.3,259.4 298.4,261.3 298.4,265.0 298.4,269.0 298.5,272.8 298.5,276.1 298.5,277.9 298.6,278.4 298.6,278.6 298.6,277.8 298.7,277.4 298.7,275.0 298.8,273.3 298.8,270.9 298.8,267.7 298.9,263.8 298.9,258.4 298.9,253.2 299.0,248.7 299.0,245.4 299.0,243.8 299.1,243.7 299.1,246.2 299.1,248.9 299.2,252.0 299.2,257.6 299.2,260.8 299.3,263.0 299.3,264.5 299.4,266.7 299.4,268.5 299.4,268.1 299.5,267.5 299.5,267.9 299.5,267.7 299.6,265.8 299.6,265.7 299.6,264.7 299.7,263.7 299.7,263.6 299.7,263.1 299.8,262.4 299.8,262.7 299.8,262.3 299.9,261.8 299.9,262.2 299.9,263.2 300.0,262.6 300.0,263.6 300.1,263.1 300.1,264.1 300.1,264.9 300.2,265.2 300.2,264.5 300.2,265.2 300.3,265.2 300.3,265.3 300.3,265.3 300.4,264.8 300.4,265.5 300.4,264.7 300.5,266.1 300.5,265.2 300.5,265.4 300.6,264.9 300.6,264.4 300.7,264.7 300.7,264.8 300.7,263.9 300.8,264.1 300.8,263.7 300.8,262.8 300.9,261.9 300.9,261.6 300.9,262.0 301.0,261.4 301.0,260.9 301.0,260.1 301.1,260.3 301.1,260.1 301.1,260.4 301.2,261.8 301.2,263.4 301.3,263.0 301.3,263.9 301.3,264.2 301.4,264.9 301.4,265.6 301.4,265.9 301.5,266.3 301.5,265.4 301.5,264.7 301.6,264.2 301.6,263.1 301.6,262.4 301.7,261.0 301.7,261.0 301.7,261.0 301.8,260.5 301.8,260.4 301.9,260.4 301.9,262.2 301.9,262.2 302.0,262.6 302.0,263.8 302.0,264.1 302.1,265.4 302.1,265.1 302.1,265.0 302.2,264.7 302.2,264.3 302.2,263.8 302.3,263.9 302.3,261.9 302.3,262.1 302.4,261.0 302.4,260.9 302.4,260.5 302.5,259.2 302.5,259.7 302.6,260.0 302.6,260.4 302.6,261.4 302.7,269.5 302.7,272.8 302.7,276.1 302.8,277.7 302.8,279.2 302.8,279.6 302.9,278.9 302.9,277.2 302.9,273.5 303.0,270.1 303.0,265.8 303.0,261.6 303.1,257.2 303.1,254.5 303.2,250.7 303.2,248.7 303.2,248.5 303.3,247.8 303.3,249.7 303.3,251.3 303.4,253.3 303.4,256.7 303.4,260.2 303.5,262.1 303.5,264.2 303.5,265.5 303.6,267.1 303.6,268.2 303.6,268.4 303.7,267.3 303.7,267.1 303.8,267.9 303.8,266.1 303.8,266.2 303.9,264.6 303.9,264.5 303.9,264.5 304.0,265.0 304.0,264.4 304.0,263.7 304.1,263.8 304.1,264.0 304.1,263.7 304.2,262.8 304.2,262.1 304.2,262.1 304.3,261.8 304.3,261.9 304.4,261.7 304.4,262.4 304.4,261.3 304.5,261.8 304.5,260.8 304.5,261.5 304.6,260.8 304.6,260.6 304.6,261.2 304.7,261.3 304.7,260.4 304.7,261.1 304.8,261.1 304.8,261.4 304.8,261.1 304.9,261.8 304.9,261.6 305.0,261.0 305.0,261.2 305.0,261.3 305.1,261.2 305.1,260.9 305.1,261.2 305.2,261.0 305.2,261.5 305.2,262.1 305.3,262.5 305.3,262.4 305.3,263.0 305.4,263.5 305.4,264.0 305.4,264.7 305.5,265.0 305.5,265.8 305.5,266.2 305.6,267.0 305.6,266.2 305.7,266.3 305.7,265.7 305.7,266.1 305.8,265.1 305.8,263.8 305.8,264.1 305.9,262.8 305.9,262.5 305.9,260.9 306.0,260.3 306.0,260.6 306.0,260.8 306.1,259.8 306.1,260.6 306.1,259.8 306.2,260.8 306.2,262.0 306.3,262.3 306.3,262.0 306.3,262.8 306.4,263.3 306.4,263.4 306.4,264.1 306.5,263.8 306.5,263.9 306.5,264.3 306.6,264.6 306.6,265.1 306.6,265.5 306.7,264.8 306.7,264.5 306.7,264.7 306.8,264.0 306.8,262.4 306.9,262.4 306.9,261.8 306.9,261.3 307.0,267.8 307.0,270.1 307.0,273.4 307.1,276.3 307.1,277.3 307.1,279.2 307.2,279.5 307.2,277.4 307.2,275.3 307.3,271.9 307.3,267.6 307.3,262.9 307.4,258.6 307.4,254.0 307.5,249.9 307.5,248.2 307.5,245.7 307.6,246.0 307.6,246.7 307.6,248.6 307.7,251.2 307.7,255.2 307.7,258.4 307.8,262.3 307.8,265.9 307.8,267.9 307.9,269.1 307.9,268.9 307.9,269.6 308.0,268.8 308.0,267.0 308.0,266.3 308.1,264.7 308.1,264.3 308.2,263.8 308.2,262.4 308.2,262.8 308.3,263.6 308.3,263.4 308.3,264.2 308.4,263.6 308.4,264.2 308.4,264.2 308.5,263.9 308.5,263.9 308.5,262.8 308.6,262.4 308.6,261.6 308.6,262.5 308.7,262.0 308.7,262.4 308.8,261.0 308.8,260.9 308.8,260.9 308.9,261.4 308.9,261.4 308.9,260.4 309.0,260.9 309.0,260.6 309.0,260.3 309.1,260.5 309.1,260.8 309.1,260.7 309.2,260.7 309.2,261.0 309.2,260.8 309.3,261.1 309.3,261.0 309.4,260.8 309.4,260.7 309.4,261.0 309.5,261.2 309.5,261.6 309.5,262.1 309.6,262.7 309.6,262.6 309.6,263.4 309.7,263.4 309.7,263.6 309.7,263.4 309.8,263.9 309.8,264.8 309.8,264.9 309.9,264.1 309.9,264.5 310.0,265.6 310.0,264.9 310.0,265.2 310.1,265.4 310.1,265.4 310.1,265.6 310.2,265.9 310.2,265.1 310.2,265.1 310.3,265.1 310.3,266.0 310.3,265.1 310.4,266.1 310.4,265.1 310.4,265.3 310.5,264.6 310.5,264.5 310.6,264.1 310.6,263.8 310.6,263.7 310.7,263.1 310.7,263.0 310.7,263.0 310.8,263.0 310.8,262.7 310.8,262.2 310.9,261.7 310.9,261.9 310.9,261.3 311.0,261.9 311.0,261.6 311.0,262.8 311.1,262.0 311.1,262.9 311.1,263.3 311.2,263.8 311.2,265.9 311.3,268.2 311.3,271.4 311.3,274.1 311.4,276.3 311.4,277.5 311.4,278.1 311.5,278.2 311.5,276.8 311.5,273.8 311.6,270.7 311.6,267.0 311.6,263.1 311.7,259.5 311.7,256.1 311.7,252.9 311.8,250.4 311.8,248.7 311.9,247.9 311.9,249.5 311.9,251.0 312.0,253.0 312.0,254.9 312.0,258.0 312.1,260.7 312.1,262.3" fill="none" stroke="#ff0000" stroke-width="1.15" stroke-linejoin="round"/></g>
<g clip-path="url(#c12)"><polyline points="390.5,245.5 391.0,280.3 391.5,269.7 392.1,268.9 392.6,276.3 393.1,266.6 393.6,262.9 394.2,270.2 394.7,242.2 395.2,261.5 395.7,266.6 396.3,263.6 396.8,268.2 397.3,262.8 397.8,269.5 398.4,270.0 398.9,259.8 399.4,270.1 399.9,263.4 400.5,266.2 401.0,270.6 401.5,261.1 402.0,273.9 402.6,256.0 403.1,261.6 403.6,254.9 404.1,246.6 404.7,256.3 405.2,247.1 405.7,267.0 406.2,254.3 406.8,254.6 407.3,253.4 407.8,270.1 408.3,272.2 408.9,258.5 409.4,261.9 409.9,264.4 410.4,284.9 411.0,272.9 411.5,262.8 412.0,277.3 412.5,266.3 413.1,257.8 413.6,272.6 414.1,248.4 414.6,263.4 415.2,257.8 415.7,270.9 416.2,254.9 416.7,252.3 417.3,269.1 417.8,260.0 418.3,252.0 418.8,276.8 419.3,266.3 419.9,270.2 420.4,263.0 420.9,269.0 421.4,252.6 422.0,266.5 422.5,276.8 423.0,256.0 423.5,260.5 424.1,278.2 424.6,258.5 425.1,258.5 425.6,264.1 426.2,284.9 426.7,264.9 427.2,270.1 427.7,256.5 428.3,268.9 428.8,264.0 429.3,269.5 429.8,257.2 430.4,261.8 430.9,263.0 431.4,262.5 431.9,269.5 432.5,258.8 433.0,249.9 433.5,257.1 434.0,256.7 434.6,270.6 435.1,260.1 435.6,255.1 436.1,256.6 436.7,254.2 437.2,268.0 437.7,271.0 438.2,259.4 438.8,271.2 439.3,273.6 439.8,260.5 440.3,262.3 440.9,255.9 441.4,260.2 441.9,271.5 442.4,260.1 443.0,276.4 443.5,248.8 444.0,255.6 444.5,271.9 445.1,257.2 445.6,253.6 446.1,258.7 446.6,265.6 447.1,272.1 447.7,255.4 448.2,252.0 448.7,256.5 449.2,257.0 449.8,262.0 450.3,250.8 450.8,272.3 451.3,258.6 451.9,260.7 452.4,249.9 452.9,260.6 453.4,268.8 454.0,264.5 454.5,259.0 455.0,253.1 455.5,278.5 456.1,266.1 456.6,262.9 457.1,239.0 457.6,261.8 458.2,270.6 458.7,270.2 459.2,277.3 459.7,257.2 460.3,270.8 460.8,264.6 461.3,257.5 461.8,253.3 462.4,258.8 462.9,260.7 463.4,254.6 463.9,255.5 464.5,274.8 465.0,267.2 465.5,260.3 466.0,277.3 466.6,275.7 467.1,284.9 467.6,274.7 468.1,266.1 468.7,278.2 469.2,266.6 469.7,272.7 470.2,269.3 470.8,271.8 471.3,264.8 471.8,271.1 472.3,256.1 472.8,262.2 473.4,280.4 473.9,270.5 474.4,267.8 474.9,270.0 475.5,259.8 476.0,252.9 476.5,266.4 477.0,274.2 477.6,272.2 478.1,256.5 478.6,257.3 479.1,258.2 479.7,251.6 480.2,275.4 480.7,260.4 481.2,253.8 481.8,263.8 482.3,259.4 482.8,251.8 483.3,258.1 483.9,241.9 484.4,258.5 484.9,256.0 485.4,259.8 486.0,254.6 486.5,262.4 487.0,266.7 487.5,273.6 488.1,246.6 488.6,262.2 489.1,246.4 489.6,268.9 490.2,272.2 490.7,254.0 491.2,277.1 491.7,256.6 492.3,272.1 492.8,268.9 493.3,273.9 493.8,278.2 494.4,255.0 494.9,249.9 495.4,269.9 495.9,256.5 496.5,268.4 497.0,260.9 497.5,258.5 498.0,252.2 498.6,267.7 499.1,246.8 499.6,257.3 500.1,256.3 500.6,267.4 501.2,265.6 501.7,261.6 502.2,263.6 502.7,257.9 503.3,266.2 503.8,269.5 504.3,264.4 504.8,256.3 505.4,280.5 505.9,257.8 506.4,258.9 506.9,275.5 507.5,273.8 508.0,254.3 508.5,256.9 509.0,258.2 509.6,257.7 510.1,264.9 510.6,270.9 511.1,252.3 511.7,239.0 512.2,256.8 512.7,269.1 513.2,265.9 513.8,253.4 514.3,257.3 514.8,254.3 515.3,250.0 515.9,262.3 516.4,255.7 516.9,272.3 517.4,247.4 518.0,240.3 518.5,258.2 519.0,271.5 519.5,251.8 520.1,241.6 520.6,247.7 521.1,273.2 521.6,256.4 522.2,271.5 522.7,262.5 523.2,251.4 523.7,247.0 524.3,261.4 524.8,279.3 525.3,263.5 525.8,257.6 526.4,260.1 526.9,269.8 527.4,253.0 527.9,254.5 528.4,265.5 529.0,258.4 529.5,250.9 530.0,259.4 530.5,273.0 531.1,258.6 531.6,258.8 532.1,239.0 532.6,247.2 533.2,252.0 533.7,258.6 534.2,263.7 534.7,257.2 535.3,264.5 535.8,258.8 536.3,242.9 536.8,254.0 537.4,272.1 537.9,274.8 538.4,265.1 538.9,266.8 539.5,256.2 540.0,262.8 540.5,262.9 541.0,251.5 541.6,257.0 542.1,258.1 542.6,274.2 543.1,251.8 543.7,281.2 544.2,250.6 544.7,247.1 545.2,262.6 545.8,261.1 546.3,267.9 546.8,263.2 547.3,268.8 547.9,264.6 548.4,251.8 548.9,270.8 549.4,262.5 550.0,275.2 550.5,259.5 551.0,276.4 551.5,263.2 552.1,264.6 552.6,270.2 553.1,270.2 553.6,246.5 554.2,278.6 554.7,252.8 555.2,259.4 555.7,269.1 556.2,249.9 556.8,253.0 557.3,261.3 557.8,267.4 558.3,250.0 558.9,263.5 559.4,250.6 559.9,267.0 560.4,271.7 561.0,267.1 561.5,248.0 562.0,263.1 562.5,253.9 563.1,269.3 563.6,274.7 564.1,275.4 564.6,244.6 565.2,271.9 565.7,267.5 566.2,241.5 566.7,274.7 567.3,260.0 567.8,254.2 568.3,279.3 568.8,267.4 569.4,269.5 569.9,252.4 570.4,263.1 570.9,255.5 571.5,263.5 572.0,257.3 572.5,268.0 573.0,261.6 573.6,259.4 574.1,264.6 574.6,264.6 575.1,264.5 575.7,255.6 576.2,263.0 576.7,262.6 577.2,249.4 577.8,259.4 578.3,262.8 578.8,252.7 579.3,264.5 579.9,267.8 580.4,267.7 580.9,266.7 581.4,255.9 581.9,246.8 582.5,246.5 583.0,260.2 583.5,252.0 584.0,274.7 584.6,268.8 585.1,270.9 585.6,246.3 586.1,255.1 586.7,269.9 587.2,243.1 587.7,259.5 588.2,271.5 588.8,242.0 589.3,267.4 589.8,255.1 590.3,253.8 590.9,252.5 591.4,273.3 591.9,257.7 592.4,276.0 593.0,260.4 593.5,244.7 594.0,277.5 594.5,266.2 595.1,260.3 595.6,251.2 596.1,272.1 596.6,252.5 597.2,239.6 597.7,260.2 598.2,257.3 598.7,246.8 599.3,255.6 599.8,263.4 600.3,264.6 600.8,254.7 601.4,265.8 601.9,262.6 602.4,265.3 602.9,249.0 603.5,257.3 604.0,258.0 604.5,246.7 605.0,271.3 605.6,256.4 606.1,248.1 606.6,264.4 607.1,250.2 607.7,244.8 608.2,239.0 608.7,251.7 609.2,257.2 609.7,265.6 610.3,259.9 610.8,256.6 611.3,274.4 611.8,269.2 612.4,266.8 612.9,266.8 613.4,260.8 613.9,251.5 614.5,267.6 615.0,258.1 615.5,241.3 616.0,281.3 616.6,267.8 617.1,242.8 617.6,243.3 618.1,259.0 618.7,239.0 619.2,267.1 619.7,255.2 620.2,255.1 620.8,262.7 621.3,256.1 621.8,262.6 622.3,239.0 622.9,253.9 623.4,253.4 623.9,247.5 624.4,267.1 625.0,245.1 625.5,271.9 626.0,244.6 626.5,254.8 627.1,256.3 627.6,241.3 628.1,253.7 628.6,246.3 629.2,239.0 629.7,256.1 630.2,278.0 630.7,248.3 631.3,253.6 631.8,249.1 632.3,260.4 632.8,259.4 633.4,261.5 633.9,267.1 634.4,264.6 634.9,272.2 635.5,253.7 636.0,249.0 636.5,234.8" fill="none" stroke="#ff0000" stroke-width="0.9" stroke-linejoin="round"/></g>
<polyline points="390.5,268.2 391.7,268.1 393.0,268.1 394.2,268.0 395.4,268.0 396.7,267.9 397.9,267.9 399.2,267.9 400.4,267.8 401.6,267.8 402.9,267.7 404.1,267.7 405.3,267.6 406.6,267.6 407.8,267.5 409.0,267.5 410.3,267.4 411.5,267.4 412.8,267.4 414.0,267.3 415.2,267.3 416.5,267.2 417.7,267.2 418.9,267.1 420.2,267.1 421.4,267.0 422.6,267.0 423.9,267.0 425.1,266.9 426.3,266.9 427.6,266.8 428.8,266.8 430.1,266.7 431.3,266.7 432.5,266.6 433.8,266.6 435.0,266.6 436.2,266.5 437.5,266.5 438.7,266.4 439.9,266.4 441.2,266.3 442.4,266.3 443.7,266.2 444.9,266.2 446.1,266.1 447.4,266.1 448.6,266.1 449.8,266.0 451.1,266.0 452.3,265.9 453.5,265.9 454.8,265.8 456.0,265.8 457.3,265.7 458.5,265.7 459.7,265.7 461.0,265.6 462.2,265.6 463.4,265.5 464.7,265.5 465.9,265.4 467.1,265.4 468.4,265.3 469.6,265.3 470.9,265.2 472.1,265.2 473.3,265.2 474.6,265.1 475.8,265.1 477.0,265.0 478.3,265.0 479.5,264.9 480.7,264.9 482.0,264.8 483.2,264.8 484.4,264.8 485.7,264.7 486.9,264.7 488.2,264.6 489.4,264.6 490.6,264.5 491.9,264.5 493.1,264.4 494.3,264.4 495.6,264.3 496.8,264.3 498.0,264.3 499.3,264.2 500.5,264.2 501.8,264.1 503.0,264.1 504.2,264.0 505.5,264.0 506.7,263.9 507.9,263.9 509.2,263.9 510.4,263.8 511.6,263.8 512.9,263.7 514.1,263.7 515.4,263.6 516.6,263.6 517.8,263.5 519.1,263.5 520.3,263.5 521.5,263.4 522.8,263.4 524.0,263.3 525.2,263.3 526.5,263.2 527.7,263.2 529.0,263.1 530.2,263.1 531.4,263.0 532.7,263.0 533.9,263.0 535.1,262.9 536.4,262.9 537.6,262.8 538.8,262.8 540.1,262.7 541.3,262.7 542.6,262.6 543.8,262.6 545.0,262.6 546.3,262.5 547.5,262.5 548.7,262.4 550.0,262.4 551.2,262.3 552.4,262.3 553.7,262.2 554.9,262.2 556.1,262.1 557.4,262.1 558.6,262.1 559.9,262.0 561.1,262.0 562.3,261.9 563.6,261.9 564.8,261.8 566.0,261.8 567.3,261.7 568.5,261.7 569.7,261.7 571.0,261.6 572.2,261.6 573.5,261.5 574.7,261.5 575.9,261.4 577.2,261.4 578.4,261.3 579.6,261.3 580.9,261.2 582.1,261.2 583.3,261.2 584.6,261.1 585.8,261.1 587.1,261.0 588.3,261.0 589.5,260.9 590.8,260.9 592.0,260.8 593.2,260.8 594.5,260.8 595.7,260.7 596.9,260.7 598.2,260.6 599.4,260.6 600.7,260.5 601.9,260.5 603.1,260.4 604.4,260.4 605.6,260.4 606.8,260.3 608.1,260.3 609.3,260.2 610.5,260.2 611.8,260.1 613.0,260.1 614.2,260.0 615.5,260.0 616.7,259.9 618.0,259.9 619.2,259.9 620.4,259.8 621.7,259.8 622.9,259.7 624.1,259.7 625.4,259.6 626.6,259.6 627.8,259.5 629.1,259.5 630.3,259.5 631.6,259.4 632.8,259.4 634.0,259.3 635.3,259.3 636.5,259.2" fill="none" stroke="#111" stroke-width="0.95" stroke-dasharray="6,1,1.5,1"/>
<rect x="65.60" y="13.50" width="246.50" height="60.00" fill="none" stroke="#b0b0b0" stroke-width="0.9"/>
<line x1="114.90" y1="73.50" x2="114.90" y2="71.10" stroke="#b0b0b0" stroke-width="0.9" />
<line x1="114.90" y1="13.50" x2="114.90" y2="15.90" stroke="#b0b0b0" stroke-width="0.9" />
<line x1="164.20" y1="73.50" x2="164.20" y2="71.10" stroke="#b0b0b0" stroke-width="0.9" />
<line x1="164.20" y1="13.50" x2="164.20" y2="15.90" stroke="#b0b0b0" stroke-width="0.9" />
<line x1="213.50" y1="73.50" x2="213.50" y2="71.10" stroke="#b0b0b0" stroke-width="0.9" />
<line x1="213.50" y1="13.50" x2="213.50" y2="15.90" stroke="#b0b0b0" stroke-width="0.9" />
<line x1="262.80" y1="73.50" x2="262.80" y2="71.10" stroke="#b0b0b0" stroke-width="0.9" />
<line x1="262.80" y1="13.50" x2="262.80" y2="15.90" stroke="#b0b0b0" stroke-width="0.9" />
<line x1="65.60" y1="62.80" x2="68.00" y2="62.80" stroke="#b0b0b0" stroke-width="0.9" />
<line x1="312.10" y1="62.80" x2="309.70" y2="62.80" stroke="#b0b0b0" stroke-width="0.9" />
<text class="tk" transform="translate(61.80,66.50) scale(1.0,1)" text-anchor="end">-200</text>
<line x1="65.60" y1="50.40" x2="68.00" y2="50.40" stroke="#b0b0b0" stroke-width="0.9" />
<line x1="312.10" y1="50.40" x2="309.70" y2="50.40" stroke="#b0b0b0" stroke-width="0.9" />
<text class="tk" transform="translate(61.80,54.10) scale(1.0,1)" text-anchor="end">0</text>
<line x1="65.60" y1="38.00" x2="68.00" y2="38.00" stroke="#b0b0b0" stroke-width="0.9" />
<line x1="312.10" y1="38.00" x2="309.70" y2="38.00" stroke="#b0b0b0" stroke-width="0.9" />
<text class="tk" transform="translate(61.80,41.70) scale(1.0,1)" text-anchor="end">200</text>
<line x1="65.60" y1="25.60" x2="68.00" y2="25.60" stroke="#b0b0b0" stroke-width="0.9" />
<line x1="312.10" y1="25.60" x2="309.70" y2="25.60" stroke="#b0b0b0" stroke-width="0.9" />
<text class="tk" transform="translate(61.80,29.30) scale(1.0,1)" text-anchor="end">400</text>
<text class="tk" transform="translate(65.80,87.90) scale(1.0,1)" text-anchor="middle">0</text>
<text class="tk" transform="translate(115.10,87.90) scale(1.0,1)" text-anchor="middle">2</text>
<text class="tk" transform="translate(164.40,87.90) scale(1.0,1)" text-anchor="middle">4</text>
<text class="tk" transform="translate(213.70,87.90) scale(1.0,1)" text-anchor="middle">6</text>
<text class="tk" transform="translate(263.00,87.90) scale(1.0,1)" text-anchor="middle">8</text>
<text class="tk" transform="translate(312.30,87.90) scale(1.0,1)" text-anchor="middle">10</text>
<rect x="65.60" y="123.85" width="246.50" height="59.55" fill="none" stroke="#b0b0b0" stroke-width="0.9"/>
<line x1="114.90" y1="183.40" x2="114.90" y2="181.00" stroke="#b0b0b0" stroke-width="0.9" />
<line x1="114.90" y1="123.85" x2="114.90" y2="126.25" stroke="#b0b0b0" stroke-width="0.9" />
<line x1="164.20" y1="183.40" x2="164.20" y2="181.00" stroke="#b0b0b0" stroke-width="0.9" />
<line x1="164.20" y1="123.85" x2="164.20" y2="126.25" stroke="#b0b0b0" stroke-width="0.9" />
<line x1="213.50" y1="183.40" x2="213.50" y2="181.00" stroke="#b0b0b0" stroke-width="0.9" />
<line x1="213.50" y1="123.85" x2="213.50" y2="126.25" stroke="#b0b0b0" stroke-width="0.9" />
<line x1="262.80" y1="183.40" x2="262.80" y2="181.00" stroke="#b0b0b0" stroke-width="0.9" />
<line x1="262.80" y1="123.85" x2="262.80" y2="126.25" stroke="#b0b0b0" stroke-width="0.9" />
<text class="tk" transform="translate(61.80,187.09) scale(1.0,1)" text-anchor="end">-500</text>
<line x1="65.60" y1="153.62" x2="68.00" y2="153.62" stroke="#b0b0b0" stroke-width="0.9" />
<line x1="312.10" y1="153.62" x2="309.70" y2="153.62" stroke="#b0b0b0" stroke-width="0.9" />
<text class="tk" transform="translate(61.80,157.32) scale(1.0,1)" text-anchor="end">0</text>
<text class="tk" transform="translate(61.80,127.55) scale(1.0,1)" text-anchor="end">500</text>
<text class="tk" transform="translate(65.80,198.10) scale(1.0,1)" text-anchor="middle">0</text>
<text class="tk" transform="translate(115.10,198.10) scale(1.0,1)" text-anchor="middle">2</text>
<text class="tk" transform="translate(164.40,198.10) scale(1.0,1)" text-anchor="middle">4</text>
<text class="tk" transform="translate(213.70,198.10) scale(1.0,1)" text-anchor="middle">6</text>
<text class="tk" transform="translate(263.00,198.10) scale(1.0,1)" text-anchor="middle">8</text>
<text class="tk" transform="translate(312.30,198.10) scale(1.0,1)" text-anchor="middle">10</text>
<rect x="65.60" y="233.60" width="246.50" height="59.60" fill="none" stroke="#b0b0b0" stroke-width="0.9"/>
<line x1="114.90" y1="293.20" x2="114.90" y2="290.80" stroke="#b0b0b0" stroke-width="0.9" />
<line x1="114.90" y1="233.60" x2="114.90" y2="236.00" stroke="#b0b0b0" stroke-width="0.9" />
<line x1="164.20" y1="293.20" x2="164.20" y2="290.80" stroke="#b0b0b0" stroke-width="0.9" />
<line x1="164.20" y1="233.60" x2="164.20" y2="236.00" stroke="#b0b0b0" stroke-width="0.9" />
<line x1="213.50" y1="293.20" x2="213.50" y2="290.80" stroke="#b0b0b0" stroke-width="0.9" />
<line x1="213.50" y1="233.60" x2="213.50" y2="236.00" stroke="#b0b0b0" stroke-width="0.9" />
<line x1="262.80" y1="293.20" x2="262.80" y2="290.80" stroke="#b0b0b0" stroke-width="0.9" />
<line x1="262.80" y1="233.60" x2="262.80" y2="236.00" stroke="#b0b0b0" stroke-width="0.9" />
<text class="tk" transform="translate(61.80,296.90) scale(1.0,1)" text-anchor="end">-500</text>
<line x1="65.60" y1="263.40" x2="68.00" y2="263.40" stroke="#b0b0b0" stroke-width="0.9" />
<line x1="312.10" y1="263.40" x2="309.70" y2="263.40" stroke="#b0b0b0" stroke-width="0.9" />
<text class="tk" transform="translate(61.80,267.10) scale(1.0,1)" text-anchor="end">0</text>
<text class="tk" transform="translate(61.80,237.30) scale(1.0,1)" text-anchor="end">500</text>
<text class="tk" transform="translate(65.80,308.00) scale(1.0,1)" text-anchor="middle">0</text>
<text class="tk" transform="translate(115.10,308.00) scale(1.0,1)" text-anchor="middle">2</text>
<text class="tk" transform="translate(164.40,308.00) scale(1.0,1)" text-anchor="middle">4</text>
<text class="tk" transform="translate(213.70,308.00) scale(1.0,1)" text-anchor="middle">6</text>
<text class="tk" transform="translate(263.00,308.00) scale(1.0,1)" text-anchor="middle">8</text>
<text class="tk" transform="translate(312.30,308.00) scale(1.0,1)" text-anchor="middle">10</text>
<rect x="390.50" y="13.50" width="246.00" height="60.00" fill="none" stroke="#b0b0b0" stroke-width="0.9"/>
<line x1="439.70" y1="73.50" x2="439.70" y2="71.10" stroke="#b0b0b0" stroke-width="0.9" />
<line x1="439.70" y1="13.50" x2="439.70" y2="15.90" stroke="#b0b0b0" stroke-width="0.9" />
<line x1="488.90" y1="73.50" x2="488.90" y2="71.10" stroke="#b0b0b0" stroke-width="0.9" />
<line x1="488.90" y1="13.50" x2="488.90" y2="15.90" stroke="#b0b0b0" stroke-width="0.9" />
<line x1="538.10" y1="73.50" x2="538.10" y2="71.10" stroke="#b0b0b0" stroke-width="0.9" />
<line x1="538.10" y1="13.50" x2="538.10" y2="15.90" stroke="#b0b0b0" stroke-width="0.9" />
<line x1="587.30" y1="73.50" x2="587.30" y2="71.10" stroke="#b0b0b0" stroke-width="0.9" />
<line x1="587.30" y1="13.50" x2="587.30" y2="15.90" stroke="#b0b0b0" stroke-width="0.9" />
<text class="tk" transform="translate(386.60,77.20) scale(1.0,1)" text-anchor="end">0</text>
<line x1="390.50" y1="47.50" x2="392.90" y2="47.50" stroke="#b0b0b0" stroke-width="0.9" />
<line x1="636.50" y1="47.50" x2="634.10" y2="47.50" stroke="#b0b0b0" stroke-width="0.9" />
<text class="tk" transform="translate(386.60,51.20) scale(1.0,1)" text-anchor="end">10</text>
<line x1="390.50" y1="21.50" x2="392.90" y2="21.50" stroke="#b0b0b0" stroke-width="0.9" />
<line x1="636.50" y1="21.50" x2="634.10" y2="21.50" stroke="#b0b0b0" stroke-width="0.9" />
<text class="tk" transform="translate(386.60,25.20) scale(1.0,1)" text-anchor="end">20</text>
<text class="tk" transform="translate(390.70,87.90) scale(1.0,1)" text-anchor="middle">0</text>
<text class="tk" transform="translate(439.90,87.90) scale(1.0,1)" text-anchor="middle">2</text>
<text class="tk" transform="translate(489.10,87.90) scale(1.0,1)" text-anchor="middle">4</text>
<text class="tk" transform="translate(538.30,87.90) scale(1.0,1)" text-anchor="middle">6</text>
<text class="tk" transform="translate(587.50,87.90) scale(1.0,1)" text-anchor="middle">8</text>
<text class="tk" transform="translate(636.70,87.90) scale(1.0,1)" text-anchor="middle">10</text>
<rect x="390.50" y="123.85" width="246.00" height="59.55" fill="none" stroke="#b0b0b0" stroke-width="0.9"/>
<line x1="439.70" y1="183.40" x2="439.70" y2="181.00" stroke="#b0b0b0" stroke-width="0.9" />
<line x1="439.70" y1="123.85" x2="439.70" y2="126.25" stroke="#b0b0b0" stroke-width="0.9" />
<line x1="488.90" y1="183.40" x2="488.90" y2="181.00" stroke="#b0b0b0" stroke-width="0.9" />
<line x1="488.90" y1="123.85" x2="488.90" y2="126.25" stroke="#b0b0b0" stroke-width="0.9" />
<line x1="538.10" y1="183.40" x2="538.10" y2="181.00" stroke="#b0b0b0" stroke-width="0.9" />
<line x1="538.10" y1="123.85" x2="538.10" y2="126.25" stroke="#b0b0b0" stroke-width="0.9" />
<line x1="587.30" y1="183.40" x2="587.30" y2="181.00" stroke="#b0b0b0" stroke-width="0.9" />
<line x1="587.30" y1="123.85" x2="587.30" y2="126.25" stroke="#b0b0b0" stroke-width="0.9" />
<text class="tk" transform="translate(386.60,187.10) scale(1.0,1)" text-anchor="end">0</text>
<text class="tk" transform="translate(386.60,127.55) scale(1.0,1)" text-anchor="end">50</text>
<text class="tk" transform="translate(390.70,198.10) scale(1.0,1)" text-anchor="middle">0</text>
<text class="tk" transform="translate(439.90,198.10) scale(1.0,1)" text-anchor="middle">2</text>
<text class="tk" transform="translate(489.10,198.10) scale(1.0,1)" text-anchor="middle">4</text>
<text class="tk" transform="translate(538.30,198.10) scale(1.0,1)" text-anchor="middle">6</text>
<text class="tk" transform="translate(587.50,198.10) scale(1.0,1)" text-anchor="middle">8</text>
<text class="tk" transform="translate(636.70,198.10) scale(1.0,1)" text-anchor="middle">10</text>
<rect x="390.50" y="233.60" width="246.00" height="59.60" fill="none" stroke="#b0b0b0" stroke-width="0.9"/>
<line x1="439.70" y1="293.20" x2="439.70" y2="290.80" stroke="#b0b0b0" stroke-width="0.9" />
<line x1="439.70" y1="233.60" x2="439.70" y2="236.00" stroke="#b0b0b0" stroke-width="0.9" />
<line x1="488.90" y1="293.20" x2="488.90" y2="290.80" stroke="#b0b0b0" stroke-width="0.9" />
<line x1="488.90" y1="233.60" x2="488.90" y2="236.00" stroke="#b0b0b0" stroke-width="0.9" />
<line x1="538.10" y1="293.20" x2="538.10" y2="290.80" stroke="#b0b0b0" stroke-width="0.9" />
<line x1="538.10" y1="233.60" x2="538.10" y2="236.00" stroke="#b0b0b0" stroke-width="0.9" />
<line x1="587.30" y1="293.20" x2="587.30" y2="290.80" stroke="#b0b0b0" stroke-width="0.9" />
<line x1="587.30" y1="233.60" x2="587.30" y2="236.00" stroke="#b0b0b0" stroke-width="0.9" />
<text class="tk" transform="translate(386.60,296.90) scale(1.0,1)" text-anchor="end">0</text>
<text class="tk" transform="translate(386.60,237.30) scale(1.0,1)" text-anchor="end">50</text>
<text class="tk" transform="translate(390.70,308.00) scale(1.0,1)" text-anchor="middle">0</text>
<text class="tk" transform="translate(439.90,308.00) scale(1.0,1)" text-anchor="middle">2</text>
<text class="tk" transform="translate(489.10,308.00) scale(1.0,1)" text-anchor="middle">4</text>
<text class="tk" transform="translate(538.30,308.00) scale(1.0,1)" text-anchor="middle">6</text>
<text class="tk" transform="translate(587.50,308.00) scale(1.0,1)" text-anchor="middle">8</text>
<text class="tk" transform="translate(636.70,308.00) scale(1.0,1)" text-anchor="middle">10</text>
<rect x="638.4" y="31.2" width="39.3" height="23.6" fill="#fff" stroke="#b0b0b0" stroke-width="0.9"/>
<line x1="640.20" y1="37.50" x2="655.40" y2="37.50" stroke="#ff2020" stroke-width="1.2" />
<line x1="640.20" y1="49.00" x2="655.40" y2="49.00" stroke="#222" stroke-width="1.0" stroke-dasharray="2.2,0.9"/>
<rect x="639.2" y="142.4" width="39.4" height="23.1" fill="#fff" stroke="#b0b0b0" stroke-width="0.9"/>
<line x1="641.00" y1="148.70" x2="656.20" y2="148.70" stroke="#ff2020" stroke-width="1.2" />
<line x1="641.00" y1="160.20" x2="656.20" y2="160.20" stroke="#222" stroke-width="1.0" stroke-dasharray="2.2,0.9"/>
<rect x="639.3" y="252.6" width="44.3" height="23.7" fill="#fff" stroke="#b0b0b0" stroke-width="0.9"/>
<line x1="640.80" y1="258.80" x2="655.60" y2="258.80" stroke="#ff7070" stroke-width="2.0" />
<line x1="641.10" y1="270.40" x2="656.30" y2="270.40" stroke="#222" stroke-width="1.0" stroke-dasharray="2.2,0.9"/>
<text transform="translate(2.15,39.95) scale(0.12913,0.11444) translate(-4,69)" style="font-family:'Liberation Serif',serif;font-size:100px;fill:#222;stroke:#222;stroke-width:2.6;">(a)</text>
<text transform="translate(1.95,149.85) scale(0.13689,0.11111) translate(-4,69)" style="font-family:'Liberation Serif',serif;font-size:100px;fill:#222;stroke:#222;stroke-width:2.6;">(c)</text>
<text transform="translate(2.45,259.35) scale(0.13398,0.11667) translate(-4,69)" style="font-family:'Liberation Serif',serif;font-size:100px;fill:#222;stroke:#222;stroke-width:2.6;">(e)</text>
<text transform="translate(335.13,39.13) scale(0.13556,0.12156) translate(-4,69)" style="font-family:'Liberation Serif',serif;font-size:100px;fill:#222;stroke:#222;stroke-width:1.0;">(b)</text>
<text transform="translate(335.35,148.85) scale(0.13148,0.11667) translate(-4,69)" style="font-family:'Liberation Serif',serif;font-size:100px;fill:#222;stroke:#222;stroke-width:2.6;">(d)</text>
<text transform="translate(336.03,260.93) scale(0.13011,0.11891) translate(-4,71)" style="font-family:'Liberation Serif',serif;font-size:100px;fill:#222;stroke:#222;stroke-width:1.0;">(f)</text>
<text transform="translate(23.05,64.65) rotate(-90) scale(0.17753,0.15538) translate(0,65)" style="font-family:'Liberation Serif',serif;font-style:italic;font-size:100px;fill:#4a4a4a;">IMF</text>
<text transform="translate(35.00,33.95) rotate(-90) scale(0.11207,0.09000) translate(-5,0)" style="font-family:'Liberation Serif',serif;font-size:100px;fill:#262626;">3,<tspan style="font-style:italic">u</tspan></text>
<text transform="translate(357.25,62.75) rotate(-90) scale(0.17632,0.14457) translate(-1,71)" style="font-family:'Liberation Serif',serif;font-style:italic;font-size:100px;fill:#262626;">f</text>
<text transform="translate(356.25,50.25) rotate(-90) scale(0.05217,0.17439) translate(-7,69)" style="font-family:'Liberation Serif',serif;font-size:100px;fill:#262626;">[</text>
<text transform="translate(357.25,46.95) rotate(-90) scale(0.16154,0.15538) translate(1,65)" style="font-family:'Liberation Serif',serif;font-style:italic;font-size:100px;fill:#262626;">H</text>
<text transform="translate(361.45,32.95) rotate(-90) scale(0.12564,0.12174) translate(1,46)" style="font-family:'Liberation Serif',serif;font-style:italic;font-size:100px;fill:#262626;">z</text>
<text transform="translate(356.25,26.05) rotate(-90) scale(0.05455,0.17439) translate(-4,69)" style="font-family:'Liberation Serif',serif;font-size:100px;fill:#262626;">]</text>
<text transform="translate(177.35,94.25) scale(0.17308,0.15789) translate(-4,56)" style="font-family:'Liberation Serif',serif;font-style:italic;font-size:100px;fill:#262626;">t</text>
<text transform="translate(188.35,92.35) scale(0.07391,0.17317) translate(-7,69)" style="font-family:'Liberation Serif',serif;font-size:100px;fill:#262626;">[</text>
<text transform="translate(191.65,97.25) scale(0.13714,0.12500) translate(-1,47)" style="font-family:'Liberation Serif',serif;font-style:italic;font-size:100px;fill:#262626;">s</text>
<text transform="translate(197.75,92.35) scale(0.07727,0.17317) translate(-4,69)" style="font-family:'Liberation Serif',serif;font-size:100px;fill:#262626;">]</text>
<text transform="translate(501.95,94.25) scale(0.17308,0.15789) translate(-4,56)" style="font-family:'Liberation Serif',serif;font-style:italic;font-size:100px;fill:#262626;">t</text>
<text transform="translate(512.95,92.35) scale(0.07391,0.17317) translate(-7,69)" style="font-family:'Liberation Serif',serif;font-size:100px;fill:#262626;">[</text>
<text transform="translate(516.25,97.25) scale(0.13714,0.12500) translate(-1,47)" style="font-family:'Liberation Serif',serif;font-style:italic;font-size:100px;fill:#262626;">s</text>
<text transform="translate(522.35,92.35) scale(0.07727,0.17317) translate(-4,69)" style="font-family:'Liberation Serif',serif;font-size:100px;fill:#262626;">]</text>
<text transform="translate(23.05,174.85) rotate(-90) scale(0.17753,0.15538) translate(0,65)" style="font-family:'Liberation Serif',serif;font-style:italic;font-size:100px;fill:#4a4a4a;">IMF</text>
<text transform="translate(35.00,144.15) rotate(-90) scale(0.11111,0.09000) translate(-4,0)" style="font-family:'Liberation Serif',serif;font-size:100px;fill:#262626;">2,<tspan style="font-style:italic">u</tspan></text>
<text transform="translate(357.25,172.95) rotate(-90) scale(0.17632,0.14457) translate(-1,71)" style="font-family:'Liberation Serif',serif;font-style:italic;font-size:100px;fill:#262626;">f</text>
<text transform="translate(356.25,160.45) rotate(-90) scale(0.05217,0.17439) translate(-7,69)" style="font-family:'Liberation Serif',serif;font-size:100px;fill:#262626;">[</text>
<text transform="translate(357.25,157.15) rotate(-90) scale(0.16154,0.15538) translate(1,65)" style="font-family:'Liberation Serif',serif;font-style:italic;font-size:100px;fill:#262626;">H</text>
<text transform="translate(361.45,143.15) rotate(-90) scale(0.12564,0.12174) translate(1,46)" style="font-family:'Liberation Serif',serif;font-style:italic;font-size:100px;fill:#262626;">z</text>
<text transform="translate(356.25,136.25) rotate(-90) scale(0.05455,0.17439) translate(-4,69)" style="font-family:'Liberation Serif',serif;font-size:100px;fill:#262626;">]</text>
<text transform="translate(177.35,204.45) scale(0.17308,0.15789) translate(-4,56)" style="font-family:'Liberation Serif',serif;font-style:italic;font-size:100px;fill:#262626;">t</text>
<text transform="translate(188.35,202.55) scale(0.07391,0.17317) translate(-7,69)" style="font-family:'Liberation Serif',serif;font-size:100px;fill:#262626;">[</text>
<text transform="translate(191.65,207.45) scale(0.13714,0.12500) translate(-1,47)" style="font-family:'Liberation Serif',serif;font-style:italic;font-size:100px;fill:#262626;">s</text>
<text transform="translate(197.75,202.55) scale(0.07727,0.17317) translate(-4,69)" style="font-family:'Liberation Serif',serif;font-size:100px;fill:#262626;">]</text>
<text transform="translate(501.95,204.45) scale(0.17308,0.15789) translate(-4,56)" style="font-family:'Liberation Serif',serif;font-style:italic;font-size:100px;fill:#262626;">t</text>
<text transform="translate(512.95,202.55) scale(0.07391,0.17317) translate(-7,69)" style="font-family:'Liberation Serif',serif;font-size:100px;fill:#262626;">[</text>
<text transform="translate(516.25,207.45) scale(0.13714,0.12500) translate(-1,47)" style="font-family:'Liberation Serif',serif;font-style:italic;font-size:100px;fill:#262626;">s</text>
<text transform="translate(522.35,202.55) scale(0.07727,0.17317) translate(-4,69)" style="font-family:'Liberation Serif',serif;font-size:100px;fill:#262626;">]</text>
<text transform="translate(23.05,284.75) rotate(-90) scale(0.17753,0.15538) translate(0,65)" style="font-family:'Liberation Serif',serif;font-style:italic;font-size:100px;fill:#4a4a4a;">IMF</text>
<text transform="translate(35.00,254.05) rotate(-90) scale(0.11607,0.09000) translate(-9,0)" style="font-family:'Liberation Serif',serif;font-size:100px;fill:#262626;">1,<tspan style="font-style:italic">u</tspan></text>
<text transform="translate(357.25,282.85) rotate(-90) scale(0.17632,0.14457) translate(-1,71)" style="font-family:'Liberation Serif',serif;font-style:italic;font-size:100px;fill:#262626;">f</text>
<text transform="translate(356.25,270.35) rotate(-90) scale(0.05217,0.17439) translate(-7,69)" style="font-family:'Liberation Serif',serif;font-size:100px;fill:#262626;">[</text>
<text transform="translate(357.25,267.05) rotate(-90) scale(0.16154,0.15538) translate(1,65)" style="font-family:'Liberation Serif',serif;font-style:italic;font-size:100px;fill:#262626;">H</text>
<text transform="translate(361.45,253.05) rotate(-90) scale(0.12564,0.12174) translate(1,46)" style="font-family:'Liberation Serif',serif;font-style:italic;font-size:100px;fill:#262626;">z</text>
<text transform="translate(356.25,246.15) rotate(-90) scale(0.05455,0.17439) translate(-4,69)" style="font-family:'Liberation Serif',serif;font-size:100px;fill:#262626;">]</text>
<text transform="translate(177.35,314.35) scale(0.17308,0.15789) translate(-4,56)" style="font-family:'Liberation Serif',serif;font-style:italic;font-size:100px;fill:#262626;">t</text>
<text transform="translate(188.35,312.45) scale(0.07391,0.17317) translate(-7,69)" style="font-family:'Liberation Serif',serif;font-size:100px;fill:#262626;">[</text>
<text transform="translate(191.65,317.35) scale(0.13714,0.12500) translate(-1,47)" style="font-family:'Liberation Serif',serif;font-style:italic;font-size:100px;fill:#262626;">s</text>
<text transform="translate(197.75,312.45) scale(0.07727,0.17317) translate(-4,69)" style="font-family:'Liberation Serif',serif;font-size:100px;fill:#262626;">]</text>
<text transform="translate(501.95,314.35) scale(0.17308,0.15789) translate(-4,56)" style="font-family:'Liberation Serif',serif;font-style:italic;font-size:100px;fill:#262626;">t</text>
<text transform="translate(512.95,312.45) scale(0.07391,0.17317) translate(-7,69)" style="font-family:'Liberation Serif',serif;font-size:100px;fill:#262626;">[</text>
<text transform="translate(516.25,317.35) scale(0.13714,0.12500) translate(-1,47)" style="font-family:'Liberation Serif',serif;font-style:italic;font-size:100px;fill:#262626;">s</text>
<text transform="translate(522.35,312.45) scale(0.07727,0.17317) translate(-4,69)" style="font-family:'Liberation Serif',serif;font-size:100px;fill:#262626;">]</text>
<text transform="translate(474.25,1.35) scale(0.11522,0.10000) translate(-3,65)" style="font-family:'Liberation Serif',serif;font-weight:bold;font-size:100px;fill:#1e1e1e;">IF</text>
<text transform="translate(485.75,9.40) scale(0.07903,0.06900) translate(-4,0)" style="font-family:'Liberation Serif',serif;font-weight:bold;font-size:100px;fill:#333;">3,u</text>
<text transform="translate(500.25,3.95) scale(0.11163,0.08125) translate(0,47)" style="font-family:'Liberation Serif',serif;font-weight:bold;font-size:100px;fill:#1e1e1e;">vs</text>
<text transform="translate(514.95,1.35) scale(0.11631,0.09848) translate(-4,65)" style="font-family:'Liberation Serif',serif;font-weight:bold;font-size:100px;fill:#1e1e1e;">2IF</text>
<text transform="translate(532.35,9.40) scale(0.08565,0.06900) translate(-3,0)" style="font-family:'Liberation Serif',serif;font-weight:bold;font-size:100px;fill:#333;">ext,th</text>
<text transform="translate(474.25,111.55) scale(0.11522,0.10000) translate(-3,65)" style="font-family:'Liberation Serif',serif;font-weight:bold;font-size:100px;fill:#1e1e1e;">IF</text>
<text transform="translate(485.75,119.60) scale(0.07903,0.06900) translate(-4,0)" style="font-family:'Liberation Serif',serif;font-weight:bold;font-size:100px;fill:#333;">2,u</text>
<text transform="translate(500.25,114.15) scale(0.11163,0.08125) translate(0,47)" style="font-family:'Liberation Serif',serif;font-weight:bold;font-size:100px;fill:#1e1e1e;">vs</text>
<text transform="translate(514.95,111.55) scale(0.11389,0.10000) translate(-1,65)" style="font-family:'Liberation Serif',serif;font-weight:bold;font-size:100px;fill:#1e1e1e;">4IF</text>
<text transform="translate(532.35,119.60) scale(0.08565,0.06900) translate(-3,0)" style="font-family:'Liberation Serif',serif;font-weight:bold;font-size:100px;fill:#333;">ext,th</text>
<text transform="translate(471.35,221.25) scale(0.11522,0.10000) translate(-3,65)" style="font-family:'Liberation Serif',serif;font-weight:bold;font-size:100px;fill:#1e1e1e;">IF</text>
<text transform="translate(483.55,229.30) scale(0.07583,0.06900) translate(-8,0)" style="font-family:'Liberation Serif',serif;font-weight:bold;font-size:100px;fill:#333;">1,u</text>
<text transform="translate(497.95,223.55) scale(0.10930,0.08750) translate(0,47)" style="font-family:'Liberation Serif',serif;font-weight:bold;font-size:100px;fill:#1e1e1e;">vs</text>
<text transform="translate(512.35,221.25) scale(0.11711,0.09559) translate(-8,66)" style="font-family:'Liberation Serif',serif;font-weight:bold;font-size:100px;fill:#1e1e1e;">10IF</text>
<text transform="translate(535.35,229.30) scale(0.08650,0.06900) translate(-3,0)" style="font-family:'Liberation Serif',serif;font-weight:bold;font-size:100px;fill:#333;">ext,th</text>
<text transform="translate(657.20,39.60) scale(0.09765,0.08800) translate(-4,0)" style="font-family:'Liberation Serif',serif;font-weight:bold;font-size:100px;fill:#111;">3, u</text>
<text transform="translate(657.25,50.70) scale(0.10347,0.08800) translate(-4,0)" style="font-family:'Liberation Serif',serif;font-weight:bold;font-size:100px;fill:#111;">2ext</text>
<text transform="translate(657.65,150.80) scale(0.09530,0.08800) translate(-4,0)" style="font-family:'Liberation Serif',serif;font-weight:bold;font-size:100px;fill:#111;">2, u</text>
<text transform="translate(657.65,161.60) scale(0.10227,0.08800) translate(-1,0)" style="font-family:'Liberation Serif',serif;font-weight:bold;font-size:100px;fill:#111;">4ext</text>
<text transform="translate(657.95,261.40) scale(0.09517,0.08800) translate(-8,0)" style="font-family:'Liberation Serif',serif;font-weight:bold;font-size:100px;fill:#111;">1, u</text>
<text transform="translate(657.95,271.90) scale(0.10731,0.08800) translate(-8,0)" style="font-family:'Liberation Serif',serif;font-weight:bold;font-size:100px;fill:#111;">10ext</text>
</svg>
</body></html>
